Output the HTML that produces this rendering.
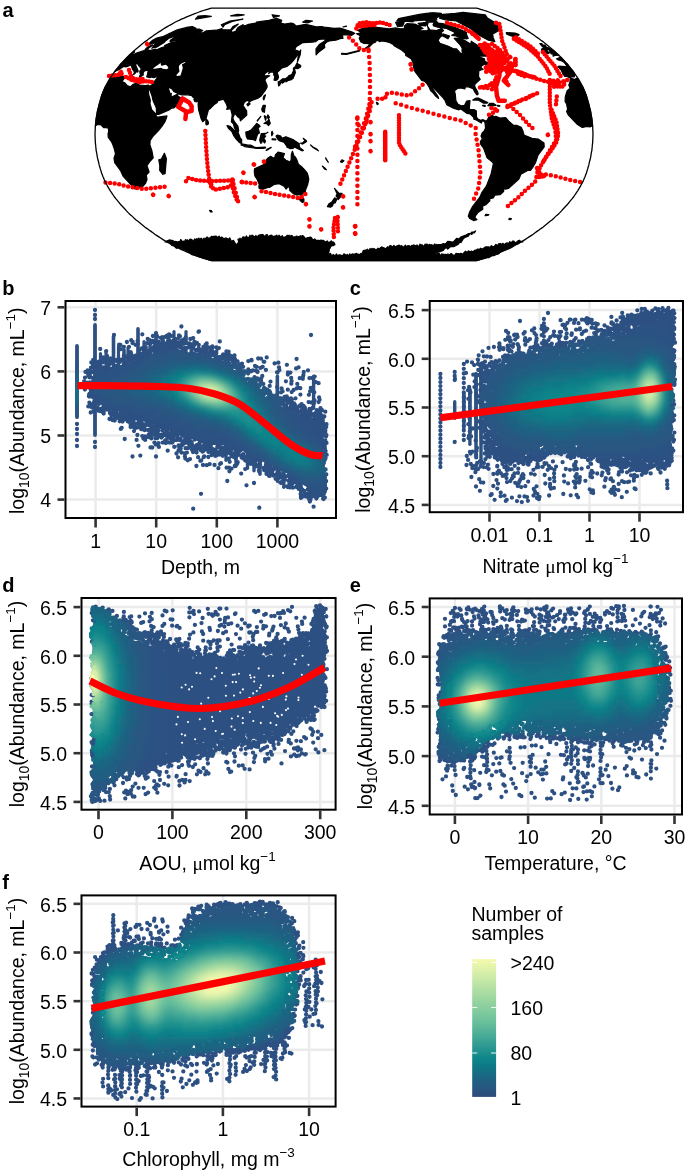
<!DOCTYPE html><html><head><meta charset="utf-8"><style>html,body{margin:0;padding:0;background:#fff;}svg{display:block;will-change:transform}</style></head><body><svg width="685" height="1176" viewBox="0 0 685 1176" font-family="Liberation Sans, sans-serif"><rect width="685" height="1176" fill="#fff"/><text x="2.5" y="17" font-size="20" font-weight="bold">a</text><text x="2.3" y="295.3" font-size="20" font-weight="bold">b</text><text x="349.7" y="295.3" font-size="20" font-weight="bold">c</text><text x="2.3" y="592" font-size="20" font-weight="bold">d</text><text x="349.7" y="592.3" font-size="20" font-weight="bold">e</text><text x="2.3" y="888.5" font-size="20" font-weight="bold">f</text><g id="map"><path d="M115.0,76.8 124.7,76.3 125.2,77.1 122.0,81.5 124.8,82.9 127.1,85.5 130.4,86.9 133.2,84.3 137.0,83.0 139.5,85.1 145.5,85.5 148.5,85.1 148.8,85.4 148.1,87.6 148.8,95.2 150.3,99.9 150.0,103.9 151.8,110.0 156.2,114.5 156.1,116.4 157.6,117.2 167.0,115.9 166.4,118.1 164.8,121.9 161.7,126.6 157.8,131.3 153.2,136.0 150.1,140.7 149.9,145.0 151.9,150.8 153.2,157.9 149.6,161.8 147.0,165.7 149.1,172.0 146.3,175.0 147.0,179.5 145.3,183.7 141.8,187.5 137.4,188.0 135.2,188.9 132.9,188.1 130.8,184.5 123.0,176.1 120.4,170.3 114.7,162.6 114.0,158.2 115.5,153.8 114.1,148.2 112.5,143.8 111.6,141.9 108.3,137.5 108.0,133.8 108.7,131.3 108.4,128.1 105.0,127.5 103.6,127.7 100.3,124.4 97.2,124.7 95.4,125.6 96.3,118.0 97.6,110.3 101.9,94.9 105.1,87.3 110.3,78.0ZM574.7,79.3 577.7,78.0 582.9,87.3 586.1,94.9 590.4,110.3 591.9,119.5 592.6,125.6 589.9,126.9 587.1,126.3 582.3,127.5 577.5,124.5 568.2,114.8 566.6,111.4 567.6,109.3 566.6,103.9 565.1,101.5 565.3,96.8 567.2,90.7 570.1,88.2 568.8,85.1 570.0,81.8 570.2,78.3ZM166.4,158.7 165.1,173.6 162.8,174.3 159.7,170.4 159.8,165.7 158.8,159.8 161.4,159.0 164.4,153.2ZM127.7,56.9 130.1,56.1 132.2,54.9 134.1,54.4 137.2,52.8 144.7,50.4 146.3,48.2 149.4,46.0 152.9,45.0 147.4,49.1 148.7,50.3 150.7,50.4 155.4,49.2 156.7,49.8 161.9,47.5 167.1,46.0 164.6,45.6 171.4,42.5 175.2,42.5 178.4,41.8 177.4,40.9 170.0,41.5 170.4,40.2 175.4,36.7 180.6,34.6 179.9,33.5 175.1,36.0 169.2,38.1 165.4,40.9 164.1,42.6 156.5,47.2 154.8,47.3 151.8,48.3 156.8,41.8 153.4,43.5 149.4,44.5 149.4,43.2 152.6,40.2 156.8,38.1 162.6,36.7 177.2,29.9 187.9,27.2 192.7,26.5 193.7,27.4 195.7,28.0 196.2,29.2 199.7,29.2 202.7,30.6 200.4,32.0 197.4,32.8 199.5,33.2 203.4,32.6 206.4,30.8 216.3,30.2 222.0,28.5 222.1,29.5 230.6,29.9 232.9,26.6 238.3,24.1 231.1,30.6 232.3,32.6 240.4,29.2 236.3,29.9 238.3,27.2 242.9,24.7 244.5,26.0 248.6,24.3 255.8,23.1 256.3,22.2 268.8,20.4 276.4,18.4 281.7,20.4 280.6,23.1 284.7,24.1 291.0,23.1 293.5,23.7 296.2,26.0 305.6,24.3 316.4,26.9 321.4,26.6 324.2,27.2 334.0,28.3 340.0,28.1 351.7,31.9 354.7,33.2 351.4,35.4 343.9,34.6 342.4,35.3 343.0,38.4 340.8,38.4 335.8,40.2 329.2,40.9 326.8,41.9 324.3,44.5 324.8,47.5 318.8,51.9 316.1,54.9 316.0,48.9 319.3,44.5 324.8,40.9 325.6,38.8 318.4,39.5 315.8,41.6 311.8,42.2 302.9,42.6 296.1,46.7 294.7,49.7 298.9,51.2 298.1,53.4 296.5,56.4 293.7,60.2 290.9,63.3 287.1,66.4 282.0,67.9 276.9,72.9 278.0,74.9 278.5,77.2 277.7,79.4 275.8,80.4 274.0,80.1 274.9,76.5 273.8,75.2 273.8,73.3 273.0,71.8 270.4,72.1 268.6,73.7 269.1,72.6 269.1,70.5 264.2,74.1 265.2,76.2 267.3,75.7 269.8,75.8 267.2,77.2 265.4,78.8 265.0,80.4 267.1,85.4 267.0,87.4 265.2,90.5 261.2,95.9 258.2,98.1 251.2,100.7 248.9,102.6 248.8,100.6 246.4,100.7 244.4,102.3 242.9,105.4 246.6,110.9 246.8,115.1 240.4,120.9 239.9,118.1 238.1,117.2 234.9,113.3 232.8,118.0 234.0,121.1 237.9,126.1 238.7,130.5 238.2,132.4 235.9,130.5 234.3,127.4 233.6,124.2 231.4,121.9 232.2,114.8 230.6,108.6 226.8,109.3 227.4,107.0 226.4,103.9 223.6,99.2 218.0,100.7 217.2,102.6 214.6,104.2 210.6,108.2 208.5,109.7 206.1,118.3 205.1,119.8 202.7,121.7 201.1,118.7 198.7,110.1 198.1,104.6 198.7,99.5 196.8,101.8 194.8,101.5 193.9,99.2 195.3,98.7 193.1,97.3 191.8,95.6 188.0,94.8 181.9,94.8 179.2,94.2 178.5,91.8 176.5,92.7 174.1,91.8 172.0,89.0 169.6,87.4 168.4,88.5 170.3,94.5 171.3,93.5 171.0,96.0 172.8,96.5 176.6,94.5 178.2,93.2 177.7,96.0 180.2,97.4 181.4,99.2 177.7,104.6 174.0,107.8 171.7,108.1 169.1,110.0 158.7,114.4 156.6,114.5 156.3,107.8 153.1,100.7 151.8,95.2 150.1,90.5 151.0,88.2 148.4,90.5 148.3,87.4 150.2,85.7 151.7,85.1 157.8,77.1 155.9,76.8 154.0,77.7 150.9,76.8 150.1,77.7 146.7,76.8 147.6,74.3 147.9,71.8 148.6,70.4 146.7,70.4 144.4,70.9 143.1,73.0 143.3,74.9 141.8,75.7 139.9,77.4 139.4,76.5 140.6,74.4 140.0,73.3 139.8,71.0 141.4,69.0 137.8,64.3 138.6,63.1 136.6,63.4 135.5,64.8 138.2,70.9 137.8,72.1 137.0,71.0 134.3,74.1 132.5,75.1 134.1,73.5 134.4,71.8 132.3,68.8 131.2,65.0 126.0,67.0 125.1,66.5 123.1,66.7 119.1,69.6 116.7,70.5 114.3,72.1 120.4,64.5ZM570.4,78.0 566.9,76.5 565.0,76.5 562.8,73.8 561.2,70.1 557.8,66.7 559.1,66.1 564.4,66.5 567.2,66.4 564.0,62.2 561.4,60.7 558.0,59.8 556.5,58.8 558.2,58.2 560.3,58.5 559.1,57.0 560.7,57.5 560.8,57.1 567.6,64.5 573.7,72.1 574.6,74.4 574.3,76.8 571.3,76.9ZM133.9,51.2 134.6,52.1 133.1,53.4 131.3,54.2 131.4,54.7 129.2,55.2ZM553.1,54.6 553.9,54.0 551.4,54.0 549.5,51.6 551.2,51.5 548.7,49.7 546.5,49.2 542.4,46.7 539.8,43.7 542.0,43.7 542.7,45.1 545.0,45.0 546.7,47.5 548.2,47.7 554.1,50.9 558.8,55.2 554.9,55.5 553.1,56.2ZM546.2,49.5 549.1,53.1 546.1,54.0 544.2,53.1 541.4,50.0 542.1,48.6 543.0,48.5ZM511.0,36.0 506.5,33.9 506.3,32.6 515.2,33.0 519.0,34.6 518.6,35.6 516.5,36.8ZM208.0,121.1 208.5,123.8 206.6,125.0 205.9,124.2 205.9,121.1 206.4,119.1ZM279.7,81.3 282.8,78.8 285.7,78.6 287.7,77.2 288.9,75.7 290.6,75.2 292.0,74.1 293.7,70.2 294.7,69.5 295.4,72.6 293.0,78.5 291.4,79.6 287.7,80.7 286.0,81.9 285.5,80.2ZM280.7,82.7 279.8,85.1 278.6,85.9 278.2,81.9 279.7,81.3ZM284.6,81.0 284.1,81.9 282.2,83.2 281.6,82.4 282.6,80.7ZM293.5,67.9 295.2,66.8 296.9,63.3 300.7,65.6 300.5,67.1 297.7,68.7 294.0,68.2 293.4,69.5ZM297.2,62.5 298.7,53.4 300.7,50.0 300.2,54.9ZM263.9,99.9 263.1,98.4 264.0,96.0 265.5,94.8ZM250.2,103.9 247.9,105.9 246.9,104.3 248.9,102.9ZM265.4,105.4 264.7,109.3 264.5,112.3 262.6,111.7 261.7,109.3 263.1,105.4ZM270.3,123.4 268.5,125.6 266.7,123.6 264.0,123.4 267.9,120.8 268.9,119.1ZM269.4,117.2 268.3,118.7 267.4,117.2 267.8,114.8ZM265.9,116.4 266.2,118.4 265.5,120.3 264.3,115.9ZM257.4,121.1 257.2,120.6 260.8,116.4 258.6,119.5ZM259.1,125.0 260.1,126.6 258.1,127.8 259.5,132.8 257.5,134.4 255.4,140.7 253.5,139.6 247.5,138.9 246.2,136.0 245.8,132.1 248.6,131.3 251.4,129.7 256.8,123.4ZM230.0,126.3 236.1,132.1 238.6,133.6 240.0,137.5 241.7,139.9 241.6,143.6 239.0,142.2 236.2,139.1 233.9,136.0 231.7,131.3 228.2,128.1 227.0,125.6ZM241.8,143.8 248.0,145.2 251.0,145.2 253.5,146.5 253.7,148.0 244.7,146.6 242.6,145.4 240.9,145.0ZM256.5,147.6 265.4,147.2 265.7,147.9 262.7,148.3 256.5,148.5 254.7,148.2 254.7,147.2ZM271.2,147.4 267.3,150.1 266.2,150.5 267.5,149.0ZM267.9,132.2 263.2,135.3 265.7,136.0 263.8,138.3 265.5,141.1 264.7,143.0 263.2,141.4 261.9,139.1 261.7,143.0 260.5,143.2 259.7,139.9 261.3,133.5 263.1,133.6 266.6,133.0ZM273.0,133.6 271.8,135.7 271.5,132.8 272.1,131.3ZM276.0,139.1 275.6,139.9 272.1,139.7 272.1,138.8ZM277.6,135.0 280.7,136.0 281.8,138.3 285.9,136.7 293.6,139.9 299.3,143.8 299.2,146.1 299.9,147.7 303.4,150.4 302.0,150.8 294.4,146.9 293.0,148.5 290.3,148.7 286.8,146.9 286.8,146.1 283.9,142.2 279.1,140.7 277.7,139.1 277.4,138.0 276.2,136.7 276.2,135.7ZM305.6,142.2 302.6,144.1 300.4,143.0 302.6,142.9 304.6,141.0ZM306.4,140.7 306.6,141.6 303.9,139.4 303.2,138.3ZM313.0,146.9 317.1,149.3 318.5,150.8 313.4,147.7 310.6,145.0ZM294.1,156.3 295.4,157.1 296.7,159.5 298.4,164.2 302.2,167.3 304.4,169.6 307.0,172.8 307.9,175.1 308.8,179.2 307.7,184.5 305.5,190.0 305.2,193.1 302.8,193.6 301.0,195.6 299.0,194.4 297.2,195.1 293.6,193.9 289.6,190.2 289.9,189.2 288.6,186.1 286.1,189.1 284.0,186.1 279.3,183.7 274.1,184.5 269.4,187.5 267.8,187.5 263.1,189.2 259.2,188.3 258.8,186.9 259.3,184.4 257.3,179.8 254.9,175.9 254.3,172.0 254.5,168.9 264.4,164.2 266.1,160.2 268.0,157.9 270.7,156.3 273.1,157.9 274.8,157.6 275.4,154.8 278.0,152.1 284.5,153.5 283.0,157.6 285.9,160.2 290.3,162.0 291.2,159.5 291.3,154.8 292.4,151.2ZM303.8,198.6 303.9,201.7 302.5,202.6 300.4,200.9 299.2,198.3ZM334.5,188.3 338.8,193.1 342.1,193.3 341.3,196.2 338.1,199.5 337.6,197.8 336.1,195.9 337.2,193.9ZM336.8,199.0 335.3,202.9 333.4,203.2 332.4,206.1 330.5,207.2 327.4,206.6 328.8,204.0 332.1,201.7 334.7,197.8ZM361.1,32.8 361.9,32.0 360.5,31.9 357.4,30.2 360.6,29.2 363.8,27.2 366.8,26.2 389.1,28.9 395.7,27.9 400.1,28.8 407.0,28.5 411.7,29.9 417.4,30.8 427.4,30.6 428.5,29.2 427.4,26.0 429.9,29.9 436.5,30.6 441.5,28.5 443.6,30.6 441.2,32.6 441.7,36.0 440.0,37.4 438.1,40.2 439.8,43.4 447.8,46.0 452.9,48.5 456.6,48.9 460.0,52.7 463.3,54.2 462.0,51.2 462.2,48.2 459.9,44.5 454.2,38.4 457.7,38.1 461.0,38.8 465.5,40.9 468.9,43.1 471.3,43.4 471.2,41.2 482.0,48.2 486.1,49.7 490.3,52.7 490.0,54.3 486.7,56.1 480.1,56.1 478.6,58.7 481.0,57.6 484.4,58.7 484.8,61.0 486.9,62.5 490.3,61.0 491.2,63.6 488.8,64.7 486.9,66.4 485.5,64.8 485.2,63.7 481.2,66.2 481.2,67.9 483.0,69.3 480.8,69.9 478.8,71.0 478.5,76.6 480.2,79.3 474.8,84.3 474.8,86.8 477.3,91.3 478.2,94.0 477.0,94.9 474.8,92.1 473.1,88.8 468.0,86.8 465.3,86.8 464.9,89.0 461.0,88.0 457.4,88.5 454.5,90.9 455.3,94.5 455.9,100.7 458.0,104.3 461.2,105.9 464.5,105.4 466.7,101.0 470.0,100.7 469.2,109.7 473.9,109.5 476.4,110.9 476.5,117.2 477.6,118.7 480.4,120.3 483.1,119.7 485.4,120.8 485.0,122.8 484.2,121.4 482.5,120.5 481.3,123.1 476.3,120.0 473.9,119.1 473.6,117.2 470.3,114.0 466.8,113.3 460.9,109.0 458.2,109.8 453.4,108.1 446.7,104.6 445.2,100.7 443.4,98.1 433.2,87.4 430.2,85.1 437.9,96.3 438.6,98.5 435.6,96.0 433.1,92.9 430.8,90.9 429.3,87.4 426.8,83.5 424.5,81.2 421.7,80.4 414.7,71.2 413.6,67.1 412.9,62.2 411.1,58.8 405.8,55.6 405.5,53.4 401.6,50.0 394.5,46.0 392.8,44.2 388.9,42.3 386.5,41.6 381.9,40.9 379.4,41.6 376.9,39.9 375.4,42.3 373.0,43.1 368.6,47.5 363.1,49.2 365.3,48.2 368.4,46.0 369.7,43.7 364.1,43.5 360.6,41.6 359.1,38.1 360.5,36.7 359.3,35.3 356.5,33.8ZM442.6,23.7 449.1,25.3 454.6,27.2 466.6,32.4 466.3,33.9 468.2,38.4 466.9,38.8 462.0,38.1 456.0,36.0 451.7,35.3 454.8,33.9 454.0,31.9 446.5,28.5 437.8,27.2 433.7,26.0 433.0,24.7 433.8,23.4 438.2,23.1ZM404.3,27.2 404.5,26.0 406.9,23.7 414.8,24.1 419.1,26.0 423.0,28.5 418.8,29.9 405.8,29.2ZM395.6,22.3 399.5,22.4 404.2,22.6 402.6,26.1 397.4,26.3ZM425.2,19.2 420.9,16.9 420.1,14.8 430.0,13.0 438.9,13.4 438.5,15.8 436.4,18.1 435.7,20.4ZM426.2,21.8 425.9,19.8 433.2,19.8 437.8,22.2ZM413.1,21.8 407.3,21.5 401.8,20.4 407.2,19.2 413.3,21.0ZM418.3,16.9 417.6,14.8 422.4,15.3 426.6,18.1ZM425.1,24.7 423.5,22.6 428.2,22.6 427.3,25.3ZM420.1,25.3 418.1,23.4 422.3,22.8 425.4,26.0ZM442.7,36.0 442.8,33.9 449.6,36.0 448.0,38.8ZM488.4,40.2 474.6,32.6 471.7,29.2 456.3,21.0 445.4,19.8 439.5,18.1 441.1,15.8 443.0,14.4 455.4,13.4 463.2,12.4 485.3,14.8 487.4,18.1 493.2,21.5 497.1,25.3 500.6,27.9 499.7,29.9 494.2,33.2 492.7,33.8 493.1,37.4 494.8,41.6ZM493.2,117.2 495.9,116.4 499.8,118.0 505.7,117.6 508.7,121.1 513.1,125.0 516.6,125.3 521.3,127.4 523.0,131.3 523.8,134.4 524.5,135.2 532.0,138.3 538.2,139.1 544.0,143.0 544.2,146.9 538.2,154.8 535.5,162.6 532.8,167.3 530.4,170.4 527.7,170.4 520.9,174.3 518.9,179.0 508.6,188.4 505.5,189.1 503.0,188.4 503.7,190.0 503.6,191.6 500.0,194.7 494.9,195.1 493.4,197.8 489.8,198.6 489.8,200.9 485.8,204.8 482.6,206.3 482.8,209.3 477.9,212.4 475.5,215.8 474.9,217.6 477.0,219.6 473.6,220.6 469.7,218.4 468.3,216.1 469.5,212.4 472.7,206.3 479.7,197.4 482.0,192.3 486.4,186.1 491.1,174.0 492.9,166.0 493.4,163.4 492.1,161.8 487.1,157.9 483.7,148.5 480.5,143.8 480.4,141.4 482.4,138.9 481.0,136.0 482.3,132.8 483.9,131.6 485.6,128.1 485.0,122.7 487.5,119.5 488.7,117.2 492.7,115.0ZM478.4,98.1 485.0,101.2 487.8,102.6 486.7,103.2 483.3,103.1 478.0,99.9 472.8,100.1 475.8,98.2ZM493.5,103.4 496.1,105.3 492.5,105.9 487.9,105.7 489.7,103.4ZM485.2,105.4 485.1,106.4 483.0,105.9 482.5,105.4ZM499.8,105.6 499.7,106.2 497.7,106.2 497.6,105.4ZM496.4,57.2 499.3,60.2 499.5,61.4 495.2,60.1 491.2,60.1 490.8,55.6 491.7,54.0ZM198.3,16.0 205.0,15.7 211.4,16.3 195.5,19.2ZM221.3,24.7 229.9,21.0 242.9,19.2 232.2,21.5 224.6,24.7 223.0,27.2ZM272.1,14.8 275.8,15.3 279.5,15.8 273.5,17.5ZM305.5,20.4 309.0,20.7 312.6,21.0 308.1,22.8 302.7,22.2ZM346.0,26.0 346.4,26.3 343.0,26.9 344.5,26.6ZM398.6,18.6 419.5,14.4 426.6,13.4 433.9,12.9 441.4,13.4 442.1,14.8 436.4,18.1 436.8,19.8 426.1,20.0 407.3,21.5 401.7,21.5 396.7,21.0ZM211.3,210.7 212.2,211.8 210.5,211.9 209.6,210.4ZM325.0,168.1 326.4,169.8 324.4,168.9 322.3,166.0ZM325.6,157.9 328.3,162.3 326.2,159.5ZM343.9,160.9 342.1,162.4 340.3,161.8 341.9,159.9ZM488.9,214.5 487.8,215.5 485.1,215.7 485.7,214.4ZM377.7,103.1 378.3,103.9 377.2,104.6 376.4,102.4ZM359.8,51.0 346.4,54.4 341.6,54.2 341.6,53.4 346.4,53.7 359.7,50.4ZM237.4,14.4 244.2,14.8 237.9,16.0 230.6,15.8ZM511.4,218.7 510.7,219.7 508.8,219.3 509.3,218.4ZM175.0,241.3 177.9,242.0 178.8,241.5 179.8,241.9 180.7,239.5 182.7,241.9 183.6,241.1 184.6,241.7 185.5,239.6 186.4,240.5 187.3,239.8 188.2,240.5 189.1,240.5 190.0,239.0 191.9,239.6 192.8,241.1 193.7,240.7 194.6,239.0 195.4,240.6 196.3,238.7 197.2,239.9 198.0,238.5 198.9,238.1 199.8,240.2 200.7,238.4 201.6,238.3 202.4,240.2 203.2,239.7 204.0,238.0 204.8,239.5 205.6,238.2 206.3,238.4 207.1,236.9 207.9,238.7 208.7,237.8 209.5,238.3 210.3,237.9 211.4,236.4 212.5,236.7 215.8,236.1 218.0,237.6 219.1,236.1 220.2,238.0 221.3,237.2 222.5,237.3 223.7,238.8 226.1,237.9 228.5,239.3 229.7,237.8 231.5,241.5 233.4,240.3 235.3,243.5 237.1,245.0 237.9,242.8 238.7,244.8 239.6,243.7 239.0,243.0 238.0,239.1 238.6,239.0 239.2,240.5 239.9,238.1 240.5,239.1 241.1,239.1 241.8,238.7 242.7,237.0 243.6,236.9 245.4,237.8 246.3,235.9 247.2,237.4 249.1,237.4 250.0,235.2 251.0,237.4 251.9,235.1 254.9,237.0 255.9,235.5 256.9,236.9 258.9,235.2 261.9,234.5 263.0,234.7 265.1,237.0 266.1,234.8 267.2,234.5 268.2,237.0 269.3,235.9 271.4,235.1 273.6,236.8 274.6,236.0 275.7,235.9 276.8,235.1 277.9,237.4 279.0,235.2 281.1,237.4 282.2,235.7 283.2,237.2 284.2,237.6 285.1,236.7 286.1,237.1 287.1,235.2 288.1,236.0 289.1,235.2 290.1,236.9 291.1,235.4 292.1,235.7 293.2,237.2 294.3,236.9 295.3,237.3 296.4,236.0 298.5,236.8 300.6,235.8 301.7,236.2 302.7,235.6 303.8,236.4 305.0,238.3 306.1,238.4 307.2,237.8 310.4,237.1 311.5,237.8 312.6,239.4 313.7,239.9 314.7,238.8 315.8,240.1 318.9,240.4 320.0,240.8 321.0,240.0 322.1,241.1 323.1,240.2 325.1,241.8 326.2,241.8 327.2,240.9 328.2,242.8 329.2,242.1 330.2,242.1 331.2,240.8 332.2,242.4 333.2,241.8 334.5,243.2 334.9,244.9 333.9,245.0 333.0,245.9 332.2,245.2 330.4,247.2 329.9,248.5 329.5,248.2 329.0,251.8 327.8,254.7 328.7,253.8 329.6,254.0 330.5,253.3 331.4,255.3 332.3,255.6 333.1,254.5 334.0,255.1 335.6,255.3 336.5,253.9 337.3,255.5 338.2,255.0 339.0,255.3 339.8,254.7 341.5,255.6 342.3,255.3 343.2,255.5 344.0,253.7 346.5,255.4 347.3,254.3 348.2,255.5 349.0,255.4 349.8,253.9 350.6,255.0 352.3,253.9 354.0,254.4 356.6,253.3 357.4,254.3 358.3,254.0 359.2,254.5 360.0,254.3 360.9,253.3 362.0,254.1 363.2,250.6 365.4,250.0 366.3,250.2 367.3,249.2 368.2,250.9 370.1,248.5 371.1,249.9 372.0,248.3 373.0,249.3 374.0,248.6 376.0,249.9 377.0,249.4 378.0,248.2 379.0,249.0 381.9,246.8 382.9,247.9 383.9,247.7 384.9,248.6 385.9,248.5 387.9,246.6 388.9,247.9 389.9,245.5 390.9,245.6 391.9,246.7 392.8,246.8 393.8,245.4 395.8,247.2 396.8,245.8 397.8,245.8 398.8,245.2 399.8,245.3 400.8,247.0 401.7,245.5 402.6,247.0 403.6,246.9 405.4,245.2 406.4,247.1 407.3,245.9 409.1,245.5 410.1,247.3 411.1,245.9 412.0,245.3 413.0,245.7 414.0,244.8 415.0,246.0 417.0,245.0 418.0,246.2 419.0,246.3 420.0,244.1 421.0,245.4 422.0,244.6 423.0,246.3 424.0,245.8 425.0,244.4 427.0,244.0 428.1,246.1 429.1,244.3 430.1,245.0 431.0,244.7 433.8,245.5 434.7,243.9 435.7,245.6 436.6,244.4 437.5,245.0 438.5,244.5 440.7,244.7 443.4,243.5 444.8,244.1 446.2,243.2 447.7,241.3 450.7,241.5 452.2,242.2 453.7,241.6 456.6,238.3 458.9,239.0 461.2,236.7 465.2,235.4 468.6,233.5 470.3,233.9 471.7,232.2 473.0,232.0 474.3,232.9 475.6,230.9 473.5,232.3 471.8,234.5 470.0,233.4 468.3,236.3 465.0,237.4 463.5,238.4 460.9,242.6 459.7,241.9 458.6,244.0 456.1,245.5 453.7,246.6 450.7,246.6 447.7,249.1 446.2,247.6 444.8,248.5 443.3,250.4 441.3,251.3 439.4,252.0 437.5,251.4 435.7,254.1 436.9,255.0 438.1,252.8 438.7,255.0 439.3,253.5 440.5,255.6 441.2,255.1 441.9,253.7 442.5,254.2 443.2,255.9 443.9,254.0 444.5,255.3 445.9,254.3 446.5,255.6 447.2,254.2 448.3,254.2 449.4,254.8 450.4,253.8 451.5,253.7 452.6,254.9 454.8,255.4 456.0,253.3 457.1,253.9 458.2,253.5 459.6,253.9 461.0,253.4 462.5,254.2 465.5,251.2 467.0,252.5 468.5,250.8 470.0,251.7 471.5,251.0 473.0,251.7 474.5,250.4 476.0,250.2 477.6,249.0 479.1,249.4 480.7,248.2 482.2,249.2 485.4,246.9 488.5,246.9 489.9,247.5 491.4,245.7 492.9,246.7 494.4,246.2 495.9,244.4 497.4,245.5 498.9,243.7 500.3,243.5 501.6,244.5 503.0,243.3 504.3,244.8 505.7,243.5 507.0,242.8 508.4,243.8 509.8,241.6 511.2,243.2 512.5,241.2 513.9,241.2 515.3,243.1 518.1,240.7 519.5,240.2 520.9,242.2 521.9,241.4 522.9,241.8 520.7,241.3 518.4,243.8 513.9,245.3 509.0,248.7 506.4,249.2 503.9,250.4 501.3,250.9 498.7,253.9 496.3,254.4 493.8,255.7 491.4,255.7 488.9,257.7 486.5,257.7 476.5,260.7 211.5,260.7 194.2,255.1 191.7,254.6 186.7,250.8 184.1,249.5 181.6,248.8 179.0,247.2 176.4,248.3 174.1,245.9 171.9,245.4 169.6,242.2 165.1,241.9 167.1,240.7 168.1,240.8 169.1,239.9 173.0,240.6 174.0,241.9Z" fill="#000" stroke="#000" stroke-width="1.2" stroke-linejoin="round"/><path d="M153.0,69.1 161.2,67.8 162.6,68.8 166.3,69.3 168.4,68.2 167.9,66.7 166.0,64.7 161.9,65.8 161.3,65.7 160.6,63.7 160.9,62.8 154.2,67.5ZM185.6,62.0 184.5,61.9 180.8,64.0 179.4,65.3 178.8,67.2 179.5,71.4 176.2,75.3 177.3,75.9 180.5,75.6 182.8,67.9 181.9,64.5 184.2,63.3Z" fill="#fff"/><g fill="none" stroke="#ff0000" stroke-width="4.5" stroke-linecap="round" stroke-linejoin="round"><path d="M109.0,76.0 117.0,75.0 124.0,73.5" stroke-dasharray="0 3.2"/><path d="M126.0,77.0 132.0,80.0 140.0,82.0 147.0,81.0 152.0,82.0" stroke-dasharray="0 3.0"/><path d="M130.0,78.0 137.0,79.5 144.0,79.0" stroke-dasharray="0 3.2"/><path d="M129.0,70.0 131.0,76.0 134.0,79.0" stroke-dasharray="0 3.0"/><path d="M120.0,73.0 121.0,72.0" stroke-dasharray="none"/><path d="M147.0,44.0 147.5,44.5" stroke-dasharray="none"/><path d="M182.5,98.5 189.1,102.5 191.6,106.2 191.6,110.9 186.9,112.0 178.1,106.9 180.3,103.2 182.5,98.5" stroke-dasharray="none"/><path d="M186.2,112.0 185.4,118.9" stroke-dasharray="none"/><path d="M205.3,131.0 206.0,145.0 207.0,160.0 208.0,170.0 209.5,181.0 211.8,189.0" stroke-dasharray="0 4.0"/><path d="M105.5,182.6 116.0,183.5 125.4,185.9 134.7,187.7 144.0,189.0 151.0,188.2 165.0,186.6" stroke-dasharray="0 4.6"/><path d="M153.0,194.7 153.2,194.9" stroke-dasharray="none"/><path d="M168.6,196.0 168.8,196.2" stroke-dasharray="none"/><path d="M186.0,181.2 188.4,178.0 197.8,180.3 209.5,181.2 232.8,180.3" stroke-dasharray="0 4.0"/><path d="M232.8,180.3 233.0,190.0 237.5,201.8" stroke-dasharray="0 4.0"/><path d="M209.5,181.0 214.0,190.0 230.5,186.6 232.8,180.0" stroke-dasharray="0 4.0"/><path d="M243.3,172.6 243.5,172.8" stroke-dasharray="none"/><path d="M242.0,182.0 242.2,182.2" stroke-dasharray="none"/><path d="M253.8,164.4 254.0,164.6" stroke-dasharray="none"/><path d="M263.9,161.6 264.0,161.8" stroke-dasharray="none"/><path d="M241.7,181.9 255.7,183.5" stroke-dasharray="0 4.5"/><path d="M261.5,191.2 276.7,194.3 290.7,196.6 300.0,198.3 305.9,193.6" stroke-dasharray="0 4.6"/><path d="M305.9,204.0 306.0,204.2" stroke-dasharray="none"/><path d="M254.5,197.0 254.7,197.2" stroke-dasharray="none"/><path d="M232.3,179.6 238.2,201.8" stroke-dasharray="0 4.5"/><path d="M371.6,102.2 368.3,115.3 362.8,130.7 356.3,146.0 350.8,159.1 345.3,172.3 338.8,187.6" stroke-dasharray="0 4.6"/><path d="M369.5,104.0 366.0,118.0 360.5,133.0 354.5,148.0" stroke-dasharray="0 5.0"/><path d="M335.0,218.0 333.5,228.0 334.0,240.0" stroke-dasharray="0 3.2"/><path d="M337.5,221.0 338.0,233.0" stroke-dasharray="0 3.4"/><path d="M357.4,117.5 357.4,205.5" stroke-dasharray="0 6.2"/><path d="M355.2,226.0 355.3,226.2" stroke-dasharray="none"/><path d="M355.2,233.6 355.3,233.8" stroke-dasharray="none"/><path d="M370.5,122.0 370.6,122.2" stroke-dasharray="none"/><path d="M370.5,134.0 370.6,134.2" stroke-dasharray="none"/><path d="M370.5,141.0 370.6,141.2" stroke-dasharray="none"/><path d="M370.5,151.0 370.6,151.2" stroke-dasharray="none"/><path d="M385.2,131.7 385.2,160.2" stroke-dasharray="none"/><path d="M399.0,115.3 399.0,143.8 405.5,153.6" stroke-dasharray="0 2.5"/><path d="M395.7,103.3 411.0,107.7 435.1,114.2 461.4,120.8 476.7,128.5" stroke-dasharray="0 5.6"/><path d="M475.6,134.0 478.5,149.9 479.5,161.2 480.4,172.6 478.5,187.8 473.8,199.2" stroke-dasharray="0 5.5"/><path d="M343.1,196.3 343.2,196.5" stroke-dasharray="none"/><path d="M343.0,207.3 343.1,207.5" stroke-dasharray="none"/><path d="M337.7,217.1 337.8,217.3" stroke-dasharray="none"/><path d="M309.4,219.3 309.5,219.5" stroke-dasharray="none"/><path d="M309.4,226.3 309.5,226.5" stroke-dasharray="none"/><path d="M321.1,229.3 321.2,229.5" stroke-dasharray="none"/><path d="M355.0,226.3 355.1,226.5" stroke-dasharray="none"/><path d="M355.0,233.3 355.1,233.5" stroke-dasharray="none"/><path d="M368.6,51.0 369.6,63.0 370.0,80.0 370.0,93.0 369.6,102.0 370.0,110.0 367.4,117.0 365.9,123.6 363.7,128.0" stroke-dasharray="0 6.0"/><path d="M357.2,118.5 357.3,118.7" stroke-dasharray="none"/><path d="M358.6,125.0 358.7,125.2" stroke-dasharray="none"/><path d="M349.1,37.5 354.2,41.9 360.0,49.2 366.6,50.7 371.8,47.7" stroke-dasharray="0 5.0"/><path d="M356.3,28.4 358.4,23.3 366.6,22.3 372.0,23.5 380.9,22.3 391.0,25.3" stroke-dasharray="0 3.4"/><path d="M360.0,26.5 368.0,25.5 376.0,25.0" stroke-dasharray="0 3.6"/><path d="M377.6,98.8 384.9,98.8 386.4,94.5" stroke-dasharray="0 4.5"/><path d="M387.0,93.8 392.1,92.8 398.2,93.8 409.5,95.8 414.6,91.7 419.7,87.7 422.8,84.6" stroke-dasharray="0 5.0"/><path d="M410.5,64.2 410.6,64.4" stroke-dasharray="none"/><path d="M411.5,69.3 411.6,69.5" stroke-dasharray="none"/><path d="M447.0,22.8 463.4,27.5 470.4,32.2 478.5,38.0" stroke-dasharray="0 4.0"/><path d="M471.8,32.6 478.8,38.8" stroke-dasharray="none"/><path d="M496.0,22.8 499.6,24.0 502.0,40.4 507.7,56.7" stroke-dasharray="0 3.5"/><path d="M513.8,38.8 527.8,47.5 538.0,56.7 546.3,67.2 549.8,74.2" stroke-dasharray="0 3.0"/><path d="M516.0,37.5 530.0,46.0 540.0,55.5" stroke-dasharray="0 3.4"/><path d="M542.8,52.0 554.5,66.0 561.5,77.7" stroke-dasharray="0 3.0"/><path d="M510.0,69.6 521.8,73.0 533.4,77.7 545.0,81.2 556.8,83.6 567.3,80.0" stroke-dasharray="0 4.0"/><path d="M549.8,80.0 549.8,103.4 552.0,119.8 555.6,130.0" stroke-dasharray="0 3.2"/><path d="M551.6,110.0 556.4,121.4 558.3,134.7 556.4,142.3 551.6,149.9 545.9,157.4 541.2,165.0 537.4,172.6" stroke-dasharray="0 3.4"/><path d="M555.0,124.0 556.0,140.0 549.0,152.0 543.0,162.0" stroke-dasharray="0 4.0"/><path d="M537.4,172.6 535.5,181.2 530.7,185.9 525.0,190.7 519.3,196.4 512.7,202.0 506.0,207.7" stroke-dasharray="0 4.6"/><path d="M537.0,168.0 540.0,174.0 544.0,176.0 538.0,177.0" stroke-dasharray="none"/><path d="M556.8,96.4 555.6,108.0" stroke-dasharray="0 4.0"/><path d="M499.5,75.4 496.0,86.8 496.9,95.5 498.6,100.8 504.8,100.8" stroke-dasharray="none"/><path d="M511.8,70.0 503.9,80.6 508.3,85.0" stroke-dasharray="none"/><path d="M515.3,71.0 521.4,72.8 529.3,76.3 534.5,77.1" stroke-dasharray="none"/><path d="M480.0,87.5 488.0,88.0" stroke-dasharray="0 3.8"/><path d="M491.6,83.3 491.8,83.5" stroke-dasharray="none"/><path d="M507.4,106.9 520.5,100.8" stroke-dasharray="0 3.6"/><path d="M525.8,99.0 535.0,93.8" stroke-dasharray="0 3.6"/><path d="M510.0,57.0 510.2,57.2" stroke-dasharray="none"/><path d="M515.3,59.6 515.3,64.9" stroke-dasharray="none"/><path d="M496.3,77.3 493.6,84.3 491.9,89.5" stroke-dasharray="0 3.2"/><path d="M505.0,79.0 507.7,84.3" stroke-dasharray="0 3.2"/><path d="M518.2,73.8 527.0,77.3" stroke-dasharray="0 3.4"/><path d="M515.5,58.9 515.5,65.0" stroke-dasharray="0 3.0"/><path d="M486.0,47.0 494.0,57.0 502.0,66.0 508.0,72.0" stroke-dasharray="0 3.4"/><path d="M480.0,45.0 488.0,55.0 490.0,64.0 486.0,72.0" stroke-dasharray="0 3.4"/><path d="M492.0,44.0 500.0,50.0 506.0,58.0" stroke-dasharray="0 3.4"/><path d="M482.0,87.0 491.4,84.7" stroke-dasharray="0 4.0"/><path d="M507.7,105.8 524.0,98.8 540.4,91.8" stroke-dasharray="0 4.0"/><path d="M510.0,106.0 520.0,115.0 528.0,124.0 534.5,130.0" stroke-dasharray="0 4.5"/><path d="M491.4,108.0 498.4,110.4" stroke-dasharray="0 4.0"/><path d="M489.0,114.7 498.5,110.0" stroke-dasharray="0 4.5"/><path d="M545.9,174.5 557.3,176.4 566.8,179.3 583.0,182.5" stroke-dasharray="0 5.0"/><path d="M547.8,134.7 547.9,134.9" stroke-dasharray="none"/></g><path d="M494.5 52.8h0M497.0 59.9h0M488.4 45.2h0M497.9 64.5h0M484.7 50.4h0M500.2 63.0h0M489.2 48.1h0M492.2 56.3h0M493.3 53.5h0M501.0 69.6h0M500.2 59.1h0M497.8 55.1h0M494.0 51.4h0M492.8 52.8h0M487.6 53.3h0M494.2 62.4h0M501.3 64.4h0M484.7 43.4h0M482.4 47.1h0M494.3 58.2h0M496.1 57.6h0M499.4 57.7h0M495.2 60.5h0M501.7 60.1h0M498.1 59.8h0M483.9 47.5h0M494.7 57.5h0M484.9 52.1h0M487.2 48.4h0M485.0 45.5h0M507.3 70.3h0M494.6 57.1h0M492.0 60.4h0M488.4 49.4h0M482.6 45.0h0M483.6 50.0h0M506.3 69.0h0M505.7 68.7h0M490.6 49.2h0M498.3 56.3h0M489.5 55.4h0M498.5 58.5h0M492.9 51.4h0M494.1 59.6h0M502.6 67.6h0M483.1 46.3h0M486.4 44.8h0M491.7 49.8h0M490.7 53.2h0M490.1 64.7h0M509.3 63.7h0M509.2 66.3h0M510.4 68.1h0M492.6 53.4h0M497.6 66.3h0M505.9 58.3h0M501.8 63.1h0M490.2 68.7h0M500.2 71.7h0M504.2 60.2h0M511.2 67.2h0M498.9 51.5h0M507.6 59.6h0M498.0 65.2h0M509.9 68.4h0M499.9 72.4h0M500.1 66.1h0M501.3 54.8h0M506.8 60.9h0M501.1 54.8h0M503.7 62.6h0M501.3 70.3h0M507.1 72.1h0M493.0 61.6h0M490.1 70.4h0M492.1 64.7h0M493.7 70.4h0M490.8 50.4h0M498.0 53.0h0M493.7 55.4h0M490.0 65.3h0M502.9 57.8h0M510.6 63.3h0M485.8 67.8h0M490.9 51.1h0M504.9 58.6h0M500.6 66.9h0M487.1 66.9h0M499.2 70.3h0M495.2 65.9h0M499.4 71.4h0M493.8 61.0h0M493.1 69.1h0M499.9 67.9h0M508.0 66.3h0M497.7 51.6h0M503.1 69.2h0M503.0 60.2h0M495.9 72.7h0M501.2 54.8h0M502.1 59.1h0M492.7 73.3h0M490.2 71.2h0M499.8 65.9h0M489.0 67.9h0M498.2 65.7h0M498.3 68.0h0M503.0 57.5h0M504.1 68.6h0M498.0 64.2h0M502.8 61.4h0M506.8 67.4h0M501.5 62.8h0M489.2 65.5h0M504.5 62.9h0M511.3 63.9h0M512.0 66.8h0M499.3 60.6h0M499.5 68.4h0M495.4 68.5h0M504.5 57.6h0M498.4 71.2h0M494.1 66.8h0M492.2 69.1h0M560.1 86.5h0M552.0 83.3h0M557.8 86.5h0M557.8 80.3h0M554.1 86.7h0M564.2 84.6h0M564.0 82.3h0M558.2 82.3h0M553.4 80.7h0M562.4 86.5h0M554.8 83.0h0M554.3 85.7h0M558.4 84.3h0M557.1 85.7h0M555.0 82.0h0" stroke="#ff0000" stroke-width="4.5" stroke-linecap="round" fill="none"/><path d="M476.5,8.1 L478.5,8.7 L480.5,9.3 L482.5,9.9 L484.5,10.5 L486.5,11.1 L488.9,12.0 L491.4,13.0 L493.8,13.9 L496.3,14.8 L498.7,15.8 L501.3,16.9 L503.9,18.1 L506.5,19.2 L509.0,20.4 L511.6,21.5 L513.9,22.8 L516.1,24.1 L518.4,25.3 L520.7,26.6 L522.9,27.9 L525.0,29.2 L527.0,30.6 L529.1,31.9 L531.1,33.2 L533.2,34.6 L535.1,36.0 L537.0,37.4 L539.0,38.8 L540.9,40.2 L542.9,41.6 L544.7,43.1 L546.5,44.5 L548.3,46.0 L550.1,47.5 L551.9,48.9 L553.6,50.4 L555.2,51.9 L556.8,53.4 L558.5,54.9 L560.1,56.4 L561.5,57.9 L562.9,59.5 L564.3,61.0 L565.7,62.5 L567.2,64.0 L568.4,65.6 L569.7,67.1 L570.9,68.7 L572.2,70.2 L573.5,71.8 L574.5,73.3 L575.6,74.9 L576.6,76.5 L577.7,78.0 L578.7,79.6 L579.6,81.2 L580.5,82.7 L581.3,84.3 L582.2,85.9 L583.0,87.4 L583.7,89.0 L584.3,90.5 L585.0,92.1 L585.6,93.7 L586.3,95.2 L586.7,96.8 L587.2,98.4 L587.7,99.9 L588.1,101.5 L588.6,103.1 L589.0,104.6 L589.3,106.2 L589.7,107.8 L590.1,109.3 L590.5,110.9 L590.8,112.5 L591.0,114.0 L591.3,115.6 L591.6,117.2 L591.9,118.7 L592.0,120.3 L592.2,121.9 L592.3,123.4 L592.5,125.0 L592.7,126.6 L592.7,128.1 L592.8,129.7 L592.9,131.3 L592.9,132.8 L593.0,134.4 L592.9,136.0 L592.9,137.5 L592.8,139.1 L592.7,140.7 L592.7,142.2 L592.5,143.8 L592.3,145.4 L592.2,146.9 L592.0,148.5 L591.9,150.1 L591.6,151.6 L591.3,153.2 L591.0,154.8 L590.8,156.3 L590.5,157.9 L590.1,159.5 L589.7,161.0 L589.3,162.6 L589.0,164.2 L588.6,165.7 L588.1,167.3 L587.7,168.9 L587.2,170.4 L586.7,172.0 L586.3,173.6 L585.6,175.1 L585.0,176.7 L584.3,178.3 L583.7,179.8 L583.0,181.4 L582.2,182.9 L581.3,184.5 L580.5,186.1 L579.6,187.6 L578.7,189.2 L577.7,190.8 L576.6,192.3 L575.6,193.9 L574.5,195.5 L573.5,197.0 L572.2,198.6 L570.9,200.1 L569.7,201.7 L568.4,203.2 L567.2,204.8 L565.7,206.3 L564.3,207.8 L562.9,209.3 L561.5,210.9 L560.1,212.4 L558.5,213.9 L556.8,215.4 L555.2,216.9 L553.6,218.4 L551.9,219.9 L550.1,221.3 L548.3,222.8 L546.5,224.3 L544.7,225.7 L542.9,227.2 L540.9,228.6 L539.0,230.0 L537.0,231.4 L535.1,232.8 L533.2,234.2 L531.1,235.6 L529.1,236.9 L527.0,238.2 L525.0,239.6 L522.9,240.9 L520.7,242.2 L518.4,243.5 L516.1,244.7 L513.9,246.0 L511.6,247.3 L509.0,248.4 L506.5,249.6 L503.9,250.7 L501.3,251.9 L498.7,253.0 L496.3,254.0 L493.8,254.9 L491.4,255.8 L488.9,256.8 L486.5,257.7 L484.5,258.3 L482.5,258.9 L480.5,259.5 L478.5,260.1 L476.5,260.7 L211.5,260.7 L209.5,260.1 L207.5,259.5 L205.5,258.9 L203.5,258.3 L201.5,257.7 L199.1,256.8 L196.6,255.8 L194.2,254.9 L191.7,254.0 L189.3,253.0 L186.7,251.9 L184.1,250.7 L181.5,249.6 L179.0,248.4 L176.4,247.3 L174.1,246.0 L171.9,244.7 L169.6,243.5 L167.3,242.2 L165.1,240.9 L163.0,239.6 L161.0,238.2 L158.9,236.9 L156.9,235.6 L154.8,234.2 L152.9,232.8 L151.0,231.4 L149.0,230.0 L147.1,228.6 L145.1,227.2 L143.3,225.7 L141.5,224.3 L139.7,222.8 L137.9,221.3 L136.1,219.9 L134.4,218.4 L132.8,216.9 L131.2,215.4 L129.5,213.9 L127.9,212.4 L126.5,210.9 L125.1,209.3 L123.7,207.8 L122.3,206.3 L120.8,204.8 L119.6,203.2 L118.3,201.7 L117.1,200.1 L115.8,198.6 L114.5,197.0 L113.5,195.5 L112.4,193.9 L111.4,192.3 L110.3,190.8 L109.3,189.2 L108.4,187.6 L107.5,186.1 L106.7,184.5 L105.8,182.9 L105.0,181.4 L104.3,179.8 L103.7,178.3 L103.0,176.7 L102.4,175.1 L101.7,173.6 L101.3,172.0 L100.8,170.4 L100.3,168.9 L99.9,167.3 L99.4,165.7 L99.0,164.2 L98.7,162.6 L98.3,161.0 L97.9,159.5 L97.5,157.9 L97.2,156.3 L97.0,154.8 L96.7,153.2 L96.4,151.6 L96.1,150.1 L96.0,148.5 L95.8,146.9 L95.7,145.4 L95.5,143.8 L95.3,142.2 L95.3,140.7 L95.2,139.1 L95.1,137.5 L95.1,136.0 L95.0,134.4 L95.1,132.8 L95.1,131.3 L95.2,129.7 L95.3,128.1 L95.3,126.6 L95.5,125.0 L95.7,123.4 L95.8,121.9 L96.0,120.3 L96.1,118.7 L96.4,117.2 L96.7,115.6 L97.0,114.0 L97.2,112.5 L97.5,110.9 L97.9,109.3 L98.3,107.8 L98.7,106.2 L99.0,104.6 L99.4,103.1 L99.9,101.5 L100.3,99.9 L100.8,98.4 L101.3,96.8 L101.7,95.2 L102.4,93.7 L103.0,92.1 L103.7,90.5 L104.3,89.0 L105.0,87.4 L105.8,85.9 L106.7,84.3 L107.5,82.7 L108.4,81.2 L109.3,79.6 L110.3,78.0 L111.4,76.5 L112.4,74.9 L113.5,73.3 L114.5,71.8 L115.8,70.2 L117.1,68.7 L118.3,67.1 L119.6,65.6 L120.8,64.0 L122.3,62.5 L123.7,61.0 L125.1,59.5 L126.5,57.9 L127.9,56.4 L129.5,54.9 L131.2,53.4 L132.8,51.9 L134.4,50.4 L136.1,48.9 L137.9,47.5 L139.7,46.0 L141.5,44.5 L143.3,43.1 L145.1,41.6 L147.1,40.2 L149.0,38.8 L151.0,37.4 L152.9,36.0 L154.8,34.6 L156.9,33.2 L158.9,31.9 L161.0,30.6 L163.0,29.2 L165.1,27.9 L167.3,26.6 L169.6,25.3 L171.9,24.1 L174.1,22.8 L176.4,21.5 L179.0,20.4 L181.5,19.2 L184.1,18.1 L186.7,16.9 L189.3,15.8 L191.7,14.8 L194.2,13.9 L196.6,13.0 L199.1,12.0 L201.5,11.1 L203.5,10.5 L205.5,9.9 L207.5,9.3 L209.5,8.7 L211.5,8.1Z" fill="none" stroke="#000" stroke-width="1.3"/></g><g><line x1="95.6" y1="301" x2="95.6" y2="518" stroke="#ebebeb" stroke-width="2.5"/><line x1="156.2" y1="301" x2="156.2" y2="518" stroke="#ebebeb" stroke-width="2.5"/><line x1="216.8" y1="301" x2="216.8" y2="518" stroke="#ebebeb" stroke-width="2.5"/><line x1="277.4" y1="301" x2="277.4" y2="518" stroke="#ebebeb" stroke-width="2.5"/><line x1="65.5" y1="499.59999999999997" x2="336" y2="499.59999999999997" stroke="#ebebeb" stroke-width="2.5"/><line x1="65.5" y1="435.5" x2="336" y2="435.5" stroke="#ebebeb" stroke-width="2.5"/><line x1="65.5" y1="371.4" x2="336" y2="371.4" stroke="#ebebeb" stroke-width="2.5"/><line x1="65.5" y1="307.29999999999995" x2="336" y2="307.29999999999995" stroke="#ebebeb" stroke-width="2.5"/><clipPath id="clb"><path d="M97.0,371.0 96.8,371.6 96.6,372.3 95.1,376.2 95.1,378.0 95.9,381.4 96.1,382.1 96.1,382.8 96.1,383.5 96.0,384.2 95.9,384.9 95.6,385.6 95.3,386.2 95.1,386.7 95.1,386.8 95.5,387.4 95.9,388.0 96.1,388.6 96.3,389.3 96.5,390.0 96.5,390.7 96.5,391.4 96.4,392.1 96.3,392.8 96.1,393.5 95.0,396.3 95.0,396.7 96.6,398.4 97.1,398.9 97.5,399.5 97.8,400.1 98.1,400.7 98.3,401.4 98.5,402.1 98.5,402.4 98.8,402.5 99.3,402.9 99.9,403.3 100.3,403.7 100.8,404.2 102.2,406.1 104.2,406.8 108.4,407.0 109.1,407.1 109.8,407.2 110.4,407.4 111.1,407.7 111.7,408.0 112.3,408.4 115.2,410.7 116.6,411.3 119.3,411.0 120.0,411.0 120.7,411.0 121.4,411.2 122.1,411.3 122.8,411.6 123.4,411.9 124.1,412.3 124.6,412.7 125.1,413.1 126.3,412.8 127.0,412.7 127.8,412.6 128.5,412.6 129.2,412.7 129.9,412.8 130.5,413.1 131.2,413.3 131.8,413.7 132.4,414.1 132.9,414.6 133.4,415.1 134.8,416.8 136.5,417.2 137.2,417.4 137.9,417.6 138.6,418.0 139.2,418.4 139.8,418.9 142.2,421.1 145.2,421.9 145.2,422.0 149.9,423.3 150.2,423.3 154.5,424.7 155.1,425.0 155.7,425.3 156.3,425.6 156.9,426.1 157.4,426.5 157.8,427.1 159.2,428.8 160.9,429.1 166.1,429.6 166.8,429.7 167.5,429.9 168.2,430.2 173.1,432.3 173.2,432.4 178.0,434.7 178.9,435.2 182.6,437.6 185.7,439.2 188.2,439.8 191.2,439.3 191.9,439.2 192.7,439.2 193.4,439.2 194.1,439.4 194.8,439.6 195.5,439.9 196.1,440.2 199.3,442.2 202.5,443.5 206.3,444.9 210.0,445.1 214.9,445.0 215.5,445.0 216.1,445.1 216.8,445.2 217.4,445.4 218.0,445.7 218.5,446.0 219.1,446.3 219.5,446.6 220.9,445.9 221.6,445.7 222.2,445.4 222.9,445.3 223.6,445.2 224.3,445.2 225.0,445.2 225.7,445.4 226.3,445.6 227.0,445.8 227.6,446.1 228.2,446.5 231.4,448.8 233.3,449.5 236.7,449.0 237.4,448.9 238.1,448.9 238.8,449.0 239.5,449.1 240.2,449.3 240.8,449.6 241.4,449.9 242.0,450.3 246.2,453.4 246.2,453.4 250.2,456.4 250.7,456.8 252.8,458.7 255.8,459.0 256.6,459.2 257.4,459.4 262.1,461.2 262.7,461.4 263.4,461.8 263.9,462.2 267.4,464.8 270.2,466.3 274.9,467.0 275.6,467.2 276.3,467.4 276.9,467.7 277.5,468.0 278.1,468.4 278.6,468.9 281.4,471.6 285.5,472.5 286.1,472.7 286.7,472.9 287.3,473.2 287.9,473.5 288.4,473.9 288.9,474.3 289.3,474.8 292.8,478.9 296.3,481.5 300.9,483.6 301.3,483.8 304.9,485.7 305.5,486.1 306.0,486.4 306.5,486.9 309.0,489.3 311.2,490.7 314.2,491.9 316.0,491.9 316.0,497.0 322.7,497.0 325.0,496.0 326.8,491.7 327.1,487.4 326.7,483.0 324.0,478.6 325.0,474.3 326.0,470.0 324.6,466.0 325.8,462.0 327.7,458.0 324.2,454.0 326.8,450.0 326.5,446.0 326.8,442.0 323.6,438.0 324.7,434.0 325.0,430.0 325.4,424.9 324.5,420.0 324.0,415.0 321.0,412.0 316.0,412.0 316.0,418.0 314.5,417.9 313.8,417.9 313.2,417.8 312.6,417.6 311.9,417.4 311.3,417.2 310.8,416.8 307.1,414.5 303.8,413.5 299.2,413.2 298.6,413.1 298.0,413.0 297.4,412.8 296.8,412.6 292.0,410.3 291.3,409.9 290.6,409.4 288.8,408.0 286.6,407.7 286.1,407.6 282.1,406.7 281.5,406.5 280.9,406.3 280.4,406.1 276.8,404.2 276.3,404.0 275.9,403.7 272.2,401.0 271.7,400.6 271.1,400.0 269.3,398.0 266.7,397.3 266.0,397.0 265.4,396.7 264.8,396.3 261.0,393.8 260.5,393.4 260.0,392.9 259.5,392.4 259.1,391.8 258.8,391.3 257.2,388.2 254.9,386.3 251.6,384.2 247.5,382.3 246.9,382.0 246.4,381.7 245.8,381.3 245.3,380.8 244.9,380.3 244.5,379.7 242.0,375.8 240.0,373.0 237.9,371.5 234.2,369.9 233.6,369.6 233.1,369.3 232.6,368.9 232.1,368.5 231.7,368.0 231.3,367.5 230.9,366.9 230.6,366.3 229.3,363.4 227.3,361.9 223.2,360.8 222.6,360.6 222.0,360.3 221.4,360.0 219.2,358.7 216.5,358.9 215.9,358.9 215.2,358.8 214.6,358.7 213.9,358.5 213.3,358.3 209.3,356.5 205.6,355.1 205.2,354.9 203.7,354.2 201.9,354.7 201.1,354.9 200.4,355.0 194.8,355.3 194.1,355.3 193.5,355.2 192.8,355.1 192.1,354.9 191.5,354.6 190.9,354.3 190.3,353.9 187.5,351.9 184.2,351.7 183.6,351.6 182.9,351.5 182.3,351.3 181.7,351.0 181.2,350.7 177.5,348.6 173.6,347.9 173.6,347.9 171.6,347.5 169.5,348.9 169.0,349.2 168.4,349.5 167.8,349.8 167.2,350.0 166.6,350.1 165.9,350.2 165.3,350.2 160.8,350.0 157.4,350.9 153.4,353.1 152.8,353.4 152.2,353.7 151.5,353.8 147.3,354.7 143.6,357.0 143.2,357.2 142.7,357.4 137.8,359.5 137.5,359.6 133.3,361.2 129.6,363.9 129.0,364.3 128.4,364.5 127.8,364.8 127.2,365.0 126.6,365.1 125.9,365.2 125.3,365.2 121.0,365.0 117.3,366.2 116.5,366.4 115.7,366.6 110.6,367.0 109.6,367.0 106.2,366.8 103.1,368.3 102.1,368.7 97.2,370.2 97.1,370.3Z"/><rect x="75.1" y="344.0" width="3.8" height="75.0" rx="1.9"/><rect x="93.1" y="323.0" width="3.8" height="114.0" rx="1.9"/><rect x="111.7" y="335.0" width="3.6" height="77.0" rx="1.8"/><rect x="122.2" y="348.0" width="3.6" height="72.0" rx="1.8"/><rect x="129.8" y="352.0" width="3.4" height="68.0" rx="1.7"/><rect x="136.2" y="327.0" width="3.6" height="93.0" rx="1.8"/><rect x="154.2" y="331.0" width="3.6" height="99.0" rx="1.8"/><rect x="166.0" y="339.0" width="3.4" height="101.0" rx="1.7"/><rect x="245.8" y="440.0" width="3.4" height="30.0" rx="1.7"/><rect x="252.3" y="440.0" width="3.4" height="32.5" rx="1.7"/><rect x="258.3" y="440.0" width="3.4" height="36.0" rx="1.7"/><rect x="275.7" y="440.0" width="3.4" height="43.0" rx="1.7"/><rect x="282.1" y="450.0" width="3.4" height="39.0" rx="1.7"/><rect x="288.3" y="450.0" width="3.4" height="39.6" rx="1.7"/><rect x="299.1" y="460.0" width="3.4" height="40.0" rx="1.7"/><rect x="307.7" y="460.0" width="3.4" height="40.0" rx="1.7"/><rect x="316.2" y="460.0" width="3.4" height="38.0" rx="1.7"/><rect x="275.7" y="374.5" width="3.4" height="25.5" rx="1.7"/><rect x="311.9" y="374.5" width="3.4" height="35.5" rx="1.7"/><rect x="234.3" y="440.0" width="3.4" height="28.0" rx="1.7"/><rect x="224.3" y="440.0" width="3.4" height="22.0" rx="1.7"/><rect x="268.3" y="440.0" width="3.4" height="38.0" rx="1.7"/><rect x="98.9" y="352.0" width="3.2" height="18.0" rx="1.6"/><rect x="104.4" y="350.0" width="3.2" height="20.0" rx="1.6"/><rect x="116.9" y="345.0" width="3.2" height="25.0" rx="1.6"/><rect x="142.4" y="340.0" width="3.2" height="30.0" rx="1.6"/><rect x="148.4" y="338.0" width="3.2" height="32.0" rx="1.6"/><rect x="160.4" y="335.0" width="3.2" height="25.0" rx="1.6"/><rect x="172.4" y="330.0" width="3.2" height="20.0" rx="1.6"/><rect x="184.4" y="330.0" width="3.2" height="15.0" rx="1.6"/><rect x="126.4" y="346.0" width="3.2" height="24.0" rx="1.6"/></clipPath><filter id="blb" x="-10%" y="-10%" width="120%" height="120%"><feGaussianBlur stdDeviation="2.5"/></filter><g fill="#2d5083"><path d="M97.0,371.0 96.8,371.6 96.6,372.3 95.1,376.2 95.1,378.0 95.9,381.4 96.1,382.1 96.1,382.8 96.1,383.5 96.0,384.2 95.9,384.9 95.6,385.6 95.3,386.2 95.1,386.7 95.1,386.8 95.5,387.4 95.9,388.0 96.1,388.6 96.3,389.3 96.5,390.0 96.5,390.7 96.5,391.4 96.4,392.1 96.3,392.8 96.1,393.5 95.0,396.3 95.0,396.7 96.6,398.4 97.1,398.9 97.5,399.5 97.8,400.1 98.1,400.7 98.3,401.4 98.5,402.1 98.5,402.4 98.8,402.5 99.3,402.9 99.9,403.3 100.3,403.7 100.8,404.2 102.2,406.1 104.2,406.8 108.4,407.0 109.1,407.1 109.8,407.2 110.4,407.4 111.1,407.7 111.7,408.0 112.3,408.4 115.2,410.7 116.6,411.3 119.3,411.0 120.0,411.0 120.7,411.0 121.4,411.2 122.1,411.3 122.8,411.6 123.4,411.9 124.1,412.3 124.6,412.7 125.1,413.1 126.3,412.8 127.0,412.7 127.8,412.6 128.5,412.6 129.2,412.7 129.9,412.8 130.5,413.1 131.2,413.3 131.8,413.7 132.4,414.1 132.9,414.6 133.4,415.1 134.8,416.8 136.5,417.2 137.2,417.4 137.9,417.6 138.6,418.0 139.2,418.4 139.8,418.9 142.2,421.1 145.2,421.9 145.2,422.0 149.9,423.3 150.2,423.3 154.5,424.7 155.1,425.0 155.7,425.3 156.3,425.6 156.9,426.1 157.4,426.5 157.8,427.1 159.2,428.8 160.9,429.1 166.1,429.6 166.8,429.7 167.5,429.9 168.2,430.2 173.1,432.3 173.2,432.4 178.0,434.7 178.9,435.2 182.6,437.6 185.7,439.2 188.2,439.8 191.2,439.3 191.9,439.2 192.7,439.2 193.4,439.2 194.1,439.4 194.8,439.6 195.5,439.9 196.1,440.2 199.3,442.2 202.5,443.5 206.3,444.9 210.0,445.1 214.9,445.0 215.5,445.0 216.1,445.1 216.8,445.2 217.4,445.4 218.0,445.7 218.5,446.0 219.1,446.3 219.5,446.6 220.9,445.9 221.6,445.7 222.2,445.4 222.9,445.3 223.6,445.2 224.3,445.2 225.0,445.2 225.7,445.4 226.3,445.6 227.0,445.8 227.6,446.1 228.2,446.5 231.4,448.8 233.3,449.5 236.7,449.0 237.4,448.9 238.1,448.9 238.8,449.0 239.5,449.1 240.2,449.3 240.8,449.6 241.4,449.9 242.0,450.3 246.2,453.4 246.2,453.4 250.2,456.4 250.7,456.8 252.8,458.7 255.8,459.0 256.6,459.2 257.4,459.4 262.1,461.2 262.7,461.4 263.4,461.8 263.9,462.2 267.4,464.8 270.2,466.3 274.9,467.0 275.6,467.2 276.3,467.4 276.9,467.7 277.5,468.0 278.1,468.4 278.6,468.9 281.4,471.6 285.5,472.5 286.1,472.7 286.7,472.9 287.3,473.2 287.9,473.5 288.4,473.9 288.9,474.3 289.3,474.8 292.8,478.9 296.3,481.5 300.9,483.6 301.3,483.8 304.9,485.7 305.5,486.1 306.0,486.4 306.5,486.9 309.0,489.3 311.2,490.7 314.2,491.9 316.0,491.9 316.0,497.0 322.7,497.0 325.0,496.0 326.8,491.7 327.1,487.4 326.7,483.0 324.0,478.6 325.0,474.3 326.0,470.0 324.6,466.0 325.8,462.0 327.7,458.0 324.2,454.0 326.8,450.0 326.5,446.0 326.8,442.0 323.6,438.0 324.7,434.0 325.0,430.0 325.4,424.9 324.5,420.0 324.0,415.0 321.0,412.0 316.0,412.0 316.0,418.0 314.5,417.9 313.8,417.9 313.2,417.8 312.6,417.6 311.9,417.4 311.3,417.2 310.8,416.8 307.1,414.5 303.8,413.5 299.2,413.2 298.6,413.1 298.0,413.0 297.4,412.8 296.8,412.6 292.0,410.3 291.3,409.9 290.6,409.4 288.8,408.0 286.6,407.7 286.1,407.6 282.1,406.7 281.5,406.5 280.9,406.3 280.4,406.1 276.8,404.2 276.3,404.0 275.9,403.7 272.2,401.0 271.7,400.6 271.1,400.0 269.3,398.0 266.7,397.3 266.0,397.0 265.4,396.7 264.8,396.3 261.0,393.8 260.5,393.4 260.0,392.9 259.5,392.4 259.1,391.8 258.8,391.3 257.2,388.2 254.9,386.3 251.6,384.2 247.5,382.3 246.9,382.0 246.4,381.7 245.8,381.3 245.3,380.8 244.9,380.3 244.5,379.7 242.0,375.8 240.0,373.0 237.9,371.5 234.2,369.9 233.6,369.6 233.1,369.3 232.6,368.9 232.1,368.5 231.7,368.0 231.3,367.5 230.9,366.9 230.6,366.3 229.3,363.4 227.3,361.9 223.2,360.8 222.6,360.6 222.0,360.3 221.4,360.0 219.2,358.7 216.5,358.9 215.9,358.9 215.2,358.8 214.6,358.7 213.9,358.5 213.3,358.3 209.3,356.5 205.6,355.1 205.2,354.9 203.7,354.2 201.9,354.7 201.1,354.9 200.4,355.0 194.8,355.3 194.1,355.3 193.5,355.2 192.8,355.1 192.1,354.9 191.5,354.6 190.9,354.3 190.3,353.9 187.5,351.9 184.2,351.7 183.6,351.6 182.9,351.5 182.3,351.3 181.7,351.0 181.2,350.7 177.5,348.6 173.6,347.9 173.6,347.9 171.6,347.5 169.5,348.9 169.0,349.2 168.4,349.5 167.8,349.8 167.2,350.0 166.6,350.1 165.9,350.2 165.3,350.2 160.8,350.0 157.4,350.9 153.4,353.1 152.8,353.4 152.2,353.7 151.5,353.8 147.3,354.7 143.6,357.0 143.2,357.2 142.7,357.4 137.8,359.5 137.5,359.6 133.3,361.2 129.6,363.9 129.0,364.3 128.4,364.5 127.8,364.8 127.2,365.0 126.6,365.1 125.9,365.2 125.3,365.2 121.0,365.0 117.3,366.2 116.5,366.4 115.7,366.6 110.6,367.0 109.6,367.0 106.2,366.8 103.1,368.3 102.1,368.7 97.2,370.2 97.1,370.3Z"/><rect x="75.1" y="344.0" width="3.8" height="75.0" rx="1.9"/><rect x="93.1" y="323.0" width="3.8" height="114.0" rx="1.9"/><rect x="111.7" y="335.0" width="3.6" height="77.0" rx="1.8"/><rect x="122.2" y="348.0" width="3.6" height="72.0" rx="1.8"/><rect x="129.8" y="352.0" width="3.4" height="68.0" rx="1.7"/><rect x="136.2" y="327.0" width="3.6" height="93.0" rx="1.8"/><rect x="154.2" y="331.0" width="3.6" height="99.0" rx="1.8"/><rect x="166.0" y="339.0" width="3.4" height="101.0" rx="1.7"/><rect x="245.8" y="440.0" width="3.4" height="30.0" rx="1.7"/><rect x="252.3" y="440.0" width="3.4" height="32.5" rx="1.7"/><rect x="258.3" y="440.0" width="3.4" height="36.0" rx="1.7"/><rect x="275.7" y="440.0" width="3.4" height="43.0" rx="1.7"/><rect x="282.1" y="450.0" width="3.4" height="39.0" rx="1.7"/><rect x="288.3" y="450.0" width="3.4" height="39.6" rx="1.7"/><rect x="299.1" y="460.0" width="3.4" height="40.0" rx="1.7"/><rect x="307.7" y="460.0" width="3.4" height="40.0" rx="1.7"/><rect x="316.2" y="460.0" width="3.4" height="38.0" rx="1.7"/><rect x="275.7" y="374.5" width="3.4" height="25.5" rx="1.7"/><rect x="311.9" y="374.5" width="3.4" height="35.5" rx="1.7"/><rect x="234.3" y="440.0" width="3.4" height="28.0" rx="1.7"/><rect x="224.3" y="440.0" width="3.4" height="22.0" rx="1.7"/><rect x="268.3" y="440.0" width="3.4" height="38.0" rx="1.7"/><rect x="98.9" y="352.0" width="3.2" height="18.0" rx="1.6"/><rect x="104.4" y="350.0" width="3.2" height="20.0" rx="1.6"/><rect x="116.9" y="345.0" width="3.2" height="25.0" rx="1.6"/><rect x="142.4" y="340.0" width="3.2" height="30.0" rx="1.6"/><rect x="148.4" y="338.0" width="3.2" height="32.0" rx="1.6"/><rect x="160.4" y="335.0" width="3.2" height="25.0" rx="1.6"/><rect x="172.4" y="330.0" width="3.2" height="20.0" rx="1.6"/><rect x="184.4" y="330.0" width="3.2" height="15.0" rx="1.6"/><rect x="126.4" y="346.0" width="3.2" height="24.0" rx="1.6"/></g><g clip-path="url(#clb)"><g filter="url(#blb)"><path fill="#2b5383" d="M146 347h66v6h-66zM131 352h36v6h-36zM196 352h36v6h-36zM126 357h21v6h-21zM221 357h21v6h-21zM71 362h11v6h-11zM116 362h26v6h-26zM236 362h21v6h-21zM71 367h6v6h-6zM111 367h21v6h-21zM246 367h21v6h-21zM81 372h6v6h-6zM96 372h26v6h-26zM256 372h16v6h-16zM81 377h31v6h-31zM261 377h16v6h-16zM86 382h16v6h-16zM271 382h16v6h-16zM86 387h11v6h-11zM276 387h11v6h-11zM86 392h16v6h-16zM276 392h16v6h-16zM81 397h31v6h-31zM281 397h16v6h-16zM81 402h6v6h-6zM96 402h41v6h-41zM281 402h16v6h-16zM71 407h6v6h-6zM121 407h36v6h-36zM281 407h16v6h-16zM71 412h11v6h-11zM146 412h26v6h-26zM286 412h11v6h-11zM161 417h21v6h-21zM286 417h11v6h-11zM171 422h26v6h-26zM291 422h11v6h-11zM186 427h31v6h-31zM291 427h11v6h-11zM206 432h26v6h-26zM301 432h11v6h-11zM226 437h11v6h-11zM306 437h11v6h-11zM236 442h11v6h-11zM316 442h11v6h-11zM246 447h6v6h-6zM321 447h11v6h-11zM251 452h11v6h-11zM326 452h11v6h-11zM256 457h11v6h-11zM331 457h11v6h-11zM266 462h6v6h-6zM336 462h6v6h-6zM271 467h11v6h-11zM336 467h6v6h-6zM281 472h11v6h-11zM336 472h6v6h-6zM286 477h16v6h-16zM336 477h6v6h-6zM301 482h41v6h-41zM316 487h21v6h-21z"/><path fill="#295682" d="M166 352h31v6h-31zM146 357h21v6h-21zM201 357h21v6h-21zM141 362h11v6h-11zM221 362h16v6h-16zM76 367h6v6h-6zM131 367h11v6h-11zM236 367h11v6h-11zM71 372h6v6h-6zM121 372h16v6h-16zM246 372h11v6h-11zM111 377h16v6h-16zM256 377h6v6h-6zM81 382h6v6h-6zM101 382h16v6h-16zM261 382h11v6h-11zM81 387h6v6h-6zM96 387h16v6h-16zM266 387h11v6h-11zM81 392h6v6h-6zM101 392h16v6h-16zM271 392h6v6h-6zM111 397h21v6h-21zM271 397h11v6h-11zM136 402h21v6h-21zM276 402h6v6h-6zM76 407h6v6h-6zM156 407h11v6h-11zM276 407h6v6h-6zM171 412h11v6h-11zM276 412h11v6h-11zM181 417h11v6h-11zM281 417h6v6h-6zM196 422h16v6h-16zM286 422h6v6h-6zM216 427h11v6h-11zM286 427h6v6h-6zM231 432h6v6h-6zM296 432h6v6h-6zM236 437h6v6h-6zM301 437h6v6h-6zM246 442h6v6h-6zM311 442h6v6h-6zM251 447h6v6h-6zM316 447h6v6h-6zM261 452h6v6h-6zM321 452h6v6h-6zM266 457h6v6h-6zM326 457h6v6h-6zM271 462h6v6h-6zM331 462h6v6h-6zM281 467h6v6h-6zM331 467h6v6h-6zM291 472h6v6h-6zM331 472h6v6h-6zM301 477h11v6h-11zM321 477h16v6h-16z"/><path fill="#265982" d="M166 357h36v6h-36zM151 362h16v6h-16zM211 362h11v6h-11zM141 367h11v6h-11zM231 367h6v6h-6zM136 372h11v6h-11zM241 372h6v6h-6zM126 377h11v6h-11zM246 377h11v6h-11zM116 382h11v6h-11zM256 382h6v6h-6zM111 387h16v6h-16zM261 387h6v6h-6zM116 392h16v6h-16zM266 392h6v6h-6zM131 397h16v6h-16zM266 397h6v6h-6zM71 402h6v6h-6zM156 402h11v6h-11zM271 402h6v6h-6zM166 407h11v6h-11zM271 407h6v6h-6zM181 412h6v6h-6zM271 412h6v6h-6zM191 417h16v6h-16zM276 417h6v6h-6zM211 422h11v6h-11zM281 422h6v6h-6zM226 427h6v6h-6zM236 432h6v6h-6zM291 432h6v6h-6zM241 437h6v6h-6zM296 437h6v6h-6zM251 442h6v6h-6zM306 442h6v6h-6zM256 447h6v6h-6zM311 447h6v6h-6zM271 457h6v6h-6zM321 457h6v6h-6zM276 462h6v6h-6zM326 462h6v6h-6zM286 467h6v6h-6zM326 467h6v6h-6zM296 472h6v6h-6zM326 472h6v6h-6zM311 477h11v6h-11z"/><path fill="#225d82" d="M166 362h16v6h-16zM201 362h11v6h-11zM151 367h11v6h-11zM221 367h11v6h-11zM76 372h6v6h-6zM146 372h6v6h-6zM236 372h6v6h-6zM71 377h6v6h-6zM136 377h11v6h-11zM241 377h6v6h-6zM126 382h11v6h-11zM251 382h6v6h-6zM126 387h11v6h-11zM256 387h6v6h-6zM131 392h16v6h-16zM261 392h6v6h-6zM71 397h6v6h-6zM146 397h11v6h-11zM261 397h6v6h-6zM76 402h6v6h-6zM166 402h6v6h-6zM266 402h6v6h-6zM176 407h6v6h-6zM266 407h6v6h-6zM186 412h11v6h-11zM206 417h6v6h-6zM271 417h6v6h-6zM221 422h6v6h-6zM276 422h6v6h-6zM231 427h6v6h-6zM281 427h6v6h-6zM286 432h6v6h-6zM246 437h6v6h-6zM301 442h6v6h-6zM261 447h6v6h-6zM266 452h6v6h-6zM316 452h6v6h-6zM281 462h6v6h-6zM321 462h6v6h-6zM291 467h6v6h-6zM321 467h6v6h-6zM301 472h26v6h-26z"/><path fill="#1e6182" d="M181 362h21v6h-21zM161 367h11v6h-11zM216 367h6v6h-6zM151 372h11v6h-11zM231 372h6v6h-6zM146 377h6v6h-6zM71 382h6v6h-6zM136 382h11v6h-11zM246 382h6v6h-6zM71 387h6v6h-6zM136 387h11v6h-11zM251 387h6v6h-6zM71 392h6v6h-6zM146 392h11v6h-11zM256 392h6v6h-6zM156 397h11v6h-11zM171 402h6v6h-6zM261 402h6v6h-6zM181 407h6v6h-6zM196 412h6v6h-6zM266 412h6v6h-6zM211 417h11v6h-11zM226 422h6v6h-6zM236 427h6v6h-6zM241 432h6v6h-6zM291 437h6v6h-6zM256 442h6v6h-6zM306 447h6v6h-6zM311 452h6v6h-6zM276 457h6v6h-6zM316 457h6v6h-6zM286 462h6v6h-6zM296 467h6v6h-6zM316 467h6v6h-6z"/><path fill="#1a6682" d="M171 367h6v6h-6zM211 367h6v6h-6zM161 372h6v6h-6zM226 372h6v6h-6zM76 377h6v6h-6zM151 377h6v6h-6zM236 377h6v6h-6zM146 382h11v6h-11zM241 382h6v6h-6zM146 387h11v6h-11zM156 392h6v6h-6zM251 392h6v6h-6zM166 397h6v6h-6zM256 397h6v6h-6zM176 402h6v6h-6zM256 402h6v6h-6zM186 407h6v6h-6zM261 407h6v6h-6zM201 412h6v6h-6zM221 417h6v6h-6zM266 417h6v6h-6zM231 422h6v6h-6zM271 422h6v6h-6zM276 427h6v6h-6zM281 432h6v6h-6zM251 437h6v6h-6zM296 442h6v6h-6zM266 447h6v6h-6zM271 452h6v6h-6zM316 462h6v6h-6zM301 467h16v6h-16z"/><path fill="#166d84" d="M176 367h16v6h-16zM201 367h11v6h-11zM166 372h6v6h-6zM221 372h6v6h-6zM156 377h6v6h-6zM231 377h6v6h-6zM156 382h6v6h-6zM156 387h6v6h-6zM246 387h6v6h-6zM161 392h6v6h-6zM76 397h6v6h-6zM171 397h6v6h-6zM251 397h6v6h-6zM181 402h6v6h-6zM191 407h6v6h-6zM206 412h11v6h-11zM261 412h6v6h-6zM226 417h6v6h-6zM241 427h6v6h-6zM246 432h6v6h-6zM286 437h6v6h-6zM261 442h6v6h-6zM291 442h6v6h-6zM301 447h6v6h-6zM276 452h6v6h-6zM306 452h6v6h-6zM281 457h6v6h-6zM311 457h6v6h-6zM291 462h6v6h-6zM311 462h6v6h-6z"/><path fill="#127385" d="M191 367h11v6h-11zM171 372h6v6h-6zM161 377h6v6h-6zM76 382h6v6h-6zM161 382h6v6h-6zM236 382h6v6h-6zM161 387h6v6h-6zM166 392h6v6h-6zM246 392h6v6h-6zM251 402h6v6h-6zM196 407h6v6h-6zM256 407h6v6h-6zM216 412h6v6h-6zM236 422h6v6h-6zM266 422h6v6h-6zM271 427h6v6h-6zM276 432h6v6h-6zM256 437h6v6h-6zM281 437h6v6h-6zM271 447h6v6h-6zM296 447h6v6h-6zM286 457h6v6h-6zM306 457h6v6h-6zM296 462h16v6h-16z"/><path fill="#0e7986" d="M176 372h6v6h-6zM216 372h6v6h-6zM166 377h6v6h-6zM166 382h6v6h-6zM76 387h6v6h-6zM166 387h6v6h-6zM241 387h6v6h-6zM76 392h6v6h-6zM171 392h6v6h-6zM176 397h6v6h-6zM246 397h6v6h-6zM186 402h6v6h-6zM201 407h6v6h-6zM221 412h6v6h-6zM256 412h6v6h-6zM231 417h6v6h-6zM261 417h6v6h-6zM246 427h6v6h-6zM251 432h6v6h-6zM266 442h6v6h-6zM286 442h6v6h-6zM276 447h6v6h-6zM281 452h6v6h-6zM301 452h6v6h-6zM291 457h6v6h-6z"/><path fill="#0e8088" d="M181 372h6v6h-6zM211 372h6v6h-6zM171 377h6v6h-6zM226 377h6v6h-6zM241 392h6v6h-6zM181 397h6v6h-6zM251 407h6v6h-6zM241 422h6v6h-6zM261 422h6v6h-6zM266 427h6v6h-6zM256 432h6v6h-6zM271 432h6v6h-6zM261 437h11v6h-11zM276 437h6v6h-6zM271 442h16v6h-16zM281 447h16v6h-16zM286 452h16v6h-16zM296 457h11v6h-11z"/><path fill="#0d868a" d="M186 372h6v6h-6zM176 377h6v6h-6zM171 382h6v6h-6zM231 382h6v6h-6zM171 387h6v6h-6zM236 387h6v6h-6zM176 392h6v6h-6zM191 402h6v6h-6zM246 402h6v6h-6zM206 407h6v6h-6zM226 412h6v6h-6zM251 412h6v6h-6zM236 417h6v6h-6zM256 417h6v6h-6zM251 427h6v6h-6zM261 427h6v6h-6zM261 432h11v6h-11zM271 437h6v6h-6z"/><path fill="#148b8c" d="M191 372h6v6h-6zM201 372h11v6h-11zM221 377h6v6h-6zM241 397h6v6h-6zM211 407h6v6h-6zM246 407h6v6h-6zM231 412h6v6h-6zM246 412h6v6h-6zM241 417h6v6h-6zM251 417h6v6h-6zM246 422h16v6h-16zM256 427h6v6h-6z"/><path fill="#1e908e" d="M196 372h6v6h-6zM181 377h6v6h-6zM176 382h6v6h-6zM176 387h6v6h-6zM186 397h6v6h-6zM196 402h6v6h-6zM241 402h6v6h-6zM216 407h6v6h-6zM241 407h6v6h-6zM236 412h11v6h-11zM246 417h6v6h-6z"/><path fill="#279590" d="M181 392h6v6h-6zM236 392h6v6h-6zM221 407h21v6h-21z"/><path fill="#309b92" d="M216 377h6v6h-6zM226 382h6v6h-6zM231 387h6v6h-6zM236 397h6v6h-6zM201 402h6v6h-6zM236 402h6v6h-6z"/><path fill="#39a094" d="M186 377h6v6h-6zM181 382h6v6h-6zM181 387h6v6h-6zM191 397h6v6h-6z"/><path fill="#41a695" d="M186 392h6v6h-6zM206 402h6v6h-6zM231 402h6v6h-6z"/><path fill="#4aac97" d="M191 377h6v6h-6zM211 377h6v6h-6zM231 392h6v6h-6zM231 397h6v6h-6zM226 402h6v6h-6z"/><path fill="#52b198" d="M186 382h6v6h-6zM221 382h6v6h-6zM211 402h6v6h-6zM221 402h6v6h-6z"/><path fill="#5bb69a" d="M196 377h6v6h-6zM206 377h6v6h-6zM186 387h6v6h-6zM226 387h6v6h-6zM196 397h6v6h-6zM216 402h6v6h-6z"/><path fill="#64bc9b" d="M201 377h6v6h-6z"/><path fill="#6cc19c" d="M191 392h6v6h-6zM226 397h6v6h-6z"/><path fill="#73c49c" d="M191 382h6v6h-6zM226 392h6v6h-6z"/><path fill="#7bc89d" d="M216 382h6v6h-6zM201 397h6v6h-6z"/><path fill="#82cb9e" d="M191 387h6v6h-6zM221 397h6v6h-6z"/><path fill="#89ce9e" d="M221 387h6v6h-6z"/><path fill="#91d29e" d="M196 382h6v6h-6zM196 392h6v6h-6zM206 397h6v6h-6z"/><path fill="#98d59f" d="M211 382h6v6h-6zM211 397h11v6h-11z"/><path fill="#a0d8a0" d="M221 392h6v6h-6z"/><path fill="#a7dba1" d="M201 382h11v6h-11z"/><path fill="#afdea2" d="M196 387h6v6h-6z"/><path fill="#b7e2a4" d="M216 387h6v6h-6zM201 392h6v6h-6z"/><path fill="#bee5a5" d="M216 392h6v6h-6z"/><path fill="#ceeba8" d="M201 387h6v6h-6zM206 392h6v6h-6z"/><path fill="#d6eea9" d="M211 387h6v6h-6zM211 392h6v6h-6z"/><path fill="#def1aa" d="M206 387h6v6h-6z"/></g></g><path d="M133.9 425.5h0M135.5 428.0h0M116.2 414.7h0M145.8 347.2h0M268.7 469.9h0M291.3 486.1h0M170.0 442.7h0M221.3 357.2h0M153.7 434.4h0M171.7 439.8h0M250.5 463.8h0M325.6 451.1h0M93.5 404.0h0M245.2 469.1h0M124.8 361.8h0M119.9 361.9h0M85.3 388.3h0M308.2 497.6h0M323.1 491.1h0M296.2 486.9h0M126.3 356.9h0M103.1 357.5h0M218.4 452.4h0M269.7 385.9h0M284.5 397.0h0M112.7 420.2h0M323.0 426.6h0M228.1 458.6h0M325.5 453.4h0M142.1 348.3h0M85.5 371.9h0M118.1 417.1h0M94.1 406.3h0M286.7 396.5h0M235.7 458.4h0M292.9 487.7h0M148.4 430.3h0M211.2 451.2h0M273.2 475.5h0M326.5 424.2h0M267.3 469.5h0M141.4 427.0h0M152.4 430.1h0M265.5 469.6h0M259.2 467.7h0M92.9 365.6h0M151.7 435.6h0M165.2 440.4h0M289.4 400.3h0M88.9 396.3h0M84.9 389.5h0M204.7 346.9h0M123.8 355.7h0M212.3 347.7h0M261.0 380.8h0M322.6 420.0h0M234.5 358.5h0M325.4 430.6h0M264.1 470.0h0M279.2 477.8h0M145.3 349.0h0M228.6 351.6h0M143.2 425.3h0M90.7 412.5h0M291.8 399.8h0M316.7 495.8h0M318.0 495.8h0M323.6 499.0h0M324.7 442.3h0M241.5 455.6h0M231.1 356.7h0M241.6 457.5h0M313.6 506.7h0M102.4 411.8h0M158.4 341.6h0M226.4 351.5h0M93.1 404.0h0M303.5 405.9h0M316.7 497.8h0M301.6 404.1h0M309.6 409.9h0M295.5 398.3h0M253.6 464.5h0M121.5 360.6h0M172.5 342.0h0M189.2 343.4h0M255.8 466.4h0M269.0 475.8h0M207.8 347.1h0M143.4 429.4h0M88.3 406.4h0M107.9 358.7h0M324.4 430.8h0M175.4 340.5h0M270.3 467.4h0M257.9 465.3h0M204.6 444.9h0M163.5 343.6h0M141.4 428.5h0M282.4 481.7h0M287.0 486.3h0M93.6 411.6h0M183.4 339.6h0M280.2 482.3h0M266.5 473.9h0M321.0 433.8h0M93.9 363.1h0M220.5 450.9h0M231.6 456.1h0M290.0 402.6h0M325.3 411.7h0M325.3 440.3h0M310.7 410.3h0M236.2 455.7h0M157.2 438.2h0M100.0 411.0h0M150.4 433.2h0M263.3 384.0h0M196.6 452.5h0M195.9 343.5h0M191.6 349.9h0M233.3 454.2h0M326.3 474.4h0M112.3 360.2h0M300.6 494.1h0M324.9 497.6h0M93.9 371.6h0M144.7 430.2h0M211.6 455.1h0M138.9 350.5h0M183.5 443.8h0M87.6 372.2h0M91.3 362.5h0M217.1 455.0h0M210.2 349.3h0M130.8 425.2h0M204.7 349.2h0M306.1 494.2h0M265.6 468.9h0M90.8 406.7h0M132.5 423.9h0M199.3 448.5h0M107.4 361.9h0M219.9 454.5h0M305.5 496.4h0M242.0 457.4h0M197.5 446.1h0M326.4 435.1h0M160.7 349.9h0M102.8 412.3h0M233.7 456.9h0M321.2 409.8h0M109.9 413.1h0M228.9 458.7h0M93.6 407.2h0M97.2 365.4h0M115.4 418.3h0M301.6 497.4h0M157.6 345.0h0M266.9 471.9h0M229.0 357.9h0M217.5 348.7h0M226.7 355.8h0M103.2 411.8h0M94.9 363.1h0M325.8 425.7h0M128.8 354.2h0M235.1 359.5h0M94.8 408.7h0M300.1 405.3h0M323.1 498.7h0M210.3 347.6h0M281.0 483.1h0M229.8 453.2h0M150.3 343.5h0M218.9 348.1h0M110.4 358.3h0M91.5 386.4h0M94.2 368.6h0M90.0 382.4h0M88.5 386.3h0M224.3 452.8h0M87.1 382.7h0M129.3 354.5h0M155.5 433.6h0M304.8 407.4h0M286.6 400.5h0M291.1 401.9h0M89.3 377.3h0M208.5 452.1h0M147.0 343.2h0M126.9 419.4h0M94.4 365.3h0M326.0 436.4h0M216.4 347.5h0M194.4 345.1h0M320.9 493.4h0M159.0 344.1h0M201.3 450.6h0M207.5 449.8h0M310.0 494.0h0M176.2 440.2h0M103.6 411.7h0M95.2 362.3h0M250.7 461.0h0M91.0 405.6h0M191.3 344.4h0M101.3 359.6h0M305.4 495.3h0M205.6 351.3h0M93.8 366.7h0M271.9 472.9h0M116.2 412.0h0M218.1 454.0h0M229.3 355.0h0M132.8 424.2h0M121.6 419.5h0M124.7 416.2h0M184.9 453.3h0M304.9 494.6h0M237.6 361.4h0M311.4 402.5h0M308.8 495.8h0M93.2 360.0h0M188.2 448.0h0M163.2 346.3h0M92.1 407.6h0M202.6 451.7h0M326.2 427.0h0M326.1 481.2h0M304.7 494.1h0M142.9 349.3h0M232.3 359.7h0M291.0 398.5h0M192.0 449.8h0M294.6 404.5h0M239.8 364.7h0M130.2 420.2h0M175.0 340.6h0M98.1 364.8h0M309.4 409.1h0M156.0 433.3h0M223.2 354.6h0M236.5 455.8h0M173.2 342.3h0M130.7 352.2h0M127.8 421.4h0M326.5 442.9h0M325.0 426.2h0M86.6 384.1h0M227.2 451.8h0M324.3 416.5h0M319.7 411.5h0M288.8 399.0h0M129.9 355.7h0M309.3 499.7h0M169.7 436.8h0M155.7 346.9h0M131.3 355.6h0M242.0 363.6h0M87.7 370.3h0M101.2 358.6h0M142.3 426.5h0M149.5 434.7h0M325.2 432.5h0M122.5 421.6h0M174.8 339.0h0M155.3 345.3h0M225.1 452.7h0M157.5 437.2h0M281.8 475.5h0M178.7 345.8h0M126.3 356.7h0M222.8 455.8h0M171.3 335.9h0M326.7 454.9h0M305.9 496.2h0M92.1 396.6h0M326.2 488.6h0M197.7 448.4h0M157.4 431.8h0M177.3 439.7h0M272.1 471.5h0M139.1 353.0h0M291.2 402.2h0M285.1 399.1h0M208.1 450.5h0M310.5 499.6h0M249.5 462.9h0M94.4 360.7h0M179.3 447.4h0M134.0 425.6h0M193.0 447.2h0M324.9 477.5h0M229.8 359.0h0M122.8 359.6h0M179.0 346.1h0M292.2 482.4h0M132.8 356.1h0M154.5 431.1h0M321.5 410.6h0M259.6 379.4h0M113.8 419.0h0M258.9 470.6h0M143.8 349.2h0M322.1 435.4h0M225.8 453.9h0M121.5 420.5h0M214.0 353.7h0M137.0 356.3h0M131.1 355.5h0M160.9 337.8h0M248.3 369.5h0M230.9 452.7h0M289.5 483.5h0M214.6 454.1h0M211.6 448.5h0M173.1 441.0h0M109.0 364.9h0M102.4 411.6h0M146.6 352.7h0M322.0 428.1h0M241.1 364.6h0M183.3 343.8h0M89.2 373.5h0M101.0 359.9h0M212.4 346.4h0M299.0 406.4h0M266.8 470.9h0M198.8 345.0h0M205.1 448.9h0M236.8 452.6h0M112.0 362.0h0M317.9 413.6h0M227.1 354.1h0M128.2 356.3h0M208.3 457.0h0M203.4 346.9h0M156.6 436.7h0M109.5 419.0h0M216.0 452.7h0M316.8 410.1h0M260.7 381.9h0M187.1 343.1h0M309.9 501.6h0M166.3 435.5h0M185.6 448.2h0M205.4 448.8h0M116.7 359.8h0M156.8 344.7h0M289.0 402.0h0M96.6 362.8h0M224.9 453.4h0M137.7 427.4h0M143.7 347.7h0M316.4 412.0h0M276.2 474.5h0M118.5 418.1h0M317.2 495.3h0M243.7 458.8h0M156.4 347.8h0M324.1 446.2h0M142.7 355.0h0M323.8 492.1h0M144.6 428.2h0M119.2 418.8h0M162.2 436.4h0M230.6 356.0h0M312.8 407.6h0M130.3 420.3h0M251.0 371.4h0M191.5 350.3h0M259.2 471.5h0M141.8 348.5h0M321.9 494.8h0M84.1 381.3h0M110.9 418.8h0M192.7 448.8h0M166.9 335.7h0M221.8 453.5h0M300.9 497.2h0M89.8 375.2h0M162.7 442.6h0M145.0 436.5h0M135.8 424.0h0M302.4 496.2h0M233.0 356.4h0M225.7 453.5h0M287.9 402.9h0M131.7 421.2h0M193.2 347.9h0M90.6 389.3h0M178.4 338.1h0M185.0 442.8h0M300.6 406.2h0M88.7 373.5h0M223.2 354.5h0M136.3 355.3h0M259.2 465.5h0M205.4 345.0h0M167.9 442.2h0M231.6 454.3h0M172.5 442.2h0M222.1 450.0h0M224.5 356.5h0M287.9 487.2h0M145.6 348.8h0M229.7 461.8h0M152.4 340.8h0M234.5 355.4h0M323.6 424.1h0M155.5 438.2h0M291.6 401.7h0M85.0 377.6h0M275.6 478.8h0M93.9 362.3h0M266.0 467.4h0M323.0 433.0h0M168.1 338.0h0M215.3 455.9h0M126.7 357.4h0M289.2 401.5h0M94.5 404.7h0M89.4 402.6h0M317.1 412.4h0M161.7 436.6h0M130.4 360.0h0M252.9 370.3h0M161.2 345.3h0M261.2 378.5h0M318.8 433.1h0M280.7 398.3h0M98.8 361.7h0M181.9 445.4h0M325.5 480.3h0M154.0 346.8h0M206.7 343.5h0M163.9 337.4h0M91.8 372.1h0M321.0 410.6h0M141.3 429.2h0M181.8 345.1h0M77.0 424.0h0M77.0 429.0h0M77.0 434.0h0M77.0 440.0h0M77.0 446.0h0M95.0 310.0h0M95.0 315.0h0M95.0 319.0h0M95.0 442.0h0M95.0 447.0h0M100.2 349.0h0M107.0 355.8h0M114.0 335.0h0M105.0 357.8h0M132.5 343.0h0M142.3 334.3h0M156.0 333.3h0M167.7 342.0h0M181.4 326.5h0M193.0 338.2h0M199.0 331.3h0M124.7 439.0h0M130.6 427.0h0M138.4 445.8h0M132.5 456.5h0M140.3 455.6h0M148.2 437.0h0M156.0 456.5h0M167.7 450.7h0M174.6 446.8h0M179.5 440.0h0M181.4 452.6h0M185.3 458.5h0M198.5 331.8h0M193.2 338.2h0M219.8 341.4h0M311.0 335.0h0M296.6 359.0h0M278.4 362.7h0M266.7 357.4h0M258.2 358.5h0M288.0 372.3h0M303.0 376.6h0M314.7 376.6h0M196.4 466.0h0M214.5 465.0h0M227.3 481.0h0M201.0 493.8h0M193.2 508.7h0M259.3 507.7h0M246.5 485.3h0M254.0 483.0h0M241.2 473.6h0M234.8 466.0h0M271.0 472.5h0M277.1 387.1h0M315.8 382.2h0M281.6 388.5h0M320.5 408.2h0M293.6 390.0h0M255.6 370.6h0M282.6 391.3h0M281.0 392.4h0M277.5 372.5h0M321.8 409.8h0M308.9 394.8h0M265.9 369.9h0M263.7 361.7h0M302.8 378.8h0M309.4 378.1h0M318.6 402.1h0M314.6 382.4h0M303.8 372.0h0M319.1 397.4h0M249.7 370.8h0M248.3 361.1h0M285.9 381.3h0M257.5 372.0h0M319.6 399.8h0M257.3 378.5h0M310.1 391.4h0M257.5 371.4h0M303.4 375.1h0M264.3 361.8h0M270.5 381.6h0M318.6 383.2h0M255.0 366.0h0M314.5 400.5h0M260.5 367.9h0M312.3 389.4h0M274.6 363.4h0M288.9 373.3h0M290.4 372.6h0M254.5 377.2h0M286.9 364.8h0M296.7 388.4h0M251.5 359.8h0M300.4 394.6h0M313.9 403.3h0M310.8 387.8h0M291.2 377.9h0M287.8 389.7h0M299.7 378.2h0M300.3 388.2h0M279.4 370.0h0M297.3 383.9h0M261.0 358.6h0M256.6 366.8h0M314.3 392.3h0M312.2 378.0h0M287.8 374.5h0M308.6 402.1h0M262.7 366.8h0M277.0 372.3h0M257.6 379.5h0M291.3 383.7h0M298.1 387.7h0M308.0 370.3h0M251.6 360.4h0M291.6 381.2h0M291.7 392.1h0M296.1 368.4h0M279.0 367.3h0M298.6 367.3h0M262.3 376.0h0M169.7 342.9h0M137.7 343.8h0M194.4 341.8h0M165.1 336.9h0M185.6 339.6h0M180.0 336.3h0M194.6 342.4h0M129.0 346.8h0M184.4 343.6h0M131.2 340.2h0M120.8 349.2h0M196.8 343.0h0M157.3 336.8h0M153.6 342.6h0M196.9 342.8h0M156.3 342.3h0M169.1 334.3h0M153.9 340.9h0M126.9 342.0h0M147.7 339.0h0M119.1 344.7h0M168.7 339.1h0M135.5 344.8h0M153.0 341.3h0M137.6 340.9h0M152.9 336.0h0M120.4 345.0h0M185.7 337.4h0M190.3 339.0h0M123.9 346.8h0M183.2 341.0h0M179.0 335.4h0M155.2 342.8h0M156.9 335.8h0M106.2 351.1h0M132.7 341.9h0M151.5 341.2h0M173.9 340.7h0M162.9 340.7h0M181.5 340.7h0M226.6 467.7h0M200.3 460.8h0M154.4 442.6h0M193.0 452.1h0M201.2 460.5h0M190.0 459.1h0M143.4 438.5h0M181.5 445.0h0M187.7 460.3h0M178.5 450.5h0M165.8 443.1h0M237.2 463.8h0M186.9 452.6h0M229.0 467.6h0M115.1 417.7h0M145.2 439.9h0M181.6 452.5h0M158.5 443.2h0M137.4 435.0h0M206.8 465.2h0M119.7 421.3h0M152.3 447.5h0M120.2 419.1h0M204.2 456.3h0M229.4 471.3h0M151.3 438.4h0M231.5 468.6h0M142.3 436.1h0M157.5 436.2h0M161.4 437.6h0M180.7 448.6h0M120.9 419.0h0M174.2 446.8h0M203.7 457.2h0M221.0 463.2h0M218.4 468.2h0M178.1 457.3h0M136.6 439.9h0M114.7 420.6h0M134.0 427.3h0M134.0 431.1h0M150.5 447.4h0M178.6 445.5h0M130.4 423.6h0M220.0 464.1h0M172.4 442.6h0M180.6 446.1h0M150.5 433.0h0M158.9 446.9h0M148.8 434.6h0M198.1 457.2h0M121.7 427.8h0M176.5 453.5h0M209.7 464.1h0M237.7 462.2h0M195.8 451.1h0M155.8 444.5h0M203.0 465.0h0M120.8 428.9h0M184.9 456.5h0M143.9 426.5h0M110.0 361.6h0M171.1 433.0h0M94.1 371.4h0M199.0 448.0h0M175.5 434.7h0M299.9 411.7h0M151.3 423.8h0M117.1 359.8h0M176.5 436.1h0M145.6 425.2h0M103.8 407.6h0M298.7 488.9h0M253.1 460.2h0M172.5 432.3h0M301.5 490.9h0M231.6 455.6h0M188.3 443.2h0M121.1 413.1h0M127.1 418.0h0M98.8 404.1h0M139.3 355.0h0M307.8 489.5h0M296.9 411.5h0M223.7 357.5h0M170.0 435.9h0M203.4 351.4h0M304.3 491.0h0M151.1 426.8h0M121.5 360.2h0M315.8 417.1h0M162.1 343.4h0M103.2 407.7h0M234.8 362.2h0M93.3 395.9h0M101.0 408.8h0M227.2 357.1h0M250.2 456.9h0M225.5 357.0h0M256.2 459.3h0M180.1 347.4h0M176.4 346.9h0M125.4 361.7h0M193.9 446.1h0M246.3 456.9h0M167.8 349.3h0M305.1 409.2h0M212.0 451.1h0M197.0 445.0h0M170.3 341.1h0M172.2 437.7h0M191.6 442.2h0M103.2 367.4h0M93.1 384.7h0M297.2 410.4h0M291.9 403.6h0M209.7 447.5h0M112.7 361.8h0M105.4 360.1h0M171.0 343.9h0M138.8 420.2h0M220.5 447.5h0M215.6 450.6h0M297.6 408.2h0M177.3 435.8h0M190.0 345.3h0M292.7 409.5h0M217.8 357.2h0M175.4 347.5h0M111.3 412.2h0M108.0 408.3h0M89.2 396.6h0M98.5 368.5h0M308.6 415.0h0M126.9 414.9h0M178.6 342.5h0M229.7 453.2h0M290.5 478.0h0M95.4 382.9h0M122.2 413.1h0M223.4 450.1h0M168.4 349.2h0M147.2 423.9h0M173.6 341.2h0M234.3 454.5h0M153.5 350.1h0M237.5 449.7h0M292.8 407.6h0M295.0 405.2h0M96.3 370.7h0M216.0 352.1h0M97.8 402.0h0M144.0 350.4h0M214.2 355.5h0M238.3 450.5h0M310.4 494.2h0M179.5 342.4h0M162.7 429.8h0M223.4 358.6h0M315.7 497.0h0M167.3 437.1h0M108.8 407.3h0M113.6 410.8h0M151.5 424.8h0M188.4 443.4h0M139.3 423.7h0M255.3 466.0h0M92.8 371.9h0M271.7 469.5h0M112.5 412.8h0M315.2 496.5h0M243.5 454.1h0M227.2 359.3h0M201.3 449.6h0M310.8 490.8h0M98.5 410.7h0M281.1 477.6h0M101.0 410.7h0M158.1 349.9h0M213.0 354.1h0M227.6 449.3h0M148.4 430.0h0M165.2 347.2h0M209.2 451.5h0M142.7 353.4h0M312.7 492.2h0M168.6 349.0h0M93.3 407.1h0M136.9 357.2h0M116.2 415.0h0M237.8 452.1h0M126.5 363.0h0M121.1 417.5h0M282.3 477.2h0M174.4 346.8h0M224.2 356.3h0M121.6 412.0h0M152.9 431.3h0M91.7 392.5h0M96.0 371.4h0M213.4 449.4h0M259.7 460.6h0M133.4 416.2h0M297.7 485.6h0M208.5 352.7h0M310.3 491.4h0M275.7 468.2h0M179.3 439.1h0M297.4 411.5h0M96.5 407.8h0M90.6 392.7h0M174.5 347.8h0M214.9 352.6h0M238.8 449.9h0M182.7 350.1h0M181.8 343.1h0M143.0 426.9h0M299.2 486.4h0M141.4 421.6h0M312.0 494.1h0M235.4 449.7h0M305.2 410.6h0M220.2 356.8h0M245.9 460.7h0M205.7 447.4h0M136.7 358.5h0M301.5 488.9h0M171.7 435.9h0M207.1 445.3h0M153.4 428.6h0M194.8 439.6h0M198.6 348.3h0M309.9 412.0h0M229.8 453.0h0M165.4 346.4h0M206.2 347.7h0M238.7 452.6h0M147.8 424.8h0M92.5 377.9h0M98.0 368.7h0M206.1 350.3h0M207.0 449.5h0M208.6 352.8h0M204.3 348.7h0M160.9 347.6h0M177.2 345.8h0M311.4 497.0h0M96.5 402.9h0M307.7 493.9h0M186.7 441.4h0M139.2 419.9h0M111.9 412.3h0M116.9 365.8h0M180.5 342.3h0M249.6 456.3h0M268.2 465.4h0M313.6 493.5h0M164.6 433.4h0M303.8 409.6h0M292.5 483.5h0M140.9 424.8h0M161.5 435.8h0M293.4 479.8h0M315.0 494.1h0M286.6 407.6h0M222.9 447.9h0M199.8 442.7h0M192.3 445.3h0M136.0 359.7h0M185.7 350.9h0M184.7 349.6h0M319.1 411.9h0M290.1 402.4h0M205.6 448.6h0M289.9 478.7h0M202.9 352.1h0M106.6 407.8h0M142.9 353.5h0M139.0 358.2h0M170.8 345.6h0M130.1 419.0h0M217.4 446.6h0M185.4 347.8h0M118.8 362.5h0M183.9 443.6h0M89.2 387.0h0M236.1 455.9h0M255.4 463.1h0M231.3 449.4h0M141.7 356.9h0M313.1 414.1h0M182.4 442.0h0M196.5 350.2h0M164.0 435.1h0M94.3 368.3h0M123.4 412.5h0M252.0 463.6h0M132.6 419.9h0M275.9 474.7h0M88.2 374.8h0M147.2 354.2h0M309.9 414.8h0M105.4 408.6h0M252.6 460.4h0M196.0 350.2h0M205.5 352.2h0M96.0 370.7h0M306.5 495.4h0M284.8 479.6h0M172.4 437.4h0M242.9 454.4h0M139.8 358.1h0M212.4 451.5h0M234.9 454.1h0M265.9 470.4h0M236.0 451.9h0M280.1 475.6h0M161.2 347.4h0M91.1 390.5h0M171.6 434.1h0M204.2 350.3h0M253.4 463.8h0M260.6 461.1h0M90.0 386.6h0M89.0 395.5h0M292.6 481.2h0M204.0 352.7h0M227.1 446.5h0M162.4 430.6h0M249.1 462.2h0M226.1 359.2h0M265.9 466.3h0M100.2 409.3h0M166.6 343.9h0M193.2 347.4h0M290.4 477.4h0M303.8 412.4h0M145.3 353.7h0M265.5 470.7h0M91.1 386.3h0M278.9 471.9h0M206.2 354.4h0M132.5 359.3h0M209.2 451.5h0M219.2 446.6h0M240.8 450.3h0M152.4 425.9h0M102.9 362.4h0M252.0 460.2h0M199.5 445.0h0M198.7 349.1h0M203.1 446.8h0M309.0 411.5h0M162.8 429.3h0M248.7 461.2h0M292.2 408.1h0M159.6 434.6h0M184.9 440.0h0M204.2 351.5h0M229.9 449.3h0M133.2 418.9h0M151.5 348.5h0M168.3 435.6h0M238.4 454.9h0M191.7 443.3h0M105.2 361.8h0M298.2 483.4h0M94.6 372.7h0M101.0 367.9h0M171.6 341.9h0M286.2 406.0h0M165.9 346.5h0M239.7 450.7h0M100.1 410.0h0M301.7 410.8h0M171.0 437.8h0M97.7 407.8h0M138.6 419.5h0M203.8 348.3h0M94.8 368.8h0M150.6 349.8h0M140.4 356.8h0M293.7 480.5h0M132.1 358.4h0M133.2 418.8h0M286.1 405.4h0M122.5 414.3h0M96.7 398.9h0M109.4 409.7h0M212.3 351.2h0M90.4 370.9h0M269.1 468.7h0M141.5 426.5h0M250.8 462.3h0M152.3 350.5h0M132.9 358.2h0M194.8 447.3h0M174.0 344.6h0M95.2 401.3h0M200.4 349.7h0M123.7 364.8h0M109.1 360.3h0M260.0 462.8h0M138.7 357.5h0M133.8 422.8h0M199.6 448.8h0M240.1 450.3h0M107.1 362.1h0M106.8 409.6h0M309.5 409.0h0M190.0 347.1h0M297.2 486.1h0M246.5 456.8h0M170.1 341.3h0M216.3 352.0h0M168.7 347.2h0M170.4 438.2h0M288.4 480.8h0M216.3 353.3h0M121.2 414.6h0M203.4 446.0h0M134.2 356.5h0M174.4 434.1h0M121.1 416.1h0M162.7 349.3h0M280.1 473.7h0M320.3 411.6h0M133.5 419.6h0M90.0 394.8h0M115.9 413.3h0M220.2 447.6h0M181.0 344.9h0M171.7 433.9h0M254.9 464.2h0M254.8 460.2h0M168.2 433.3h0M146.9 350.8h0M206.5 352.8h0M219.5 446.8h0M199.0 444.6h0M212.7 351.9h0M306.3 494.7h0M149.7 429.8h0M118.9 359.7h0M303.3 410.8h0M206.2 449.3h0M117.1 361.3h0M232.7 361.8h0M290.7 406.7h0M111.4 415.3h0M215.5 449.6h0M109.7 360.2h0M101.5 409.1h0M307.5 414.5h0M269.8 468.5h0M180.7 438.4h0M121.1 359.6h0M211.1 354.6h0M138.0 423.2h0M273.4 469.5h0M166.1 349.3h0M105.6 408.6h0M94.0 402.4h0M316.4 498.5h0M95.7 363.5h0M148.4 425.0h0M136.0 418.4h0M295.7 482.3h0M267.9 471.0h0M161.3 434.8h0M93.6 394.6h0M301.4 412.1h0M189.7 445.3h0M224.3 448.7h0M190.5 441.2h0M139.9 421.7h0M155.8 434.0h0M139.4 355.5h0M297.4 487.1h0M171.0 435.2h0M166.7 430.5h0M153.6 428.1h0M222.8 355.2h0M124.7 419.3h0M253.1 461.1h0M95.7 368.0h0M145.3 424.3h0M139.4 358.0h0M157.7 348.4h0M110.3 408.1h0M139.0 357.7h0M300.4 486.2h0M154.1 351.0h0M200.2 351.8h0M112.5 414.8h0M292.2 480.8h0M149.2 430.3h0M302.2 489.6h0M146.6 350.7h0M255.7 460.4h0M185.7 440.8h0M89.6 393.7h0M154.8 426.8h0M91.5 396.6h0M168.8 437.3h0M274.5 468.4h0M207.8 352.5h0M94.2 395.8h0M269.2 467.4h0M234.2 453.2h0M182.1 348.2h0M89.2 374.6h0M314.8 417.6h0M154.5 428.7h0M210.7 354.9h0M148.9 350.7h0M245.3 460.5h0M271.3 470.5h0M92.2 389.5h0M103.7 413.5h0M92.9 381.9h0M315.5 413.2h0M311.6 415.6h0M305.2 411.5h0M165.6 343.6h0M314.1 493.4h0M290.9 402.7h0M220.4 453.8h0M127.9 360.9h0M246.4 457.6h0M93.1 364.6h0M108.4 365.4h0M290.6 408.1h0M225.9 452.9h0M97.2 402.3h0M112.5 363.2h0M309.3 496.1h0M92.7 385.3h0M294.1 408.8h0M89.1 394.6h0M116.1 413.7h0M143.4 424.4h0M198.7 444.1h0M310.7 413.8h0M266.0 464.5h0M189.3 446.6h0M176.7 343.7h0M187.7 442.6h0M172.6 435.0h0M153.4 430.9h0M228.8 449.2h0M173.7 346.0h0M114.3 366.2h0M99.8 366.8h0M190.0 442.3h0M291.9 405.3h0M152.0 430.3h0M128.1 412.8h0M207.2 354.7h0M187.8 440.3h0M258.8 460.0h0M234.5 455.7h0M201.3 353.1h0M296.1 410.0h0M174.9 342.0h0M134.9 357.0h0M263.6 467.9h0M225.7 445.5h0M172.4 434.4h0M91.0 367.6h0M217.4 447.4h0M279.7 474.1h0M128.6 360.6h0M242.8 455.3h0M137.6 356.2h0M302.3 408.5h0M137.2 357.0h0M113.5 411.7h0M157.5 427.5h0M203.6 450.8h0M310.4 495.9h0M93.1 384.0h0M129.9 415.7h0M270.3 468.9h0M175.8 344.6h0M248.4 457.1h0M200.6 449.9h0M173.2 436.7h0M239.8 450.2h0M203.3 348.7h0M115.1 415.5h0M283.5 477.2h0M149.6 353.3h0M260.2 465.1h0M94.3 401.3h0M118.4 415.6h0M137.7 356.9h0M211.8 354.8h0M173.4 439.5h0M120.3 413.0h0M298.4 485.9h0M156.3 434.1h0M291.1 402.6h0M187.5 347.7h0M97.2 399.9h0M133.6 416.8h0M251.7 458.0h0M107.9 366.4h0M107.9 407.2h0M229.5 451.2h0M158.3 430.4h0M172.1 347.6h0M210.8 445.4h0M172.2 437.9h0M242.9 456.3h0M225.1 354.6h0M295.2 407.6h0M94.4 398.6h0M279.0 477.4h0M294.2 408.6h0M169.6 435.1h0M174.4 347.2h0M284.3 476.2h0M97.6 400.7h0M294.7 409.4h0M123.1 412.6h0M97.8 402.9h0M220.8 449.1h0M222.9 449.4h0M120.4 412.3h0M286.4 476.3h0M294.0 403.5h0M309.3 413.2h0M146.4 350.6h0M227.2 447.6h0" stroke="#2d5083" stroke-width="4.3" stroke-linecap="round" fill="none"/><path d="M241.2 365.6h0M322.6 449.9h0M243.1 366.8h0M322.4 485.1h0M235.0 364.3h0M215.8 358.0h0M190.4 353.4h0M93.5 388.6h0M221.1 358.5h0M288.9 474.4h0M228.1 360.4h0M278.2 469.1h0M216.8 358.4h0M282.9 400.2h0M96.0 391.2h0M195.2 354.1h0M96.2 388.9h0M218.7 358.7h0M209.1 355.6h0M280.1 398.5h0M199.0 354.1h0M284.1 405.2h0M210.0 356.0h0M281.9 402.5h0M217.3 357.4h0M234.1 362.5h0M193.8 353.5h0M93.8 389.6h0M95.0 385.8h0M284.8 407.1h0M219.3 358.0h0M217.7 357.9h0M225.4 359.8h0M208.2 356.0h0M197.7 354.5h0M283.9 401.8h0M93.8 393.1h0M193.2 354.2h0M94.9 390.0h0M277.1 468.1h0" stroke="#2b5383" stroke-width="4.3" stroke-linecap="round" fill="none"/><path d="M323.6 463.3h0M321.3 459.4h0M325.6 469.5h0M259.8 392.6h0M263.1 394.2h0M258.0 387.4h0M245.3 380.6h0M259.7 390.7h0M255.4 386.2h0M253.1 383.1h0M259.1 391.0h0M257.8 389.2h0M260.9 390.8h0M246.7 379.5h0M249.4 382.8h0M250.0 382.8h0M261.4 392.2h0M250.0 382.5h0M243.5 378.1h0M250.9 381.3h0" stroke="#225d82" stroke-width="4.3" stroke-linecap="round" fill="none"/><path d="M275.3 396.2h0M277.0 398.0h0M277.1 399.7h0M324.0 455.1h0M260.6 382.1h0M321.1 480.7h0M237.2 365.5h0M269.5 391.2h0M242.3 372.0h0M248.1 373.6h0M256.1 380.2h0M322.5 480.3h0M247.4 371.8h0M256.0 379.5h0M270.2 392.6h0M276.5 396.6h0M267.3 390.9h0M279.6 405.3h0M233.7 364.8h0M275.2 395.9h0M272.0 396.3h0M229.3 363.3h0M275.9 402.1h0M261.5 383.3h0M273.2 396.6h0M278.3 398.6h0M276.0 395.4h0M230.3 365.4h0M278.9 402.3h0M278.8 399.8h0M244.5 371.2h0M240.1 366.7h0M279.1 402.2h0M273.1 400.1h0M237.6 368.9h0M240.7 368.7h0M279.9 404.2h0M277.3 401.1h0M231.1 366.8h0M242.8 371.7h0M276.1 402.1h0M277.4 400.5h0M281.2 403.9h0M265.8 389.1h0M276.9 404.1h0M267.4 389.6h0M239.8 370.0h0M272.1 395.4h0M278.3 404.2h0M256.3 379.5h0M240.1 370.1h0M275.0 396.6h0M273.3 399.0h0M271.2 395.9h0M232.4 367.1h0M275.6 402.3h0M268.9 393.2h0M235.1 367.2h0" stroke="#295682" stroke-width="4.3" stroke-linecap="round" fill="none"/><path d="M321.9 470.8h0" stroke="#1e6182" stroke-width="4.3" stroke-linecap="round" fill="none"/><path d="M263.0 391.0h0M264.2 387.8h0M254.9 381.5h0M259.4 386.0h0M324.2 475.4h0M266.1 392.9h0M254.8 381.1h0M255.9 385.1h0M263.8 389.3h0M263.3 393.1h0M241.0 373.6h0M243.9 373.9h0M262.9 391.7h0M268.8 396.6h0M243.7 374.5h0M269.4 395.6h0M255.3 384.6h0M251.6 379.5h0M254.8 382.9h0M240.9 373.9h0M268.0 397.6h0M264.2 394.0h0M264.6 389.9h0M253.4 379.8h0M254.7 382.4h0M255.6 381.9h0M258.0 385.7h0M239.1 371.9h0M270.9 399.4h0M248.2 378.8h0M255.6 382.2h0M258.6 385.2h0M259.7 385.4h0M241.9 373.7h0M237.6 370.2h0M241.5 372.1h0M263.8 388.3h0M252.8 381.9h0M256.0 384.2h0M270.0 397.4h0" stroke="#265982" stroke-width="4.3" stroke-linecap="round" fill="none"/><path d="M77.5,385.6 C84.6,385.6 106.2,385.7 120.0,385.8 C133.8,385.9 148.3,386.1 160.0,386.5 C171.7,386.9 180.8,387.2 190.0,388.5 C199.2,389.8 206.7,391.4 215.0,394.0 C223.3,396.6 231.7,399.4 240.0,404.3 C248.3,409.2 256.7,416.9 265.0,423.5 C273.3,430.1 282.5,438.6 290.0,443.7 C297.5,448.8 304.6,452.4 310.0,454.4 C315.4,456.4 320.4,455.3 322.5,455.5" fill="none" stroke="#ff0000" stroke-width="7.2" stroke-linecap="butt"/><rect x="65.5" y="301" width="270.5" height="217" fill="none" stroke="#000" stroke-width="2"/><line x1="95.6" y1="519" x2="95.6" y2="527.5" stroke="#333333" stroke-width="2.6"/><text x="95.6" y="547.5" font-size="19.5" text-anchor="middle">1</text><line x1="156.2" y1="519" x2="156.2" y2="527.5" stroke="#333333" stroke-width="2.6"/><text x="156.2" y="547.5" font-size="19.5" text-anchor="middle">10</text><line x1="216.8" y1="519" x2="216.8" y2="527.5" stroke="#333333" stroke-width="2.6"/><text x="216.8" y="547.5" font-size="19.5" text-anchor="middle">100</text><line x1="277.4" y1="519" x2="277.4" y2="527.5" stroke="#333333" stroke-width="2.6"/><text x="277.4" y="547.5" font-size="19.5" text-anchor="middle">1000</text><line x1="57.5" y1="499.59999999999997" x2="64.5" y2="499.59999999999997" stroke="#333333" stroke-width="2.6"/><text x="51.0" y="507.4" font-size="19.5" text-anchor="end">4</text><line x1="57.5" y1="435.5" x2="64.5" y2="435.5" stroke="#333333" stroke-width="2.6"/><text x="51.0" y="443.3" font-size="19.5" text-anchor="end">5</text><line x1="57.5" y1="371.4" x2="64.5" y2="371.4" stroke="#333333" stroke-width="2.6"/><text x="51.0" y="379.2" font-size="19.5" text-anchor="end">6</text><line x1="57.5" y1="307.29999999999995" x2="64.5" y2="307.29999999999995" stroke="#333333" stroke-width="2.6"/><text x="51.0" y="315.09999999999997" font-size="19.5" text-anchor="end">7</text><text x="200.5" y="573.8" font-size="19.5" text-anchor="middle">Depth, m</text><text transform="translate(24,410.7) rotate(-90)" font-size="19.5" text-anchor="middle">log<tspan font-size="14" dy="4.5">10</tspan><tspan dy="-4.5">(Abundance, mL</tspan><tspan font-size="13.5" dy="-9.4">−1</tspan><tspan dy="8">)</tspan></text></g><g><line x1="489.5" y1="301" x2="489.5" y2="512.2" stroke="#ebebeb" stroke-width="2.5"/><line x1="539.5" y1="301" x2="539.5" y2="512.2" stroke="#ebebeb" stroke-width="2.5"/><line x1="589.5" y1="301" x2="589.5" y2="512.2" stroke="#ebebeb" stroke-width="2.5"/><line x1="639.5" y1="301" x2="639.5" y2="512.2" stroke="#ebebeb" stroke-width="2.5"/><line x1="429.7" y1="504.90000000000003" x2="683" y2="504.90000000000003" stroke="#ebebeb" stroke-width="2.5"/><line x1="429.7" y1="456.20000000000005" x2="683" y2="456.20000000000005" stroke="#ebebeb" stroke-width="2.5"/><line x1="429.7" y1="407.5" x2="683" y2="407.5" stroke="#ebebeb" stroke-width="2.5"/><line x1="429.7" y1="358.8" x2="683" y2="358.8" stroke="#ebebeb" stroke-width="2.5"/><line x1="429.7" y1="310.1" x2="683" y2="310.1" stroke="#ebebeb" stroke-width="2.5"/><clipPath id="clc"><path d="M493.0,396.8 493.6,397.6 494.1,398.4 494.6,399.3 494.9,400.2 495.2,401.2 495.3,402.2 495.4,403.1 495.3,404.1 495.2,405.1 495.0,406.0 494.1,409.0 494.1,411.4 494.3,415.2 494.3,416.6 494.0,420.8 493.8,421.8 493.6,422.8 493.6,422.9 493.7,423.1 494.1,423.8 494.5,424.6 494.7,425.4 496.0,429.5 496.0,429.6 497.2,433.7 497.4,434.7 497.6,435.6 497.6,436.6 497.5,437.5 497.4,438.5 497.1,439.4 496.8,440.3 496.4,441.2 496.1,441.8 496.9,442.8 499.9,446.7 500.4,447.4 500.9,448.2 501.1,448.8 501.9,449.2 502.7,449.7 503.4,450.3 504.1,451.0 504.5,451.5 506.4,450.7 507.4,450.4 508.4,450.2 509.5,450.1 510.5,450.1 511.6,450.2 512.6,450.4 513.6,450.7 517.8,452.4 520.3,452.9 522.2,452.5 525.9,450.9 526.9,450.5 527.9,450.2 528.9,450.1 530.0,450.0 533.0,450.0 535.6,448.7 536.9,448.1 541.1,446.8 545.1,444.7 546.1,444.2 547.2,443.9 552.1,442.6 553.1,442.4 554.0,442.3 555.0,442.3 556.0,442.4 560.1,442.9 564.2,442.5 565.2,442.4 566.2,442.5 567.2,442.6 572.2,443.6 573.3,443.8 574.2,444.2 575.2,444.7 576.9,445.6 579.0,445.3 579.9,445.3 580.9,445.3 581.9,445.4 586.9,446.1 587.9,446.3 588.9,446.7 589.9,447.1 590.8,447.6 593.7,449.5 596.8,450.0 597.7,450.2 598.6,450.5 599.5,450.9 602.9,452.5 606.6,453.1 607.5,453.3 608.4,453.6 609.2,453.9 612.2,455.3 615.4,455.5 615.9,455.5 621.0,456.0 621.9,456.2 622.9,456.4 623.7,456.7 624.6,457.1 624.7,457.2 625.5,456.7 626.4,456.3 627.3,456.0 628.2,455.7 629.2,455.6 630.2,455.5 631.2,455.5 632.1,455.7 633.1,455.9 634.0,456.2 634.9,456.6 639.3,459.0 640.9,459.6 642.8,459.2 643.1,459.2 647.4,458.3 651.5,456.9 652.4,456.6 653.4,456.4 654.3,456.3 658.0,456.1 658.0,458.0 673.0,458.0 672.6,453.9 671.9,449.7 671.7,445.6 670.9,441.4 674.6,437.3 671.7,433.1 673.4,429.0 672.4,424.8 670.8,420.7 672.4,416.6 671.3,412.4 673.1,408.3 671.4,404.1 673.5,400.0 675.1,395.9 673.4,391.8 671.1,387.6 671.2,383.5 674.3,379.4 675.7,375.3 675.9,371.2 674.0,367.1 675.0,362.9 671.8,358.8 675.6,354.7 672.1,350.6 672.8,346.5 675.9,342.4 674.0,338.2 675.5,334.1 673.5,330.0 673.2,326.0 673.5,322.0 675.6,317.9 671.6,314.0 673.0,310.0 668.0,310.0 664.2,312.7 660.0,310.5 658.0,311.1 658.0,321.5 657.8,321.5 656.9,321.7 656.0,321.9 655.1,321.9 654.2,321.9 653.3,321.7 650.9,321.3 648.6,322.2 647.7,322.5 646.8,322.7 643.4,323.3 640.0,325.2 639.5,325.4 634.4,328.0 633.6,328.3 632.8,328.6 631.8,328.9 631.1,329.7 630.5,330.4 629.9,331.0 629.3,331.5 626.0,334.0 625.3,334.5 624.5,334.9 623.6,335.3 622.8,335.6 621.9,335.8 621.4,335.9 621.4,336.0 620.8,336.8 620.2,337.5 619.5,338.2 618.7,338.8 617.9,339.3 617.1,339.8 616.2,340.2 615.2,340.4 614.3,340.6 613.3,340.7 612.4,340.7 612.0,341.1 611.3,341.8 610.5,342.4 609.6,342.9 608.7,343.3 607.8,343.6 606.8,343.8 606.7,343.9 606.2,344.5 605.6,345.2 605.0,345.9 604.2,346.5 603.5,347.1 602.6,347.5 601.8,347.9 600.9,348.2 599.9,348.5 599.0,348.6 598.0,348.6 597.1,348.6 596.2,348.4 595.6,348.3 594.7,348.8 593.6,349.3 588.7,351.2 587.9,351.5 582.9,352.9 581.6,353.2 576.4,353.9 575.3,354.0 574.3,354.0 573.2,353.8 573.0,353.8 572.4,354.4 571.7,355.1 570.9,355.7 570.1,356.2 569.2,356.6 568.3,356.9 567.4,357.2 566.5,357.3 565.5,357.4 564.5,357.4 559.4,357.0 557.4,356.9 555.3,357.6 554.3,357.9 553.3,358.1 552.2,358.2 548.2,358.3 547.1,358.2 546.0,358.1 545.0,357.8 544.9,357.7 544.1,358.1 543.2,358.5 542.4,358.7 541.5,358.9 537.5,359.5 536.2,359.6 534.7,359.6 533.4,360.5 532.5,361.0 531.6,361.3 527.7,362.8 526.9,363.1 526.0,363.3 525.1,363.4 524.2,363.4 523.3,363.4 519.9,363.0 519.0,363.1 517.4,364.7 516.7,365.3 515.9,365.9 515.0,366.4 514.1,366.8 513.2,367.1 512.2,367.4 511.3,367.5 508.3,367.8 505.7,369.3 504.8,369.9 503.8,370.3 502.8,370.6 497.8,371.8 496.9,372.0 496.0,372.1 496.0,372.1 495.8,372.4 494.8,373.7 494.8,374.6 494.6,376.0 494.1,378.7 494.2,381.7 494.2,382.6 494.2,383.6 494.0,384.5 493.7,385.5 493.4,386.4 491.8,389.9 491.8,390.0 492.2,391.1 492.5,392.0 492.8,393.0 492.9,393.9 493.0,394.9 493.0,395.9 492.9,396.6Z"/><rect x="474.3" y="372.0" width="3.4" height="86.0" rx="1.7"/><rect x="479.3" y="362.0" width="3.4" height="104.0" rx="1.7"/><rect x="468.2" y="388.0" width="3.4" height="58.0" rx="1.7"/><rect x="462.1" y="392.0" width="3.4" height="38.0" rx="1.7"/><rect x="453.0" y="400.0" width="3.4" height="20.0" rx="1.7"/></clipPath><filter id="blc" x="-10%" y="-10%" width="120%" height="120%"><feGaussianBlur stdDeviation="2.5"/></filter><g fill="#2d5083"><path d="M493.0,396.8 493.6,397.6 494.1,398.4 494.6,399.3 494.9,400.2 495.2,401.2 495.3,402.2 495.4,403.1 495.3,404.1 495.2,405.1 495.0,406.0 494.1,409.0 494.1,411.4 494.3,415.2 494.3,416.6 494.0,420.8 493.8,421.8 493.6,422.8 493.6,422.9 493.7,423.1 494.1,423.8 494.5,424.6 494.7,425.4 496.0,429.5 496.0,429.6 497.2,433.7 497.4,434.7 497.6,435.6 497.6,436.6 497.5,437.5 497.4,438.5 497.1,439.4 496.8,440.3 496.4,441.2 496.1,441.8 496.9,442.8 499.9,446.7 500.4,447.4 500.9,448.2 501.1,448.8 501.9,449.2 502.7,449.7 503.4,450.3 504.1,451.0 504.5,451.5 506.4,450.7 507.4,450.4 508.4,450.2 509.5,450.1 510.5,450.1 511.6,450.2 512.6,450.4 513.6,450.7 517.8,452.4 520.3,452.9 522.2,452.5 525.9,450.9 526.9,450.5 527.9,450.2 528.9,450.1 530.0,450.0 533.0,450.0 535.6,448.7 536.9,448.1 541.1,446.8 545.1,444.7 546.1,444.2 547.2,443.9 552.1,442.6 553.1,442.4 554.0,442.3 555.0,442.3 556.0,442.4 560.1,442.9 564.2,442.5 565.2,442.4 566.2,442.5 567.2,442.6 572.2,443.6 573.3,443.8 574.2,444.2 575.2,444.7 576.9,445.6 579.0,445.3 579.9,445.3 580.9,445.3 581.9,445.4 586.9,446.1 587.9,446.3 588.9,446.7 589.9,447.1 590.8,447.6 593.7,449.5 596.8,450.0 597.7,450.2 598.6,450.5 599.5,450.9 602.9,452.5 606.6,453.1 607.5,453.3 608.4,453.6 609.2,453.9 612.2,455.3 615.4,455.5 615.9,455.5 621.0,456.0 621.9,456.2 622.9,456.4 623.7,456.7 624.6,457.1 624.7,457.2 625.5,456.7 626.4,456.3 627.3,456.0 628.2,455.7 629.2,455.6 630.2,455.5 631.2,455.5 632.1,455.7 633.1,455.9 634.0,456.2 634.9,456.6 639.3,459.0 640.9,459.6 642.8,459.2 643.1,459.2 647.4,458.3 651.5,456.9 652.4,456.6 653.4,456.4 654.3,456.3 658.0,456.1 658.0,458.0 673.0,458.0 672.6,453.9 671.9,449.7 671.7,445.6 670.9,441.4 674.6,437.3 671.7,433.1 673.4,429.0 672.4,424.8 670.8,420.7 672.4,416.6 671.3,412.4 673.1,408.3 671.4,404.1 673.5,400.0 675.1,395.9 673.4,391.8 671.1,387.6 671.2,383.5 674.3,379.4 675.7,375.3 675.9,371.2 674.0,367.1 675.0,362.9 671.8,358.8 675.6,354.7 672.1,350.6 672.8,346.5 675.9,342.4 674.0,338.2 675.5,334.1 673.5,330.0 673.2,326.0 673.5,322.0 675.6,317.9 671.6,314.0 673.0,310.0 668.0,310.0 664.2,312.7 660.0,310.5 658.0,311.1 658.0,321.5 657.8,321.5 656.9,321.7 656.0,321.9 655.1,321.9 654.2,321.9 653.3,321.7 650.9,321.3 648.6,322.2 647.7,322.5 646.8,322.7 643.4,323.3 640.0,325.2 639.5,325.4 634.4,328.0 633.6,328.3 632.8,328.6 631.8,328.9 631.1,329.7 630.5,330.4 629.9,331.0 629.3,331.5 626.0,334.0 625.3,334.5 624.5,334.9 623.6,335.3 622.8,335.6 621.9,335.8 621.4,335.9 621.4,336.0 620.8,336.8 620.2,337.5 619.5,338.2 618.7,338.8 617.9,339.3 617.1,339.8 616.2,340.2 615.2,340.4 614.3,340.6 613.3,340.7 612.4,340.7 612.0,341.1 611.3,341.8 610.5,342.4 609.6,342.9 608.7,343.3 607.8,343.6 606.8,343.8 606.7,343.9 606.2,344.5 605.6,345.2 605.0,345.9 604.2,346.5 603.5,347.1 602.6,347.5 601.8,347.9 600.9,348.2 599.9,348.5 599.0,348.6 598.0,348.6 597.1,348.6 596.2,348.4 595.6,348.3 594.7,348.8 593.6,349.3 588.7,351.2 587.9,351.5 582.9,352.9 581.6,353.2 576.4,353.9 575.3,354.0 574.3,354.0 573.2,353.8 573.0,353.8 572.4,354.4 571.7,355.1 570.9,355.7 570.1,356.2 569.2,356.6 568.3,356.9 567.4,357.2 566.5,357.3 565.5,357.4 564.5,357.4 559.4,357.0 557.4,356.9 555.3,357.6 554.3,357.9 553.3,358.1 552.2,358.2 548.2,358.3 547.1,358.2 546.0,358.1 545.0,357.8 544.9,357.7 544.1,358.1 543.2,358.5 542.4,358.7 541.5,358.9 537.5,359.5 536.2,359.6 534.7,359.6 533.4,360.5 532.5,361.0 531.6,361.3 527.7,362.8 526.9,363.1 526.0,363.3 525.1,363.4 524.2,363.4 523.3,363.4 519.9,363.0 519.0,363.1 517.4,364.7 516.7,365.3 515.9,365.9 515.0,366.4 514.1,366.8 513.2,367.1 512.2,367.4 511.3,367.5 508.3,367.8 505.7,369.3 504.8,369.9 503.8,370.3 502.8,370.6 497.8,371.8 496.9,372.0 496.0,372.1 496.0,372.1 495.8,372.4 494.8,373.7 494.8,374.6 494.6,376.0 494.1,378.7 494.2,381.7 494.2,382.6 494.2,383.6 494.0,384.5 493.7,385.5 493.4,386.4 491.8,389.9 491.8,390.0 492.2,391.1 492.5,392.0 492.8,393.0 492.9,393.9 493.0,394.9 493.0,395.9 492.9,396.6Z"/><rect x="474.3" y="372.0" width="3.4" height="86.0" rx="1.7"/><rect x="479.3" y="362.0" width="3.4" height="104.0" rx="1.7"/><rect x="468.2" y="388.0" width="3.4" height="58.0" rx="1.7"/><rect x="462.1" y="392.0" width="3.4" height="38.0" rx="1.7"/><rect x="453.0" y="400.0" width="3.4" height="20.0" rx="1.7"/></g><g clip-path="url(#clc)"><g filter="url(#blc)"><path fill="#2b5383" d="M550 322h101v6h-101zM530 327h141v6h-141zM515 332h171v6h-171zM500 337h66v6h-66zM650 337h36v6h-36zM495 342h46v6h-46zM660 342h26v6h-26zM485 347h41v6h-41zM670 347h16v6h-16zM480 352h31v6h-31zM680 352h6v6h-6zM475 357h31v6h-31zM470 362h26v6h-26zM465 367h26v6h-26zM465 372h26v6h-26zM460 377h26v6h-26zM460 382h26v6h-26zM460 387h21v6h-21zM460 392h21v6h-21zM460 397h21v6h-21zM460 402h21v6h-21zM460 407h21v6h-21zM460 412h26v6h-26zM465 417h21v6h-21zM470 422h21v6h-21zM470 427h21v6h-21zM475 432h21v6h-21zM680 432h6v6h-6zM480 437h21v6h-21zM670 437h16v6h-16zM485 442h26v6h-26zM660 442h26v6h-26zM490 447h36v6h-36zM640 447h46v6h-46zM500 452h186v6h-186zM510 457h166v6h-166zM530 462h126v6h-126zM575 467h46v6h-46z"/><path fill="#295682" d="M565 337h86v6h-86zM540 342h121v6h-121zM525 347h36v6h-36zM660 347h11v6h-11zM510 352h31v6h-31zM665 352h16v6h-16zM505 357h21v6h-21zM670 357h16v6h-16zM495 362h21v6h-21zM675 362h11v6h-11zM490 367h16v6h-16zM680 367h6v6h-6zM490 372h11v6h-11zM485 377h11v6h-11zM485 382h11v6h-11zM480 387h11v6h-11zM480 392h11v6h-11zM480 397h11v6h-11zM480 402h11v6h-11zM480 407h11v6h-11zM485 412h6v6h-6zM485 417h11v6h-11zM680 417h6v6h-6zM490 422h11v6h-11zM675 422h11v6h-11zM490 427h11v6h-11zM670 427h16v6h-16zM495 432h11v6h-11zM660 432h21v6h-21zM500 437h16v6h-16zM650 437h21v6h-21zM510 442h36v6h-36zM595 442h66v6h-66zM525 447h116v6h-116z"/><path fill="#265982" d="M560 347h86v6h-86zM650 347h11v6h-11zM540 352h41v6h-41zM620 352h16v6h-16zM660 352h6v6h-6zM525 357h26v6h-26zM665 357h6v6h-6zM515 362h16v6h-16zM665 362h11v6h-11zM505 367h11v6h-11zM670 367h11v6h-11zM500 372h11v6h-11zM675 372h11v6h-11zM495 377h11v6h-11zM680 377h6v6h-6zM495 382h6v6h-6zM490 387h11v6h-11zM490 392h6v6h-6zM490 397h6v6h-6zM490 402h6v6h-6zM490 407h6v6h-6zM680 407h6v6h-6zM490 412h11v6h-11zM675 412h11v6h-11zM495 417h6v6h-6zM670 417h11v6h-11zM500 422h6v6h-6zM665 422h11v6h-11zM500 427h11v6h-11zM660 427h11v6h-11zM505 432h16v6h-16zM625 432h21v6h-21zM650 432h11v6h-11zM515 437h36v6h-36zM570 437h81v6h-81zM545 442h51v6h-51z"/><path fill="#225d82" d="M645 347h6v6h-6zM580 352h41v6h-41zM635 352h11v6h-11zM655 352h6v6h-6zM550 357h46v6h-46zM610 357h26v6h-26zM660 357h6v6h-6zM530 362h26v6h-26zM515 367h21v6h-21zM665 367h6v6h-6zM510 372h11v6h-11zM670 372h6v6h-6zM505 377h6v6h-6zM675 377h6v6h-6zM500 382h6v6h-6zM675 382h11v6h-11zM500 387h6v6h-6zM680 387h6v6h-6zM495 392h11v6h-11zM680 392h6v6h-6zM495 397h6v6h-6zM680 397h6v6h-6zM495 402h6v6h-6zM675 402h11v6h-11zM495 407h6v6h-6zM675 407h6v6h-6zM500 412h6v6h-6zM670 412h6v6h-6zM500 417h6v6h-6zM665 417h6v6h-6zM505 422h6v6h-6zM660 422h6v6h-6zM510 427h11v6h-11zM625 427h16v6h-16zM655 427h6v6h-6zM520 432h26v6h-26zM575 432h51v6h-51zM645 432h6v6h-6zM550 437h21v6h-21z"/><path fill="#1e6182" d="M645 352h11v6h-11zM595 357h16v6h-16zM635 357h6v6h-6zM555 362h41v6h-41zM625 362h11v6h-11zM660 362h6v6h-6zM535 367h21v6h-21zM520 372h16v6h-16zM665 372h6v6h-6zM510 377h11v6h-11zM670 377h6v6h-6zM505 382h11v6h-11zM670 382h6v6h-6zM505 387h6v6h-6zM675 387h6v6h-6zM505 392h6v6h-6zM675 392h6v6h-6zM500 397h6v6h-6zM675 397h6v6h-6zM500 402h6v6h-6zM670 402h6v6h-6zM500 407h6v6h-6zM670 407h6v6h-6zM505 412h6v6h-6zM665 412h6v6h-6zM505 417h11v6h-11zM660 417h6v6h-6zM510 422h11v6h-11zM655 422h6v6h-6zM520 427h21v6h-21zM575 427h51v6h-51zM640 427h16v6h-16zM545 432h31v6h-31z"/><path fill="#1a6682" d="M640 357h6v6h-6zM655 357h6v6h-6zM595 362h31v6h-31zM635 362h6v6h-6zM555 367h31v6h-31zM660 367h6v6h-6zM535 372h16v6h-16zM520 377h11v6h-11zM665 377h6v6h-6zM515 382h6v6h-6zM510 387h6v6h-6zM670 387h6v6h-6zM510 392h6v6h-6zM670 392h6v6h-6zM505 397h6v6h-6zM670 397h6v6h-6zM505 402h6v6h-6zM505 407h6v6h-6zM665 407h6v6h-6zM510 412h6v6h-6zM515 417h6v6h-6zM520 422h16v6h-16zM580 422h61v6h-61zM540 427h36v6h-36z"/><path fill="#166d84" d="M585 367h51v6h-51zM550 372h31v6h-31zM530 377h16v6h-16zM520 382h11v6h-11zM665 382h6v6h-6zM515 387h11v6h-11zM515 392h6v6h-6zM510 397h6v6h-6zM510 402h6v6h-6zM665 402h6v6h-6zM510 407h11v6h-11zM515 412h6v6h-6zM660 412h6v6h-6zM520 417h11v6h-11zM585 417h16v6h-16zM625 417h11v6h-11zM535 422h46v6h-46zM640 422h16v6h-16z"/><path fill="#127385" d="M645 357h11v6h-11zM655 362h6v6h-6zM580 372h16v6h-16zM660 372h6v6h-6zM545 377h26v6h-26zM530 382h16v6h-16zM525 387h6v6h-6zM665 387h6v6h-6zM520 392h6v6h-6zM665 392h6v6h-6zM515 397h6v6h-6zM665 397h6v6h-6zM515 402h6v6h-6zM520 407h6v6h-6zM520 412h11v6h-11zM530 417h16v6h-16zM565 417h21v6h-21zM600 417h26v6h-26zM635 417h6v6h-6zM655 417h6v6h-6z"/><path fill="#0e7986" d="M640 362h6v6h-6zM635 367h6v6h-6zM595 372h21v6h-21zM625 372h6v6h-6zM570 377h21v6h-21zM545 382h21v6h-21zM530 387h16v6h-16zM525 392h11v6h-11zM520 397h11v6h-11zM520 402h11v6h-11zM525 407h11v6h-11zM660 407h6v6h-6zM530 412h16v6h-16zM570 412h36v6h-36zM545 417h21v6h-21zM640 417h6v6h-6z"/><path fill="#0e8088" d="M615 372h11v6h-11zM630 372h6v6h-6zM590 377h6v6h-6zM660 377h6v6h-6zM565 382h21v6h-21zM545 387h21v6h-21zM535 392h11v6h-11zM530 397h11v6h-11zM530 402h11v6h-11zM535 407h11v6h-11zM570 407h21v6h-21zM545 412h26v6h-26zM605 412h31v6h-31zM650 417h6v6h-6z"/><path fill="#0d868a" d="M650 362h6v6h-6zM655 367h6v6h-6zM595 377h11v6h-11zM585 382h6v6h-6zM565 387h16v6h-16zM545 392h31v6h-31zM540 397h21v6h-21zM540 402h46v6h-46zM660 402h6v6h-6zM545 407h26v6h-26zM590 407h11v6h-11zM635 412h6v6h-6zM655 412h6v6h-6zM645 417h6v6h-6z"/><path fill="#148b8c" d="M645 362h6v6h-6zM635 372h6v6h-6zM605 377h16v6h-16zM625 377h6v6h-6zM590 382h6v6h-6zM660 382h6v6h-6zM580 387h11v6h-11zM575 392h11v6h-11zM560 397h26v6h-26zM585 402h11v6h-11zM600 407h11v6h-11z"/><path fill="#1e908e" d="M640 367h6v6h-6zM620 377h6v6h-6zM630 377h6v6h-6zM595 382h6v6h-6zM590 387h6v6h-6zM660 387h6v6h-6zM585 392h6v6h-6zM660 392h6v6h-6zM585 397h6v6h-6zM660 397h6v6h-6zM595 402h6v6h-6zM610 407h26v6h-26zM640 412h6v6h-6z"/><path fill="#279590" d="M600 382h11v6h-11zM595 387h6v6h-6zM590 392h6v6h-6zM590 397h6v6h-6zM600 402h6v6h-6zM635 407h6v6h-6z"/><path fill="#309b92" d="M655 372h6v6h-6zM635 377h6v6h-6zM610 382h6v6h-6zM600 387h6v6h-6zM595 392h6v6h-6zM595 397h6v6h-6zM605 402h6v6h-6zM655 407h6v6h-6zM650 412h6v6h-6z"/><path fill="#39a094" d="M650 367h6v6h-6zM615 382h21v6h-21zM600 392h6v6h-6zM600 397h6v6h-6zM610 402h26v6h-26zM645 412h6v6h-6z"/><path fill="#41a695" d="M645 367h6v6h-6zM640 372h6v6h-6zM605 387h11v6h-11zM605 392h6v6h-6zM605 397h6v6h-6z"/><path fill="#4aac97" d="M615 387h21v6h-21zM610 392h6v6h-6zM610 397h11v6h-11zM635 402h6v6h-6zM655 402h6v6h-6zM640 407h6v6h-6z"/><path fill="#52b198" d="M655 377h6v6h-6zM635 382h6v6h-6zM615 392h21v6h-21zM620 397h16v6h-16z"/><path fill="#5bb69a" d="M650 407h6v6h-6z"/><path fill="#64bc9b" d="M635 387h6v6h-6zM635 397h6v6h-6z"/><path fill="#6cc19c" d="M645 372h11v6h-11zM640 377h6v6h-6zM655 382h6v6h-6zM635 392h6v6h-6zM655 397h6v6h-6zM645 407h6v6h-6z"/><path fill="#73c49c" d="M640 402h6v6h-6z"/><path fill="#7bc89d" d="M655 387h6v6h-6zM655 392h6v6h-6z"/><path fill="#89ce9e" d="M640 382h6v6h-6zM650 402h6v6h-6z"/><path fill="#91d29e" d="M650 377h6v6h-6zM640 397h6v6h-6z"/><path fill="#98d59f" d="M645 377h6v6h-6zM645 402h6v6h-6z"/><path fill="#a0d8a0" d="M640 387h6v6h-6zM640 392h6v6h-6z"/><path fill="#afdea2" d="M650 397h6v6h-6z"/><path fill="#b7e2a4" d="M650 382h6v6h-6z"/><path fill="#bee5a5" d="M645 382h6v6h-6zM645 397h6v6h-6z"/><path fill="#c6e8a6" d="M650 392h6v6h-6z"/><path fill="#ceeba8" d="M650 387h6v6h-6z"/><path fill="#d6eea9" d="M645 387h6v6h-6zM645 392h6v6h-6z"/></g></g><path d="M674.0 357.5h0M561.4 453.8h0M563.5 346.7h0M488.9 440.3h0M486.0 447.0h0M673.1 349.8h0M493.4 453.6h0M511.5 351.4h0M628.9 321.9h0M514.7 465.8h0M608.5 332.0h0M626.5 319.2h0M535.5 345.4h0M537.5 464.1h0M485.2 428.5h0M671.6 460.6h0M636.5 318.0h0M675.0 342.3h0M658.0 468.3h0M569.4 453.8h0M674.0 351.7h0M628.4 462.4h0M651.2 467.3h0M481.6 370.3h0M673.5 310.7h0M588.0 460.0h0M535.2 457.6h0M674.4 384.9h0M530.4 347.7h0M672.0 419.6h0M612.1 329.0h0M536.2 457.9h0M634.0 459.4h0M593.1 337.3h0M488.5 440.1h0M669.5 325.6h0M507.0 356.3h0M673.3 441.6h0M635.6 468.4h0M533.4 347.2h0M674.3 367.4h0M558.8 453.0h0M635.1 467.2h0M581.8 456.9h0M669.5 463.5h0M673.9 322.2h0M617.4 327.9h0M659.1 464.7h0M595.9 335.1h0M482.8 405.6h0M601.4 463.5h0M486.7 430.3h0M575.7 338.2h0M487.4 433.3h0M675.0 342.7h0M630.0 470.5h0M495.9 457.9h0M621.3 322.7h0M616.7 328.0h0M641.4 312.9h0M637.4 469.8h0M589.6 338.0h0M539.4 460.0h0M671.8 460.8h0M499.4 360.4h0M535.5 455.1h0M493.6 453.4h0M559.5 341.8h0M544.3 457.5h0M610.9 463.8h0M544.7 456.7h0M647.7 469.0h0M625.1 319.8h0M487.2 454.0h0M673.3 326.2h0M663.1 310.5h0M669.7 454.4h0M674.0 440.0h0M523.3 463.8h0M574.2 340.1h0M623.1 323.7h0M672.1 384.5h0M570.2 454.8h0M495.5 455.2h0M579.0 341.5h0M623.8 461.7h0M487.7 438.1h0M628.1 317.1h0M542.3 456.0h0M484.0 424.1h0M672.7 420.5h0M483.5 442.4h0M604.4 465.2h0M572.3 342.6h0M568.3 455.4h0M495.7 361.1h0M673.4 317.3h0M480.4 390.1h0M571.3 454.6h0M615.3 463.0h0M670.7 339.9h0M489.8 456.8h0M560.3 346.5h0M615.9 462.9h0M527.8 460.5h0M503.0 357.0h0M614.4 464.0h0M673.8 313.1h0M624.3 465.3h0M672.7 418.2h0M604.3 332.9h0M601.7 334.2h0M515.4 460.2h0M605.1 464.7h0M505.3 357.4h0M670.0 458.3h0M657.8 313.4h0M619.1 472.1h0M518.7 349.5h0M626.2 461.2h0M591.1 463.9h0M646.0 312.4h0M674.4 350.6h0M564.4 345.9h0M485.0 429.1h0M483.3 376.8h0M646.6 471.9h0M489.5 442.5h0M674.0 334.7h0M566.5 342.8h0M631.2 468.9h0M489.7 440.3h0M483.3 404.7h0M672.7 319.5h0M674.3 415.4h0M652.4 310.6h0M661.0 312.8h0M636.5 470.3h0M485.4 446.6h0M671.5 460.0h0M641.3 468.8h0M483.3 424.7h0M590.5 463.3h0M623.1 326.4h0M506.0 460.8h0M485.5 448.6h0M671.9 420.9h0M602.1 464.6h0M508.2 355.5h0M662.0 465.9h0M483.3 423.9h0M647.0 311.7h0M481.0 422.0h0M528.7 462.8h0M498.7 361.1h0M658.6 309.2h0M490.2 451.8h0M603.7 466.7h0M643.0 472.1h0M673.9 420.1h0M601.9 462.0h0M622.1 471.6h0M483.2 373.2h0M639.6 467.3h0M645.1 312.5h0M632.7 315.5h0M551.3 346.6h0M504.0 461.8h0M641.9 313.6h0M669.1 465.3h0M668.9 312.7h0M668.3 465.1h0M509.1 351.0h0M674.1 404.5h0M668.0 460.1h0M484.2 416.9h0M622.1 465.4h0M621.9 324.0h0M509.4 461.9h0M496.4 361.6h0M662.6 308.2h0M486.6 367.1h0M674.3 313.3h0M549.6 345.6h0M667.0 314.4h0M658.5 469.0h0M661.1 317.7h0M652.5 466.6h0M489.4 452.6h0M672.7 313.8h0M529.7 459.9h0M610.0 330.8h0M672.1 448.4h0M511.8 461.1h0M536.7 456.2h0M569.1 454.7h0M518.9 347.2h0M645.6 468.9h0M541.0 459.5h0M527.1 461.8h0M668.4 307.8h0M667.3 309.6h0M621.7 323.1h0M542.6 466.9h0M632.0 463.3h0M666.8 459.4h0M560.0 343.3h0M483.6 375.7h0M618.4 329.0h0M563.0 342.9h0M564.2 344.5h0M636.5 466.1h0M661.8 467.5h0M510.4 461.1h0M673.4 400.4h0M649.5 462.0h0M641.7 309.0h0M674.8 366.8h0M486.4 368.3h0M674.4 382.1h0M537.5 345.5h0M659.6 467.2h0M673.3 450.7h0M529.3 350.6h0M595.9 336.9h0M485.3 435.6h0M632.4 466.9h0M641.6 314.6h0M570.4 341.8h0M562.8 345.6h0M616.4 328.2h0M478.3 421.3h0M494.0 454.0h0M609.2 464.3h0M633.6 316.6h0M587.1 340.9h0M631.4 314.7h0M481.8 381.7h0M620.2 462.2h0M650.2 467.5h0M485.9 368.4h0M512.4 461.7h0M506.5 357.1h0M597.2 331.5h0M674.2 329.3h0M562.9 347.2h0M632.8 316.9h0M534.5 349.6h0M487.1 441.3h0M481.1 423.6h0M492.2 450.9h0M536.4 347.5h0M502.2 461.2h0M607.0 467.9h0M502.5 464.1h0M528.6 462.2h0M491.4 362.2h0M609.4 332.6h0M570.7 458.0h0M655.4 308.5h0M540.8 348.3h0M519.4 458.6h0M604.9 330.8h0M664.0 465.3h0M664.7 464.0h0M604.6 332.1h0M518.5 463.0h0M668.3 310.6h0M633.4 317.6h0M530.5 461.1h0M585.0 457.2h0M509.0 459.3h0M619.1 465.7h0M565.1 343.3h0M634.2 462.1h0M574.1 457.1h0M546.0 345.7h0M617.1 464.3h0M620.7 467.8h0M510.0 356.3h0M542.2 458.1h0M604.3 331.9h0M668.4 312.9h0M673.9 403.8h0M529.1 461.5h0M547.9 346.0h0M671.9 413.6h0M670.1 332.6h0M481.8 426.4h0M581.6 342.7h0M671.8 412.4h0M607.6 327.3h0M668.1 311.1h0M481.9 401.9h0M603.6 334.0h0M478.5 375.1h0M672.1 418.9h0M605.9 464.2h0M480.7 383.8h0M626.7 466.0h0M490.3 453.6h0M672.0 421.5h0M483.1 431.6h0M533.9 458.9h0M621.6 469.5h0M673.9 338.9h0M609.6 331.2h0M618.0 326.9h0M672.1 404.9h0M604.3 465.4h0M527.5 464.1h0M519.1 352.5h0M665.7 310.7h0M660.4 312.6h0M587.1 339.2h0M669.6 452.0h0M513.7 458.5h0M511.8 462.1h0M607.8 331.0h0M482.7 424.2h0M653.8 314.3h0M537.2 460.5h0M671.4 420.4h0M641.2 470.3h0M674.5 384.1h0M555.1 453.1h0M670.6 456.7h0M637.9 319.2h0M486.9 435.1h0M484.3 437.5h0M673.1 359.4h0M608.1 463.0h0M484.2 367.1h0M488.1 438.3h0M504.3 462.2h0M485.3 437.3h0M488.4 434.6h0M487.1 453.0h0M674.5 318.1h0M485.8 366.2h0M644.8 308.8h0M505.1 355.4h0M664.8 468.8h0M557.0 344.4h0M671.4 455.4h0M493.1 450.3h0M672.5 310.9h0M648.1 313.8h0M584.7 456.0h0M588.6 338.0h0M598.5 461.2h0M620.4 467.7h0M674.3 327.9h0M518.8 462.6h0M582.4 341.0h0M551.8 343.7h0M606.9 467.1h0M483.3 415.0h0M570.8 458.3h0M670.0 446.7h0M539.3 348.0h0M486.0 435.3h0M529.0 462.6h0M603.2 331.3h0M622.8 320.9h0M544.9 345.6h0M537.0 456.0h0M618.8 463.7h0M674.4 432.6h0M632.5 319.8h0M479.5 402.5h0M618.9 463.3h0M510.3 463.9h0M549.5 345.8h0M549.3 346.0h0M497.7 459.8h0M608.7 461.4h0M483.5 376.0h0M615.1 326.9h0M675.0 379.6h0M486.0 449.1h0M482.3 377.1h0M567.6 456.6h0M618.8 462.2h0M523.3 464.1h0M671.7 453.3h0M561.2 454.3h0M494.8 457.4h0M531.9 454.9h0M661.8 464.4h0M574.0 465.7h0M574.2 469.5h0M608.1 462.0h0M608.6 469.5h0M608.5 473.2h0M549.0 466.2h0M549.7 478.9h0M660.0 462.0h0M660.4 467.2h0M660.5 472.5h0M497.3 465.9h0M497.3 473.8h0M493.4 474.0h0M493.3 486.0h0M554.4 469.7h0M554.1 473.5h0M554.1 477.4h0M554.3 481.2h0M506.8 462.0h0M506.5 466.0h0M506.8 470.0h0M506.6 474.1h0M506.5 478.1h0M507.0 482.1h0M575.9 462.0h0M575.3 465.6h0M575.4 476.5h0M575.3 483.8h0M575.2 487.4h0M666.9 465.7h0M667.1 480.7h0M667.2 484.5h0M667.4 488.2h0M508.2 333.0h0M508.0 337.2h0M507.7 345.7h0M508.0 350.0h0M566.1 329.2h0M566.7 333.4h0M566.5 337.5h0M535.8 342.8h0M536.1 346.4h0M548.5 340.1h0M548.7 345.1h0M565.8 338.3h0M565.6 346.1h0M565.2 325.3h0M565.0 345.9h0M509.5 337.4h0M510.1 341.6h0M509.6 345.8h0M509.5 350.0h0M440.4 374.0h0M440.4 378.0h0M440.4 382.1h0M440.4 386.1h0M440.4 390.2h0M440.4 394.2h0M440.4 398.3h0M440.4 402.3h0M440.4 406.3h0M440.4 410.4h0M440.4 414.4h0M440.4 418.5h0M440.4 422.5h0M440.4 426.6h0M440.4 430.6h0M440.4 434.7h0M440.4 438.7h0M440.4 442.7h0M440.4 446.8h0M440.4 450.8h0M440.4 454.9h0M440.4 458.9h0M440.4 463.0h0M440.4 467.0h0M463.8 364.0h0M463.8 368.8h0M463.8 373.5h0M463.8 378.2h0M463.8 383.0h0M463.8 387.8h0M463.8 392.5h0M463.8 397.2h0M463.8 402.0h0M463.8 406.8h0M463.8 411.5h0M463.8 416.2h0M463.8 421.0h0M463.8 425.8h0M463.8 430.5h0M463.8 435.2h0M463.8 440.0h0M454.7 372.0h0M454.7 376.0h0M454.7 380.0h0M454.7 442.0h0M469.9 452.0h0M455.0 379.0h0M548.0 313.0h0M520.0 321.0h0M506.0 331.0h0M543.9 319.0h0M543.9 323.3h0M543.9 327.7h0M543.9 332.0h0M543.9 336.3h0M543.9 340.7h0M543.9 345.0h0M588.7 319.2h0M613.3 324.7h0M611.4 323.3h0M524.8 340.5h0M562.5 324.9h0M477.8 359.6h0M571.8 333.5h0M514.7 334.6h0M534.5 333.2h0M594.9 328.2h0M611.6 322.3h0M591.7 327.7h0M546.2 342.2h0M536.0 335.1h0M542.0 343.2h0M508.9 339.4h0M598.7 330.4h0M503.1 348.3h0M561.1 331.8h0M596.6 324.9h0M499.4 343.5h0M534.3 328.5h0M526.2 340.7h0M524.8 332.1h0M581.8 334.0h0M482.5 351.3h0M584.5 319.8h0M544.5 326.8h0M613.0 323.7h0M503.4 349.2h0M536.6 338.3h0M597.8 324.1h0M474.2 365.1h0M541.5 328.8h0M514.1 335.1h0M628.6 318.2h0M559.8 332.1h0M604.5 325.4h0M488.5 347.9h0M554.0 331.6h0M493.9 347.0h0M560.6 320.2h0M518.0 344.9h0M553.3 335.1h0M525.3 344.7h0M590.1 321.9h0M570.4 319.6h0M550.2 337.2h0M576.1 329.7h0M557.8 336.3h0M569.8 319.7h0M563.3 324.6h0M616.1 325.4h0M611.4 316.9h0M616.6 320.5h0M633.2 318.5h0M581.9 319.7h0M639.8 315.7h0M620.5 325.2h0M610.5 328.7h0M478.0 364.0h0M523.6 333.7h0M542.0 325.8h0M595.5 323.3h0M483.8 356.3h0M529.9 339.1h0M554.5 335.9h0M478.7 355.3h0M631.7 319.4h0M541.7 335.1h0M482.3 363.2h0M480.2 365.3h0M601.4 329.8h0M592.4 323.7h0M575.4 319.7h0M571.5 334.9h0M586.0 330.7h0M637.3 310.3h0M627.7 315.5h0M565.7 337.5h0M622.2 312.9h0M623.1 316.8h0M631.2 315.6h0M517.6 344.1h0M586.6 322.1h0M505.3 339.8h0M515.2 339.5h0M510.8 340.6h0M580.0 328.3h0M486.9 356.5h0M499.8 346.2h0M574.5 320.2h0M636.2 315.6h0M547.3 328.8h0M637.7 317.9h0M587.5 323.4h0M579.8 329.4h0M591.7 319.9h0M617.2 325.2h0M503.6 348.2h0M595.6 328.2h0M525.2 338.1h0M558.9 338.3h0M499.6 349.8h0M545.8 330.7h0M567.5 322.8h0M517.0 334.6h0M517.6 337.0h0M574.0 322.9h0M543.1 343.1h0M620.5 317.4h0M554.3 335.7h0M578.5 323.2h0M564.9 327.9h0M490.6 357.0h0M622.3 322.0h0M527.6 341.0h0M594.2 333.1h0M531.9 330.3h0M508.0 347.3h0M512.8 346.8h0M536.3 340.4h0M560.4 336.1h0M583.7 331.6h0M485.0 361.7h0M513.3 344.1h0M622.5 316.9h0M499.0 347.2h0M478.1 360.1h0M586.8 318.2h0M506.8 499.8h0M511.7 469.2h0M479.9 490.8h0M564.2 481.6h0M518.0 472.9h0M563.3 494.0h0M518.3 468.7h0M531.0 473.7h0M470.8 464.0h0M585.4 480.8h0M633.9 478.5h0M521.6 476.1h0M496.5 480.1h0M601.5 466.5h0M602.4 472.6h0M490.7 495.2h0M604.4 486.7h0M576.7 474.1h0M629.1 481.7h0M626.8 491.8h0M533.5 495.5h0M536.5 486.3h0M588.1 467.2h0M500.6 496.2h0M528.5 464.7h0M579.9 477.2h0M502.7 475.9h0M544.8 464.0h0M497.4 472.4h0M574.3 464.3h0M590.6 475.2h0M527.1 497.1h0M611.0 478.5h0M519.4 481.4h0M593.2 493.0h0M573.8 481.6h0M491.7 494.2h0M627.0 472.3h0M528.2 481.6h0M488.6 468.8h0M633.8 480.7h0M538.9 499.2h0M613.6 487.7h0M570.0 469.8h0M513.0 475.7h0M614.9 494.8h0M479.2 479.2h0M556.1 466.6h0M605.4 466.5h0M483.3 482.6h0M537.3 493.8h0M547.7 469.8h0M615.2 489.3h0M512.0 478.4h0M613.6 487.8h0M522.8 474.1h0M592.9 490.5h0M568.1 483.4h0M645.6 472.9h0M612.9 491.3h0M601.7 475.3h0M494.6 499.8h0M520.4 479.4h0M525.3 486.2h0M591.4 492.4h0M498.9 470.6h0M627.8 482.1h0M610.4 479.2h0M605.9 467.9h0M589.7 489.3h0M523.5 475.3h0M639.0 470.1h0M527.9 500.8h0M579.8 480.3h0M498.0 483.6h0M533.4 469.8h0M618.7 483.9h0M591.7 470.8h0M544.5 463.2h0M597.2 473.5h0M624.2 482.2h0M618.4 490.2h0M476.0 486.5h0M471.4 477.0h0M537.0 498.0h0M536.7 467.4h0M504.4 467.2h0M605.8 478.2h0M603.9 467.6h0M578.1 497.3h0M524.5 496.4h0M497.3 488.6h0M477.9 469.2h0M483.7 467.1h0M570.7 495.3h0M517.0 501.1h0M550.9 488.7h0M607.2 470.5h0M523.4 478.1h0M534.9 491.5h0M634.6 488.4h0M505.8 500.9h0M545.3 483.5h0M508.5 469.6h0M550.1 483.9h0M518.6 483.5h0M551.0 468.1h0M592.9 472.7h0M476.9 469.1h0M550.0 486.4h0M475.4 472.2h0M533.8 489.0h0M487.0 467.5h0M534.7 474.6h0M590.6 473.3h0M634.4 475.0h0M511.9 497.7h0M513.8 476.6h0M537.2 467.2h0M631.0 475.3h0M610.4 491.6h0M641.8 474.8h0M611.4 492.8h0M504.3 475.1h0M576.6 495.0h0M515.2 482.8h0M611.6 489.7h0M538.4 466.9h0M576.6 482.2h0M521.8 502.1h0M476.0 465.4h0M539.5 496.8h0M480.9 482.3h0M613.9 486.8h0M553.9 487.9h0M605.2 480.3h0M521.2 487.1h0M592.1 477.3h0M500.8 473.1h0M576.3 478.0h0M581.6 468.7h0M621.8 497.2h0M504.5 495.7h0M487.9 464.6h0M577.0 469.0h0M544.7 475.0h0M614.5 493.7h0M519.4 496.3h0M546.4 463.3h0M565.8 469.0h0M590.4 476.6h0M500.7 492.6h0M510.4 481.0h0M552.9 461.4h0M508.0 468.0h0M517.7 486.0h0M637.1 476.2h0M563.9 475.5h0M635.6 489.2h0M549.1 495.5h0M514.5 473.3h0M632.6 469.7h0M483.9 463.0h0M622.0 481.1h0M650.7 473.4h0M497.2 466.4h0M612.9 481.2h0M562.6 462.2h0M579.2 482.5h0M618.6 474.5h0M466.5 465.0h0M476.3 394.0h0M485.4 459.2h0M475.7 440.4h0M477.2 463.0h0M468.9 435.8h0M470.5 392.3h0M483.2 363.8h0M486.2 437.6h0M486.4 452.3h0M479.1 401.2h0M468.1 459.9h0M472.4 466.0h0M473.3 374.7h0M471.1 436.4h0M480.9 423.9h0M480.7 373.7h0M483.2 366.9h0M468.3 424.2h0M485.9 434.3h0M484.8 453.4h0M480.7 461.2h0M487.4 451.3h0M469.2 388.1h0M475.9 417.8h0M476.2 457.4h0M480.1 461.1h0M472.3 468.1h0M468.3 398.8h0M469.8 431.5h0M476.1 454.8h0M487.3 456.7h0M472.8 428.5h0M475.6 468.9h0M478.3 370.0h0M466.8 456.0h0M482.6 401.3h0M467.1 361.6h0M476.7 384.6h0M480.6 466.5h0M476.5 450.9h0M468.5 438.1h0M470.6 453.5h0M478.0 396.4h0M474.6 381.4h0M481.9 410.9h0M469.1 387.0h0M474.4 387.1h0M469.5 418.3h0M481.1 377.8h0M477.0 448.0h0M472.5 451.7h0M468.0 390.2h0M466.0 372.9h0M481.3 461.4h0M483.0 380.1h0M479.3 427.8h0M472.0 362.4h0M660.9 463.1h0M626.5 458.5h0M642.3 323.6h0M494.2 451.1h0M515.7 454.4h0M629.2 465.1h0M660.6 460.0h0M484.7 427.4h0M537.1 456.4h0M667.4 462.3h0M619.1 461.2h0M623.6 460.3h0M670.1 458.7h0M619.0 456.6h0M656.9 457.2h0M626.1 466.7h0M620.7 458.6h0M648.2 316.4h0M638.2 322.3h0M650.3 464.2h0M655.4 313.8h0M656.1 314.9h0M613.0 460.8h0M613.6 463.1h0M609.1 458.1h0M646.9 459.6h0M632.9 322.1h0M506.3 453.8h0M494.2 437.5h0M639.2 467.9h0M489.8 439.8h0M491.2 434.3h0M653.3 319.8h0M503.4 450.5h0M626.6 464.3h0M606.3 458.7h0M642.1 319.6h0M496.9 455.6h0M524.6 457.7h0M502.5 453.2h0M625.4 459.4h0M653.7 320.3h0M532.4 453.6h0M644.4 320.7h0M602.8 459.0h0M654.3 321.9h0M652.5 315.6h0M639.6 460.3h0M650.0 460.9h0M629.8 321.3h0M624.3 329.9h0M509.8 452.9h0M508.7 450.8h0M519.5 458.5h0M503.9 459.6h0M655.3 314.7h0M642.7 318.2h0M487.4 440.1h0M655.6 314.7h0M530.2 454.0h0M494.7 439.0h0M645.1 461.3h0M640.7 322.1h0M654.5 315.6h0M618.5 459.1h0M501.6 459.7h0M511.7 450.5h0M492.0 445.0h0M658.0 311.4h0M538.1 454.3h0M511.9 458.8h0M506.0 452.1h0M628.8 321.5h0M618.5 332.0h0M500.3 450.6h0M634.5 318.3h0M530.0 459.4h0M543.2 456.1h0M501.1 456.9h0M645.1 464.7h0M507.7 460.6h0M484.6 425.5h0M533.5 457.5h0M640.6 461.2h0M654.0 460.8h0M660.3 463.5h0M532.2 454.0h0M635.7 460.5h0M514.1 454.9h0M658.0 456.9h0M654.5 316.4h0M501.6 459.6h0M638.2 315.2h0M513.8 451.1h0M536.4 455.6h0M490.7 442.4h0M509.8 457.4h0M620.5 461.8h0M516.7 460.0h0M493.8 447.5h0M502.8 449.9h0M516.9 453.6h0M625.9 322.0h0M493.5 448.6h0M623.9 332.4h0M630.3 330.3h0M652.3 465.2h0M610.1 332.7h0M641.7 321.1h0M512.2 460.8h0M513.6 453.1h0M487.0 444.2h0M490.5 435.0h0M639.2 462.4h0M644.0 318.8h0M641.6 317.2h0M645.1 322.7h0M521.0 461.7h0M529.6 457.8h0M641.6 463.9h0M644.7 317.0h0M518.4 455.0h0M539.0 457.7h0M497.5 452.0h0M614.9 330.1h0M645.3 460.7h0M662.9 463.3h0M653.2 458.1h0M650.7 459.8h0M538.5 454.9h0M617.8 459.1h0M614.7 457.7h0M506.1 456.6h0M645.0 316.2h0M619.4 333.4h0M631.1 455.6h0M630.9 323.2h0M627.5 330.5h0M499.5 447.6h0M503.9 462.0h0M649.9 321.4h0M625.9 324.1h0M626.6 457.2h0M635.8 323.7h0M518.6 458.7h0M655.3 316.7h0M655.3 456.8h0M634.7 319.9h0M617.0 329.5h0M627.2 331.3h0M536.7 454.8h0M509.2 459.9h0M545.3 455.5h0M616.5 329.9h0M636.5 457.6h0M517.8 452.5h0M652.9 458.1h0M508.3 456.8h0M653.5 458.8h0M488.1 433.6h0M649.0 461.8h0M536.0 459.2h0M627.3 456.8h0M521.3 462.2h0M491.4 446.5h0M535.8 459.6h0M627.0 324.7h0M607.7 460.6h0M597.8 459.1h0M612.5 461.8h0M652.3 315.1h0M607.1 458.3h0M508.7 457.2h0M652.7 457.8h0M613.5 457.0h0M636.0 458.9h0M656.1 460.8h0M642.1 463.0h0M611.1 464.8h0M492.8 442.6h0M498.5 449.2h0M663.8 458.4h0M644.9 466.4h0M602.4 459.7h0M628.5 462.9h0M628.0 465.6h0M635.8 459.8h0M647.1 459.3h0M526.1 460.0h0M642.7 315.1h0M639.8 316.1h0M501.4 453.9h0M643.1 320.2h0M652.1 466.2h0M637.5 463.3h0M651.0 316.7h0M632.7 323.4h0M626.4 458.3h0M635.8 466.6h0M619.1 329.9h0M612.8 464.6h0M649.3 468.1h0M654.8 314.9h0M503.1 459.6h0M641.0 320.2h0M516.2 452.6h0M501.8 456.3h0M506.5 451.2h0M657.9 316.0h0M493.7 441.7h0M484.5 426.0h0M656.6 462.7h0M504.9 457.3h0M637.8 322.9h0M637.6 323.9h0M653.6 317.8h0M627.9 458.5h0M534.0 457.8h0M623.4 332.5h0M500.7 449.9h0M538.5 456.4h0M660.2 463.7h0M644.9 459.5h0M653.9 321.8h0M523.4 453.8h0M654.8 456.8h0M651.5 314.4h0M542.0 456.3h0M643.0 468.2h0M632.8 459.6h0M647.5 318.1h0M619.5 459.1h0M646.9 319.3h0M616.5 332.9h0M621.1 463.5h0M494.2 443.3h0M631.5 459.3h0M502.5 451.1h0M498.8 455.8h0M616.9 463.4h0M492.0 447.6h0M654.8 317.1h0M497.1 444.3h0M605.4 460.4h0M519.4 460.0h0M641.7 322.9h0M503.3 456.0h0M493.0 442.9h0M600.8 458.3h0M500.3 450.2h0M623.5 467.2h0M506.3 459.4h0M620.8 328.8h0M502.6 459.9h0M657.0 456.9h0M496.1 440.2h0M639.2 322.3h0M644.5 460.0h0M628.2 455.9h0M509.1 452.6h0M617.5 465.3h0M658.4 464.0h0M654.8 465.7h0M508.2 451.3h0M614.6 330.3h0M617.3 459.1h0M655.2 458.3h0M661.8 463.4h0M488.9 365.6h0M650.6 461.3h0M487.5 433.4h0M614.6 457.8h0M532.7 458.6h0M623.0 327.5h0M516.0 457.3h0M532.2 455.3h0M671.7 458.1h0M616.0 328.8h0M607.5 463.6h0M608.8 458.5h0M489.6 364.0h0M501.4 449.4h0M620.4 329.6h0M628.3 321.2h0M612.0 457.2h0M517.8 460.8h0M650.5 319.8h0M502.6 450.2h0M635.0 326.7h0M631.8 456.5h0M657.8 461.0h0M591.3 459.1h0M651.2 463.6h0M523.5 460.6h0M663.0 458.7h0M624.5 328.4h0M623.7 459.9h0M636.7 461.4h0M658.3 458.5h0M642.6 463.3h0M625.1 462.1h0M628.1 332.4h0M625.7 467.0h0M666.4 463.3h0M536.8 454.2h0M622.4 460.0h0M645.0 322.8h0M634.0 457.0h0M634.7 466.8h0M623.7 330.5h0M648.1 459.1h0M658.4 463.0h0M508.9 460.4h0M519.4 456.9h0M658.2 464.5h0M649.8 319.9h0M644.6 468.2h0M630.8 456.0h0M628.5 327.9h0M644.4 319.9h0M492.6 453.1h0M636.4 463.9h0M653.4 458.2h0M536.0 454.8h0M513.8 452.6h0M528.9 458.4h0M634.9 459.9h0M622.0 327.2h0M634.4 321.7h0M646.8 322.2h0M646.7 458.5h0M645.5 315.0h0M639.5 464.0h0M525.7 452.7h0M492.8 437.6h0M618.9 465.1h0M495.2 453.6h0M638.1 458.8h0M522.4 460.5h0M646.8 313.4h0M504.4 453.0h0M518.8 456.4h0M638.8 464.1h0M627.2 459.8h0M613.7 457.2h0M608.0 458.1h0M506.7 459.9h0M531.5 458.1h0M642.8 465.3h0M507.2 451.8h0M666.6 462.7h0M530.2 454.1h0M632.9 463.8h0M635.9 460.0h0M500.9 458.5h0M634.4 323.2h0M646.6 320.3h0M510.9 451.9h0M521.3 462.0h0M643.1 321.0h0M497.8 452.6h0M621.2 328.2h0M529.4 458.8h0M511.6 454.6h0M632.2 456.7h0M486.7 443.4h0M613.0 461.4h0M638.5 322.8h0M636.7 463.4h0M625.2 463.2h0M495.3 438.9h0M652.8 456.7h0M513.6 460.7h0M489.1 432.5h0M661.0 460.0h0M621.2 459.4h0M613.9 459.8h0M502.8 456.6h0M637.5 466.2h0M643.2 463.7h0M624.6 322.5h0M621.1 328.9h0M660.0 459.9h0M667.7 462.0h0M490.6 447.9h0M632.2 459.3h0M490.9 443.7h0M489.2 448.5h0M640.4 462.7h0M526.5 458.0h0M663.0 465.4h0M639.5 323.5h0M528.5 455.5h0M649.0 458.8h0M511.1 452.1h0M623.8 329.6h0M647.1 314.7h0M520.0 454.6h0M509.3 455.5h0M638.9 462.8h0M544.4 456.1h0M634.7 326.3h0M493.4 441.7h0M631.9 459.6h0M644.3 320.4h0M657.3 315.3h0M653.6 318.4h0M512.2 455.3h0M641.3 322.0h0M496.3 453.9h0M650.3 320.9h0M636.4 460.4h0M655.5 461.8h0M657.3 315.3h0M512.8 454.1h0M510.5 450.5h0M487.5 443.0h0M634.7 327.3h0M498.9 454.3h0M635.1 320.3h0M633.4 324.5h0M510.3 452.1h0M642.6 320.8h0M495.3 448.6h0M628.9 323.2h0M662.9 463.9h0M528.9 456.0h0M623.0 333.3h0M644.2 466.2h0M493.1 445.8h0M504.6 457.9h0M661.6 461.0h0M644.7 460.5h0M656.8 458.0h0M493.4 446.5h0M644.7 321.9h0M653.2 316.5h0M645.9 465.5h0M633.2 457.2h0M499.1 449.3h0M495.7 443.8h0M515.1 454.2h0M611.2 464.0h0M523.2 456.2h0M597.3 460.1h0M614.3 462.6h0M504.9 457.2h0M641.7 322.1h0M657.5 317.1h0M653.9 320.1h0M644.6 460.9h0M505.7 456.0h0M630.5 456.8h0M498.5 448.4h0M620.6 457.5h0M494.6 448.5h0M648.4 465.8h0M531.0 456.0h0M500.0 453.8h0M535.2 459.4h0M650.8 460.2h0M536.6 458.4h0M645.1 316.7h0M515.8 452.1h0M651.7 458.7h0M635.0 325.8h0M649.7 316.9h0M646.3 316.9h0M636.8 458.3h0M500.3 454.7h0M614.7 328.0h0M628.7 326.0h0M514.7 452.5h0M647.5 318.8h0M639.7 322.6h0M518.1 454.1h0M627.4 332.1h0M641.1 461.2h0M504.8 453.5h0M641.1 323.0h0M627.7 456.8h0M657.9 313.8h0M499.8 449.7h0M537.5 454.4h0M656.8 318.0h0M615.9 327.9h0M487.9 446.8h0M605.6 462.9h0M649.2 313.5h0M622.1 460.5h0M515.7 459.0h0M520.1 461.9h0M523.6 457.4h0M625.0 460.6h0M656.2 321.6h0M500.0 455.7h0M633.1 466.6h0M509.8 452.2h0M518.6 458.3h0M524.1 457.3h0M652.4 459.0h0M629.8 456.0h0M648.7 466.8h0M639.6 469.0h0M512.6 452.1h0M651.3 312.4h0M506.7 453.3h0M499.3 455.8h0M625.4 328.6h0M637.4 321.7h0M615.9 464.6h0" stroke="#2d5083" stroke-width="4.3" stroke-linecap="round" fill="none"/><path d="M575.4 344.9h0M673.9 356.0h0M555.2 347.4h0M541.0 349.7h0M486.0 388.5h0M570.2 343.2h0M583.1 342.8h0M486.9 407.1h0M560.1 452.5h0M549.3 450.8h0M482.0 398.7h0M530.9 352.9h0M483.6 388.6h0M672.6 435.8h0M573.6 346.2h0M567.4 448.7h0M602.5 336.8h0M513.1 355.2h0M562.2 348.9h0M604.3 338.9h0M545.2 350.0h0M571.6 344.0h0M553.6 348.1h0M520.9 353.2h0M534.0 351.7h0M515.3 356.0h0M559.4 452.1h0M557.1 348.0h0M491.7 370.8h0M487.6 387.2h0M559.8 349.8h0M512.7 358.4h0M539.9 350.9h0M518.5 354.7h0M569.1 450.4h0M511.3 356.8h0M578.2 344.6h0M589.8 341.3h0M508.8 359.3h0M564.6 452.4h0M523.5 353.6h0M569.6 346.0h0M602.4 337.1h0M670.7 437.2h0M527.8 355.4h0M543.1 347.2h0M573.1 344.6h0M538.6 349.3h0M487.0 397.9h0M583.5 346.6h0M484.3 416.3h0M518.0 353.6h0M563.5 348.9h0M570.0 345.7h0M596.9 339.2h0M483.0 394.3h0M535.4 350.3h0M503.5 360.4h0M570.5 344.1h0M540.0 349.8h0M557.1 349.1h0M486.5 404.4h0M482.8 396.5h0M674.3 364.2h0M558.8 348.1h0M573.5 344.4h0M540.2 350.8h0M557.4 448.1h0M569.5 450.7h0M671.2 435.9h0M547.9 451.1h0M674.1 356.0h0M509.8 358.2h0M671.8 358.1h0M573.6 344.3h0M520.2 353.1h0M583.9 453.6h0M592.9 340.6h0M535.6 350.0h0M483.1 391.8h0M483.8 385.8h0M494.1 374.3h0M518.8 359.6h0M488.3 377.4h0M588.4 450.7h0M597.8 453.6h0M488.4 411.2h0M503.3 364.5h0M589.9 453.2h0M516.8 355.7h0M492.3 386.1h0M589.4 345.7h0M493.5 380.6h0M497.8 370.0h0M516.0 361.2h0M539.8 353.5h0M491.2 426.9h0M493.4 417.5h0M488.7 419.5h0M494.8 428.4h0M494.2 376.5h0M536.8 448.3h0M537.0 448.9h0M519.1 360.6h0M587.5 343.5h0M528.7 352.8h0M521.8 357.8h0M500.5 369.1h0M581.7 451.0h0M528.4 354.0h0M488.6 390.8h0M516.1 359.4h0M491.0 372.8h0M585.3 446.5h0M590.3 452.2h0M492.4 425.8h0M517.7 361.7h0M598.8 344.0h0M604.1 344.0h0M549.2 445.9h0M511.8 363.4h0M494.4 426.1h0M493.7 373.7h0M495.6 429.3h0M595.8 449.9h0M535.7 450.1h0M490.0 387.4h0M529.3 354.8h0M504.5 360.0h0M492.0 370.3h0M491.5 415.0h0M486.8 389.3h0M601.8 452.8h0M572.6 451.1h0M589.7 450.2h0M487.7 412.9h0M571.6 446.4h0M540.2 354.5h0M487.4 419.3h0M547.4 448.4h0M495.5 429.5h0M531.8 353.5h0M543.6 449.2h0M550.6 447.3h0M491.6 377.0h0M489.9 387.1h0M601.8 452.5h0M491.5 413.3h0M485.3 413.6h0M489.6 386.2h0M547.6 448.6h0M551.4 450.2h0M490.6 387.9h0M490.4 416.8h0M578.7 447.4h0M485.7 390.1h0M548.1 446.8h0M571.0 451.2h0M490.2 419.9h0M522.5 357.0h0M587.6 447.1h0M567.5 446.9h0M486.7 395.6h0M487.7 406.0h0M493.5 372.3h0M582.5 452.6h0M492.6 373.9h0M491.3 420.2h0M490.1 415.9h0M490.3 425.9h0M594.4 449.8h0M495.4 366.1h0M588.5 345.7h0M598.5 338.2h0M528.5 356.0h0M486.3 392.8h0M558.2 452.3h0M509.1 365.6h0M618.0 338.4h0M596.2 452.4h0M585.8 342.5h0M581.2 448.3h0M491.5 411.6h0M487.5 414.9h0M583.9 345.7h0M601.1 339.1h0M521.1 354.9h0M488.4 421.8h0M538.9 451.2h0M494.6 373.8h0M541.2 451.2h0M553.4 445.3h0M486.0 381.7h0M515.1 360.6h0M574.3 345.1h0M512.2 364.6h0M521.8 359.2h0M565.2 447.2h0M489.6 402.9h0M514.5 360.2h0M594.6 342.5h0M595.6 343.1h0M509.7 361.0h0M489.7 391.1h0M587.2 453.6h0M578.9 447.1h0M563.7 449.0h0M508.0 365.2h0M493.4 378.7h0M499.9 370.0h0M593.2 449.4h0M617.0 337.5h0M581.7 448.9h0M545.9 447.7h0M597.7 338.9h0M544.9 350.5h0M485.4 410.9h0M488.3 403.8h0M592.8 340.1h0M512.3 356.5h0M576.5 451.6h0M578.9 345.1h0M486.1 389.0h0M546.8 451.9h0M487.9 406.3h0M608.6 341.8h0M598.3 451.6h0M492.0 386.4h0M487.0 393.2h0M586.9 453.0h0M496.5 371.9h0M597.7 345.4h0M494.3 430.8h0M490.2 389.9h0M549.3 351.4h0M550.3 449.0h0M539.6 451.3h0M509.3 361.5h0M596.0 345.7h0M603.1 345.4h0M497.1 371.4h0M601.1 337.1h0M547.1 447.0h0M600.0 341.9h0M603.8 344.9h0M606.6 339.5h0M573.1 346.7h0M589.4 451.1h0M507.5 365.8h0M491.1 412.3h0M605.2 340.0h0M553.7 452.2h0M582.1 450.5h0M509.1 362.7h0M507.1 360.2h0M556.6 347.2h0M516.1 357.6h0M550.7 446.6h0M534.8 354.7h0M579.1 447.7h0M505.4 367.2h0M560.8 349.7h0M571.9 446.6h0M551.7 350.9h0M574.9 345.2h0M490.3 379.1h0M490.2 419.7h0M489.7 380.5h0M548.4 348.4h0M519.2 356.4h0M574.0 450.4h0M581.6 446.7h0M513.2 360.0h0M494.1 374.1h0M521.5 356.1h0M608.0 343.5h0M491.2 372.5h0M490.8 381.9h0M594.5 344.1h0M514.5 356.9h0M495.2 433.8h0M522.8 356.4h0M484.6 406.3h0M518.4 361.3h0M552.3 349.5h0M495.3 429.1h0M493.5 421.3h0M601.9 340.8h0M484.6 409.1h0M577.0 449.2h0M584.0 448.0h0M491.6 424.1h0M558.7 445.5h0M524.6 355.3h0M490.2 395.3h0M485.3 394.8h0M583.7 445.9h0M497.7 370.5h0M489.0 383.3h0M594.7 450.2h0M487.0 390.2h0M553.4 449.1h0M494.1 431.5h0M580.4 450.0h0M540.9 350.0h0M578.8 449.6h0M612.8 337.9h0M601.0 343.3h0M488.6 388.4h0M489.1 386.4h0M492.2 381.8h0M509.8 358.0h0M500.6 365.0h0M609.0 343.1h0M490.5 380.5h0M488.4 400.5h0M490.0 376.4h0M590.5 341.0h0M560.9 449.0h0M586.8 447.7h0M594.6 452.4h0M511.7 364.2h0M590.7 451.2h0M585.3 449.1h0M509.3 360.7h0M492.6 378.8h0M499.0 367.3h0M488.2 401.4h0M492.3 379.1h0M580.2 453.8h0M589.1 344.0h0M487.1 389.1h0M603.5 338.2h0M556.8 449.2h0M486.4 396.1h0M582.2 451.7h0M587.6 449.1h0M502.6 366.5h0M543.9 352.7h0M520.5 353.5h0M596.2 453.6h0M485.7 412.4h0M617.8 337.5h0M493.5 384.4h0M496.4 365.2h0M599.6 337.3h0M526.5 357.3h0M551.0 445.3h0M491.1 387.6h0M616.3 339.0h0M542.4 449.6h0M568.4 348.4h0M487.8 388.9h0M550.5 451.6h0M502.3 369.8h0M568.4 447.9h0M516.5 353.5h0M600.4 340.3h0M598.2 450.8h0M531.4 355.6h0M600.8 344.6h0M547.6 351.4h0M489.1 406.3h0M523.9 356.7h0M582.4 447.9h0M493.3 426.0h0M545.1 447.0h0M578.0 452.6h0M555.0 349.0h0M602.8 453.6h0M491.2 371.3h0M490.5 406.3h0M502.4 368.6h0M499.5 367.6h0M598.5 451.7h0M531.8 355.3h0M585.1 447.5h0M583.0 448.3h0M514.9 363.1h0M485.6 398.9h0M534.0 449.5h0M589.9 344.9h0M506.7 361.2h0M560.4 450.6h0M483.7 386.1h0M603.8 341.5h0M596.9 452.7h0M488.3 385.8h0M558.8 450.3h0M486.2 393.9h0M518.8 354.8h0M580.4 446.8h0M495.3 430.5h0M564.5 446.6h0M487.7 396.2h0M493.2 417.0h0M586.2 449.0h0M560.0 447.0h0M584.3 449.7h0M592.6 449.2h0M484.0 393.5h0M572.9 452.0h0M557.6 448.9h0M496.7 365.6h0M529.8 354.1h0M488.8 407.2h0M488.9 375.2h0M557.6 451.1h0M498.9 370.6h0M486.7 418.5h0M595.6 452.8h0M605.9 339.3h0M608.5 342.9h0M489.2 379.6h0M486.2 387.7h0M490.2 411.9h0M492.1 418.4h0M579.7 448.7h0M583.3 449.3h0M503.6 362.3h0M561.6 450.5h0M564.6 447.1h0M589.7 450.5h0M593.4 452.3h0M561.1 447.5h0M593.0 452.3h0M502.0 366.5h0M486.1 395.4h0M602.2 340.4h0M558.1 448.6h0M489.7 381.4h0M597.7 342.6h0M507.0 367.3h0M598.1 341.2h0M590.0 448.6h0M517.1 360.0h0M578.3 448.7h0M485.5 386.6h0M571.1 448.6h0M523.3 356.0h0M539.1 349.5h0M608.7 339.0h0M577.1 451.8h0M499.9 369.7h0M557.4 451.9h0M487.0 377.1h0M594.2 338.8h0M522.4 359.6h0M590.5 341.5h0M511.5 364.1h0M487.0 392.7h0M606.6 339.3h0M584.8 449.5h0M497.5 369.4h0M492.4 375.9h0M595.0 342.1h0M488.7 408.0h0M607.0 343.0h0M608.2 342.7h0M493.0 369.5h0M575.5 345.5h0M596.5 453.4h0M489.2 384.0h0M528.1 355.0h0M489.5 416.6h0M490.6 421.5h0M488.4 407.8h0M537.8 449.4h0M597.8 344.1h0M508.9 359.8h0M486.2 413.5h0M595.9 340.3h0M548.3 348.8h0M595.5 341.5h0M606.6 343.3h0M584.1 446.0h0M537.2 450.3h0M600.6 345.3h0M548.7 446.4h0M532.1 354.7h0M601.3 341.3h0M600.6 345.3h0M492.0 420.1h0M568.5 451.3h0M484.9 410.4h0M492.9 374.3h0M558.1 446.8h0M493.6 418.2h0M584.3 446.0h0M561.1 450.4h0M529.8 351.3h0M578.5 453.4h0M592.2 342.6h0M505.7 368.5h0M579.6 344.4h0M492.6 422.4h0M591.5 343.6h0M489.7 399.6h0M604.1 343.3h0M565.3 348.4h0M598.5 344.1h0M488.4 418.2h0M520.0 354.4h0M523.1 358.6h0M610.1 340.9h0M560.7 448.2h0M498.3 370.0h0M587.5 451.9h0M498.4 368.2h0M486.9 378.9h0M489.0 406.9h0M606.9 339.2h0M592.1 453.7h0M489.5 386.7h0M489.9 375.7h0M486.8 390.8h0M489.3 425.9h0M606.5 342.9h0M497.0 368.6h0M548.2 351.5h0M564.5 449.3h0M520.2 357.3h0M558.9 451.2h0M619.1 337.9h0M499.1 370.7h0M531.0 352.8h0M490.1 402.7h0M490.7 374.9h0M548.0 448.6h0M498.8 366.3h0M553.8 448.7h0M591.6 343.8h0M563.8 448.8h0M524.8 356.3h0M589.7 345.2h0M505.9 366.3h0M548.5 348.9h0M555.0 449.1h0M498.3 370.5h0M549.0 350.5h0M567.7 451.5h0M538.0 448.2h0M495.3 427.3h0M490.6 425.6h0M591.0 343.0h0M550.4 349.1h0M539.3 350.8h0M487.1 400.2h0M507.3 367.4h0M546.2 349.6h0M489.4 382.3h0M491.2 427.9h0M492.2 387.2h0M598.2 451.2h0M543.1 349.4h0M516.3 358.4h0M490.1 383.2h0M598.3 344.8h0M483.6 395.8h0M500.6 366.3h0M502.9 363.0h0M606.3 340.8h0M489.9 400.2h0M533.1 355.3h0M490.1 426.6h0M502.3 368.4h0M571.7 451.1h0M553.6 348.5h0M582.2 446.0h0M495.6 429.5h0M494.6 432.1h0M555.6 349.9h0M483.6 386.6h0M493.1 383.5h0M493.5 378.8h0M549.6 450.0h0M487.1 394.4h0M490.6 386.1h0M575.9 344.5h0M501.8 368.9h0M602.0 344.7h0M490.1 382.1h0M592.7 451.7h0M592.9 449.5h0M550.6 448.9h0M494.9 366.6h0M487.9 419.1h0M569.6 447.4h0M587.4 449.3h0M573.8 447.4h0" stroke="#295682" stroke-width="4.3" stroke-linecap="round" fill="none"/><path d="M669.9 426.3h0M560.6 352.8h0M669.6 424.0h0M670.8 419.3h0M673.4 371.4h0M672.8 368.3h0M562.5 349.6h0M492.1 407.5h0M669.3 421.5h0M561.4 349.7h0M540.5 355.2h0M674.3 369.1h0M669.7 364.0h0M565.7 350.0h0M565.3 350.0h0M551.8 356.5h0M514.3 365.3h0M585.6 349.6h0M542.7 358.1h0M508.6 367.6h0M591.3 349.5h0M492.8 407.8h0M512.7 365.5h0M495.0 402.2h0M532.5 357.8h0M491.7 403.2h0M494.0 384.2h0M490.6 402.6h0M574.4 352.4h0M531.7 360.6h0M554.5 443.3h0M542.9 355.9h0M552.8 356.0h0M547.0 356.3h0M492.5 401.3h0M595.7 347.8h0M493.5 401.8h0M491.2 398.5h0M584.8 350.7h0M572.8 445.5h0M493.5 385.7h0M493.7 408.2h0M571.2 351.3h0M569.9 353.2h0M586.1 352.0h0M492.6 396.7h0M570.8 353.0h0M518.6 361.8h0M595.6 348.2h0M579.9 350.9h0M556.7 356.5h0M524.1 361.9h0M537.1 355.7h0M545.2 355.3h0M549.1 352.3h0M567.1 444.4h0M565.4 353.0h0M592.0 346.6h0M536.4 357.9h0M559.7 350.0h0M568.5 354.7h0M569.8 352.1h0M544.3 357.8h0M589.0 350.5h0M542.6 357.5h0M589.6 350.6h0M586.0 349.6h0M577.0 350.8h0M571.3 354.4h0M493.7 398.1h0M570.7 445.0h0M573.3 444.5h0M491.7 403.3h0M494.7 401.8h0M568.6 352.9h0M562.5 354.0h0M574.0 351.1h0M507.1 368.1h0M536.1 358.4h0M548.6 357.5h0M573.3 444.5h0M565.3 355.8h0M495.3 402.6h0M563.6 444.8h0M537.1 356.1h0M494.0 400.8h0M549.8 444.6h0M557.4 355.3h0M554.3 353.7h0M546.9 358.1h0M557.1 353.9h0M545.8 357.7h0M555.5 443.5h0M570.7 354.3h0M529.4 359.0h0M554.3 443.2h0M493.9 405.5h0M561.5 356.7h0M529.1 360.1h0M491.4 407.9h0M525.5 362.7h0M600.0 346.9h0M597.1 347.1h0M590.7 348.6h0M601.6 347.4h0M515.1 364.3h0M494.3 407.1h0M529.9 361.4h0M565.9 355.5h0M493.3 416.1h0M579.8 351.6h0M547.4 357.2h0M575.5 353.9h0M545.7 354.0h0M567.3 351.6h0M516.1 363.8h0M555.1 353.1h0M534.2 359.2h0M491.2 408.5h0M533.2 359.2h0M520.9 362.6h0M597.4 346.6h0M572.9 349.5h0M574.1 348.6h0M525.6 362.6h0M572.5 350.7h0M571.9 351.7h0M580.4 352.6h0M569.7 354.7h0M555.6 442.7h0M491.4 398.7h0M562.7 443.1h0M535.6 359.5h0M571.3 353.1h0M591.5 350.1h0M491.1 404.9h0M493.2 411.6h0M544.0 354.0h0M552.9 352.6h0M585.1 347.5h0M493.3 407.1h0M536.2 359.1h0M567.0 352.5h0M585.9 349.8h0M532.2 359.7h0M494.0 417.7h0M558.3 443.6h0M563.7 443.7h0M566.8 349.7h0M590.6 350.2h0M543.3 355.5h0M581.5 350.1h0M578.6 350.8h0M563.6 351.2h0M563.5 444.1h0M590.8 347.9h0M547.0 444.1h0M591.4 350.0h0M539.6 357.3h0M516.5 362.6h0M566.3 355.6h0M493.6 410.4h0M491.5 395.6h0M602.8 347.1h0M581.3 352.4h0M547.3 356.8h0M586.3 350.0h0M561.5 443.1h0M545.1 355.4h0M585.4 346.9h0M561.8 443.6h0M581.4 347.8h0M492.4 411.8h0M534.9 357.5h0M540.2 356.7h0M528.0 362.1h0M557.7 351.5h0M537.1 357.7h0M566.1 443.4h0M490.7 398.0h0M581.2 350.2h0M490.8 401.6h0M567.3 353.1h0M559.0 444.1h0M495.2 402.1h0M592.3 348.6h0M562.0 350.6h0M548.0 353.4h0M560.0 351.0h0M585.6 349.6h0M564.9 355.2h0M566.7 353.5h0M492.3 395.7h0M521.0 362.7h0M491.1 393.2h0M574.6 349.9h0M510.7 367.4h0M558.5 444.4h0M537.1 356.2h0M555.8 442.9h0M557.4 443.3h0M565.1 354.1h0M564.3 353.6h0M554.5 351.8h0M581.8 347.8h0M547.6 353.6h0M557.2 444.0h0M530.5 360.0h0M525.3 363.2h0M492.9 411.5h0M554.4 356.6h0M556.3 444.8h0M593.7 349.1h0M513.6 366.8h0M583.6 349.2h0M525.6 362.6h0M492.8 406.3h0M565.0 444.9h0M551.3 443.3h0M561.8 352.4h0M565.7 351.2h0M561.2 356.7h0M511.7 365.1h0M550.8 352.8h0M493.3 405.1h0M550.5 354.9h0M561.9 356.7h0M493.0 413.3h0M571.9 351.0h0M567.8 443.9h0M491.3 395.3h0M494.5 406.7h0M528.1 360.3h0M584.8 347.8h0M566.1 443.3h0M494.2 400.1h0M554.2 353.3h0M530.0 359.6h0M573.1 351.1h0M492.3 388.5h0M583.8 347.7h0M515.4 364.4h0M589.7 350.1h0M563.1 352.4h0M509.7 366.8h0M574.1 351.4h0M577.3 351.9h0M512.6 365.3h0M573.8 445.0h0M513.4 365.8h0M554.0 443.3h0M565.2 443.9h0M493.1 401.6h0M557.6 353.1h0M530.4 357.9h0M559.5 444.4h0M535.6 356.4h0M543.6 357.6h0M571.0 445.4h0M574.5 351.1h0M600.8 346.6h0M525.7 359.4h0M506.6 368.6h0M493.3 407.8h0M590.2 347.1h0M579.1 350.3h0" stroke="#265982" stroke-width="4.3" stroke-linecap="round" fill="none"/><path d="M578.4 455.5h0M608.4 334.6h0M486.7 423.0h0M585.9 455.9h0M604.2 335.4h0M485.0 420.6h0M593.6 455.5h0M482.9 385.6h0M605.2 335.6h0M583.4 454.2h0M669.9 444.5h0M547.8 452.3h0M486.5 371.1h0M485.5 419.3h0M591.0 455.2h0M484.2 377.8h0M484.1 421.7h0M602.4 336.1h0M551.0 453.0h0M487.6 370.9h0M482.3 387.7h0M589.9 454.8h0M613.0 334.0h0M602.5 335.0h0M537.4 452.5h0M601.8 456.0h0M607.1 453.6h0M609.8 455.2h0M590.8 456.9h0M603.6 454.3h0M493.6 434.7h0M491.8 431.3h0M485.9 371.6h0M610.1 455.2h0M591.3 456.8h0M485.3 373.8h0M598.7 456.2h0M542.4 454.0h0M604.3 453.8h0M492.5 432.3h0M609.8 334.7h0M493.4 362.6h0M612.2 456.9h0M593.1 455.9h0M496.0 438.7h0M582.0 454.3h0M595.7 455.6h0M527.1 451.7h0M535.9 451.5h0M601.6 454.2h0M602.2 455.1h0M544.9 454.2h0M491.1 370.9h0M550.2 453.2h0M535.5 453.7h0M487.0 423.4h0M600.6 455.2h0M491.8 366.8h0M599.0 456.9h0M599.5 456.6h0M603.9 455.5h0M496.6 364.0h0M492.7 432.6h0M484.0 421.3h0M492.1 367.1h0M607.7 334.8h0M493.2 435.8h0M600.8 455.0h0M582.1 454.7h0M493.4 365.2h0M497.1 436.9h0M574.6 454.6h0M495.6 437.6h0M608.3 334.3h0M623.6 334.9h0M492.8 433.7h0M488.8 372.2h0M611.6 335.8h0M597.3 456.1h0M602.4 335.0h0M620.2 334.2h0M542.4 454.3h0M608.2 457.0h0M592.4 454.4h0M598.2 453.9h0M487.3 376.4h0M540.0 453.3h0M611.4 336.2h0M579.3 454.0h0M608.3 455.4h0M612.3 456.6h0M527.4 451.3h0M535.3 451.7h0M619.7 336.8h0M493.9 366.8h0M614.7 335.5h0M612.0 334.4h0M613.8 334.8h0M589.8 456.5h0M619.9 456.0h0M487.8 370.6h0M497.0 435.8h0M603.6 455.4h0M528.3 450.9h0M608.9 456.6h0M602.4 336.2h0M608.2 455.3h0M485.3 377.5h0M594.2 455.1h0M592.0 456.8h0M486.7 424.1h0M530.1 450.3h0M493.9 432.6h0M547.2 454.5h0M605.7 455.4h0M615.1 336.1h0M619.8 456.4h0M532.3 453.4h0M597.0 454.7h0M490.6 431.6h0M489.3 372.2h0M607.1 456.6h0M604.8 455.9h0M485.8 425.2h0M535.4 453.0h0M608.4 457.2h0M484.6 376.1h0M597.2 456.1h0M543.4 452.8h0M592.7 456.5h0M484.4 381.3h0M608.7 456.4h0M619.2 334.7h0M532.3 451.5h0M541.6 452.4h0M615.3 455.8h0M617.2 336.9h0M612.6 456.6h0M605.9 334.0h0M604.2 334.9h0M593.2 457.4h0M486.5 423.1h0M494.7 434.1h0" stroke="#2b5383" stroke-width="4.3" stroke-linecap="round" fill="none"/><path d="M674.0 379.3h0M670.7 414.8h0M668.9 419.1h0M668.4 417.7h0M671.1 413.4h0M566.7 357.0h0M567.1 356.1h0M563.5 356.7h0M564.5 356.6h0M564.7 356.7h0M568.5 356.0h0M566.7 356.5h0" stroke="#225d82" stroke-width="4.3" stroke-linecap="round" fill="none"/><path d="M671.9 380.3h0M671.5 383.0h0M673.0 408.2h0M671.7 409.7h0" stroke="#1e6182" stroke-width="4.3" stroke-linecap="round" fill="none"/><path d="M672.6 400.1h0M669.0 380.2h0M671.5 389.7h0M673.1 395.0h0M670.3 400.1h0M672.1 395.3h0" stroke="#1a6682" stroke-width="4.3" stroke-linecap="round" fill="none"/><path d="M440.4,417.8 L672.3,386.5" stroke="#ff0000" stroke-width="7.2" fill="none"/><rect x="429.7" y="301" width="253.3" height="211.20000000000005" fill="none" stroke="#000" stroke-width="2"/><line x1="489.5" y1="513.2" x2="489.5" y2="521.7" stroke="#333333" stroke-width="2.6"/><text x="489.5" y="541.7" font-size="19.5" text-anchor="middle">0.01</text><line x1="539.5" y1="513.2" x2="539.5" y2="521.7" stroke="#333333" stroke-width="2.6"/><text x="539.5" y="541.7" font-size="19.5" text-anchor="middle">0.1</text><line x1="589.5" y1="513.2" x2="589.5" y2="521.7" stroke="#333333" stroke-width="2.6"/><text x="589.5" y="541.7" font-size="19.5" text-anchor="middle">1</text><line x1="639.5" y1="513.2" x2="639.5" y2="521.7" stroke="#333333" stroke-width="2.6"/><text x="639.5" y="541.7" font-size="19.5" text-anchor="middle">10</text><line x1="421.7" y1="504.90000000000003" x2="428.7" y2="504.90000000000003" stroke="#333333" stroke-width="2.6"/><text x="415.2" y="512.7" font-size="19.5" text-anchor="end">4.5</text><line x1="421.7" y1="456.20000000000005" x2="428.7" y2="456.20000000000005" stroke="#333333" stroke-width="2.6"/><text x="415.2" y="464.00000000000006" font-size="19.5" text-anchor="end">5.0</text><line x1="421.7" y1="407.5" x2="428.7" y2="407.5" stroke="#333333" stroke-width="2.6"/><text x="415.2" y="415.3" font-size="19.5" text-anchor="end">5.5</text><line x1="421.7" y1="358.8" x2="428.7" y2="358.8" stroke="#333333" stroke-width="2.6"/><text x="415.2" y="366.6" font-size="19.5" text-anchor="end">6.0</text><line x1="421.7" y1="310.1" x2="428.7" y2="310.1" stroke="#333333" stroke-width="2.6"/><text x="415.2" y="317.90000000000003" font-size="19.5" text-anchor="end">6.5</text><text x="555.5" y="572.8" font-size="19.5" text-anchor="middle">Nitrate <tspan font-family="Liberation Serif">μ</tspan>mol kg<tspan font-size="13.5" dy="-9.4">−1</tspan></text><text transform="translate(369.5,409.5) rotate(-90)" font-size="19.5" text-anchor="middle">log<tspan font-size="14" dy="4.5">10</tspan><tspan dy="-4.5">(Abundance, mL</tspan><tspan font-size="13.5" dy="-9.4">−1</tspan><tspan dy="8">)</tspan></text></g><g><line x1="98.5" y1="598" x2="98.5" y2="809.7" stroke="#ebebeb" stroke-width="2.5"/><line x1="172.4" y1="598" x2="172.4" y2="809.7" stroke="#ebebeb" stroke-width="2.5"/><line x1="246.3" y1="598" x2="246.3" y2="809.7" stroke="#ebebeb" stroke-width="2.5"/><line x1="320.2" y1="598" x2="320.2" y2="809.7" stroke="#ebebeb" stroke-width="2.5"/><line x1="81.5" y1="801.9" x2="335.6" y2="801.9" stroke="#ebebeb" stroke-width="2.5"/><line x1="81.5" y1="753.1999999999999" x2="335.6" y2="753.1999999999999" stroke="#ebebeb" stroke-width="2.5"/><line x1="81.5" y1="704.5" x2="335.6" y2="704.5" stroke="#ebebeb" stroke-width="2.5"/><line x1="81.5" y1="655.8" x2="335.6" y2="655.8" stroke="#ebebeb" stroke-width="2.5"/><line x1="81.5" y1="607.0999999999999" x2="335.6" y2="607.0999999999999" stroke="#ebebeb" stroke-width="2.5"/><clipPath id="cld"><path d="M103.9,622.2 103.8,623.0 103.6,623.9 102.5,628.0 102.1,629.0 102.0,629.3 102.0,615.0 93.0,615.0 93.6,617.2 94.0,621.2 92.8,625.3 91.2,629.4 89.0,633.4 89.3,637.5 92.5,641.6 92.6,645.6 92.6,649.7 92.0,653.8 89.0,657.8 93.0,661.9 90.4,665.9 92.7,670.0 92.0,674.1 89.1,678.1 91.0,682.2 89.3,686.2 91.9,690.3 93.0,694.4 93.3,698.4 92.7,702.5 91.1,706.6 93.0,710.6 91.7,714.7 92.3,718.8 91.6,722.8 91.3,726.9 92.0,730.9 89.3,735.0 93.7,739.1 93.4,743.1 90.8,747.2 93.3,751.2 93.5,755.3 92.8,759.4 93.0,763.4 93.8,767.5 89.6,771.6 90.0,775.6 93.2,779.7 90.5,783.8 91.3,787.8 91.5,790.0 102.0,790.0 102.0,775.0 102.1,775.1 102.5,775.9 104.7,774.5 105.7,774.0 106.7,773.6 107.4,773.3 107.4,773.3 108.0,772.4 108.6,771.6 109.3,770.8 110.0,770.1 110.9,769.5 111.8,769.0 115.4,767.1 116.0,766.8 120.8,764.7 121.7,764.4 122.6,764.1 123.5,764.0 124.4,763.9 125.4,763.9 126.3,764.0 127.2,764.2 128.1,764.5 130.1,765.1 131.6,764.6 132.7,764.3 133.9,764.1 137.2,763.7 140.4,762.1 141.4,761.7 142.4,761.4 143.4,761.2 144.4,761.2 145.4,761.2 146.1,761.2 146.8,760.6 147.6,760.0 151.2,757.8 152.0,757.3 152.9,756.9 153.9,756.6 154.8,756.4 155.8,756.3 159.4,756.1 161.8,755.5 164.9,754.1 166.1,753.7 168.7,752.9 170.7,751.6 173.8,749.1 174.6,748.6 175.4,748.1 176.2,747.7 177.1,747.4 178.0,747.2 178.9,747.1 179.9,747.0 182.8,747.0 185.7,745.6 186.6,745.3 187.5,745.0 188.5,744.8 189.4,744.7 190.4,744.7 193.4,744.9 196.4,743.8 197.4,743.5 198.4,743.3 199.4,743.2 200.5,743.2 201.5,743.3 202.6,743.5 205.5,744.4 205.8,744.3 208.4,742.3 209.2,741.8 210.0,741.3 210.9,740.9 211.8,740.6 212.7,740.4 217.8,739.5 218.8,739.4 219.7,739.4 220.7,739.5 225.2,740.0 228.9,739.7 231.8,739.1 235.2,737.2 235.6,737.0 240.4,734.7 241.3,734.3 242.3,734.0 243.3,733.8 244.4,733.7 245.4,733.7 246.4,733.8 247.4,734.0 248.4,734.3 249.3,734.8 250.2,735.2 250.4,735.1 251.3,734.7 252.1,734.4 253.0,734.2 253.9,734.1 254.9,734.0 255.8,734.0 257.5,734.2 259.4,732.9 260.3,732.4 261.2,732.0 262.2,731.7 263.2,731.4 264.2,731.3 265.2,731.3 266.3,731.4 267.3,731.6 269.3,732.1 269.4,732.1 272.0,730.4 273.2,729.7 276.8,728.0 280.3,726.2 280.4,726.1 282.7,724.9 284.3,723.1 284.9,722.5 285.7,721.8 286.4,721.3 288.9,719.8 289.6,718.9 290.8,716.1 291.2,715.2 291.7,714.4 292.3,713.6 293.0,712.9 293.7,712.2 298.1,708.6 299.0,708.0 300.0,707.4 301.0,707.0 302.0,706.7 306.8,705.5 310.2,704.0 313.3,701.5 314.9,700.0 326.1,700.0 325.9,696.7 325.8,692.6 324.6,688.3 324.1,684.1 325.0,680.0 326.8,676.0 324.2,672.0 325.1,668.0 325.5,664.0 323.9,660.0 325.0,656.0 326.4,652.0 326.1,648.0 325.5,644.0 325.0,640.0 327.2,635.7 325.0,631.5 322.8,627.3 326.5,622.9 325.1,618.7 324.0,614.5 322.8,610.3 324.0,606.0 320.0,607.0 316.1,610.1 316.0,615.0 313.0,618.8 314.8,624.1 312.0,628.0 310.0,630.3 310.0,645.7 309.8,645.8 309.0,646.2 308.1,646.5 307.2,646.7 306.3,646.9 303.3,647.3 300.9,649.1 300.1,649.6 299.2,650.1 298.3,650.4 297.3,650.7 293.7,651.6 290.1,653.6 289.2,654.0 288.2,654.4 287.2,654.6 286.2,654.7 285.2,654.8 284.2,654.7 283.1,654.5 282.2,654.3 281.3,654.0 280.6,654.4 279.7,654.9 278.7,655.3 277.7,655.6 276.7,655.8 275.7,655.8 274.7,655.8 273.6,655.7 272.6,655.5 270.2,654.8 269.2,655.1 265.3,657.3 264.4,657.8 263.5,658.2 262.5,658.4 261.5,658.6 260.6,658.7 259.6,658.6 258.6,658.5 257.6,658.3 256.7,658.0 255.4,657.5 254.8,657.8 253.9,658.2 252.9,658.6 251.9,658.8 250.9,659.0 249.9,659.0 248.9,658.9 247.0,658.7 245.4,659.7 244.7,660.2 243.9,660.6 243.0,660.9 238.1,662.5 237.2,662.8 236.3,662.9 235.3,663.0 234.4,663.0 233.5,662.9 233.1,663.4 232.4,664.1 231.7,664.8 230.9,665.4 230.0,665.9 229.1,666.3 228.2,666.7 227.2,666.9 226.2,667.0 225.3,667.1 219.9,667.0 219.0,666.9 218.1,666.8 217.2,666.6 216.3,666.3 215.5,665.9 214.7,665.5 213.3,664.6 212.0,664.9 211.0,665.0 210.0,665.0 204.9,665.0 204.1,665.0 203.2,664.8 198.0,663.9 192.8,663.0 191.7,662.7 190.7,662.4 189.7,661.9 188.8,661.3 186.8,660.0 185.6,660.0 184.6,659.9 183.6,659.8 182.6,659.5 181.6,659.2 177.9,657.5 177.1,657.1 176.3,656.6 175.5,656.0 174.8,655.4 174.2,654.6 173.6,653.9 172.9,653.8 168.8,652.9 167.9,652.7 167.1,652.4 166.3,652.0 162.6,650.2 161.8,649.7 160.9,649.1 160.2,648.4 159.5,647.7 158.9,646.9 158.7,646.9 157.7,646.7 156.8,646.5 155.9,646.1 155.0,645.7 154.2,645.2 153.8,644.8 153.0,645.1 152.0,645.4 151.0,645.7 150.0,645.8 149.0,645.8 148.0,645.7 147.1,645.6 146.1,645.3 145.2,644.9 144.3,644.5 143.4,643.9 142.6,643.3 139.9,640.8 139.8,640.8 137.3,640.9 136.3,640.9 135.4,640.9 134.5,640.7 133.5,640.4 132.7,640.1 131.8,639.7 131.0,639.2 130.3,638.6 129.6,637.9 128.9,637.2 127.8,635.8 126.7,635.4 125.8,635.1 124.9,634.6 124.1,634.1 123.3,633.4 122.6,632.8 122.2,632.3 121.5,632.3 120.6,632.1 119.7,631.9 118.8,631.6 117.9,631.3 117.1,630.8 116.4,630.3 115.6,629.7 115.0,629.1 114.0,628.0 112.8,627.8 111.8,627.5 110.9,627.1 110.0,626.7 109.2,626.2 108.5,625.6 107.7,624.9 105.1,622.1 103.9,621.2 104.0,621.3Z"/></clipPath><filter id="bld" x="-10%" y="-10%" width="120%" height="120%"><feGaussianBlur stdDeviation="2.5"/></filter><g fill="#2d5083"><path d="M103.9,622.2 103.8,623.0 103.6,623.9 102.5,628.0 102.1,629.0 102.0,629.3 102.0,615.0 93.0,615.0 93.6,617.2 94.0,621.2 92.8,625.3 91.2,629.4 89.0,633.4 89.3,637.5 92.5,641.6 92.6,645.6 92.6,649.7 92.0,653.8 89.0,657.8 93.0,661.9 90.4,665.9 92.7,670.0 92.0,674.1 89.1,678.1 91.0,682.2 89.3,686.2 91.9,690.3 93.0,694.4 93.3,698.4 92.7,702.5 91.1,706.6 93.0,710.6 91.7,714.7 92.3,718.8 91.6,722.8 91.3,726.9 92.0,730.9 89.3,735.0 93.7,739.1 93.4,743.1 90.8,747.2 93.3,751.2 93.5,755.3 92.8,759.4 93.0,763.4 93.8,767.5 89.6,771.6 90.0,775.6 93.2,779.7 90.5,783.8 91.3,787.8 91.5,790.0 102.0,790.0 102.0,775.0 102.1,775.1 102.5,775.9 104.7,774.5 105.7,774.0 106.7,773.6 107.4,773.3 107.4,773.3 108.0,772.4 108.6,771.6 109.3,770.8 110.0,770.1 110.9,769.5 111.8,769.0 115.4,767.1 116.0,766.8 120.8,764.7 121.7,764.4 122.6,764.1 123.5,764.0 124.4,763.9 125.4,763.9 126.3,764.0 127.2,764.2 128.1,764.5 130.1,765.1 131.6,764.6 132.7,764.3 133.9,764.1 137.2,763.7 140.4,762.1 141.4,761.7 142.4,761.4 143.4,761.2 144.4,761.2 145.4,761.2 146.1,761.2 146.8,760.6 147.6,760.0 151.2,757.8 152.0,757.3 152.9,756.9 153.9,756.6 154.8,756.4 155.8,756.3 159.4,756.1 161.8,755.5 164.9,754.1 166.1,753.7 168.7,752.9 170.7,751.6 173.8,749.1 174.6,748.6 175.4,748.1 176.2,747.7 177.1,747.4 178.0,747.2 178.9,747.1 179.9,747.0 182.8,747.0 185.7,745.6 186.6,745.3 187.5,745.0 188.5,744.8 189.4,744.7 190.4,744.7 193.4,744.9 196.4,743.8 197.4,743.5 198.4,743.3 199.4,743.2 200.5,743.2 201.5,743.3 202.6,743.5 205.5,744.4 205.8,744.3 208.4,742.3 209.2,741.8 210.0,741.3 210.9,740.9 211.8,740.6 212.7,740.4 217.8,739.5 218.8,739.4 219.7,739.4 220.7,739.5 225.2,740.0 228.9,739.7 231.8,739.1 235.2,737.2 235.6,737.0 240.4,734.7 241.3,734.3 242.3,734.0 243.3,733.8 244.4,733.7 245.4,733.7 246.4,733.8 247.4,734.0 248.4,734.3 249.3,734.8 250.2,735.2 250.4,735.1 251.3,734.7 252.1,734.4 253.0,734.2 253.9,734.1 254.9,734.0 255.8,734.0 257.5,734.2 259.4,732.9 260.3,732.4 261.2,732.0 262.2,731.7 263.2,731.4 264.2,731.3 265.2,731.3 266.3,731.4 267.3,731.6 269.3,732.1 269.4,732.1 272.0,730.4 273.2,729.7 276.8,728.0 280.3,726.2 280.4,726.1 282.7,724.9 284.3,723.1 284.9,722.5 285.7,721.8 286.4,721.3 288.9,719.8 289.6,718.9 290.8,716.1 291.2,715.2 291.7,714.4 292.3,713.6 293.0,712.9 293.7,712.2 298.1,708.6 299.0,708.0 300.0,707.4 301.0,707.0 302.0,706.7 306.8,705.5 310.2,704.0 313.3,701.5 314.9,700.0 326.1,700.0 325.9,696.7 325.8,692.6 324.6,688.3 324.1,684.1 325.0,680.0 326.8,676.0 324.2,672.0 325.1,668.0 325.5,664.0 323.9,660.0 325.0,656.0 326.4,652.0 326.1,648.0 325.5,644.0 325.0,640.0 327.2,635.7 325.0,631.5 322.8,627.3 326.5,622.9 325.1,618.7 324.0,614.5 322.8,610.3 324.0,606.0 320.0,607.0 316.1,610.1 316.0,615.0 313.0,618.8 314.8,624.1 312.0,628.0 310.0,630.3 310.0,645.7 309.8,645.8 309.0,646.2 308.1,646.5 307.2,646.7 306.3,646.9 303.3,647.3 300.9,649.1 300.1,649.6 299.2,650.1 298.3,650.4 297.3,650.7 293.7,651.6 290.1,653.6 289.2,654.0 288.2,654.4 287.2,654.6 286.2,654.7 285.2,654.8 284.2,654.7 283.1,654.5 282.2,654.3 281.3,654.0 280.6,654.4 279.7,654.9 278.7,655.3 277.7,655.6 276.7,655.8 275.7,655.8 274.7,655.8 273.6,655.7 272.6,655.5 270.2,654.8 269.2,655.1 265.3,657.3 264.4,657.8 263.5,658.2 262.5,658.4 261.5,658.6 260.6,658.7 259.6,658.6 258.6,658.5 257.6,658.3 256.7,658.0 255.4,657.5 254.8,657.8 253.9,658.2 252.9,658.6 251.9,658.8 250.9,659.0 249.9,659.0 248.9,658.9 247.0,658.7 245.4,659.7 244.7,660.2 243.9,660.6 243.0,660.9 238.1,662.5 237.2,662.8 236.3,662.9 235.3,663.0 234.4,663.0 233.5,662.9 233.1,663.4 232.4,664.1 231.7,664.8 230.9,665.4 230.0,665.9 229.1,666.3 228.2,666.7 227.2,666.9 226.2,667.0 225.3,667.1 219.9,667.0 219.0,666.9 218.1,666.8 217.2,666.6 216.3,666.3 215.5,665.9 214.7,665.5 213.3,664.6 212.0,664.9 211.0,665.0 210.0,665.0 204.9,665.0 204.1,665.0 203.2,664.8 198.0,663.9 192.8,663.0 191.7,662.7 190.7,662.4 189.7,661.9 188.8,661.3 186.8,660.0 185.6,660.0 184.6,659.9 183.6,659.8 182.6,659.5 181.6,659.2 177.9,657.5 177.1,657.1 176.3,656.6 175.5,656.0 174.8,655.4 174.2,654.6 173.6,653.9 172.9,653.8 168.8,652.9 167.9,652.7 167.1,652.4 166.3,652.0 162.6,650.2 161.8,649.7 160.9,649.1 160.2,648.4 159.5,647.7 158.9,646.9 158.7,646.9 157.7,646.7 156.8,646.5 155.9,646.1 155.0,645.7 154.2,645.2 153.8,644.8 153.0,645.1 152.0,645.4 151.0,645.7 150.0,645.8 149.0,645.8 148.0,645.7 147.1,645.6 146.1,645.3 145.2,644.9 144.3,644.5 143.4,643.9 142.6,643.3 139.9,640.8 139.8,640.8 137.3,640.9 136.3,640.9 135.4,640.9 134.5,640.7 133.5,640.4 132.7,640.1 131.8,639.7 131.0,639.2 130.3,638.6 129.6,637.9 128.9,637.2 127.8,635.8 126.7,635.4 125.8,635.1 124.9,634.6 124.1,634.1 123.3,633.4 122.6,632.8 122.2,632.3 121.5,632.3 120.6,632.1 119.7,631.9 118.8,631.6 117.9,631.3 117.1,630.8 116.4,630.3 115.6,629.7 115.0,629.1 114.0,628.0 112.8,627.8 111.8,627.5 110.9,627.1 110.0,626.7 109.2,626.2 108.5,625.6 107.7,624.9 105.1,622.1 103.9,621.2 104.0,621.3Z"/></g><g clip-path="url(#cld)"><g filter="url(#bld)"><path fill="#2b5383" d="M132 599h16v6h-16zM132 604h16v6h-16zM137 609h16v6h-16zM137 614h16v6h-16zM137 619h16v6h-16zM142 624h11v6h-11zM142 629h16v6h-16zM142 634h16v6h-16zM147 639h11v6h-11zM147 644h11v6h-11zM147 649h11v6h-11zM147 654h11v6h-11zM147 659h11v6h-11zM147 664h16v6h-16zM147 669h16v6h-16zM147 674h16v6h-16zM147 679h16v6h-16zM147 684h16v6h-16zM147 689h16v6h-16zM147 694h16v6h-16zM147 699h16v6h-16zM147 704h16v6h-16zM147 709h16v6h-16zM147 714h16v6h-16zM147 719h11v6h-11zM147 724h11v6h-11zM147 729h11v6h-11zM147 734h11v6h-11zM142 739h16v6h-16zM142 744h16v6h-16zM142 749h16v6h-16zM142 754h11v6h-11zM137 759h16v6h-16zM137 764h16v6h-16zM132 769h16v6h-16zM132 774h16v6h-16zM127 779h21v6h-21zM122 784h21v6h-21zM82 789h6v6h-6zM122 789h21v6h-21zM82 794h6v6h-6zM112 794h26v6h-26zM82 799h16v6h-16zM102 799h36v6h-36zM82 804h51v6h-51zM82 809h46v6h-46z"/><path fill="#295682" d="M117 599h16v6h-16zM122 604h11v6h-11zM127 609h11v6h-11zM127 614h11v6h-11zM132 619h6v6h-6zM132 624h11v6h-11zM132 629h11v6h-11zM137 634h6v6h-6zM137 639h11v6h-11zM137 644h11v6h-11zM137 649h11v6h-11zM142 654h6v6h-6zM142 659h6v6h-6zM142 664h6v6h-6zM142 669h6v6h-6zM142 674h6v6h-6zM142 679h6v6h-6zM142 684h6v6h-6zM142 689h6v6h-6zM142 694h6v6h-6zM142 699h6v6h-6zM142 704h6v6h-6zM142 709h6v6h-6zM142 714h6v6h-6zM142 719h6v6h-6zM142 724h6v6h-6zM137 729h11v6h-11zM137 734h11v6h-11zM137 739h6v6h-6zM137 744h6v6h-6zM132 749h11v6h-11zM132 754h11v6h-11zM127 759h11v6h-11zM127 764h11v6h-11zM122 769h11v6h-11zM117 774h16v6h-16zM82 779h6v6h-6zM112 779h16v6h-16zM82 784h11v6h-11zM107 784h16v6h-16zM87 789h36v6h-36zM87 794h26v6h-26zM97 799h6v6h-6z"/><path fill="#265982" d="M82 599h6v6h-6zM112 599h6v6h-6zM112 604h11v6h-11zM117 609h11v6h-11zM122 614h6v6h-6zM122 619h11v6h-11zM127 624h6v6h-6zM127 629h6v6h-6zM132 634h6v6h-6zM132 639h6v6h-6zM132 644h6v6h-6zM132 649h6v6h-6zM137 654h6v6h-6zM137 659h6v6h-6zM137 664h6v6h-6zM137 669h6v6h-6zM137 674h6v6h-6zM137 679h6v6h-6zM137 684h6v6h-6zM137 689h6v6h-6zM137 694h6v6h-6zM137 699h6v6h-6zM137 704h6v6h-6zM137 709h6v6h-6zM137 714h6v6h-6zM137 719h6v6h-6zM132 724h11v6h-11zM132 729h6v6h-6zM132 734h6v6h-6zM132 739h6v6h-6zM127 744h11v6h-11zM127 749h6v6h-6zM122 754h11v6h-11zM122 759h6v6h-6zM117 764h11v6h-11zM82 769h6v6h-6zM112 769h11v6h-11zM82 774h11v6h-11zM107 774h11v6h-11zM87 779h26v6h-26zM92 784h16v6h-16z"/><path fill="#225d82" d="M87 599h11v6h-11zM102 599h11v6h-11zM82 604h6v6h-6zM107 604h6v6h-6zM82 609h6v6h-6zM112 609h6v6h-6zM117 614h6v6h-6zM117 619h6v6h-6zM122 624h6v6h-6zM122 629h6v6h-6zM127 634h6v6h-6zM127 639h6v6h-6zM127 644h6v6h-6zM127 649h6v6h-6zM132 654h6v6h-6zM132 659h6v6h-6zM132 664h6v6h-6zM132 669h6v6h-6zM132 674h6v6h-6zM132 679h6v6h-6zM132 684h6v6h-6zM132 689h6v6h-6zM132 694h6v6h-6zM132 699h6v6h-6zM132 704h6v6h-6zM132 709h6v6h-6zM132 714h6v6h-6zM132 719h6v6h-6zM127 729h6v6h-6zM127 734h6v6h-6zM127 739h6v6h-6zM122 744h6v6h-6zM122 749h6v6h-6zM117 754h6v6h-6zM82 759h6v6h-6zM117 759h6v6h-6zM82 764h6v6h-6zM112 764h6v6h-6zM87 769h6v6h-6zM107 769h6v6h-6zM92 774h16v6h-16z"/><path fill="#1e6182" d="M97 599h6v6h-6zM87 604h21v6h-21zM107 609h6v6h-6zM82 614h6v6h-6zM112 614h6v6h-6zM112 619h6v6h-6zM117 624h6v6h-6zM117 629h6v6h-6zM122 634h6v6h-6zM122 639h6v6h-6zM122 644h6v6h-6zM127 654h6v6h-6zM127 659h6v6h-6zM127 664h6v6h-6zM127 669h6v6h-6zM127 704h6v6h-6zM127 709h6v6h-6zM127 714h6v6h-6zM127 719h6v6h-6zM127 724h6v6h-6zM122 729h6v6h-6zM122 734h6v6h-6zM122 739h6v6h-6zM117 744h6v6h-6zM117 749h6v6h-6zM82 754h6v6h-6zM112 754h6v6h-6zM107 759h11v6h-11zM87 764h11v6h-11zM102 764h11v6h-11zM92 769h16v6h-16z"/><path fill="#1a6682" d="M87 609h21v6h-21zM87 614h6v6h-6zM107 614h6v6h-6zM82 619h6v6h-6zM112 624h6v6h-6zM117 634h6v6h-6zM117 639h6v6h-6zM122 649h6v6h-6zM122 654h6v6h-6zM122 659h6v6h-6zM127 674h6v6h-6zM127 679h6v6h-6zM127 684h6v6h-6zM127 689h6v6h-6zM127 694h6v6h-6zM127 699h6v6h-6zM122 714h6v6h-6zM122 719h6v6h-6zM122 724h6v6h-6zM117 734h6v6h-6zM117 739h6v6h-6zM112 744h6v6h-6zM82 749h6v6h-6zM112 749h6v6h-6zM107 754h6v6h-6zM87 759h11v6h-11zM102 759h6v6h-6zM97 764h6v6h-6z"/><path fill="#166d84" d="M92 614h16v6h-16zM107 619h6v6h-6zM82 624h6v6h-6zM107 624h6v6h-6zM112 629h6v6h-6zM112 634h6v6h-6zM117 644h6v6h-6zM117 649h6v6h-6zM122 664h6v6h-6zM122 669h6v6h-6zM122 674h6v6h-6zM122 679h6v6h-6zM122 684h6v6h-6zM122 689h6v6h-6zM122 694h6v6h-6zM122 699h6v6h-6zM122 704h6v6h-6zM122 709h6v6h-6zM117 724h6v6h-6zM117 729h6v6h-6zM112 739h6v6h-6zM82 744h6v6h-6zM107 749h6v6h-6zM87 754h11v6h-11zM102 754h6v6h-6zM97 759h6v6h-6z"/><path fill="#127385" d="M87 619h6v6h-6zM102 619h6v6h-6zM82 629h6v6h-6zM107 629h6v6h-6zM82 634h6v6h-6zM112 639h6v6h-6zM117 654h6v6h-6zM117 659h6v6h-6zM117 714h6v6h-6zM117 719h6v6h-6zM82 734h6v6h-6zM112 734h6v6h-6zM82 739h6v6h-6zM107 744h6v6h-6zM87 749h6v6h-6zM102 749h6v6h-6zM97 754h6v6h-6z"/><path fill="#0e7986" d="M92 619h11v6h-11zM87 624h6v6h-6zM102 624h6v6h-6zM107 634h6v6h-6zM82 639h6v6h-6zM112 644h6v6h-6zM112 649h6v6h-6zM117 664h6v6h-6zM117 669h6v6h-6zM117 674h6v6h-6zM117 679h6v6h-6zM117 684h6v6h-6zM117 689h6v6h-6zM117 694h6v6h-6zM117 699h6v6h-6zM117 704h6v6h-6zM117 709h6v6h-6zM112 724h6v6h-6zM82 729h6v6h-6zM112 729h6v6h-6zM107 739h6v6h-6zM87 744h6v6h-6zM102 744h6v6h-6zM92 749h11v6h-11z"/><path fill="#0e8088" d="M92 624h11v6h-11zM87 629h6v6h-6zM102 629h6v6h-6zM107 639h6v6h-6zM112 654h6v6h-6zM112 714h6v6h-6zM112 719h6v6h-6zM82 724h6v6h-6zM107 734h6v6h-6zM87 739h6v6h-6zM102 739h6v6h-6zM92 744h11v6h-11z"/><path fill="#0d868a" d="M92 629h11v6h-11zM87 634h6v6h-6zM102 634h6v6h-6zM82 644h6v6h-6zM107 644h6v6h-6zM112 659h6v6h-6zM112 664h6v6h-6zM112 704h6v6h-6zM112 709h6v6h-6zM82 719h6v6h-6zM107 724h6v6h-6zM107 729h6v6h-6zM87 734h6v6h-6zM102 734h6v6h-6zM92 739h11v6h-11z"/><path fill="#148b8c" d="M97 634h6v6h-6zM87 639h6v6h-6zM102 639h6v6h-6zM82 649h6v6h-6zM107 649h6v6h-6zM112 669h6v6h-6zM112 674h6v6h-6zM112 679h6v6h-6zM112 684h6v6h-6zM112 689h6v6h-6zM112 694h6v6h-6zM112 699h6v6h-6zM82 714h6v6h-6zM107 719h6v6h-6zM87 729h6v6h-6zM92 734h11v6h-11z"/><path fill="#1e908e" d="M92 634h6v6h-6zM82 654h6v6h-6zM107 654h6v6h-6zM82 709h6v6h-6zM107 714h6v6h-6zM87 724h6v6h-6zM102 729h6v6h-6z"/><path fill="#279590" d="M92 639h11v6h-11zM87 644h6v6h-6zM102 644h6v6h-6zM107 659h6v6h-6zM107 664h6v6h-6zM82 704h6v6h-6zM107 704h6v6h-6zM107 709h6v6h-6zM102 724h6v6h-6zM92 729h11v6h-11z"/><path fill="#309b92" d="M102 649h6v6h-6zM82 659h6v6h-6zM107 669h6v6h-6zM107 674h6v6h-6zM107 679h6v6h-6zM107 694h6v6h-6zM82 699h6v6h-6zM107 699h6v6h-6zM87 719h6v6h-6zM102 719h6v6h-6zM92 724h11v6h-11z"/><path fill="#39a094" d="M92 644h11v6h-11zM87 649h6v6h-6zM102 654h6v6h-6zM82 664h6v6h-6zM107 684h6v6h-6zM107 689h6v6h-6zM87 714h6v6h-6zM102 714h6v6h-6zM92 719h11v6h-11z"/><path fill="#41a695" d="M97 649h6v6h-6zM102 659h6v6h-6zM82 694h6v6h-6zM102 709h6v6h-6z"/><path fill="#4aac97" d="M102 664h6v6h-6zM82 669h6v6h-6zM82 689h6v6h-6zM102 704h6v6h-6zM87 709h6v6h-6zM92 714h11v6h-11z"/><path fill="#52b198" d="M92 649h6v6h-6zM87 654h6v6h-6zM102 669h6v6h-6zM82 674h6v6h-6zM82 679h6v6h-6zM82 684h6v6h-6zM102 694h6v6h-6zM102 699h6v6h-6zM97 709h6v6h-6z"/><path fill="#5bb69a" d="M97 654h6v6h-6zM102 674h6v6h-6zM102 679h6v6h-6zM102 684h6v6h-6zM102 689h6v6h-6zM87 704h6v6h-6zM92 709h6v6h-6z"/><path fill="#64bc9b" d="M97 704h6v6h-6z"/><path fill="#6cc19c" d="M92 654h6v6h-6zM97 659h6v6h-6z"/><path fill="#73c49c" d="M87 659h6v6h-6zM87 699h6v6h-6zM97 699h6v6h-6zM92 704h6v6h-6z"/><path fill="#82cb9e" d="M97 664h6v6h-6zM97 694h6v6h-6z"/><path fill="#89ce9e" d="M87 694h6v6h-6zM92 699h6v6h-6z"/><path fill="#91d29e" d="M92 659h6v6h-6zM87 664h6v6h-6zM97 669h6v6h-6zM97 689h6v6h-6z"/><path fill="#a0d8a0" d="M97 674h6v6h-6zM97 684h6v6h-6z"/><path fill="#a7dba1" d="M97 679h6v6h-6zM87 689h6v6h-6zM92 694h6v6h-6z"/><path fill="#afdea2" d="M87 669h6v6h-6z"/><path fill="#b7e2a4" d="M92 664h6v6h-6z"/><path fill="#bee5a5" d="M87 684h6v6h-6z"/><path fill="#c6e8a6" d="M87 674h6v6h-6zM87 679h6v6h-6z"/><path fill="#ceeba8" d="M92 689h6v6h-6z"/><path fill="#d6eea9" d="M92 669h6v6h-6z"/><path fill="#e6f4ac" d="M92 684h6v6h-6z"/><path fill="#edf6ac" d="M92 674h6v6h-6z"/><path fill="#f4f9ab" d="M92 679h6v6h-6z"/></g></g><path d="M232.7 682.1h0M182.1 742.8h0M250.2 698.0h0M286.0 710.1h0M288.0 708.6h0M194.8 745.7h0M201.2 703.6h0M240.3 692.6h0M185.1 735.4h0M249.8 712.1h0M192.0 686.8h0M275.1 713.2h0M225.8 685.7h0M298.4 700.0h0M199.8 719.3h0M260.8 722.9h0M208.3 697.8h0M238.0 716.2h0M212.9 721.1h0M286.3 724.7h0M254.2 681.5h0M284.4 655.6h0M188.0 722.0h0M259.9 687.8h0M258.7 668.4h0M216.4 668.0h0M301.8 674.7h0M294.5 664.1h0M231.5 726.6h0M232.8 674.8h0M256.8 691.0h0M181.8 734.2h0M200.2 673.3h0M254.4 677.3h0M242.8 718.1h0M185.6 684.8h0M278.2 716.8h0M308.5 664.7h0M211.5 679.2h0M240.6 735.9h0M283.1 673.0h0M181.7 687.5h0M225.2 707.7h0M249.5 697.8h0M203.5 743.0h0M176.5 724.4h0M253.3 721.0h0M212.1 717.1h0M234.9 674.5h0M231.8 718.5h0M268.8 699.0h0M268.8 675.7h0M222.1 734.0h0M286.4 696.4h0M242.9 689.4h0M276.3 725.0h0M262.9 706.9h0M208.2 707.5h0M233.0 702.8h0M307.8 707.2h0M285.8 699.6h0M230.9 739.1h0M204.7 728.9h0M272.9 675.9h0M195.1 739.2h0M298.5 697.5h0M196.6 672.9h0M250.1 675.2h0M177.9 716.9h0M296.0 659.5h0M302.6 655.7h0M236.1 682.1h0M238.9 673.8h0M242.8 723.1h0M222.0 673.0h0M270.6 722.9h0M220.1 711.2h0M253.2 693.4h0M234.0 695.6h0M225.9 695.8h0M281.8 714.9h0M214.6 676.4h0M189.1 689.4h0M215.7 731.0h0M261.0 685.3h0M223.0 733.7h0M277.2 715.9h0M293.5 684.2h0M250.9 677.8h0M234.7 729.8h0" stroke="#fff" stroke-width="2.1" stroke-linecap="round" fill="none"/><path d="M105.3 788.0h0M325.6 646.2h0M323.0 666.4h0M322.7 646.2h0M169.2 763.1h0M92.9 620.3h0M326.9 637.3h0M266.1 643.0h0M245.6 650.4h0M217.7 650.8h0M263.3 648.4h0M318.8 610.9h0M187.6 757.4h0M213.3 753.9h0M92.5 743.9h0M260.0 645.5h0M113.4 782.6h0M167.5 642.2h0M221.1 746.9h0M223.8 749.8h0M228.5 652.9h0M129.0 779.1h0M163.2 634.8h0M178.8 757.7h0M148.1 632.9h0M326.0 647.9h0M311.4 623.9h0M316.2 606.2h0M263.0 748.8h0M190.7 754.5h0M140.9 770.2h0M321.7 617.7h0M210.1 747.5h0M323.0 617.0h0M174.5 759.9h0M295.3 643.0h0M327.0 651.0h0M92.0 766.5h0M155.8 635.4h0M229.9 750.0h0M185.7 648.2h0M326.2 700.8h0M297.4 719.8h0M91.9 641.7h0M313.8 715.7h0M250.2 743.6h0M255.5 649.8h0M223.8 658.3h0M306.7 634.2h0M206.1 748.3h0M248.0 744.1h0M256.4 746.7h0M160.6 634.2h0M219.4 749.3h0M190.6 754.8h0M193.4 753.5h0M179.7 645.3h0M196.5 651.8h0M205.5 655.2h0M144.7 775.9h0M172.4 760.7h0M215.7 750.2h0M312.3 629.8h0M259.6 647.2h0M215.6 750.6h0M326.7 626.7h0M252.9 743.3h0M307.6 636.0h0M298.4 719.5h0M205.0 653.2h0M175.0 646.2h0M186.1 755.2h0M98.9 798.5h0M323.3 699.0h0M254.5 647.4h0M192.4 652.1h0M208.5 754.9h0M312.9 716.0h0M149.1 634.3h0M174.1 644.7h0M186.1 754.3h0M286.8 642.6h0M175.6 758.8h0M220.3 748.3h0M234.3 747.0h0M325.7 609.0h0M297.8 723.2h0M131.8 622.3h0M254.7 649.0h0M223.2 752.5h0M274.2 642.1h0M326.0 652.1h0M260.4 742.0h0M92.0 752.5h0M155.5 767.3h0M92.7 695.4h0M322.5 607.6h0M180.9 644.8h0M321.1 648.7h0M92.1 754.9h0M91.6 703.6h0M323.8 612.2h0M268.2 644.1h0M178.7 760.7h0M139.2 774.7h0M304.0 716.6h0M215.0 652.8h0M207.3 754.1h0M325.9 688.6h0M325.8 691.1h0M168.3 766.7h0M277.0 734.8h0M169.5 762.7h0M204.2 754.9h0M285.1 732.9h0M267.9 647.5h0M240.8 647.4h0M309.5 710.9h0M140.5 768.5h0M320.6 614.2h0M296.7 723.4h0M166.0 641.5h0M278.5 641.8h0M242.0 745.6h0M114.5 785.3h0M182.0 645.5h0M286.3 730.6h0M129.1 621.7h0M197.1 652.8h0M140.4 773.3h0M229.9 658.4h0M116.3 779.2h0M250.0 649.4h0M186.2 650.0h0M216.4 748.8h0M227.5 750.8h0M161.1 763.3h0M223.2 751.8h0M196.2 753.1h0M320.7 607.8h0M321.0 624.4h0M158.1 636.2h0M323.1 687.0h0M136.9 774.0h0M314.0 711.4h0M122.9 621.8h0M176.5 647.5h0M326.9 669.2h0M180.9 644.1h0M152.9 634.3h0M324.2 677.9h0M275.0 644.3h0M241.0 749.6h0M246.1 649.4h0M276.9 642.7h0M122.6 621.8h0M175.8 758.9h0M212.4 655.3h0M97.7 799.7h0M274.7 738.8h0M215.1 747.3h0M323.0 699.4h0M324.0 624.8h0M234.4 747.6h0M263.9 741.0h0M325.5 677.9h0M192.1 757.8h0M321.9 609.7h0M277.8 642.4h0M107.0 610.7h0M153.5 769.2h0M177.0 646.5h0M136.9 629.7h0M300.1 634.9h0M141.2 769.9h0M292.4 724.8h0M278.3 736.9h0M324.5 707.0h0M191.2 758.3h0M212.1 658.8h0M299.1 633.0h0M297.3 640.1h0M300.1 633.6h0M272.3 738.0h0M147.7 767.9h0M178.5 642.2h0M274.3 643.9h0M204.3 754.4h0M91.7 613.1h0M95.4 800.9h0M228.0 652.9h0M91.6 742.2h0M93.6 739.9h0M93.6 620.7h0M296.9 723.4h0M161.0 634.3h0M313.6 619.0h0M103.7 790.2h0M318.0 617.9h0M130.5 625.2h0M131.6 622.4h0M310.8 711.6h0M142.7 772.6h0M226.0 750.0h0M250.8 647.7h0M296.1 638.6h0M230.7 747.5h0M315.3 617.4h0M95.7 606.6h0M91.6 701.6h0M287.4 642.9h0M214.7 655.5h0M257.9 648.6h0M274.4 643.7h0M268.9 643.3h0M291.4 733.9h0M322.8 653.7h0M235.1 747.6h0M312.9 714.5h0M267.9 643.9h0M157.2 771.5h0M238.9 647.4h0M230.9 656.3h0M131.6 621.8h0M308.0 719.5h0M270.7 741.9h0M126.8 779.6h0M325.5 626.0h0M248.0 647.2h0M275.3 732.4h0M314.4 627.1h0M280.4 642.5h0M324.1 655.6h0M292.8 639.6h0M304.2 718.7h0M325.2 639.2h0M315.6 610.1h0M296.7 726.0h0M102.7 607.6h0M138.4 775.4h0M159.0 759.8h0M317.4 710.7h0M130.1 775.8h0M326.2 691.6h0M291.4 640.2h0M323.9 623.0h0M316.2 619.7h0M306.6 715.0h0M283.6 640.2h0M163.0 640.3h0M291.1 722.1h0M197.2 752.7h0M206.3 755.0h0M198.1 651.5h0M138.4 773.5h0M160.0 772.1h0M189.0 761.2h0M266.8 649.5h0M153.9 764.5h0M212.4 755.9h0M229.8 746.6h0M303.4 641.3h0M221.0 747.4h0M171.4 765.6h0M315.4 612.9h0M199.3 649.6h0M93.1 743.3h0M248.6 743.8h0M312.9 621.4h0M300.4 712.0h0M181.2 757.6h0M315.9 711.4h0M281.4 641.1h0M301.5 635.6h0M115.2 617.5h0M145.2 773.2h0M255.1 746.3h0M272.2 739.9h0M315.8 615.1h0M248.2 747.5h0M273.7 744.2h0M126.3 621.5h0M91.5 714.1h0M194.4 758.9h0M123.4 618.1h0M188.1 652.4h0M208.1 655.3h0M176.1 647.1h0M250.5 743.5h0M248.0 741.2h0M303.0 633.1h0M230.0 650.3h0M91.8 750.7h0M175.1 648.5h0M251.2 747.7h0M321.8 668.6h0M324.8 685.4h0M282.8 641.6h0M270.1 647.3h0M166.5 642.8h0M308.3 716.7h0M274.1 640.7h0M325.5 687.4h0M260.2 647.7h0M310.2 719.6h0M193.4 755.0h0M313.9 715.5h0M129.5 623.7h0M300.5 637.1h0M286.4 731.2h0M242.8 742.9h0M284.7 639.0h0M290.5 644.4h0M326.2 616.4h0M313.6 626.3h0M146.7 633.2h0M315.9 618.0h0M221.1 662.1h0M213.9 751.3h0M321.2 606.9h0M112.5 610.9h0M199.5 757.3h0M273.5 745.6h0M326.2 627.5h0M234.2 650.1h0M152.0 633.6h0M179.9 757.1h0M318.6 609.4h0M297.9 721.3h0M123.7 777.3h0M205.6 655.6h0M308.1 716.0h0M313.0 624.1h0M170.1 639.0h0M91.7 694.9h0M108.8 609.3h0M261.8 651.2h0M314.7 610.9h0M281.7 642.4h0M164.1 634.1h0M126.9 777.4h0M198.8 654.0h0M278.1 643.0h0M209.5 654.3h0M248.3 747.3h0M307.7 637.1h0M264.9 741.6h0M221.2 746.9h0M171.3 759.4h0M247.5 743.2h0M249.4 648.3h0M187.9 756.6h0M228.1 657.8h0M252.9 647.6h0M258.2 746.9h0M262.0 649.5h0M92.3 801.9h0M160.4 764.9h0M220.3 658.0h0M315.7 709.6h0M181.9 651.1h0M325.2 624.4h0M302.9 635.6h0M147.9 769.3h0M324.5 658.8h0M214.6 653.1h0M283.1 646.1h0M253.7 741.9h0M202.7 755.7h0M324.7 695.9h0M93.1 615.8h0M92.9 757.1h0M231.2 653.7h0M150.9 633.5h0M201.4 755.7h0M324.9 642.4h0M178.0 760.8h0M306.1 633.2h0M213.6 657.6h0M157.5 632.4h0M196.4 757.3h0M320.0 605.4h0M255.2 745.2h0M291.3 644.8h0M177.5 642.3h0M154.8 639.3h0M301.0 720.6h0M140.1 771.9h0M326.3 616.5h0M93.4 801.4h0M229.6 652.1h0M233.2 649.9h0M253.0 645.4h0M324.7 631.4h0M146.8 772.8h0M270.9 741.9h0M245.0 645.1h0M139.4 616.6h0M131.2 616.4h0M255.6 612.0h0M212.6 615.8h0M162.5 625.9h0M277.6 634.0h0M271.7 643.1h0M275.2 640.3h0M203.2 640.7h0M219.6 625.8h0M177.2 625.8h0M166.5 611.4h0M273.8 642.7h0M217.5 640.4h0M194.0 614.1h0M153.7 627.1h0M228.4 624.2h0M149.9 616.8h0M141.2 622.9h0M302.2 623.9h0M109.2 612.5h0M270.9 644.6h0M235.5 613.3h0M187.7 645.9h0M179.4 639.0h0M227.9 639.2h0M223.1 633.2h0M176.2 639.5h0M172.4 619.6h0M123.8 616.4h0M217.9 631.0h0M172.7 610.3h0M125.8 619.9h0M157.0 633.5h0M205.3 650.6h0M209.5 627.8h0M241.9 619.6h0M293.0 640.0h0M280.0 617.9h0M224.7 622.4h0M151.8 619.2h0M143.2 622.1h0M264.1 614.8h0M201.9 631.5h0M170.6 619.3h0M192.2 612.3h0M283.1 611.1h0M274.6 616.0h0M164.3 623.9h0M176.5 626.3h0M215.6 611.8h0M284.0 612.9h0M201.5 623.1h0M210.2 648.3h0M193.4 632.4h0M231.6 644.6h0M290.3 611.3h0M272.2 630.5h0M254.1 610.9h0M251.8 645.9h0M190.0 634.6h0M276.6 638.9h0M123.2 620.2h0M280.9 625.1h0M202.6 618.0h0M197.7 647.5h0M213.8 614.9h0M179.6 627.9h0M224.8 620.1h0M287.7 628.9h0M210.5 644.4h0M237.6 625.7h0M282.8 612.6h0M278.0 613.1h0M296.3 617.8h0M203.1 634.0h0M151.7 630.4h0M261.1 621.6h0M248.5 625.7h0M293.8 640.1h0M276.2 637.3h0M252.8 636.7h0M225.2 617.8h0M226.5 608.6h0M236.0 634.1h0M208.4 641.7h0M285.8 623.5h0M272.7 629.0h0M221.2 625.0h0M297.8 626.4h0M301.9 621.6h0M242.5 648.0h0M244.9 623.3h0M187.8 643.4h0M194.9 624.9h0M219.6 640.5h0M116.9 615.9h0M130.9 620.9h0M162.5 615.4h0M123.9 611.9h0M145.0 613.3h0M219.9 646.6h0M239.8 638.6h0M248.5 642.7h0M280.8 613.1h0M210.0 630.0h0M265.8 614.0h0M249.7 625.6h0M189.4 617.3h0M159.7 632.6h0M217.4 647.7h0M304.6 617.7h0M271.3 616.1h0M164.7 610.7h0M193.6 610.8h0M249.3 632.5h0M189.1 638.7h0M149.5 621.3h0M288.0 610.1h0M273.5 626.6h0M189.3 612.4h0M151.7 612.9h0M292.0 606.9h0M176.8 640.6h0M258.3 610.9h0M257.3 631.9h0M269.3 633.6h0M263.2 628.6h0M217.0 643.6h0M231.3 623.3h0M172.1 625.7h0M161.0 631.5h0M185.0 644.4h0M226.0 631.7h0M266.0 626.3h0M213.7 640.5h0M253.2 640.2h0M288.9 631.7h0M217.7 614.7h0M151.1 626.0h0M205.7 647.4h0M256.9 627.1h0M279.9 613.4h0M263.5 625.8h0M220.3 608.6h0M185.4 642.9h0M255.9 631.9h0M189.7 607.8h0M248.2 626.5h0M253.5 634.2h0M224.4 626.6h0M298.4 629.6h0M207.8 608.8h0M269.1 635.4h0M284.6 627.4h0M205.9 650.3h0M219.9 619.6h0M241.2 628.7h0M228.0 617.4h0M199.1 611.4h0M211.7 614.3h0M219.4 608.6h0M252.5 646.9h0M234.9 614.1h0M129.7 617.1h0M210.9 642.2h0M250.7 632.3h0M208.6 613.8h0M159.4 774.8h0M281.5 763.4h0M131.1 790.2h0M182.1 765.1h0M297.9 750.3h0M260.8 750.3h0M176.5 776.5h0M313.9 720.1h0M231.2 771.6h0M164.2 783.8h0M206.3 771.3h0M267.2 746.7h0M316.2 709.9h0M155.9 789.1h0M296.8 747.9h0M127.6 791.7h0M166.6 772.0h0M132.7 786.6h0M179.5 785.5h0M238.8 765.7h0M312.6 715.4h0M148.1 792.6h0M290.8 743.4h0M210.1 755.4h0M294.0 748.5h0M145.8 778.7h0M195.2 764.3h0M189.7 781.1h0M157.4 792.7h0M207.9 763.5h0M264.6 747.9h0M182.2 779.9h0M296.4 756.2h0M313.2 742.6h0M208.0 754.1h0M154.2 781.1h0M124.2 792.4h0M305.8 754.1h0M265.1 761.3h0M200.5 772.0h0M299.0 755.6h0M313.2 731.9h0M242.7 765.4h0M108.8 792.1h0M145.6 794.2h0M311.8 729.3h0M226.3 761.9h0M267.4 753.8h0M158.6 785.6h0M255.3 755.8h0M205.2 774.3h0M192.8 767.0h0M294.3 754.6h0M249.6 769.4h0M245.7 748.8h0M227.4 762.6h0M110.1 799.5h0M315.7 749.3h0M321.3 734.9h0M128.4 793.8h0M230.0 772.1h0M226.4 753.5h0M156.1 770.4h0M125.9 790.7h0M109.9 788.9h0M314.7 719.5h0M245.5 753.8h0M306.0 738.5h0M295.8 748.7h0M208.5 773.5h0M278.4 739.9h0M309.9 717.2h0M311.0 719.0h0M185.6 774.2h0M168.2 785.3h0M207.9 756.9h0M155.8 785.8h0M100.2 800.9h0M317.9 731.7h0M156.9 784.3h0M282.2 733.9h0M306.6 721.9h0M285.0 751.1h0M184.6 782.4h0M324.4 750.2h0M203.5 768.2h0M154.2 787.6h0M228.4 768.9h0M188.5 764.4h0M178.8 767.2h0M235.0 756.3h0M234.5 761.5h0M296.4 740.8h0M123.0 783.0h0M109.8 796.2h0M274.4 748.7h0M300.9 741.2h0M310.9 720.1h0M147.7 777.4h0M253.9 762.1h0M160.0 780.0h0M244.6 768.8h0M265.0 759.1h0M271.9 754.7h0M196.9 774.3h0M125.3 798.4h0M268.5 758.7h0M300.9 749.5h0M104.5 800.7h0M132.8 796.5h0M290.9 756.4h0M305.1 754.5h0M278.5 743.9h0M281.1 739.9h0M189.0 765.8h0M143.7 787.8h0M310.5 728.5h0M176.7 775.9h0M199.9 758.2h0M199.5 758.1h0M284.6 734.0h0M188.0 761.8h0M293.3 731.3h0M301.9 753.5h0M318.4 752.4h0M288.5 731.3h0M270.8 751.8h0M147.7 777.3h0M288.6 741.9h0M312.2 734.8h0M135.4 783.6h0M134.4 796.7h0M179.4 780.9h0M138.5 787.8h0M288.8 739.8h0M127.3 794.1h0M278.5 736.5h0M290.0 728.6h0M185.5 779.9h0M253.0 752.6h0M254.4 757.9h0M304.1 737.1h0M130.8 793.7h0M168.6 776.7h0M318.0 738.2h0M298.0 747.4h0M207.4 759.1h0M106.1 792.2h0M234.0 753.3h0M198.5 770.7h0M218.9 665.9h0M153.9 757.5h0M254.5 734.5h0M272.4 739.7h0M185.6 659.3h0M206.1 660.8h0M194.6 662.2h0M275.3 652.9h0M175.0 750.3h0M300.5 711.4h0M226.1 743.1h0M291.9 643.3h0M192.1 660.8h0M307.7 634.2h0M166.0 760.3h0M251.3 648.5h0M252.8 736.4h0M285.9 648.7h0M262.4 741.7h0M155.0 644.2h0M174.0 751.5h0M254.0 735.7h0M213.4 660.4h0M220.8 744.5h0M300.2 646.5h0M271.6 648.8h0M189.4 657.8h0M299.9 643.3h0M177.8 756.2h0M218.9 747.6h0M302.7 639.5h0M151.1 768.9h0M285.0 649.8h0M249.7 652.5h0M152.0 765.3h0M155.2 638.8h0M197.3 660.8h0M283.9 733.5h0M275.4 654.7h0M225.5 660.1h0M238.9 739.7h0M153.3 636.5h0M258.0 742.3h0M320.2 701.2h0M160.1 763.3h0M163.9 754.8h0M173.4 653.7h0M162.3 756.6h0M249.4 736.1h0M288.4 720.7h0M177.8 657.1h0M155.4 757.4h0M242.4 661.0h0M234.3 743.4h0M324.1 701.8h0M227.2 663.9h0M267.9 737.5h0M315.3 702.2h0M171.3 652.3h0M251.1 656.8h0M251.9 658.3h0M263.1 657.1h0M279.4 728.0h0M277.0 650.4h0M233.9 659.2h0M288.2 730.1h0M220.7 663.1h0M248.0 652.5h0M308.7 633.3h0M148.3 760.4h0M219.2 660.6h0M291.8 652.6h0M248.6 658.6h0M180.8 748.2h0M309.3 707.7h0M205.9 657.0h0M283.9 730.3h0M201.2 661.5h0M317.9 704.4h0M230.6 742.1h0M263.5 740.2h0M170.4 652.0h0M180.8 755.8h0M215.8 741.5h0M304.0 711.4h0M291.1 715.5h0M285.6 648.6h0M183.6 751.0h0M200.7 750.1h0M296.8 715.4h0M266.8 735.3h0M241.5 736.1h0M310.2 709.2h0M234.6 740.1h0M286.4 725.1h0M217.0 657.0h0M175.3 651.8h0M297.6 645.4h0M306.2 709.5h0M250.6 655.7h0M256.2 650.1h0M151.0 765.5h0M151.7 760.3h0M237.7 744.7h0M323.2 704.8h0M200.4 744.3h0M266.6 653.7h0M237.5 655.5h0M209.4 746.7h0M311.9 705.2h0M190.8 744.9h0M315.2 701.8h0M190.1 750.5h0M265.5 651.7h0M256.5 657.1h0M251.4 737.6h0M294.2 724.6h0M302.8 707.9h0M278.9 653.8h0M221.4 746.7h0M210.4 664.7h0M302.0 710.1h0M248.6 651.3h0M183.1 749.3h0M228.6 656.5h0M170.1 753.1h0M239.5 659.9h0M245.7 652.7h0M202.1 749.0h0M266.3 732.4h0M251.5 745.1h0M164.1 761.0h0M179.5 655.7h0M228.3 745.7h0M223.4 664.0h0M247.8 742.7h0M298.7 648.2h0M174.2 646.2h0M298.7 643.0h0M256.2 737.8h0M235.5 744.3h0M226.9 745.0h0M235.0 657.8h0M234.2 745.8h0M287.2 651.1h0M324.3 701.7h0M291.6 648.2h0M290.6 722.0h0M296.1 641.7h0M163.6 755.1h0M146.7 766.2h0M200.4 752.4h0M281.4 648.9h0M203.4 750.7h0M227.6 666.3h0M286.9 723.5h0M211.7 751.2h0M175.3 759.9h0M246.8 657.9h0M232.3 658.9h0M283.2 725.1h0M176.0 753.0h0M292.4 716.3h0M226.8 744.3h0M273.3 650.7h0M308.1 637.9h0M272.9 733.9h0M148.8 636.7h0M139.6 768.2h0M224.4 741.3h0M197.3 662.7h0M214.5 656.9h0M152.0 643.3h0M258.2 736.7h0M284.8 727.4h0M292.9 645.9h0M210.4 752.5h0M154.8 643.3h0M148.8 761.3h0M173.2 749.8h0M270.0 737.7h0M279.9 733.3h0M310.6 708.7h0M304.0 708.3h0M212.0 746.1h0M273.2 740.6h0M281.9 726.0h0M249.8 739.7h0M150.6 640.9h0M221.9 658.8h0M154.5 762.3h0M175.0 757.0h0M263.9 648.2h0M144.8 764.4h0M251.6 652.8h0M227.5 666.3h0M288.2 722.5h0M309.4 708.8h0M147.0 763.0h0M243.6 734.5h0M303.5 641.1h0M306.7 706.3h0M176.3 655.2h0M250.0 739.3h0M164.7 763.4h0M312.1 703.9h0M287.7 651.2h0M259.2 657.5h0M204.9 663.2h0M164.0 760.7h0M322.4 701.3h0M270.1 651.8h0M154.5 636.5h0M228.0 660.0h0M296.1 712.1h0M273.7 647.0h0M184.0 655.7h0M154.3 640.7h0M210.8 660.1h0M230.2 664.0h0M221.0 663.0h0M303.3 713.4h0M300.7 642.9h0M296.8 720.9h0M186.7 749.1h0M258.5 655.8h0M231.6 659.5h0M242.4 739.2h0M271.9 739.6h0M181.1 649.8h0M233.0 661.8h0M275.5 730.6h0M157.3 645.1h0M173.2 648.0h0M166.1 643.3h0M279.1 731.3h0M301.2 709.4h0M321.8 700.2h0M250.3 737.9h0M142.2 764.3h0M225.7 666.3h0M241.9 737.8h0M261.7 738.1h0M219.1 748.5h0M176.7 649.4h0M230.6 662.5h0M194.4 745.9h0M163.0 755.1h0M140.0 768.2h0M201.5 745.3h0M250.6 652.2h0M267.8 736.3h0M214.5 744.7h0M270.7 647.7h0M296.5 643.0h0M303.2 713.6h0M147.0 762.6h0M187.3 755.6h0M239.1 742.0h0M170.7 652.2h0M246.8 651.9h0M154.0 763.6h0M225.9 661.1h0M219.2 664.9h0M264.5 736.8h0M270.5 647.7h0M240.3 737.6h0M257.8 736.2h0M229.8 665.0h0M153.1 758.2h0M280.0 654.3h0M230.8 661.0h0M302.3 708.9h0M287.8 724.1h0M150.3 638.1h0M275.5 729.4h0M270.9 647.0h0M210.6 655.2h0M298.2 709.1h0M225.4 743.4h0M215.4 663.4h0M204.5 661.5h0M209.0 747.9h0M283.3 729.4h0M311.3 709.8h0M176.8 748.2h0M230.1 742.4h0M277.7 728.8h0M267.2 733.0h0M261.5 738.1h0M188.6 654.7h0M167.1 641.3h0M205.6 747.5h0M274.3 648.2h0M223.0 661.6h0M160.9 647.2h0M281.8 731.0h0M196.4 749.1h0M176.5 749.3h0M182.5 657.1h0M159.9 643.7h0M233.7 738.7h0M296.9 722.2h0M194.9 663.2h0M156.2 756.3h0M255.8 652.7h0M302.1 711.7h0M151.6 760.4h0M297.1 712.1h0M209.0 746.3h0M260.0 653.6h0M189.0 658.3h0M192.4 754.0h0M268.3 646.7h0M150.2 767.8h0M275.8 652.4h0M225.2 745.2h0M249.4 737.9h0M162.0 756.8h0M273.8 730.3h0M179.8 749.5h0M316.6 704.0h0M208.5 743.8h0M223.1 664.0h0M246.8 649.4h0M307.5 709.9h0M179.4 646.3h0M194.6 751.3h0M296.3 723.4h0M291.7 716.6h0M172.6 750.2h0M155.4 758.4h0M144.5 765.0h0M291.5 648.8h0M260.6 732.5h0M154.7 762.9h0M209.8 664.7h0M239.5 659.4h0M299.4 637.9h0M244.0 740.4h0M313.3 713.5h0M227.8 662.4h0M278.9 730.6h0M305.5 706.0h0M142.2 762.0h0M192.6 750.1h0M201.4 658.2h0M305.1 709.6h0M189.7 750.7h0M275.8 647.4h0M227.4 740.9h0M163.2 755.0h0M142.5 763.9h0M211.6 664.4h0M144.3 764.1h0M300.1 647.9h0M162.2 649.0h0M307.0 713.1h0M181.8 658.6h0M313.1 709.3h0M143.7 769.3h0M293.1 715.3h0M218.6 665.7h0M222.3 741.7h0M294.9 645.7h0M215.1 664.8h0M298.9 715.1h0M266.6 650.8h0M175.8 755.1h0M321.4 707.0h0M154.6 644.6h0M161.3 764.3h0M242.9 734.0h0M163.6 646.7h0M227.1 740.4h0M275.4 731.0h0M191.2 746.6h0M297.8 646.6h0M149.2 639.4h0M188.2 655.8h0M211.1 743.2h0M205.6 746.8h0M303.9 712.0h0M293.1 713.3h0M278.8 653.5h0M290.5 727.1h0M200.5 658.1h0M190.3 658.6h0M263.3 650.5h0M257.1 657.5h0M257.1 742.4h0M231.0 663.0h0M285.6 723.9h0M181.9 655.9h0M291.7 652.1h0M301.9 641.5h0M191.3 745.4h0M169.6 648.5h0M278.6 652.4h0M276.1 652.3h0M295.1 646.8h0M190.6 655.4h0M219.4 741.8h0M288.6 651.3h0M147.5 767.9h0M212.1 745.6h0M298.3 708.8h0M270.5 741.6h0M227.7 666.3h0M150.4 763.9h0M322.7 705.9h0M259.6 652.0h0M301.6 644.1h0M199.4 662.4h0M242.9 734.5h0M291.5 650.5h0M311.7 711.3h0M300.1 715.8h0M309.7 636.0h0M292.5 652.1h0M232.6 739.8h0M266.8 736.7h0M230.6 747.9h0M249.2 738.4h0M194.9 751.1h0M223.2 744.8h0M234.0 747.0h0M268.2 736.3h0M305.5 708.3h0M292.2 718.1h0M295.1 645.4h0M300.9 714.8h0M167.6 758.4h0M184.4 748.1h0M288.1 649.1h0M306.5 712.1h0M190.5 744.8h0M146.9 770.6h0M181.6 649.8h0M169.0 647.4h0M266.5 734.5h0M299.8 646.5h0M187.9 747.0h0M160.9 642.4h0M255.9 736.2h0M249.2 738.5h0M232.9 742.0h0M293.9 716.0h0M151.8 757.6h0M225.2 743.4h0M280.3 654.4h0M138.2 772.1h0M306.8 640.4h0M189.8 652.4h0M237.7 742.4h0M147.9 761.6h0M154.7 642.2h0M282.6 649.1h0M255.0 651.1h0M155.1 763.4h0M240.0 652.2h0M172.6 646.7h0M198.8 656.1h0M314.5 703.4h0M263.4 736.8h0M282.7 653.9h0M170.4 760.2h0M200.1 654.5h0M239.5 660.6h0M228.4 661.3h0M198.3 751.6h0M305.5 712.3h0M311.3 710.4h0M207.2 664.4h0M322.6 705.1h0M242.4 661.0h0M166.5 761.3h0M189.8 653.8h0M254.4 654.6h0M254.7 654.8h0M218.3 661.6h0M232.6 661.5h0M217.7 740.5h0M142.5 762.5h0M306.4 637.7h0M162.2 759.9h0M228.4 666.3h0M241.4 653.9h0M188.2 660.6h0M294.6 720.1h0M181.8 656.4h0M223.3 743.2h0M213.5 743.9h0M215.1 746.8h0M195.9 663.4h0M275.7 736.4h0M148.7 765.7h0M221.3 667.0h0M304.9 710.0h0M298.8 722.6h0M185.4 650.9h0M271.2 647.5h0M219.9 745.1h0M163.9 636.9h0M292.6 723.2h0M274.0 650.7h0M286.7 648.3h0M190.1 754.3h0M278.9 648.3h0M291.7 652.0h0M223.6 663.7h0M198.1 663.3h0M297.5 715.0h0M322.0 701.2h0M188.5 745.1h0M221.7 742.3h0M168.2 651.5h0M165.0 648.6h0M139.1 768.8h0M289.2 720.5h0M294.2 719.7h0M216.2 662.1h0M261.2 735.9h0M155.2 765.5h0M262.5 731.8h0M238.3 743.4h0M300.8 640.0h0M207.7 745.4h0M230.5 740.4h0M258.0 737.4h0M182.6 749.7h0M212.1 654.7h0M270.4 651.9h0M155.2 639.6h0M269.6 740.9h0M162.1 645.2h0M163.4 646.2h0M186.9 654.5h0M213.2 659.9h0M149.9 762.7h0M173.4 751.7h0M226.2 662.3h0M183.0 653.9h0M300.1 711.0h0M195.7 746.5h0M282.2 647.9h0M299.1 649.7h0M285.3 724.9h0M186.9 753.7h0M310.0 638.7h0M180.3 749.3h0M227.9 741.2h0M179.4 658.2h0M204.7 744.4h0M298.9 709.9h0M245.4 648.6h0M253.3 651.3h0M279.6 649.3h0M208.1 661.4h0M193.5 745.9h0M211.8 743.3h0M238.0 662.0h0M189.5 650.1h0M169.5 646.2h0M248.0 653.4h0M203.9 746.2h0M140.8 764.8h0M210.2 751.6h0M187.5 750.2h0M304.2 714.8h0M284.9 725.0h0M273.2 652.1h0M221.7 664.1h0M199.4 744.1h0M202.0 660.4h0M235.5 743.6h0M193.5 747.0h0M269.0 737.4h0M235.0 659.2h0M297.4 648.0h0M142.8 763.2h0M221.1 741.3h0M178.1 750.1h0M309.9 707.4h0M318.9 703.2h0M261.0 657.0h0M200.2 662.7h0M229.1 747.3h0M232.3 742.5h0M294.6 717.6h0M297.3 650.4h0M197.9 752.7h0M201.6 662.2h0M267.6 649.4h0M215.9 664.7h0M157.2 645.3h0M185.5 750.0h0M222.5 660.0h0M186.2 658.3h0M226.7 662.4h0M262.2 651.1h0M206.9 659.1h0M172.5 755.3h0M167.9 644.3h0M231.3 664.1h0M260.8 653.1h0M182.2 753.9h0M298.3 648.4h0M154.3 635.0h0M278.9 738.0h0M156.4 761.7h0M211.7 661.5h0M298.7 644.3h0M217.1 659.0h0M160.7 756.5h0M252.3 658.1h0M248.7 655.9h0M226.4 661.2h0M234.9 741.1h0M208.5 662.3h0M206.1 656.3h0M195.0 751.6h0M184.9 659.4h0M176.4 650.6h0M231.5 743.9h0M205.7 660.2h0M246.4 742.9h0M298.2 644.4h0M240.1 659.4h0M158.4 645.1h0M244.4 743.7h0M252.3 737.1h0M150.8 769.2h0M288.3 646.7h0M165.8 647.1h0M295.2 723.5h0M300.4 711.5h0M220.1 742.7h0M174.0 751.4h0M293.3 714.6h0M195.6 662.5h0M178.7 749.3h0M180.4 654.0h0M300.9 708.3h0M181.4 753.1h0M309.7 638.5h0M188.0 752.3h0M261.2 733.1h0M276.8 655.2h0M274.3 654.4h0M237.8 742.0h0M233.1 655.2h0M304.7 713.3h0M197.8 661.9h0M206.2 664.5h0M235.4 658.1h0M223.3 659.9h0M208.5 752.3h0M189.7 749.8h0M252.5 735.8h0M230.9 659.1h0M219.2 741.3h0M205.7 745.0h0M173.2 653.7h0M248.2 656.0h0M294.4 641.3h0M299.9 710.9h0M217.0 663.7h0M222.1 661.5h0M324.3 702.6h0M211.0 742.5h0M269.1 647.3h0M239.4 735.6h0M258.6 735.5h0M234.3 662.1h0M248.0 735.4h0M276.5 729.2h0M301.8 709.5h0M188.2 655.4h0M205.8 663.2h0M182.1 650.5h0M201.5 747.3h0M174.7 751.6h0M153.7 756.9h0M293.2 642.9h0M194.9 662.2h0M209.0 659.1h0M254.7 652.8h0M220.6 744.6h0M235.5 745.8h0M273.8 729.8h0M286.9 645.7h0M307.8 644.2h0M302.0 709.3h0M171.2 651.4h0M159.7 645.4h0M145.0 762.3h0M249.9 651.4h0M159.0 761.7h0M292.2 718.8h0M174.9 754.8h0M288.6 726.8h0M161.3 756.5h0M204.8 748.1h0M292.9 644.1h0M187.5 658.9h0M226.4 659.8h0M218.1 742.2h0M297.4 646.2h0M171.6 651.4h0M170.6 753.9h0M203.3 744.6h0M204.0 657.5h0M234.3 745.5h0M288.7 650.9h0M243.9 652.9h0M292.9 720.7h0M269.9 731.8h0M228.4 745.5h0M312.0 706.6h0M184.4 655.0h0M200.3 662.4h0M313.3 703.6h0M212.4 659.3h0M151.9 642.4h0M242.2 656.8h0M197.9 658.7h0M169.1 646.2h0M190.8 745.5h0M242.3 741.4h0M194.9 752.8h0M293.0 644.2h0M211.2 749.9h0M140.3 766.8h0M172.9 648.1h0M280.0 731.1h0M251.9 653.6h0M319.9 703.7h0M312.2 704.0h0M224.4 664.5h0M263.2 648.3h0M196.6 751.3h0M238.1 738.9h0M182.9 652.6h0M285.3 724.4h0M262.9 650.0h0M295.5 721.1h0M257.8 655.7h0M278.8 646.8h0M233.7 660.6h0M234.5 742.6h0M172.5 760.2h0M237.0 737.1h0M189.6 653.3h0M290.8 642.3h0M272.6 651.4h0M265.6 651.5h0M240.9 660.3h0M306.4 705.8h0M313.0 704.3h0M224.7 660.2h0M287.6 653.0h0M141.1 766.7h0M178.7 754.6h0M312.9 712.6h0M200.6 661.6h0M191.3 746.7h0M235.2 739.0h0M195.2 746.5h0M158.8 637.4h0M313.3 703.0h0M148.9 759.5h0M183.4 750.5h0M283.3 733.0h0M300.3 716.8h0M301.8 647.2h0M148.5 640.5h0M194.1 654.9h0M192.3 752.4h0M255.8 735.1h0M287.9 721.1h0M254.8 656.4h0M299.9 637.8h0M174.2 651.5h0M275.6 728.7h0M171.8 757.4h0M313.4 703.4h0M258.4 736.2h0M243.4 735.8h0M184.6 654.5h0M259.9 649.9h0M275.0 648.7h0M266.3 737.6h0M208.8 661.7h0M151.8 641.6h0M282.3 735.0h0M209.4 742.7h0M304.8 642.4h0M310.2 704.9h0M268.4 652.9h0M291.1 649.8h0M249.9 659.0h0M220.3 742.8h0M169.9 754.6h0M308.9 710.3h0M195.2 659.5h0M249.9 653.3h0M198.2 746.2h0M317.9 700.2h0M300.6 710.8h0M207.1 662.6h0M247.8 651.8h0M222.7 663.3h0M254.1 657.0h0M283.2 725.8h0M207.2 664.8h0M304.9 709.5h0M255.0 735.3h0M322.6 703.8h0M226.8 655.7h0M142.1 767.8h0M176.7 754.2h0M290.9 648.5h0M164.6 760.7h0M153.0 761.4h0M309.2 643.6h0M285.3 730.5h0M174.8 653.1h0M293.0 644.3h0M211.1 745.1h0M231.7 659.0h0M179.7 748.0h0M197.6 749.9h0M306.3 636.9h0M256.0 649.3h0M283.1 650.7h0M151.0 636.0h0M281.9 648.6h0M301.9 714.8h0M206.3 753.3h0M294.7 723.8h0M180.7 658.6h0M227.0 747.7h0M171.4 653.1h0M212.5 658.6h0M165.4 648.3h0M306.6 645.9h0M142.4 766.8h0M308.7 713.6h0M301.9 640.9h0M242.2 657.8h0M194.9 662.4h0M307.5 643.9h0M289.8 651.7h0M255.9 652.0h0M246.4 648.7h0M236.8 743.8h0M255.5 737.1h0M172.7 754.9h0M162.7 757.8h0M283.8 651.3h0M297.4 711.1h0M220.0 741.5h0M211.5 741.9h0M267.4 738.3h0M260.8 732.5h0M246.2 657.0h0M236.7 741.4h0M176.4 647.6h0M282.6 649.7h0M174.5 753.0h0M304.1 645.7h0M305.3 641.2h0M283.1 729.1h0M206.3 664.0h0M242.1 738.4h0M281.4 649.8h0M167.4 645.9h0M260.5 656.6h0M239.4 652.0h0M288.8 645.3h0M144.5 765.7h0M179.0 653.7h0M203.7 659.4h0M240.8 652.2h0M156.5 763.5h0M157.4 756.6h0M224.8 745.8h0M168.8 646.5h0M281.5 648.6h0M293.7 650.2h0M262.8 732.6h0M180.9 755.1h0M269.9 645.5h0M194.0 746.4h0M249.0 735.5h0M244.6 739.0h0M290.6 647.3h0M290.3 718.5h0M269.4 738.0h0M259.7 736.2h0M157.3 638.8h0M171.4 649.4h0M255.7 653.7h0M147.2 764.4h0M162.9 762.0h0M195.2 657.7h0M239.1 657.5h0M203.3 753.8h0M170.4 759.1h0M261.2 735.3h0M300.6 711.3h0M178.3 753.0h0M176.0 748.3h0M177.5 750.9h0M157.4 640.2h0M292.2 650.7h0M301.8 715.2h0M146.2 633.9h0M234.3 660.6h0M190.8 657.9h0M301.2 716.0h0M251.2 655.3h0M209.5 752.1h0M188.7 659.3h0M154.6 642.5h0M164.2 641.6h0M249.4 652.4h0M282.4 651.1h0M301.1 708.0h0M313.6 702.4h0M217.3 664.3h0M258.3 744.2h0M177.6 654.1h0M313.0 710.5h0M224.9 666.0h0M152.0 758.2h0M164.0 758.0h0M198.1 749.2h0M156.4 644.6h0M152.8 761.6h0M289.7 648.6h0M168.8 652.1h0M278.8 645.0h0M168.9 752.9h0M235.9 738.2h0M280.3 644.2h0M204.7 744.8h0M245.8 659.4h0M227.2 745.6h0M300.0 718.9h0M181.1 748.3h0M183.8 750.7h0M187.9 751.3h0M225.0 744.7h0M172.6 648.3h0M148.7 771.4h0M290.4 648.4h0M169.2 761.6h0M279.1 646.9h0M146.8 762.6h0M212.8 663.7h0M312.1 711.0h0M198.9 660.0h0M196.4 745.6h0M280.6 653.7h0M191.4 748.5h0M243.4 741.2h0M324.8 700.6h0M263.9 650.3h0M209.8 741.6h0M277.0 734.5h0M311.3 706.2h0M256.5 648.2h0M169.4 757.6h0M250.2 658.0h0M178.3 655.9h0M205.6 752.0h0M191.4 745.9h0M238.8 661.0h0M277.8 648.6h0M180.4 657.6h0M241.2 734.4h0M322.4 700.9h0M147.7 641.9h0M175.6 751.0h0M219.7 745.3h0M307.8 634.2h0M325.3 700.4h0M147.6 768.6h0M295.4 718.7h0M208.9 658.0h0M186.0 652.1h0M287.6 652.8h0M202.0 657.9h0M226.1 745.0h0M150.6 766.1h0M220.5 662.6h0M318.0 705.8h0M232.3 663.9h0M215.9 655.9h0M167.5 755.9h0M320.6 704.9h0M250.8 652.8h0M302.8 712.7h0M231.7 741.3h0M275.3 738.4h0M176.7 656.0h0M156.5 641.9h0M187.3 659.8h0M215.2 741.1h0M250.1 656.4h0M218.4 664.0h0M265.9 731.9h0M171.1 755.3h0M144.9 764.4h0M211.1 742.8h0M287.6 721.9h0M258.8 739.2h0M152.6 766.6h0M303.4 646.2h0M204.7 752.3h0M247.5 658.6h0M194.0 662.3h0M292.6 713.8h0M235.5 656.6h0M200.0 745.7h0M161.1 643.3h0M209.5 750.2h0M160.6 759.6h0M245.8 652.8h0M285.3 724.8h0M152.8 765.6h0M179.4 750.6h0M276.0 729.7h0M269.7 735.1h0M203.4 664.8h0M287.1 653.2h0M208.1 662.4h0M289.1 645.3h0M184.4 754.0h0M310.4 707.5h0M229.5 744.4h0M291.9 648.9h0M242.1 660.6h0M285.6 652.1h0M186.7 745.6h0M191.0 661.5h0M218.8 662.6h0M220.0 742.3h0M226.7 748.4h0M278.5 648.1h0M292.8 645.7h0M172.5 649.2h0M269.3 648.6h0M217.1 664.0h0M164.0 755.2h0M251.5 745.4h0M234.2 743.5h0M158.7 636.1h0M240.6 739.5h0M188.2 754.3h0M212.7 660.6h0M180.9 651.8h0M276.9 738.3h0M170.1 648.3h0M279.3 652.2h0M287.0 651.6h0M257.8 656.9h0M201.3 664.4h0M166.0 650.6h0M269.7 738.4h0M282.5 647.3h0M229.6 746.6h0M243.8 734.6h0" stroke="#2d5083" stroke-width="4.3" stroke-linecap="round" fill="none"/><path d="M93.8 699.3h0M92.2 663.6h0" stroke="#98d59f" stroke-width="4.3" stroke-linecap="round" fill="none"/><path d="M145.4 632.7h0M144.9 632.1h0M144.4 633.4h0M145.5 634.2h0M147.4 643.7h0M136.1 767.1h0M146.3 645.1h0M137.6 768.8h0M144.4 636.2h0M138.5 767.1h0M147.7 644.0h0M145.9 642.2h0M140.5 763.4h0M138.6 765.8h0M142.9 634.1h0M135.6 768.5h0M91.7 799.9h0M136.7 766.2h0M146.0 636.9h0M145.8 642.7h0M136.8 765.6h0M139.8 764.6h0M142.9 633.3h0M138.0 766.5h0M139.1 763.3h0M145.7 644.1h0M137.0 770.7h0" stroke="#2b5383" stroke-width="4.3" stroke-linecap="round" fill="none"/><path d="M100.7 786.6h0M104.3 784.7h0M132.2 628.9h0M132.1 630.0h0M99.5 788.2h0M129.7 627.6h0M110.7 781.6h0M105.1 785.9h0M103.5 786.6h0M104.9 784.7h0M127.5 626.2h0M130.8 626.6h0M118.0 775.0h0M114.0 780.9h0M131.6 629.9h0M116.2 775.5h0M107.3 779.7h0M106.0 780.3h0M123.1 767.2h0M126.3 623.1h0M130.7 632.1h0M115.5 777.6h0M135.0 637.5h0M120.1 767.5h0M123.7 765.4h0M132.5 638.0h0M131.0 628.7h0M122.2 770.2h0M115.5 770.0h0M105.9 782.8h0M134.9 637.7h0M112.5 774.5h0M127.7 627.8h0M125.4 766.9h0M132.7 637.8h0M116.7 768.5h0M121.9 765.0h0M132.4 634.2h0M122.9 770.3h0M121.1 767.4h0M113.8 773.4h0M118.2 774.6h0M105.9 783.1h0M129.4 630.9h0M108.3 783.3h0M117.4 769.3h0M104.3 779.4h0M133.9 631.9h0M133.3 635.2h0M130.4 635.8h0M120.9 766.5h0M123.4 769.5h0M119.4 772.9h0M104.3 782.5h0M106.4 780.5h0M102.4 786.4h0M119.3 773.6h0M120.2 769.5h0M131.7 632.9h0M130.4 627.4h0M104.8 784.2h0M129.3 627.0h0M118.3 776.0h0M111.0 780.0h0M112.9 777.6h0M113.1 772.9h0M128.6 633.2h0M114.8 776.4h0M121.4 768.4h0M105.0 781.8h0M120.5 769.7h0M102.5 785.2h0M119.4 765.7h0M130.0 636.9h0M102.7 786.4h0M120.2 767.5h0M105.3 778.9h0M117.4 770.6h0M120.1 770.3h0M129.2 628.7h0M129.4 632.6h0M126.2 765.6h0M130.7 636.0h0M104.6 783.4h0M124.7 766.6h0M132.3 628.4h0M102.6 784.8h0M103.9 786.9h0M130.9 637.4h0M127.0 624.0h0M117.2 768.5h0M104.9 785.8h0M132.5 636.3h0M102.5 780.9h0M104.6 783.4h0M119.6 771.4h0M114.8 777.1h0" stroke="#265982" stroke-width="4.3" stroke-linecap="round" fill="none"/><path d="M92.5 773.9h0M94.9 773.0h0M116.4 767.1h0M117.6 620.7h0M122.9 627.3h0M125.0 632.0h0M125.3 627.2h0M124.2 624.8h0M109.5 774.3h0M123.7 625.2h0M123.5 632.5h0M114.8 768.5h0M102.8 776.8h0M120.5 625.6h0M112.6 769.1h0M119.9 620.4h0M107.9 775.9h0M122.2 626.4h0M124.1 629.9h0M115.1 767.6h0M125.4 629.6h0M103.3 778.0h0M124.7 625.9h0M111.5 770.1h0M102.2 779.3h0M105.8 777.3h0M112.9 771.1h0M109.9 771.0h0M113.8 771.3h0M110.3 771.7h0M123.6 632.6h0M108.4 771.9h0M119.0 621.3h0M102.4 779.5h0M102.1 777.5h0M103.3 776.2h0M111.3 770.4h0M122.9 627.5h0M103.5 776.7h0M105.1 776.5h0M111.6 769.5h0M113.5 769.2h0M106.9 776.0h0M105.9 774.2h0M121.9 622.3h0" stroke="#225d82" stroke-width="4.3" stroke-linecap="round" fill="none"/><path d="M94.7 618.6h0M105.4 621.6h0M102.6 620.9h0M102.9 622.9h0M103.0 619.2h0M107.1 623.7h0M102.5 620.1h0M102.9 753.1h0M107.8 624.4h0" stroke="#127385" stroke-width="4.3" stroke-linecap="round" fill="none"/><path d="M95.6 679.7h0" stroke="#edf6ac" stroke-width="4.3" stroke-linecap="round" fill="none"/><path d="M97.1 714.7h0M95.3 714.1h0" stroke="#52b198" stroke-width="4.3" stroke-linecap="round" fill="none"/><path d="M95.5 615.8h0M95.6 612.3h0M94.7 760.9h0M93.8 759.4h0M93.1 759.8h0M94.8 758.5h0M94.8 613.1h0M93.5 616.0h0M96.6 614.6h0M104.0 614.7h0M106.2 618.6h0M104.6 619.9h0M103.7 615.3h0M97.0 613.1h0M108.5 620.2h0M103.5 616.1h0M96.2 613.5h0M100.1 613.1h0M105.0 617.6h0M107.2 618.7h0M94.0 613.5h0M93.5 614.9h0M102.5 760.5h0M109.3 624.7h0M105.9 621.1h0M111.0 624.3h0M106.3 621.5h0M99.4 614.1h0M101.9 613.1h0M99.2 613.9h0M103.9 618.9h0M96.0 614.6h0M102.7 758.3h0M110.2 624.1h0M102.5 618.0h0M104.7 618.2h0M98.2 614.3h0" stroke="#166d84" stroke-width="4.3" stroke-linecap="round" fill="none"/><path d="M94.2 667.5h0M93.6 694.1h0" stroke="#bee5a5" stroke-width="4.3" stroke-linecap="round" fill="none"/><path d="M97.7 794.0h0M130.8 773.7h0M97.4 795.7h0M95.4 793.3h0M129.9 770.4h0M135.0 629.1h0M129.8 770.2h0M93.8 794.3h0M97.4 793.9h0M123.1 772.2h0M92.7 796.5h0M135.0 629.1h0M132.8 627.5h0M92.4 798.4h0M98.0 794.5h0M125.9 766.8h0M129.4 764.9h0M134.5 765.5h0M130.5 765.3h0M140.0 638.6h0M141.4 635.9h0M139.3 634.5h0M124.1 770.8h0M142.6 637.3h0M133.9 630.1h0M94.9 791.5h0M97.9 794.3h0M129.4 771.1h0M136.0 764.2h0M136.7 638.0h0M126.9 765.2h0M130.9 766.1h0M140.6 638.2h0M129.5 773.0h0M139.7 635.8h0M133.2 769.6h0M91.8 794.7h0M91.4 796.2h0M135.0 764.6h0M138.3 633.1h0M144.1 643.5h0M124.9 770.3h0M132.1 773.0h0M134.5 629.0h0M133.3 768.7h0M139.5 637.5h0M139.4 633.1h0M132.0 769.7h0M135.7 766.8h0M97.6 794.3h0M96.9 791.3h0M135.8 634.9h0M142.9 640.9h0M92.6 792.8h0M129.6 765.3h0M134.2 764.5h0M92.5 798.6h0M126.7 765.7h0M94.5 791.0h0M127.0 769.0h0M137.4 633.9h0M128.7 769.2h0M123.0 771.4h0M131.4 769.2h0M142.2 634.0h0M137.1 638.4h0M139.3 639.0h0M98.4 791.1h0M139.7 635.9h0M91.0 796.2h0M142.2 637.4h0M134.9 633.2h0M124.6 770.0h0M99.2 791.5h0M132.6 770.4h0M126.6 767.2h0M130.3 765.3h0M135.6 635.9h0M121.9 774.9h0M90.9 796.3h0M143.2 640.5h0M133.9 768.0h0M124.6 769.7h0M135.7 633.5h0M97.6 792.1h0M95.8 791.8h0M94.2 798.6h0M132.8 769.4h0M103.2 789.4h0M93.0 793.8h0" stroke="#295682" stroke-width="4.3" stroke-linecap="round" fill="none"/><path d="M92.3 672.9h0M93.8 672.0h0" stroke="#def1aa" stroke-width="4.3" stroke-linecap="round" fill="none"/><path d="M95.7 673.6h0M93.0 671.4h0" stroke="#d6eea9" stroke-width="4.3" stroke-linecap="round" fill="none"/><path d="M93.3 642.5h0M91.9 726.2h0M92.5 727.4h0" stroke="#279590" stroke-width="4.3" stroke-linecap="round" fill="none"/><path d="M97.6 771.4h0M95.2 769.3h0M107.1 611.9h0M113.5 617.6h0M119.1 624.9h0M102.8 768.2h0M115.6 619.0h0M113.3 619.6h0M119.3 629.1h0M116.1 622.4h0M119.1 630.9h0M115.8 625.1h0M120.5 627.3h0M120.4 626.6h0M115.9 624.4h0M114.9 620.4h0M112.8 620.1h0M109.0 614.2h0M115.3 621.4h0M115.5 624.0h0M109.2 613.0h0M120.6 627.7h0M111.2 617.6h0M118.0 630.5h0M116.1 621.1h0M118.5 631.3h0M118.6 631.2h0M109.6 614.0h0M93.1 607.3h0M118.1 627.2h0M116.9 626.5h0" stroke="#1e6182" stroke-width="4.3" stroke-linecap="round" fill="none"/><path d="M91.7 656.1h0" stroke="#64bc9b" stroke-width="4.3" stroke-linecap="round" fill="none"/><path d="M106.7 614.0h0M106.4 613.5h0M94.0 611.6h0M104.8 612.4h0M101.6 611.5h0M92.4 608.9h0M109.1 615.5h0M100.2 609.0h0M106.2 616.2h0M97.3 611.4h0M114.5 623.5h0M113.2 623.8h0M97.3 609.0h0M116.3 627.4h0M106.2 616.0h0M114.5 624.3h0M94.5 609.3h0M114.4 628.1h0M93.9 609.0h0M103.6 611.8h0M99.0 611.9h0M107.6 615.6h0M102.2 761.4h0M113.3 627.4h0M116.3 627.3h0M92.3 610.2h0M112.5 621.1h0M102.0 609.8h0M93.1 608.1h0M111.9 624.4h0M109.1 617.0h0M107.9 613.3h0M107.5 613.7h0M97.8 608.8h0M110.5 618.8h0M99.0 611.1h0M115.5 629.1h0M104.9 613.8h0M93.2 609.0h0M113.6 626.9h0M103.5 610.9h0" stroke="#1a6682" stroke-width="4.3" stroke-linecap="round" fill="none"/><path d="M92.6 749.7h0M94.6 749.7h0M97.6 623.4h0M96.0 751.2h0M95.5 752.2h0M102.7 625.3h0" stroke="#0e7986" stroke-width="4.3" stroke-linecap="round" fill="none"/><path d="M93.7 703.7h0M92.0 659.3h0" stroke="#7bc89d" stroke-width="4.3" stroke-linecap="round" fill="none"/><path d="M94.5 644.9h0M92.0 725.3h0M93.6 644.6h0M96.1 729.3h0" stroke="#309b92" stroke-width="4.3" stroke-linecap="round" fill="none"/><path d="M92.7 676.7h0M93.5 685.0h0" stroke="#f4f9ab" stroke-width="4.3" stroke-linecap="round" fill="none"/><path d="M94.2 707.6h0M91.6 706.3h0" stroke="#6cc19c" stroke-width="4.3" stroke-linecap="round" fill="none"/><path d="M91.7 628.4h0M96.4 747.2h0M102.2 627.7h0" stroke="#0e8088" stroke-width="4.3" stroke-linecap="round" fill="none"/><path d="M94.3 705.4h0M93.8 657.4h0" stroke="#73c49c" stroke-width="4.3" stroke-linecap="round" fill="none"/><path d="M92.6 719.6h0M93.8 718.0h0" stroke="#41a695" stroke-width="4.3" stroke-linecap="round" fill="none"/><path d="M91.9 633.6h0M91.9 633.3h0" stroke="#0d868a" stroke-width="4.3" stroke-linecap="round" fill="none"/><path d="M92.5 720.7h0" stroke="#39a094" stroke-width="4.3" stroke-linecap="round" fill="none"/><path d="M102.4 702.6h0" stroke="#5bb69a" stroke-width="4.3" stroke-linecap="round" fill="none"/><path d="M102.4 735.6h0M102.8 735.1h0" stroke="#148b8c" stroke-width="4.3" stroke-linecap="round" fill="none"/><path d="M90.0,681.0 C94.8,683.2 108.0,690.6 119.0,694.4 C130.0,698.2 142.4,701.4 156.0,703.7 C169.6,706.1 185.2,708.8 200.7,708.5 C216.2,708.2 234.1,705.4 248.9,701.8 C263.7,698.2 277.0,692.7 289.6,687.0 C302.2,681.3 318.7,670.8 324.5,667.5" fill="none" stroke="#ff0000" stroke-width="7.2" stroke-linecap="butt"/><rect x="81.5" y="598" width="254.10000000000002" height="211.70000000000005" fill="none" stroke="#000" stroke-width="2"/><line x1="98.5" y1="810.7" x2="98.5" y2="819.2" stroke="#333333" stroke-width="2.6"/><text x="98.5" y="839.2" font-size="19.5" text-anchor="middle">0</text><line x1="172.4" y1="810.7" x2="172.4" y2="819.2" stroke="#333333" stroke-width="2.6"/><text x="172.4" y="839.2" font-size="19.5" text-anchor="middle">100</text><line x1="246.3" y1="810.7" x2="246.3" y2="819.2" stroke="#333333" stroke-width="2.6"/><text x="246.3" y="839.2" font-size="19.5" text-anchor="middle">200</text><line x1="320.2" y1="810.7" x2="320.2" y2="819.2" stroke="#333333" stroke-width="2.6"/><text x="320.2" y="839.2" font-size="19.5" text-anchor="middle">300</text><line x1="73.5" y1="801.9" x2="80.5" y2="801.9" stroke="#333333" stroke-width="2.6"/><text x="67.0" y="809.6999999999999" font-size="19.5" text-anchor="end">4.5</text><line x1="73.5" y1="753.1999999999999" x2="80.5" y2="753.1999999999999" stroke="#333333" stroke-width="2.6"/><text x="67.0" y="760.9999999999999" font-size="19.5" text-anchor="end">5.0</text><line x1="73.5" y1="704.5" x2="80.5" y2="704.5" stroke="#333333" stroke-width="2.6"/><text x="67.0" y="712.3" font-size="19.5" text-anchor="end">5.5</text><line x1="73.5" y1="655.8" x2="80.5" y2="655.8" stroke="#333333" stroke-width="2.6"/><text x="67.0" y="663.5999999999999" font-size="19.5" text-anchor="end">6.0</text><line x1="73.5" y1="607.0999999999999" x2="80.5" y2="607.0999999999999" stroke="#333333" stroke-width="2.6"/><text x="67.0" y="614.8999999999999" font-size="19.5" text-anchor="end">6.5</text><text x="207.5" y="870.4" font-size="19.5" text-anchor="middle">AOU, <tspan font-family="Liberation Serif">μ</tspan>mol kg<tspan font-size="13.5" dy="-9.4">−1</tspan></text><text transform="translate(24,704) rotate(-90)" font-size="19.5" text-anchor="middle">log<tspan font-size="14" dy="4.5">10</tspan><tspan dy="-4.5">(Abundance, mL</tspan><tspan font-size="13.5" dy="-9.4">−1</tspan><tspan dy="8">)</tspan></text></g><g><line x1="454.9" y1="598.4" x2="454.9" y2="814.5" stroke="#ebebeb" stroke-width="2.5"/><line x1="528.1" y1="598.4" x2="528.1" y2="814.5" stroke="#ebebeb" stroke-width="2.5"/><line x1="601.3" y1="598.4" x2="601.3" y2="814.5" stroke="#ebebeb" stroke-width="2.5"/><line x1="674.5" y1="598.4" x2="674.5" y2="814.5" stroke="#ebebeb" stroke-width="2.5"/><line x1="429.7" y1="805.8000000000001" x2="682" y2="805.8000000000001" stroke="#ebebeb" stroke-width="2.5"/><line x1="429.7" y1="756.1" x2="682" y2="756.1" stroke="#ebebeb" stroke-width="2.5"/><line x1="429.7" y1="706.4000000000001" x2="682" y2="706.4000000000001" stroke="#ebebeb" stroke-width="2.5"/><line x1="429.7" y1="656.7" x2="682" y2="656.7" stroke="#ebebeb" stroke-width="2.5"/><line x1="429.7" y1="607.0" x2="682" y2="607.0" stroke="#ebebeb" stroke-width="2.5"/><clipPath id="cle"><path d="M451.8,749.0 452.7,749.0 453.6,749.1 454.6,749.3 455.5,749.5 456.1,749.8 456.3,749.6 457.4,749.2 457.7,749.1 458.2,748.0 458.7,747.1 459.2,746.3 459.8,745.5 460.5,744.9 461.3,744.2 462.1,743.7 462.9,743.2 463.8,742.8 464.8,742.6 465.7,742.4 466.7,742.3 467.7,742.2 468.6,742.3 469.6,742.5 470.5,742.8 470.8,742.9 471.6,742.1 473.0,739.0 473.4,738.1 473.9,737.2 474.6,736.4 475.3,735.7 476.1,735.0 476.9,734.4 477.8,733.9 482.4,731.7 483.2,731.3 484.1,731.1 484.9,730.9 485.8,730.7 486.0,730.7 486.2,730.2 486.8,729.3 487.4,728.5 488.1,727.8 488.8,727.2 489.6,726.6 490.5,726.1 491.4,725.7 492.3,725.4 493.3,725.1 494.3,725.0 495.3,725.0 496.0,725.1 496.2,724.8 497.0,724.2 497.8,723.6 498.7,723.1 499.6,722.7 500.6,722.3 501.6,722.1 502.6,722.0 503.7,722.0 507.5,722.2 511.4,722.2 512.4,722.2 513.4,722.4 514.4,722.6 515.4,722.9 516.3,723.4 516.5,723.5 519.7,721.8 520.6,721.4 521.6,721.1 522.6,720.9 523.6,720.7 524.6,720.7 525.6,720.8 526.6,720.9 527.6,721.2 528.5,721.6 529.4,722.0 530.1,722.5 530.3,722.5 534.6,721.3 535.6,721.1 536.5,720.9 537.5,720.9 538.5,721.0 539.5,721.2 540.4,721.4 541.3,721.8 545.6,723.7 546.0,723.9 547.0,724.4 547.8,724.3 548.7,724.1 549.7,724.0 550.7,724.0 551.7,724.1 552.6,724.3 554.1,723.5 555.0,723.0 555.9,722.7 556.8,722.5 557.7,722.3 558.7,722.3 559.6,722.3 560.6,722.4 561.5,722.6 562.4,722.9 563.3,723.3 567.4,725.4 568.2,725.8 569.0,726.4 569.5,726.8 569.9,726.5 570.7,725.9 571.6,725.4 572.5,725.0 573.5,724.7 574.5,724.5 575.5,724.4 576.5,724.4 577.5,724.5 578.5,724.8 579.5,725.1 580.4,725.5 581.3,726.0 584.9,728.3 585.2,728.2 586.1,727.9 587.1,727.7 588.1,727.6 589.1,727.6 590.1,727.7 591.1,727.9 592.1,728.2 593.0,728.6 593.9,729.0 594.7,729.6 595.5,730.2 595.9,730.2 596.8,730.1 597.8,730.2 598.7,730.3 598.9,730.3 600.2,729.4 601.1,728.9 602.0,728.5 603.0,728.1 603.9,727.8 605.0,727.7 606.0,727.7 607.0,727.7 608.0,727.9 609.0,728.1 610.0,728.5 610.3,728.7 610.7,728.5 611.7,728.2 612.6,728.0 613.6,727.9 614.6,727.8 615.6,727.9 616.6,728.1 617.6,728.4 618.5,728.8 619.4,729.3 620.3,729.8 621.0,730.5 622.5,731.8 622.7,731.8 626.4,731.7 627.4,731.6 629.4,730.0 630.2,729.4 631.0,728.9 631.9,728.5 632.8,728.1 633.8,727.9 634.7,727.8 635.7,727.7 636.7,727.8 637.7,727.9 638.6,728.1 639.5,728.5 640.4,728.9 643.2,730.4 644.2,730.6 646.3,730.0 646.6,730.0 647.3,728.9 647.9,728.1 648.6,727.3 649.1,726.8 649.2,726.5 649.5,725.5 649.8,724.6 651.4,721.1 652.3,717.3 652.6,716.4 653.0,715.4 653.5,714.5 654.1,713.7 654.8,712.9 655.5,712.2 656.3,711.6 657.2,711.0 658.1,710.5 658.2,709.9 658.5,708.9 659.4,706.1 658.8,705.3 658.3,704.5 657.9,703.5 657.6,702.6 657.4,701.6 657.3,700.6 657.2,699.6 657.3,698.6 657.5,697.6 657.8,696.7 658.2,695.8 658.6,694.9 658.9,694.4 658.8,693.9 658.7,693.0 658.6,692.0 658.6,688.0 658.6,687.1 658.8,686.1 659.0,685.1 659.5,683.5 659.3,682.7 658.2,679.5 657.9,678.5 657.7,677.5 657.6,676.6 657.6,675.6 657.7,674.6 657.9,673.6 658.2,672.6 658.4,672.2 657.8,671.6 657.1,670.9 656.6,670.2 656.1,669.4 655.6,668.6 655.3,667.8 655.0,666.9 653.9,663.0 653.7,662.1 653.6,661.1 653.6,660.1 653.7,656.2 653.6,656.1 652.8,655.4 652.2,654.6 651.6,653.7 651.1,652.8 650.7,651.8 649.2,647.4 648.8,647.4 647.9,647.4 646.9,647.3 645.9,647.1 645.0,646.8 644.0,646.5 643.2,646.0 642.3,645.5 641.6,644.8 641.1,644.4 640.8,644.6 639.8,645.0 638.8,645.3 637.9,645.4 636.8,645.5 635.8,645.5 634.8,645.4 633.8,645.2 632.9,644.8 632.0,644.4 628.6,642.7 627.1,642.2 624.8,642.4 624.0,642.4 623.2,642.3 622.5,642.3 621.0,643.2 620.2,643.7 619.3,644.1 618.4,644.4 617.5,644.6 616.5,644.8 615.5,644.8 614.6,644.8 613.6,644.6 612.7,644.4 611.8,644.0 610.9,643.6 610.1,643.1 609.3,642.6 608.7,642.0 608.4,642.1 607.5,642.1 606.5,642.1 602.7,641.9 598.8,642.0 598.0,642.0 593.7,641.8 592.5,641.6 588.2,640.8 587.3,640.6 586.4,640.3 585.6,640.0 584.9,639.7 584.6,639.8 583.6,640.0 582.6,640.2 581.5,640.3 577.2,640.3 576.5,640.3 575.9,640.9 575.3,641.6 574.5,642.1 573.7,642.7 572.9,643.1 572.0,643.5 571.1,643.7 570.1,643.9 569.2,644.0 568.2,644.0 567.3,644.0 566.4,643.8 562.0,642.8 562.0,642.8 559.5,642.2 558.0,642.3 554.8,643.5 553.9,643.7 552.9,643.9 552.0,644.0 551.0,644.0 550.1,643.9 549.2,643.8 544.8,642.7 544.4,642.6 543.7,642.4 542.9,642.8 542.0,643.2 541.0,643.5 540.0,643.7 539.0,643.8 537.9,643.7 536.9,643.6 533.4,643.0 530.7,643.0 527.2,643.5 526.2,643.6 525.2,643.6 524.2,643.5 523.2,643.4 522.8,643.2 522.1,643.7 521.2,644.1 520.3,644.5 519.3,644.8 518.3,645.0 517.3,645.0 516.3,645.0 515.3,644.9 512.6,644.4 509.9,644.8 508.9,644.9 507.9,644.8 506.9,644.7 506.0,644.5 505.1,644.3 504.2,643.9 503.3,643.4 502.5,642.9 501.8,642.3 501.6,642.1 499.4,642.9 498.4,643.2 497.4,643.4 496.4,643.5 495.4,643.5 494.3,643.4 493.3,643.2 492.4,642.9 491.4,642.5 491.0,642.2 490.2,642.4 489.3,642.6 488.4,642.7 484.4,642.9 483.4,642.9 482.4,642.8 481.5,642.6 480.5,642.3 480.2,642.1 479.3,642.5 478.4,642.8 477.4,643.1 476.4,643.2 475.4,643.2 474.4,643.1 473.4,642.9 472.5,642.7 471.6,642.3 470.6,641.9 470.1,642.0 469.1,642.3 468.2,642.6 467.2,642.7 462.7,643.0 461.7,643.0 460.8,642.9 459.8,642.8 458.4,642.5 456.2,646.8 455.7,647.7 455.1,648.6 454.4,649.4 453.6,650.1 452.7,650.7 451.8,651.2 449.9,652.2 449.7,652.7 448.8,657.0 448.6,657.8 448.0,659.9 448.0,650.0 440.0,650.0 439.0,655.0 437.8,659.1 437.8,663.2 437.9,667.3 439.1,671.4 439.6,675.5 439.7,679.6 441.0,683.7 440.7,687.8 441.2,691.8 440.2,695.9 438.5,700.0 441.3,704.0 439.3,708.1 436.5,712.3 437.9,716.3 440.3,720.3 436.5,724.5 440.2,728.5 439.1,732.6 439.2,736.7 438.6,740.7 441.0,744.7 441.4,748.8 438.1,753.0 440.0,757.0 443.9,758.9 448.0,760.0 448.0,713.7 448.8,715.1 449.3,716.0 449.7,716.9 450.0,717.8 450.2,718.8 450.3,719.8 450.3,720.8 450.2,721.8 450.0,722.7 449.7,723.7 449.4,724.5 449.6,725.1 449.9,726.0 450.1,727.0 450.2,728.0 450.2,729.1 450.1,730.1 449.9,731.1 449.1,733.9 449.2,736.6 449.1,738.0 449.0,738.6 449.6,739.6 450.0,740.4 450.4,741.2 450.7,742.1 450.9,743.0 451.0,744.0 451.3,748.0 451.4,749.0 451.3,749.1Z"/></clipPath><filter id="ble" x="-10%" y="-10%" width="120%" height="120%"><feGaussianBlur stdDeviation="2.5"/></filter><g fill="#2d5083"><path d="M451.8,749.0 452.7,749.0 453.6,749.1 454.6,749.3 455.5,749.5 456.1,749.8 456.3,749.6 457.4,749.2 457.7,749.1 458.2,748.0 458.7,747.1 459.2,746.3 459.8,745.5 460.5,744.9 461.3,744.2 462.1,743.7 462.9,743.2 463.8,742.8 464.8,742.6 465.7,742.4 466.7,742.3 467.7,742.2 468.6,742.3 469.6,742.5 470.5,742.8 470.8,742.9 471.6,742.1 473.0,739.0 473.4,738.1 473.9,737.2 474.6,736.4 475.3,735.7 476.1,735.0 476.9,734.4 477.8,733.9 482.4,731.7 483.2,731.3 484.1,731.1 484.9,730.9 485.8,730.7 486.0,730.7 486.2,730.2 486.8,729.3 487.4,728.5 488.1,727.8 488.8,727.2 489.6,726.6 490.5,726.1 491.4,725.7 492.3,725.4 493.3,725.1 494.3,725.0 495.3,725.0 496.0,725.1 496.2,724.8 497.0,724.2 497.8,723.6 498.7,723.1 499.6,722.7 500.6,722.3 501.6,722.1 502.6,722.0 503.7,722.0 507.5,722.2 511.4,722.2 512.4,722.2 513.4,722.4 514.4,722.6 515.4,722.9 516.3,723.4 516.5,723.5 519.7,721.8 520.6,721.4 521.6,721.1 522.6,720.9 523.6,720.7 524.6,720.7 525.6,720.8 526.6,720.9 527.6,721.2 528.5,721.6 529.4,722.0 530.1,722.5 530.3,722.5 534.6,721.3 535.6,721.1 536.5,720.9 537.5,720.9 538.5,721.0 539.5,721.2 540.4,721.4 541.3,721.8 545.6,723.7 546.0,723.9 547.0,724.4 547.8,724.3 548.7,724.1 549.7,724.0 550.7,724.0 551.7,724.1 552.6,724.3 554.1,723.5 555.0,723.0 555.9,722.7 556.8,722.5 557.7,722.3 558.7,722.3 559.6,722.3 560.6,722.4 561.5,722.6 562.4,722.9 563.3,723.3 567.4,725.4 568.2,725.8 569.0,726.4 569.5,726.8 569.9,726.5 570.7,725.9 571.6,725.4 572.5,725.0 573.5,724.7 574.5,724.5 575.5,724.4 576.5,724.4 577.5,724.5 578.5,724.8 579.5,725.1 580.4,725.5 581.3,726.0 584.9,728.3 585.2,728.2 586.1,727.9 587.1,727.7 588.1,727.6 589.1,727.6 590.1,727.7 591.1,727.9 592.1,728.2 593.0,728.6 593.9,729.0 594.7,729.6 595.5,730.2 595.9,730.2 596.8,730.1 597.8,730.2 598.7,730.3 598.9,730.3 600.2,729.4 601.1,728.9 602.0,728.5 603.0,728.1 603.9,727.8 605.0,727.7 606.0,727.7 607.0,727.7 608.0,727.9 609.0,728.1 610.0,728.5 610.3,728.7 610.7,728.5 611.7,728.2 612.6,728.0 613.6,727.9 614.6,727.8 615.6,727.9 616.6,728.1 617.6,728.4 618.5,728.8 619.4,729.3 620.3,729.8 621.0,730.5 622.5,731.8 622.7,731.8 626.4,731.7 627.4,731.6 629.4,730.0 630.2,729.4 631.0,728.9 631.9,728.5 632.8,728.1 633.8,727.9 634.7,727.8 635.7,727.7 636.7,727.8 637.7,727.9 638.6,728.1 639.5,728.5 640.4,728.9 643.2,730.4 644.2,730.6 646.3,730.0 646.6,730.0 647.3,728.9 647.9,728.1 648.6,727.3 649.1,726.8 649.2,726.5 649.5,725.5 649.8,724.6 651.4,721.1 652.3,717.3 652.6,716.4 653.0,715.4 653.5,714.5 654.1,713.7 654.8,712.9 655.5,712.2 656.3,711.6 657.2,711.0 658.1,710.5 658.2,709.9 658.5,708.9 659.4,706.1 658.8,705.3 658.3,704.5 657.9,703.5 657.6,702.6 657.4,701.6 657.3,700.6 657.2,699.6 657.3,698.6 657.5,697.6 657.8,696.7 658.2,695.8 658.6,694.9 658.9,694.4 658.8,693.9 658.7,693.0 658.6,692.0 658.6,688.0 658.6,687.1 658.8,686.1 659.0,685.1 659.5,683.5 659.3,682.7 658.2,679.5 657.9,678.5 657.7,677.5 657.6,676.6 657.6,675.6 657.7,674.6 657.9,673.6 658.2,672.6 658.4,672.2 657.8,671.6 657.1,670.9 656.6,670.2 656.1,669.4 655.6,668.6 655.3,667.8 655.0,666.9 653.9,663.0 653.7,662.1 653.6,661.1 653.6,660.1 653.7,656.2 653.6,656.1 652.8,655.4 652.2,654.6 651.6,653.7 651.1,652.8 650.7,651.8 649.2,647.4 648.8,647.4 647.9,647.4 646.9,647.3 645.9,647.1 645.0,646.8 644.0,646.5 643.2,646.0 642.3,645.5 641.6,644.8 641.1,644.4 640.8,644.6 639.8,645.0 638.8,645.3 637.9,645.4 636.8,645.5 635.8,645.5 634.8,645.4 633.8,645.2 632.9,644.8 632.0,644.4 628.6,642.7 627.1,642.2 624.8,642.4 624.0,642.4 623.2,642.3 622.5,642.3 621.0,643.2 620.2,643.7 619.3,644.1 618.4,644.4 617.5,644.6 616.5,644.8 615.5,644.8 614.6,644.8 613.6,644.6 612.7,644.4 611.8,644.0 610.9,643.6 610.1,643.1 609.3,642.6 608.7,642.0 608.4,642.1 607.5,642.1 606.5,642.1 602.7,641.9 598.8,642.0 598.0,642.0 593.7,641.8 592.5,641.6 588.2,640.8 587.3,640.6 586.4,640.3 585.6,640.0 584.9,639.7 584.6,639.8 583.6,640.0 582.6,640.2 581.5,640.3 577.2,640.3 576.5,640.3 575.9,640.9 575.3,641.6 574.5,642.1 573.7,642.7 572.9,643.1 572.0,643.5 571.1,643.7 570.1,643.9 569.2,644.0 568.2,644.0 567.3,644.0 566.4,643.8 562.0,642.8 562.0,642.8 559.5,642.2 558.0,642.3 554.8,643.5 553.9,643.7 552.9,643.9 552.0,644.0 551.0,644.0 550.1,643.9 549.2,643.8 544.8,642.7 544.4,642.6 543.7,642.4 542.9,642.8 542.0,643.2 541.0,643.5 540.0,643.7 539.0,643.8 537.9,643.7 536.9,643.6 533.4,643.0 530.7,643.0 527.2,643.5 526.2,643.6 525.2,643.6 524.2,643.5 523.2,643.4 522.8,643.2 522.1,643.7 521.2,644.1 520.3,644.5 519.3,644.8 518.3,645.0 517.3,645.0 516.3,645.0 515.3,644.9 512.6,644.4 509.9,644.8 508.9,644.9 507.9,644.8 506.9,644.7 506.0,644.5 505.1,644.3 504.2,643.9 503.3,643.4 502.5,642.9 501.8,642.3 501.6,642.1 499.4,642.9 498.4,643.2 497.4,643.4 496.4,643.5 495.4,643.5 494.3,643.4 493.3,643.2 492.4,642.9 491.4,642.5 491.0,642.2 490.2,642.4 489.3,642.6 488.4,642.7 484.4,642.9 483.4,642.9 482.4,642.8 481.5,642.6 480.5,642.3 480.2,642.1 479.3,642.5 478.4,642.8 477.4,643.1 476.4,643.2 475.4,643.2 474.4,643.1 473.4,642.9 472.5,642.7 471.6,642.3 470.6,641.9 470.1,642.0 469.1,642.3 468.2,642.6 467.2,642.7 462.7,643.0 461.7,643.0 460.8,642.9 459.8,642.8 458.4,642.5 456.2,646.8 455.7,647.7 455.1,648.6 454.4,649.4 453.6,650.1 452.7,650.7 451.8,651.2 449.9,652.2 449.7,652.7 448.8,657.0 448.6,657.8 448.0,659.9 448.0,650.0 440.0,650.0 439.0,655.0 437.8,659.1 437.8,663.2 437.9,667.3 439.1,671.4 439.6,675.5 439.7,679.6 441.0,683.7 440.7,687.8 441.2,691.8 440.2,695.9 438.5,700.0 441.3,704.0 439.3,708.1 436.5,712.3 437.9,716.3 440.3,720.3 436.5,724.5 440.2,728.5 439.1,732.6 439.2,736.7 438.6,740.7 441.0,744.7 441.4,748.8 438.1,753.0 440.0,757.0 443.9,758.9 448.0,760.0 448.0,713.7 448.8,715.1 449.3,716.0 449.7,716.9 450.0,717.8 450.2,718.8 450.3,719.8 450.3,720.8 450.2,721.8 450.0,722.7 449.7,723.7 449.4,724.5 449.6,725.1 449.9,726.0 450.1,727.0 450.2,728.0 450.2,729.1 450.1,730.1 449.9,731.1 449.1,733.9 449.2,736.6 449.1,738.0 449.0,738.6 449.6,739.6 450.0,740.4 450.4,741.2 450.7,742.1 450.9,743.0 451.0,744.0 451.3,748.0 451.4,749.0 451.3,749.1Z"/></g><g clip-path="url(#cle)"><g filter="url(#ble)"><path fill="#2b5383" d="M565 599h121v6h-121zM530 604h156v6h-156zM490 609h196v6h-196zM460 614h121v6h-121zM660 614h26v6h-26zM450 619h106v6h-106zM435 624h86v6h-86zM430 629h36v6h-36zM430 634h21v6h-21zM430 639h16v6h-16zM430 644h6v6h-6zM680 724h6v6h-6zM670 729h16v6h-16zM660 734h26v6h-26zM645 739h41v6h-41zM620 744h66v6h-66zM600 749h76v6h-76zM570 754h86v6h-86zM530 759h111v6h-111zM430 764h16v6h-16zM510 764h106v6h-106zM430 769h36v6h-36zM485 769h106v6h-106zM430 774h131v6h-131zM430 779h91v6h-91zM455 784h36v6h-36z"/><path fill="#295682" d="M580 614h81v6h-81zM555 619h41v6h-41zM605 619h81v6h-81zM520 624h61v6h-61zM655 624h31v6h-31zM465 629h96v6h-96zM670 629h16v6h-16zM450 634h26v6h-26zM500 634h26v6h-26zM445 639h16v6h-16zM435 644h16v6h-16zM430 649h16v6h-16zM430 654h6v6h-6zM675 714h11v6h-11zM665 719h21v6h-21zM655 724h26v6h-26zM645 729h26v6h-26zM615 734h46v6h-46zM595 739h51v6h-51zM565 744h56v6h-56zM430 749h6v6h-6zM530 749h71v6h-71zM430 754h16v6h-16zM510 754h61v6h-61zM430 759h31v6h-31zM495 759h36v6h-36zM445 764h66v6h-66zM465 769h21v6h-21z"/><path fill="#265982" d="M595 619h11v6h-11zM580 624h16v6h-16zM605 624h51v6h-51zM560 629h26v6h-26zM615 629h11v6h-11zM650 629h21v6h-21zM475 634h26v6h-26zM525 634h51v6h-51zM660 634h26v6h-26zM460 639h21v6h-21zM485 639h66v6h-66zM670 639h16v6h-16zM450 644h11v6h-11zM680 644h6v6h-6zM445 649h6v6h-6zM435 654h11v6h-11zM430 659h11v6h-11zM430 664h6v6h-6zM675 699h11v6h-11zM670 704h16v6h-16zM665 709h21v6h-21zM660 714h16v6h-16zM650 719h16v6h-16zM640 724h16v6h-16zM610 729h36v6h-36zM575 734h41v6h-41zM430 739h6v6h-6zM540 739h56v6h-56zM430 744h11v6h-11zM520 744h46v6h-46zM435 749h16v6h-16zM505 749h26v6h-26zM445 754h21v6h-21zM490 754h21v6h-21zM460 759h36v6h-36z"/><path fill="#225d82" d="M595 624h11v6h-11zM585 629h6v6h-6zM605 629h11v6h-11zM625 629h26v6h-26zM575 634h11v6h-11zM615 634h11v6h-11zM650 634h11v6h-11zM480 639h6v6h-6zM550 639h26v6h-26zM655 639h16v6h-16zM460 644h16v6h-16zM490 644h76v6h-76zM660 644h21v6h-21zM450 649h11v6h-11zM515 649h16v6h-16zM665 649h21v6h-21zM445 654h11v6h-11zM670 654h16v6h-16zM440 659h6v6h-6zM675 659h11v6h-11zM435 664h6v6h-6zM680 664h6v6h-6zM430 669h11v6h-11zM680 669h6v6h-6zM430 674h6v6h-6zM680 674h6v6h-6zM680 679h6v6h-6zM675 684h11v6h-11zM670 689h16v6h-16zM670 694h16v6h-16zM665 699h11v6h-11zM660 704h11v6h-11zM655 709h11v6h-11zM650 714h11v6h-11zM620 719h11v6h-11zM640 719h11v6h-11zM605 724h36v6h-36zM430 729h6v6h-6zM560 729h51v6h-51zM430 734h11v6h-11zM530 734h46v6h-46zM435 739h11v6h-11zM515 739h26v6h-26zM440 744h11v6h-11zM505 744h16v6h-16zM450 749h11v6h-11zM495 749h11v6h-11zM465 754h26v6h-26z"/><path fill="#1e6182" d="M590 629h16v6h-16zM585 634h6v6h-6zM610 634h6v6h-6zM625 634h26v6h-26zM575 639h6v6h-6zM615 639h11v6h-11zM650 639h6v6h-6zM475 644h16v6h-16zM565 644h11v6h-11zM655 644h6v6h-6zM460 649h11v6h-11zM495 649h21v6h-21zM530 649h41v6h-41zM660 649h6v6h-6zM455 654h6v6h-6zM510 654h36v6h-36zM665 654h6v6h-6zM445 659h6v6h-6zM665 659h11v6h-11zM440 664h6v6h-6zM665 664h16v6h-16zM440 669h6v6h-6zM670 669h11v6h-11zM435 674h6v6h-6zM670 674h11v6h-11zM430 679h6v6h-6zM670 679h11v6h-11zM430 684h6v6h-6zM665 684h11v6h-11zM430 689h6v6h-6zM665 689h6v6h-6zM660 694h11v6h-11zM660 699h6v6h-6zM655 704h6v6h-6zM650 709h6v6h-6zM615 714h16v6h-16zM645 714h6v6h-6zM430 719h6v6h-6zM605 719h16v6h-16zM630 719h11v6h-11zM430 724h11v6h-11zM545 724h61v6h-61zM435 729h6v6h-6zM525 729h36v6h-36zM440 734h6v6h-6zM515 734h16v6h-16zM445 739h6v6h-6zM505 739h11v6h-11zM450 744h11v6h-11zM495 744h11v6h-11zM460 749h36v6h-36z"/><path fill="#1a6682" d="M590 634h6v6h-6zM600 634h11v6h-11zM580 639h6v6h-6zM610 639h6v6h-6zM625 639h11v6h-11zM645 639h6v6h-6zM575 644h6v6h-6zM615 644h11v6h-11zM650 644h6v6h-6zM470 649h26v6h-26zM570 649h6v6h-6zM655 649h6v6h-6zM460 654h6v6h-6zM500 654h11v6h-11zM545 654h26v6h-26zM660 654h6v6h-6zM450 659h6v6h-6zM510 659h46v6h-46zM660 659h6v6h-6zM445 664h6v6h-6zM660 664h6v6h-6zM445 669h6v6h-6zM665 669h6v6h-6zM440 674h6v6h-6zM665 674h6v6h-6zM435 679h6v6h-6zM665 679h6v6h-6zM435 684h6v6h-6zM660 684h6v6h-6zM660 689h6v6h-6zM430 694h6v6h-6zM430 699h6v6h-6zM655 699h6v6h-6zM430 704h6v6h-6zM650 704h6v6h-6zM430 709h6v6h-6zM615 709h11v6h-11zM645 709h6v6h-6zM430 714h11v6h-11zM570 714h6v6h-6zM610 714h6v6h-6zM630 714h16v6h-16zM435 719h6v6h-6zM535 719h71v6h-71zM440 724h6v6h-6zM520 724h26v6h-26zM440 729h6v6h-6zM515 729h11v6h-11zM445 734h6v6h-6zM505 734h11v6h-11zM450 739h11v6h-11zM500 739h6v6h-6zM460 744h11v6h-11zM485 744h11v6h-11z"/><path fill="#166d84" d="M595 634h6v6h-6zM585 639h6v6h-6zM605 639h6v6h-6zM635 639h11v6h-11zM580 644h6v6h-6zM610 644h6v6h-6zM625 644h6v6h-6zM645 644h6v6h-6zM575 649h6v6h-6zM620 649h6v6h-6zM650 649h6v6h-6zM465 654h11v6h-11zM485 654h16v6h-16zM570 654h6v6h-6zM655 654h6v6h-6zM455 659h6v6h-6zM500 659h11v6h-11zM555 659h21v6h-21zM655 659h6v6h-6zM450 664h6v6h-6zM510 664h56v6h-56zM525 669h16v6h-16zM660 669h6v6h-6zM445 674h6v6h-6zM660 674h6v6h-6zM440 679h6v6h-6zM660 679h6v6h-6zM440 684h6v6h-6zM435 689h6v6h-6zM435 694h6v6h-6zM655 694h6v6h-6zM435 699h6v6h-6zM435 704h6v6h-6zM615 704h11v6h-11zM435 709h6v6h-6zM550 709h31v6h-31zM610 709h6v6h-6zM625 709h21v6h-21zM530 714h41v6h-41zM575 714h21v6h-21zM600 714h11v6h-11zM440 719h6v6h-6zM520 719h16v6h-16zM515 724h6v6h-6zM445 729h6v6h-6zM505 729h11v6h-11zM450 734h6v6h-6zM500 734h6v6h-6zM460 739h6v6h-6zM490 739h11v6h-11zM470 744h16v6h-16z"/><path fill="#127385" d="M590 639h6v6h-6zM600 639h6v6h-6zM630 644h16v6h-16zM580 649h6v6h-6zM615 649h6v6h-6zM625 649h6v6h-6zM475 654h11v6h-11zM575 654h6v6h-6zM460 659h11v6h-11zM495 659h6v6h-6zM455 664h6v6h-6zM505 664h6v6h-6zM565 664h11v6h-11zM655 664h6v6h-6zM450 669h6v6h-6zM510 669h16v6h-16zM540 669h31v6h-31zM655 669h6v6h-6zM520 674h46v6h-46zM445 679h6v6h-6zM530 679h16v6h-16zM655 679h6v6h-6zM655 684h6v6h-6zM440 689h6v6h-6zM655 689h6v6h-6zM440 694h6v6h-6zM440 699h6v6h-6zM540 699h36v6h-36zM615 699h11v6h-11zM650 699h6v6h-6zM440 704h6v6h-6zM530 704h51v6h-51zM610 704h6v6h-6zM625 704h6v6h-6zM645 704h6v6h-6zM440 709h6v6h-6zM525 709h26v6h-26zM580 709h11v6h-11zM605 709h6v6h-6zM440 714h6v6h-6zM520 714h11v6h-11zM595 714h6v6h-6zM445 719h6v6h-6zM515 719h6v6h-6zM445 724h6v6h-6zM510 724h6v6h-6zM450 729h6v6h-6zM500 729h6v6h-6zM455 734h6v6h-6zM495 734h6v6h-6zM465 739h26v6h-26z"/><path fill="#0e7986" d="M595 639h6v6h-6zM585 644h6v6h-6zM605 644h6v6h-6zM610 649h6v6h-6zM630 649h6v6h-6zM645 649h6v6h-6zM615 654h16v6h-16zM650 654h6v6h-6zM470 659h26v6h-26zM575 659h6v6h-6zM460 664h6v6h-6zM495 664h11v6h-11zM455 669h6v6h-6zM505 669h6v6h-6zM570 669h6v6h-6zM450 674h6v6h-6zM510 674h11v6h-11zM565 674h11v6h-11zM655 674h6v6h-6zM515 679h16v6h-16zM545 679h31v6h-31zM445 684h6v6h-6zM520 684h56v6h-56zM520 689h56v6h-56zM520 694h56v6h-56zM615 694h11v6h-11zM650 694h6v6h-6zM520 699h21v6h-21zM575 699h6v6h-6zM610 699h6v6h-6zM625 699h6v6h-6zM645 699h6v6h-6zM520 704h11v6h-11zM580 704h6v6h-6zM605 704h6v6h-6zM630 704h16v6h-16zM515 709h11v6h-11zM590 709h16v6h-16zM445 714h6v6h-6zM510 714h11v6h-11zM510 719h6v6h-6zM450 724h6v6h-6zM505 724h6v6h-6zM455 729h6v6h-6zM460 734h6v6h-6zM490 734h6v6h-6z"/><path fill="#0e8088" d="M590 644h6v6h-6zM600 644h6v6h-6zM585 649h6v6h-6zM635 649h11v6h-11zM580 654h6v6h-6zM610 654h6v6h-6zM615 659h11v6h-11zM650 659h6v6h-6zM465 664h6v6h-6zM490 664h6v6h-6zM575 664h6v6h-6zM620 664h6v6h-6zM500 669h6v6h-6zM575 669h6v6h-6zM505 674h6v6h-6zM450 679h6v6h-6zM510 679h6v6h-6zM515 684h6v6h-6zM445 689h6v6h-6zM515 689h6v6h-6zM575 689h6v6h-6zM615 689h11v6h-11zM650 689h6v6h-6zM445 694h6v6h-6zM515 694h6v6h-6zM575 694h6v6h-6zM625 694h6v6h-6zM445 699h6v6h-6zM515 699h6v6h-6zM580 699h6v6h-6zM630 699h6v6h-6zM445 704h6v6h-6zM515 704h6v6h-6zM585 704h6v6h-6zM445 709h6v6h-6zM510 709h6v6h-6zM450 719h6v6h-6zM505 719h6v6h-6zM500 724h6v6h-6zM460 729h6v6h-6zM495 729h6v6h-6zM465 734h26v6h-26z"/><path fill="#0d868a" d="M595 644h6v6h-6zM605 649h6v6h-6zM630 654h6v6h-6zM645 654h6v6h-6zM580 659h6v6h-6zM625 659h6v6h-6zM470 664h6v6h-6zM485 664h6v6h-6zM615 664h6v6h-6zM650 664h6v6h-6zM460 669h6v6h-6zM495 669h6v6h-6zM615 669h11v6h-11zM650 669h6v6h-6zM455 674h6v6h-6zM500 674h6v6h-6zM575 674h6v6h-6zM615 674h11v6h-11zM650 674h6v6h-6zM505 679h6v6h-6zM575 679h6v6h-6zM615 679h11v6h-11zM650 679h6v6h-6zM450 684h6v6h-6zM510 684h6v6h-6zM575 684h6v6h-6zM615 684h11v6h-11zM650 684h6v6h-6zM510 689h6v6h-6zM625 689h6v6h-6zM510 694h6v6h-6zM580 694h6v6h-6zM610 694h6v6h-6zM645 694h6v6h-6zM510 699h6v6h-6zM585 699h6v6h-6zM605 699h6v6h-6zM635 699h11v6h-11zM510 704h6v6h-6zM590 704h16v6h-16zM450 714h6v6h-6zM505 714h6v6h-6zM500 719h6v6h-6zM455 724h6v6h-6zM495 724h6v6h-6zM490 729h6v6h-6z"/><path fill="#148b8c" d="M590 649h6v6h-6zM585 654h6v6h-6zM635 654h11v6h-11zM610 659h6v6h-6zM645 659h6v6h-6zM475 664h11v6h-11zM580 664h6v6h-6zM625 664h6v6h-6zM490 669h6v6h-6zM625 669h6v6h-6zM500 679h6v6h-6zM505 684h6v6h-6zM625 684h6v6h-6zM450 689h6v6h-6zM505 689h6v6h-6zM580 689h6v6h-6zM610 689h6v6h-6zM645 689h6v6h-6zM630 694h6v6h-6zM640 694h6v6h-6zM505 699h6v6h-6zM505 704h6v6h-6zM450 709h6v6h-6zM505 709h6v6h-6zM500 714h6v6h-6zM455 719h6v6h-6zM460 724h6v6h-6zM465 729h11v6h-11zM480 729h11v6h-11z"/><path fill="#1e908e" d="M595 649h11v6h-11zM605 654h6v6h-6zM630 659h6v6h-6zM610 664h6v6h-6zM645 664h6v6h-6zM465 669h6v6h-6zM485 669h6v6h-6zM580 669h6v6h-6zM610 669h6v6h-6zM460 674h6v6h-6zM495 674h6v6h-6zM580 674h6v6h-6zM625 674h6v6h-6zM455 679h6v6h-6zM580 679h6v6h-6zM610 679h6v6h-6zM625 679h6v6h-6zM500 684h6v6h-6zM580 684h6v6h-6zM610 684h6v6h-6zM645 684h6v6h-6zM630 689h6v6h-6zM450 694h6v6h-6zM505 694h6v6h-6zM585 694h6v6h-6zM605 694h6v6h-6zM635 694h6v6h-6zM450 699h6v6h-6zM590 699h16v6h-16zM450 704h6v6h-6zM500 709h6v6h-6zM495 719h6v6h-6zM490 724h6v6h-6zM475 729h6v6h-6z"/><path fill="#279590" d="M585 659h6v6h-6zM605 659h6v6h-6zM635 659h11v6h-11zM630 664h6v6h-6zM470 669h16v6h-16zM645 669h6v6h-6zM490 674h6v6h-6zM610 674h6v6h-6zM645 674h6v6h-6zM495 679h6v6h-6zM645 679h6v6h-6zM455 684h6v6h-6zM630 684h6v6h-6zM500 689h6v6h-6zM585 689h6v6h-6zM605 689h6v6h-6zM635 689h11v6h-11zM500 704h6v6h-6zM455 714h6v6h-6zM495 714h6v6h-6zM460 719h6v6h-6zM465 724h6v6h-6zM485 724h6v6h-6z"/><path fill="#309b92" d="M590 654h6v6h-6zM600 654h6v6h-6zM585 664h6v6h-6zM635 664h11v6h-11zM630 669h6v6h-6zM465 674h6v6h-6zM630 674h6v6h-6zM460 679h6v6h-6zM630 679h6v6h-6zM640 684h6v6h-6zM500 694h6v6h-6zM590 694h6v6h-6zM600 694h6v6h-6zM500 699h6v6h-6zM455 709h6v6h-6zM490 719h6v6h-6zM470 724h6v6h-6zM480 724h6v6h-6z"/><path fill="#39a094" d="M595 654h6v6h-6zM605 664h6v6h-6zM585 669h6v6h-6zM635 669h11v6h-11zM485 674h6v6h-6zM585 674h6v6h-6zM490 679h6v6h-6zM585 679h6v6h-6zM640 679h6v6h-6zM495 684h6v6h-6zM585 684h6v6h-6zM605 684h6v6h-6zM635 684h6v6h-6zM455 689h6v6h-6zM455 694h6v6h-6zM595 694h6v6h-6zM455 704h6v6h-6zM495 709h6v6h-6zM475 724h6v6h-6z"/><path fill="#41a695" d="M590 659h6v6h-6zM600 659h6v6h-6zM605 669h6v6h-6zM470 674h6v6h-6zM480 674h6v6h-6zM605 674h6v6h-6zM635 674h11v6h-11zM605 679h6v6h-6zM635 679h6v6h-6zM495 689h6v6h-6zM590 689h6v6h-6zM600 689h6v6h-6zM455 699h6v6h-6zM495 704h6v6h-6zM460 714h6v6h-6zM490 714h6v6h-6zM465 719h6v6h-6zM485 719h6v6h-6z"/><path fill="#4aac97" d="M595 659h6v6h-6zM590 664h6v6h-6zM475 674h6v6h-6zM460 684h6v6h-6zM590 684h6v6h-6zM600 684h6v6h-6zM595 689h6v6h-6zM495 694h6v6h-6zM495 699h6v6h-6z"/><path fill="#52b198" d="M600 664h6v6h-6zM590 669h6v6h-6zM465 679h6v6h-6zM485 679h6v6h-6zM590 679h6v6h-6zM600 679h6v6h-6zM490 684h6v6h-6zM595 684h6v6h-6zM460 709h6v6h-6zM490 709h6v6h-6zM470 719h16v6h-16z"/><path fill="#5bb69a" d="M595 664h6v6h-6zM600 669h6v6h-6zM590 674h6v6h-6zM600 674h6v6h-6zM460 689h6v6h-6zM465 714h6v6h-6zM485 714h6v6h-6z"/><path fill="#64bc9b" d="M595 669h6v6h-6zM595 674h6v6h-6zM470 679h6v6h-6zM480 679h6v6h-6zM595 679h6v6h-6zM490 689h6v6h-6zM460 704h6v6h-6zM490 704h6v6h-6z"/><path fill="#6cc19c" d="M475 679h6v6h-6zM460 694h6v6h-6zM490 694h6v6h-6z"/><path fill="#73c49c" d="M465 684h6v6h-6zM485 684h6v6h-6zM460 699h6v6h-6zM490 699h6v6h-6zM480 714h6v6h-6z"/><path fill="#7bc89d" d="M485 709h6v6h-6zM470 714h6v6h-6z"/><path fill="#82cb9e" d="M465 709h6v6h-6zM475 714h6v6h-6z"/><path fill="#91d29e" d="M470 684h6v6h-6zM480 684h6v6h-6zM465 689h6v6h-6zM485 689h6v6h-6z"/><path fill="#98d59f" d="M465 704h6v6h-6zM485 704h6v6h-6z"/><path fill="#a0d8a0" d="M475 684h6v6h-6zM485 694h6v6h-6zM470 709h6v6h-6zM480 709h6v6h-6z"/><path fill="#a7dba1" d="M465 694h6v6h-6zM485 699h6v6h-6z"/><path fill="#afdea2" d="M465 699h6v6h-6zM475 709h6v6h-6z"/><path fill="#b7e2a4" d="M480 689h6v6h-6z"/><path fill="#bee5a5" d="M470 689h6v6h-6z"/><path fill="#c6e8a6" d="M480 704h6v6h-6z"/><path fill="#ceeba8" d="M475 689h6v6h-6zM470 704h6v6h-6z"/><path fill="#def1aa" d="M470 694h6v6h-6zM480 694h6v6h-6zM480 699h6v6h-6z"/><path fill="#e6f4ac" d="M470 699h6v6h-6zM475 704h6v6h-6z"/><path fill="#f4f9ab" d="M475 694h6v6h-6zM475 699h6v6h-6z"/></g></g><path d="M594.6 744.4h0M543.5 735.8h0M662.7 648.2h0M439.4 684.6h0M554.0 735.4h0M438.5 751.9h0M576.2 737.2h0M664.4 722.9h0M484.6 630.0h0M440.7 646.2h0M670.4 674.7h0M443.3 637.1h0M641.8 631.7h0M670.5 699.0h0M538.8 734.6h0M439.2 727.4h0M496.8 736.5h0M468.5 755.6h0M660.7 725.5h0M466.1 631.0h0M608.2 629.3h0M524.6 630.7h0M498.0 738.5h0M493.3 629.1h0M439.5 761.0h0M556.9 738.3h0M554.1 629.2h0M600.2 627.0h0M511.1 629.5h0M670.8 690.8h0M520.3 736.9h0M538.5 632.3h0M661.6 722.5h0M665.4 653.2h0M543.7 734.5h0M437.8 662.3h0M553.3 738.7h0M558.5 732.9h0M514.5 737.1h0M444.4 760.1h0M509.3 736.4h0M644.0 742.2h0M465.8 630.6h0M466.3 757.2h0M439.9 757.4h0M467.9 754.1h0M483.2 743.8h0M469.5 631.2h0M669.9 699.4h0M561.4 630.6h0M645.5 627.8h0M550.1 740.6h0M531.1 737.0h0M438.5 697.6h0M545.3 628.7h0M669.7 692.9h0M600.7 743.0h0M439.0 719.3h0M612.7 743.3h0M501.5 628.4h0M461.1 760.0h0M485.8 630.0h0M575.5 624.0h0M651.3 744.7h0M593.0 630.0h0M560.1 739.5h0M465.5 756.2h0M663.3 647.4h0M607.3 739.0h0M575.2 627.9h0M561.6 738.9h0M572.6 740.4h0M635.3 739.6h0M439.3 652.0h0M565.5 627.7h0M665.8 659.9h0M576.9 736.3h0M470.1 755.7h0M512.1 633.1h0M588.9 623.2h0M624.8 741.9h0M650.1 746.2h0M449.6 760.9h0M438.6 652.3h0M439.6 745.5h0M658.5 734.2h0M596.7 630.7h0M539.0 631.5h0M537.5 735.2h0M636.0 634.3h0M525.9 630.4h0M669.4 689.3h0M438.7 695.5h0M495.7 632.4h0M667.3 665.7h0M438.5 654.6h0M483.9 745.9h0M536.0 629.8h0M538.7 732.0h0M439.7 704.0h0M516.9 736.3h0M466.8 754.4h0M456.2 629.6h0M448.7 636.5h0M621.6 743.9h0M532.7 733.3h0M536.7 731.3h0M662.1 730.4h0M438.2 729.2h0M591.6 741.9h0M498.0 632.4h0M669.1 672.5h0M663.8 656.5h0M448.1 636.2h0M440.6 692.3h0M521.1 631.1h0M660.1 737.7h0M481.7 747.1h0M540.4 737.5h0M494.5 743.4h0M443.8 636.2h0M477.7 750.2h0M487.8 741.1h0M577.3 735.7h0M570.2 627.9h0M466.3 631.7h0M615.1 739.8h0M444.2 637.8h0M664.5 653.7h0M668.9 691.4h0M498.6 630.7h0M440.0 743.9h0M472.4 631.3h0M598.7 626.8h0M561.8 632.1h0M529.3 629.1h0M568.8 632.4h0M438.7 746.9h0M606.4 738.8h0M669.3 661.4h0M563.2 737.8h0M522.1 734.5h0M440.1 748.3h0M470.4 756.6h0M526.7 632.8h0M487.6 746.3h0M581.1 741.4h0M437.8 684.4h0M658.2 636.5h0M539.6 631.7h0M594.7 629.4h0M562.4 629.4h0M656.2 632.2h0M580.3 738.0h0M666.5 718.6h0M625.8 626.1h0M497.7 627.8h0M591.1 630.1h0M438.1 653.8h0M498.8 630.3h0M507.0 632.4h0M460.9 760.4h0M520.4 734.8h0M522.9 737.4h0M492.8 744.9h0M447.5 761.4h0M634.8 744.6h0M438.4 680.2h0M670.1 667.8h0M635.0 632.3h0M533.0 732.7h0M537.6 734.8h0M549.9 735.6h0M578.1 740.0h0M473.4 630.6h0M670.4 705.8h0M522.8 734.1h0M538.9 633.5h0M671.0 700.8h0M518.1 736.5h0M630.6 632.6h0M437.6 732.6h0M586.3 742.7h0M455.3 627.7h0M546.6 738.0h0M573.4 628.0h0M507.5 732.3h0M488.8 629.2h0M532.9 626.2h0M554.7 735.0h0M490.1 744.6h0M453.2 627.4h0M494.2 630.8h0M439.2 644.2h0M559.7 737.1h0M500.9 626.7h0M605.1 739.1h0M624.0 631.5h0M617.0 629.7h0M505.0 732.3h0M443.1 644.2h0M488.2 744.2h0M649.5 635.7h0M621.1 745.3h0M637.0 633.1h0M495.4 630.0h0M588.1 629.5h0M635.6 631.9h0M517.2 737.9h0M486.2 741.8h0M665.3 724.8h0M550.0 736.3h0M666.5 656.2h0M622.7 745.7h0M642.9 745.2h0M570.6 738.8h0M499.4 630.7h0M483.9 749.7h0M506.3 735.1h0M562.6 631.9h0M455.2 628.4h0M467.5 630.0h0M503.4 737.5h0M437.9 670.2h0M665.7 646.6h0M457.1 760.7h0M629.3 631.1h0M466.0 631.2h0M568.7 631.4h0M511.3 732.8h0M514.6 736.0h0M531.1 734.3h0M511.6 630.4h0M605.4 632.0h0M468.3 754.6h0M607.0 626.1h0M656.8 636.6h0M550.3 742.2h0M615.9 633.1h0M437.6 678.0h0M613.7 741.3h0M623.7 742.1h0M452.1 761.3h0M549.3 737.2h0M476.5 751.6h0M459.5 631.5h0M650.1 636.5h0M578.9 629.1h0M544.2 735.2h0M462.6 627.3h0M524.7 737.3h0M504.1 737.4h0M553.6 628.1h0M602.6 743.7h0M562.5 735.3h0M536.6 736.1h0M647.7 740.9h0M561.0 736.9h0M550.3 736.4h0M440.2 745.2h0M609.6 740.7h0M528.4 632.0h0M636.4 635.1h0M569.1 630.7h0M439.1 684.1h0M660.0 643.4h0M620.8 630.9h0M637.4 741.4h0M667.1 657.3h0M476.2 632.2h0M495.0 630.5h0M664.8 647.6h0M669.0 687.3h0M466.7 755.6h0M669.3 699.2h0M547.8 630.6h0M503.8 738.5h0M660.6 733.3h0M603.2 742.6h0M481.1 629.4h0M511.4 633.7h0M613.9 738.6h0M469.5 756.8h0M440.2 760.0h0M636.7 741.5h0M636.9 743.6h0M593.3 625.9h0M545.9 630.6h0M493.4 629.9h0M464.1 760.6h0M464.2 767.9h0M474.5 754.6h0M474.2 758.5h0M474.2 770.2h0M584.3 742.7h0M584.2 750.3h0M584.3 758.0h0M446.1 768.9h0M446.0 776.4h0M600.6 742.4h0M600.8 746.1h0M600.5 749.8h0M600.3 753.5h0M601.1 757.2h0M600.5 760.9h0M600.5 768.3h0M600.4 772.0h0M600.5 775.7h0M600.5 783.1h0M577.7 738.6h0M578.0 742.3h0M578.0 749.5h0M577.6 753.2h0M577.9 760.5h0M578.0 764.1h0M578.0 771.4h0M577.6 775.0h0M577.4 778.6h0M577.8 782.3h0M472.2 756.9h0M472.2 760.5h0M589.3 743.2h0M589.5 747.3h0M590.0 751.4h0M589.8 759.6h0M564.1 739.0h0M563.9 755.2h0M509.7 735.0h0M509.5 739.3h0M509.6 747.9h0M510.0 752.2h0M509.7 756.5h0M587.6 739.3h0M531.0 735.0h0M530.4 739.0h0M531.0 758.8h0M531.0 762.7h0M530.6 766.7h0M571.3 742.2h0M571.8 745.8h0M571.5 749.4h0M571.3 753.0h0M571.3 756.6h0M571.8 760.2h0M571.2 763.8h0M571.2 771.0h0M588.0 750.5h0M588.2 758.2h0M588.3 762.1h0M588.1 766.0h0M587.8 773.7h0M470.6 753.9h0M470.4 757.6h0M470.1 761.4h0M470.7 765.2h0M470.3 769.0h0M470.4 772.7h0M470.2 776.5h0M566.3 743.2h0M567.0 747.3h0M566.4 751.4h0M567.0 759.5h0M566.6 763.6h0M575.7 739.1h0M575.8 747.4h0M575.6 755.7h0M487.2 742.7h0M487.1 754.3h0M486.9 758.2h0M487.2 762.0h0M486.8 765.9h0M486.8 769.8h0M454.4 762.3h0M454.5 766.2h0M454.7 770.1h0M650.9 742.3h0M651.4 749.5h0M651.4 760.4h0M651.2 764.1h0M650.9 767.7h0M650.8 771.3h0M650.9 778.6h0M487.0 747.0h0M486.4 751.0h0M486.9 759.1h0M626.0 747.8h0M626.5 752.1h0M512.8 611.5h0M512.4 615.2h0M512.3 619.0h0M512.3 630.2h0M512.8 634.0h0M541.5 615.8h0M541.4 619.5h0M541.6 626.7h0M607.7 629.7h0M549.1 616.5h0M549.4 620.9h0M549.2 625.2h0M653.2 615.3h0M652.8 619.0h0M484.3 606.6h0M483.8 610.5h0M484.3 618.3h0M483.6 622.2h0M483.7 630.1h0M518.9 626.0h0M519.1 630.0h0M539.5 614.7h0M539.3 618.6h0M539.6 622.4h0M657.0 621.6h0M617.5 613.0h0M617.6 617.2h0M617.3 621.4h0M651.2 615.6h0M650.9 630.3h0M650.9 634.0h0M611.0 629.3h0M472.0 621.5h0M472.1 625.7h0M576.2 630.2h0M584.9 611.3h0M585.2 618.9h0M585.4 622.7h0M584.7 626.4h0M506.8 610.1h0M506.8 614.1h0M506.8 626.0h0M506.8 630.0h0M445.0 618.8h0M445.0 626.4h0M482.1 608.8h0M482.0 612.4h0M481.8 619.6h0M481.9 626.8h0M481.5 630.4h0M534.1 622.2h0M534.0 626.1h0M534.0 630.1h0M547.7 617.2h0M547.4 621.4h0M547.7 625.6h0M453.5 612.7h0M454.2 616.9h0M454.0 621.2h0M476.6 610.1h0M493.1 622.1h0M544.9 609.9h0M466.5 613.7h0M609.2 612.9h0M552.1 617.6h0M474.5 618.6h0M618.9 620.8h0M510.4 614.1h0M487.5 619.5h0M571.0 608.3h0M449.8 624.8h0M448.8 634.0h0M594.6 621.9h0M655.7 613.5h0M462.4 620.2h0M473.1 630.1h0M455.0 608.0h0M452.3 621.0h0M452.7 610.9h0M548.9 614.9h0M478.5 615.5h0M461.9 626.6h0M635.5 619.4h0M618.8 606.4h0M540.7 609.4h0M482.4 626.9h0M536.9 608.4h0M479.2 611.1h0M618.8 608.2h0M660.3 625.6h0M570.4 613.9h0M475.1 608.6h0M642.5 613.5h0M490.4 612.0h0M491.7 612.2h0M457.8 630.0h0M654.7 615.4h0M553.8 616.8h0M450.8 613.1h0M617.6 610.5h0M458.0 614.2h0M559.9 612.9h0M516.9 615.0h0M545.8 616.9h0M584.7 613.3h0M613.0 608.8h0M469.5 609.6h0M446.8 635.2h0M451.1 622.0h0M543.8 620.9h0M564.9 614.7h0M572.7 612.7h0M558.8 619.1h0M622.6 617.7h0M546.6 606.3h0M611.4 608.0h0M639.9 623.6h0M572.2 619.2h0M568.1 609.4h0M480.0 624.2h0M589.8 606.6h0M592.8 616.8h0M485.7 618.4h0M560.1 611.1h0M596.6 616.0h0M551.4 610.4h0M499.9 608.2h0M600.1 622.0h0M565.4 618.9h0M589.9 613.9h0M474.0 616.4h0M513.4 607.5h0M576.4 613.4h0M650.6 613.9h0M596.5 618.9h0M644.2 611.8h0M632.9 609.9h0M531.7 609.3h0M522.1 619.6h0M480.4 621.7h0M512.0 610.1h0M464.0 622.1h0M658.9 613.1h0M461.3 615.5h0M563.9 621.9h0M493.5 623.8h0M473.4 609.5h0M611.2 623.1h0M594.7 613.7h0M486.0 613.4h0M504.8 619.5h0M557.1 615.2h0M623.2 614.6h0M570.7 609.6h0M504.8 611.2h0M496.4 621.0h0M484.1 621.8h0M665.1 623.5h0M649.5 625.2h0M467.9 631.0h0M623.4 618.0h0M464.1 631.1h0M510.8 617.8h0M523.7 620.9h0M548.0 612.5h0M544.6 607.8h0M517.3 621.3h0M660.4 622.1h0M524.9 620.6h0M601.2 619.8h0M502.3 608.4h0M641.3 616.4h0M564.5 618.4h0M488.2 622.6h0M482.2 612.7h0M649.7 617.2h0M468.3 607.5h0M595.3 616.5h0M621.9 621.0h0M465.6 623.3h0M453.4 612.9h0M472.6 612.1h0M650.5 606.6h0M553.1 608.6h0M447.3 637.5h0M616.2 606.2h0M455.4 614.3h0M623.9 606.0h0M512.9 608.4h0M472.5 630.7h0M451.1 621.5h0M662.6 618.4h0M624.2 617.0h0M563.3 620.5h0M655.9 614.7h0M600.2 618.0h0M650.8 606.6h0M587.9 609.2h0M512.2 610.8h0M514.7 610.8h0M607.0 611.1h0M546.4 607.9h0M533.1 614.8h0M565.3 615.0h0M493.3 618.0h0M457.6 616.6h0M544.2 607.7h0M528.1 611.0h0M464.9 626.4h0M492.2 615.2h0M587.5 609.8h0M660.9 609.8h0M632.8 625.3h0M568.5 612.1h0M526.1 612.5h0M449.4 629.9h0M466.8 609.0h0M467.6 621.1h0M478.9 617.6h0M547.1 615.6h0M521.0 621.6h0M605.0 612.9h0M482.3 621.7h0M510.5 614.0h0M624.4 610.0h0M590.8 621.0h0M459.4 608.6h0M462.0 619.0h0M469.7 630.5h0M621.7 613.9h0M575.5 614.4h0M527.0 612.4h0M518.2 611.1h0M592.5 621.8h0M482.9 614.7h0M466.7 626.6h0M451.2 630.8h0M500.2 611.5h0M547.0 613.5h0M657.5 606.8h0M460.6 609.9h0M656.7 618.7h0M555.2 621.3h0M584.1 613.1h0M546.8 621.6h0M509.6 619.9h0M531.5 612.4h0M579.2 608.3h0M499.9 606.5h0M625.2 620.6h0M612.8 614.4h0M586.0 615.3h0M525.8 609.4h0M502.3 618.2h0M534.8 616.5h0M605.0 614.6h0M458.9 627.7h0M485.2 615.5h0M464.7 786.7h0M480.1 750.2h0M520.6 747.4h0M455.8 795.0h0M532.6 754.9h0M479.3 784.3h0M447.1 770.7h0M538.2 772.3h0M519.4 794.9h0M452.2 785.5h0M548.5 754.2h0M504.7 785.7h0M590.1 791.1h0M646.2 774.5h0M493.3 764.1h0M556.4 744.0h0M602.3 754.2h0M475.1 757.0h0M578.6 782.0h0M522.7 762.8h0M447.8 768.4h0M582.4 773.1h0M582.6 773.0h0M552.3 791.2h0M477.0 750.9h0M642.0 759.6h0M524.6 747.1h0M569.8 783.3h0M451.3 765.5h0M491.9 775.3h0M593.1 765.5h0M550.8 798.4h0M591.6 746.1h0M614.9 767.6h0M639.3 748.6h0M547.1 798.6h0M618.0 790.2h0M590.3 743.5h0M605.7 769.7h0M490.2 788.4h0M657.0 754.1h0M541.4 769.6h0M542.9 773.8h0M467.9 789.3h0M529.8 761.8h0M482.4 751.7h0M572.3 795.1h0M479.4 785.0h0M634.9 773.0h0M584.0 786.5h0M541.5 747.2h0M535.7 767.7h0M493.8 752.7h0M534.8 797.7h0M629.5 757.6h0M531.5 793.0h0M592.1 792.2h0M463.6 769.0h0M489.3 784.4h0M447.5 765.9h0M599.0 779.3h0M570.1 800.0h0M480.2 772.8h0M482.1 756.7h0M583.8 775.4h0M535.8 745.4h0M546.4 773.4h0M585.8 777.4h0M502.2 774.8h0M590.1 757.8h0M629.4 749.1h0M664.5 740.7h0M531.8 745.6h0M602.5 775.1h0M602.6 783.2h0M501.5 797.0h0M561.6 794.2h0M578.3 798.9h0M560.9 754.8h0M496.3 758.1h0M645.8 748.1h0M502.4 774.3h0M546.2 766.8h0M506.0 791.6h0M583.2 786.9h0M475.2 798.1h0M626.7 766.1h0M656.3 768.6h0M513.2 783.6h0M474.5 782.0h0M480.4 795.6h0M583.5 792.1h0M571.0 753.5h0M612.4 788.7h0M504.0 775.6h0M587.0 791.3h0M442.5 779.3h0M501.6 757.4h0M607.3 765.3h0M542.9 779.6h0M514.1 768.1h0M470.2 757.1h0M574.2 768.0h0M511.3 779.1h0M631.0 758.6h0M530.7 774.1h0M484.1 765.2h0M499.3 763.4h0M565.2 764.4h0M506.9 751.3h0M488.6 770.2h0M466.8 753.4h0M634.3 750.5h0M633.0 773.4h0M510.6 762.8h0M471.8 787.1h0M500.4 770.9h0M626.9 775.4h0M526.2 781.1h0M633.1 770.5h0M540.9 774.3h0M473.3 786.9h0M572.9 749.4h0M474.9 788.3h0M650.6 763.8h0M554.2 793.3h0M486.2 772.1h0M564.8 792.6h0M662.0 747.8h0M602.3 745.5h0M543.7 769.6h0M522.1 773.2h0M509.3 758.9h0M471.2 784.5h0M455.6 775.0h0M572.6 788.3h0M619.3 787.4h0M563.3 777.5h0M624.8 768.7h0M594.4 786.4h0M503.4 784.4h0M477.5 798.1h0M613.7 746.8h0M470.7 778.3h0M515.8 788.0h0M591.8 796.3h0M638.5 777.4h0M500.5 757.8h0M467.2 777.0h0M529.5 756.8h0M562.8 779.4h0M545.2 761.5h0M636.5 776.9h0M611.0 783.0h0M452.8 790.9h0M496.2 771.7h0M586.7 799.6h0M608.4 776.1h0M484.4 757.1h0M576.4 777.2h0M527.2 776.3h0M587.3 783.4h0M571.2 751.0h0M568.5 757.1h0M475.2 787.8h0M521.4 796.2h0M584.9 759.2h0M576.4 788.4h0" stroke="#2d5083" stroke-width="4.3" stroke-linecap="round" fill="none"/><path d="M547.5 634.8h0M661.1 722.3h0M552.9 634.9h0M611.5 731.9h0M661.7 715.1h0M660.5 720.8h0M439.5 751.6h0M666.7 713.0h0M561.2 635.3h0M442.2 746.6h0M566.7 635.8h0M441.7 659.7h0M566.0 634.3h0M574.6 632.5h0M461.0 756.0h0M450.7 756.4h0M440.9 749.4h0M559.4 632.7h0M536.9 638.2h0M580.3 632.0h0M456.7 759.7h0M664.0 716.7h0M448.0 652.9h0M571.7 633.9h0M587.1 737.5h0M511.2 637.6h0M491.8 636.5h0M668.5 710.0h0M560.5 633.3h0M666.6 712.1h0M598.5 736.4h0M440.5 752.0h0M559.0 633.4h0M586.6 735.8h0M442.6 653.0h0M613.0 734.4h0M587.6 736.4h0M462.6 757.0h0M560.1 634.0h0M455.6 759.9h0M590.3 736.6h0M480.3 638.4h0M440.0 658.8h0M666.2 716.8h0M667.9 709.7h0M547.7 634.0h0M585.4 736.6h0M445.5 752.2h0M590.6 736.6h0M592.0 738.6h0M666.5 712.8h0M441.0 751.7h0M586.6 736.4h0M446.5 649.0h0M455.4 759.8h0M594.8 736.7h0M442.1 652.3h0M556.7 637.7h0M456.6 644.3h0M660.6 722.3h0M446.5 650.0h0M462.1 756.3h0M573.5 634.5h0M596.4 738.2h0M581.8 737.0h0M660.3 722.2h0M473.3 637.9h0M438.3 663.3h0M440.7 753.3h0M584.2 738.8h0M446.3 750.1h0M446.1 753.8h0M600.6 735.0h0M601.1 738.7h0M454.7 758.4h0M547.9 634.0h0M532.3 640.2h0M561.9 633.2h0M526.6 636.9h0M652.0 727.7h0M575.9 633.2h0M507.9 639.7h0M666.1 716.5h0M543.2 636.9h0M452.9 644.8h0M454.8 643.6h0M650.3 726.0h0M548.9 638.2h0M616.2 730.4h0M583.9 629.8h0M637.1 728.2h0M568.5 738.2h0M607.6 731.9h0M596.1 736.1h0M612.7 732.7h0M450.3 649.6h0M476.4 640.8h0M621.2 733.5h0M489.7 641.3h0M493.6 638.4h0M522.0 641.5h0M665.5 710.8h0M543.1 640.9h0M637.9 730.3h0M545.2 636.6h0M558.3 638.1h0M572.6 737.4h0M549.7 634.0h0M634.2 732.4h0M532.9 639.0h0M474.0 639.5h0M615.1 736.3h0M597.6 737.8h0M613.7 730.9h0M527.8 641.9h0M599.5 734.7h0M530.8 640.7h0M454.0 649.6h0M555.9 637.1h0M489.9 640.2h0M588.6 736.4h0M483.4 641.2h0M655.9 725.6h0M638.7 729.1h0M662.7 716.2h0M591.4 737.0h0M637.7 729.8h0M598.2 739.1h0M461.7 642.8h0M516.6 640.0h0M454.2 755.2h0M460.7 757.8h0M636.3 731.2h0M558.3 633.8h0M456.1 758.4h0M470.6 641.1h0M477.3 636.4h0M641.5 731.6h0M546.0 640.6h0M559.3 633.5h0M534.9 640.5h0M488.6 641.0h0M448.1 753.7h0M457.3 754.9h0M537.9 638.4h0M479.7 636.6h0M518.3 640.4h0M652.1 728.0h0M481.6 639.5h0M603.1 737.8h0M652.2 723.3h0M494.2 641.0h0M617.9 732.5h0M482.9 637.2h0M527.5 638.4h0M627.2 732.5h0M574.3 633.6h0M658.6 724.9h0M527.0 637.1h0M544.9 636.1h0M536.5 638.1h0M524.1 641.1h0M606.2 737.7h0M481.3 638.3h0M665.0 714.6h0M654.5 720.4h0M612.8 733.7h0M608.7 736.7h0M506.7 637.8h0M613.4 734.7h0M546.3 641.6h0M554.7 640.3h0M511.3 641.4h0M586.4 737.7h0M616.5 732.0h0M562.1 635.9h0M488.4 641.2h0M512.9 642.8h0M466.7 639.9h0M648.5 728.5h0M527.5 639.3h0M457.2 644.3h0M614.7 733.7h0M641.6 731.2h0M451.9 758.2h0M504.9 638.8h0M591.6 735.0h0M611.3 734.2h0M476.8 639.2h0M454.2 648.7h0M495.8 641.8h0M555.9 635.7h0M470.3 641.7h0M506.4 640.8h0M628.3 734.1h0M494.7 636.2h0M586.1 735.9h0M475.6 641.8h0M651.3 722.4h0M659.3 723.7h0M579.0 632.6h0M502.0 637.1h0M529.0 637.9h0M613.0 731.8h0M521.4 643.7h0M493.2 641.3h0M657.5 723.9h0M482.1 637.3h0M500.5 641.8h0M497.6 642.4h0M493.7 639.4h0M627.0 732.3h0M521.2 642.0h0M640.8 729.2h0M543.5 641.5h0M651.9 724.3h0M625.6 733.2h0M488.3 637.1h0M638.0 731.4h0M608.8 732.9h0M610.5 733.5h0M586.5 737.9h0M455.6 758.4h0M445.4 649.9h0M567.3 638.2h0M613.7 733.6h0M489.6 639.0h0M573.9 636.1h0M524.7 640.3h0M650.2 728.0h0M547.6 638.0h0M532.2 637.3h0M490.3 641.7h0M635.0 731.3h0M650.3 727.1h0M600.8 736.3h0M660.8 718.7h0M612.3 732.3h0M565.1 634.9h0M520.3 638.4h0M589.7 735.7h0M610.7 732.3h0M552.4 633.9h0M542.5 642.3h0M539.6 637.9h0M486.2 636.0h0M538.7 640.9h0M478.3 639.3h0M450.8 755.8h0M629.7 732.9h0M564.6 638.8h0M635.2 729.4h0M525.0 639.4h0M570.3 637.3h0M513.7 642.5h0M493.8 641.2h0M449.6 753.2h0M551.0 638.9h0M553.2 640.4h0M452.3 647.2h0M483.0 640.0h0M560.6 637.6h0M629.0 731.2h0M510.3 640.6h0M518.5 642.7h0M619.6 735.3h0M552.1 638.2h0M608.8 732.3h0M511.2 643.5h0M464.3 642.5h0M642.4 731.2h0M526.9 637.6h0M483.2 640.4h0M536.4 641.3h0M548.7 635.3h0M654.3 720.6h0M507.2 641.0h0M631.8 731.2h0M493.2 641.5h0M571.4 737.4h0M525.8 637.8h0M567.5 635.3h0M635.2 729.8h0M633.9 728.4h0M524.9 639.8h0M528.7 643.2h0M596.7 740.0h0M497.3 642.6h0M533.1 641.4h0M599.1 737.7h0M538.5 639.8h0M457.1 754.6h0M607.7 736.1h0M492.3 640.9h0M512.6 637.4h0M508.4 643.4h0M523.4 643.3h0M663.8 714.0h0M609.1 734.7h0M552.9 638.1h0M473.9 641.3h0M501.4 639.9h0M559.8 637.0h0M550.0 640.2h0M476.6 640.8h0M548.1 635.3h0M451.4 752.5h0M547.2 639.2h0M609.8 737.0h0M509.1 641.8h0M518.9 643.3h0M451.5 753.3h0M454.3 648.2h0M642.9 731.8h0M562.3 637.4h0M541.3 639.4h0M503.7 640.1h0M491.1 639.4h0M505.6 641.0h0M508.8 641.8h0M524.8 641.1h0M451.6 646.3h0M657.4 718.8h0M658.6 718.3h0M610.9 733.0h0M495.4 641.8h0M520.5 637.9h0M626.2 733.3h0M656.6 719.6h0M547.9 641.0h0M507.0 638.6h0M652.6 726.8h0M469.8 640.2h0M474.8 641.5h0M472.4 639.7h0M494.6 637.1h0M577.0 634.3h0M460.5 640.8h0M547.8 641.3h0M658.7 718.6h0M626.0 732.0h0M653.3 720.8h0M621.4 733.0h0M634.8 730.3h0M457.3 758.1h0M612.5 730.6h0M503.6 640.9h0M648.4 728.5h0M633.7 734.0h0M485.1 637.0h0M541.9 640.5h0M511.5 643.1h0M522.7 640.7h0M629.8 732.2h0M564.2 636.8h0M527.3 639.1h0M500.2 639.3h0M613.3 733.9h0M502.7 640.6h0M475.3 636.5h0M652.8 726.4h0M654.0 720.5h0M531.5 638.3h0M537.8 638.8h0M595.2 739.6h0M614.4 729.4h0M573.4 635.8h0M592.3 739.2h0M461.4 641.8h0M567.8 635.5h0M579.2 632.8h0M522.5 643.2h0M462.3 642.7h0M453.4 756.2h0M456.4 645.8h0M534.6 636.7h0M650.9 726.3h0M614.3 732.3h0M499.9 641.3h0M649.2 727.8h0M587.3 737.2h0M523.0 642.0h0M533.2 640.0h0M546.2 636.1h0M615.4 729.1h0M555.9 639.4h0M583.7 735.5h0M455.4 755.8h0M643.5 731.2h0M613.8 729.7h0M618.6 730.7h0M650.6 725.2h0M664.5 716.1h0M528.6 638.6h0M488.7 639.6h0M467.0 642.6h0M544.2 636.9h0M599.4 737.5h0M458.2 642.6h0M654.7 721.8h0M464.1 756.9h0M656.7 718.3h0M560.8 639.0h0M666.3 710.6h0M553.9 634.9h0M611.3 731.4h0M610.7 736.6h0M526.4 640.4h0M568.8 638.1h0M615.2 736.2h0M531.5 641.9h0M653.9 721.5h0M511.5 638.1h0M641.6 729.9h0M597.4 735.5h0M469.6 640.4h0M609.5 735.3h0M475.0 636.8h0M639.5 732.4h0M593.3 738.2h0M621.0 730.9h0M613.6 736.6h0M456.9 755.1h0M517.3 644.7h0M593.0 736.9h0M612.1 730.4h0M480.8 637.6h0M481.5 636.3h0" stroke="#265982" stroke-width="4.3" stroke-linecap="round" fill="none"/><path d="M449.4 759.3h0M482.7 632.5h0M537.6 633.9h0M656.7 732.1h0M449.7 638.3h0M485.4 633.5h0M501.4 631.5h0M531.9 633.5h0M521.9 631.7h0M645.6 739.7h0M629.0 741.2h0M656.8 732.5h0M639.0 738.7h0M623.8 739.1h0M538.1 634.3h0M504.5 634.4h0M620.8 735.9h0M649.9 733.5h0M638.1 737.4h0M636.4 737.9h0M441.6 757.5h0M455.7 636.4h0M630.6 737.3h0M486.2 635.6h0M619.2 740.7h0M511.4 634.7h0M444.3 644.4h0M656.5 730.6h0M519.2 633.9h0M532.5 634.3h0M527.5 635.3h0M506.1 632.8h0M500.5 633.5h0M648.3 735.4h0M619.8 738.7h0M482.2 635.4h0M471.5 636.0h0M610.3 738.8h0M638.9 737.4h0M448.5 646.0h0M438.7 754.1h0M631.0 740.1h0M512.4 636.7h0M486.1 633.8h0M650.9 737.1h0M521.6 634.9h0M649.3 735.7h0M655.8 730.2h0M526.1 634.2h0M503.6 631.6h0M527.7 633.9h0M479.5 632.7h0M459.4 633.1h0M492.6 632.5h0M529.4 636.0h0M453.9 636.9h0M491.1 633.4h0M442.4 646.8h0M456.6 635.8h0M453.0 639.7h0M644.5 736.6h0M522.7 634.5h0M446.2 757.6h0M650.8 735.0h0M626.2 739.3h0M484.3 634.0h0M518.5 634.0h0M539.2 634.0h0M481.6 634.0h0M534.2 634.0h0M622.3 737.1h0M619.7 736.0h0M454.1 638.6h0M448.6 647.2h0M476.4 633.5h0M462.3 635.4h0M448.8 758.5h0M449.4 644.5h0M641.1 738.2h0M442.7 648.4h0M461.0 636.5h0M463.6 636.8h0M452.5 637.2h0M459.6 640.4h0M479.3 634.0h0M490.7 635.3h0M655.3 727.3h0M481.0 632.9h0M461.4 634.2h0M636.3 736.2h0M646.0 733.3h0M504.4 631.5h0M643.7 735.6h0M443.0 645.2h0M448.9 640.3h0M652.3 728.7h0M455.4 637.7h0M532.3 635.1h0M458.7 634.5h0M640.0 733.8h0M457.5 635.5h0M630.6 734.9h0M529.8 634.8h0M523.5 633.6h0M642.4 735.0h0M454.2 636.0h0M617.7 736.8h0M469.2 633.7h0M653.6 730.7h0M628.5 736.2h0M451.5 645.1h0M652.2 732.8h0M453.4 637.8h0M441.4 647.9h0M457.9 637.2h0M485.2 635.2h0M446.4 648.4h0M476.4 635.1h0M508.0 637.2h0M628.1 735.1h0M444.7 647.7h0M624.0 735.3h0M646.5 734.9h0M458.4 637.2h0M451.3 638.1h0M640.9 738.4h0M503.2 635.2h0M631.1 735.7h0M655.8 727.1h0M452.6 637.2h0M629.0 739.0h0M632.8 737.9h0M656.0 732.7h0M535.0 634.3h0M640.4 735.0h0M631.8 739.5h0M460.7 637.2h0M648.3 730.6h0M636.5 735.0h0M476.2 635.3h0M483.2 632.9h0M448.1 758.1h0M462.9 637.8h0M454.8 636.4h0M454.9 640.7h0M640.9 735.9h0M628.4 736.2h0M440.6 649.9h0M645.7 732.4h0M617.3 738.5h0M498.8 636.2h0M644.3 737.8h0M442.5 645.2h0M480.8 634.5h0M468.2 632.7h0M622.0 738.1h0M631.5 740.7h0M651.8 731.6h0M476.6 635.4h0M517.1 635.6h0M512.8 634.9h0M451.9 644.8h0M629.1 738.5h0M649.6 738.0h0M622.5 740.8h0M471.1 633.8h0M500.5 632.0h0M499.9 636.3h0M522.5 636.0h0M652.6 729.7h0M631.0 735.3h0M454.3 639.7h0M479.7 634.4h0M448.1 644.7h0M461.8 636.6h0M444.7 649.9h0M638.6 736.6h0M470.3 632.1h0M537.2 634.5h0M488.1 635.0h0M527.4 635.8h0M448.3 759.5h0M618.2 736.4h0M632.3 738.2h0M455.7 639.6h0M524.0 633.3h0M442.8 649.9h0M623.7 739.7h0M520.0 635.1h0M450.4 643.8h0M652.3 729.4h0M441.2 648.9h0M446.9 645.9h0M618.9 740.8h0M518.4 636.4h0M461.7 639.6h0M529.0 635.0h0M625.1 735.4h0M648.1 739.2h0M444.3 650.0h0M477.5 635.9h0M657.5 729.8h0M630.0 735.2h0M450.0 759.0h0M650.9 735.0h0M485.1 632.9h0M655.7 727.9h0M525.1 636.3h0M453.6 635.7h0M466.1 638.2h0M513.1 636.5h0M520.0 634.6h0M466.9 636.0h0M524.6 633.0h0M491.4 632.4h0M452.3 643.8h0M644.3 739.4h0M658.1 728.0h0M637.8 734.5h0M654.3 729.5h0M452.4 639.5h0M636.4 734.3h0M648.5 731.3h0M632.3 734.9h0M527.8 635.5h0M485.1 635.5h0M481.8 634.8h0M650.6 737.7h0M637.0 736.7h0M464.0 638.8h0M495.5 635.9h0M625.2 738.2h0M456.3 636.3h0M494.4 634.7h0M626.1 741.4h0M647.8 733.8h0M444.8 646.5h0M648.2 735.4h0M641.0 735.5h0M646.0 731.7h0M504.0 632.6h0M650.0 734.0h0M623.7 735.4h0M485.8 632.8h0M658.9 731.3h0M464.6 635.6h0M621.0 739.0h0M629.0 739.7h0M532.6 634.5h0M449.6 646.2h0M645.0 738.4h0M482.1 632.3h0M481.9 635.3h0" stroke="#295682" stroke-width="4.3" stroke-linecap="round" fill="none"/><path d="M624.8 632.4h0M640.9 633.2h0M571.2 733.2h0M626.8 634.9h0M657.3 639.6h0M620.0 633.9h0M464.1 755.0h0M560.4 732.5h0M656.1 637.7h0M463.4 755.4h0M570.2 735.6h0M552.5 733.1h0M555.7 732.6h0M625.0 633.8h0M643.7 633.5h0M585.3 630.2h0M439.8 665.1h0M583.7 631.2h0M444.2 747.0h0M443.6 746.7h0M609.1 631.7h0M586.4 734.6h0M584.5 631.3h0M630.2 633.1h0M581.2 635.4h0M443.4 746.4h0M564.5 641.3h0M584.1 632.2h0M654.9 637.4h0M466.1 754.5h0M592.4 733.1h0M455.2 751.3h0M438.6 669.2h0M654.9 638.5h0M553.1 732.4h0M652.7 638.3h0M442.4 746.5h0M575.1 734.2h0M462.1 753.6h0M438.4 668.6h0M623.1 633.5h0M620.9 635.8h0M592.7 733.9h0M564.3 733.9h0M554.3 734.4h0M464.5 753.3h0M464.6 756.9h0M584.8 735.0h0M446.3 746.3h0M577.9 735.0h0M571.7 735.0h0M587.9 735.0h0M617.8 634.0h0M611.0 634.0h0M585.0 630.2h0M462.8 756.4h0M566.2 734.9h0M574.5 640.7h0M546.3 642.0h0M599.0 733.1h0M596.7 731.2h0M463.9 753.8h0M623.4 637.6h0M597.6 731.5h0M575.7 640.7h0M657.4 717.4h0M663.3 707.4h0M627.6 634.1h0M458.3 751.8h0M555.6 643.0h0M601.9 730.1h0M585.8 730.1h0M562.6 642.9h0M454.7 750.0h0M600.7 730.7h0M553.8 642.8h0M587.8 730.0h0M605.2 729.0h0M594.1 733.3h0M660.6 711.5h0M589.1 630.6h0M661.1 707.2h0M645.9 634.4h0M462.3 754.2h0M656.1 714.7h0M561.6 639.9h0M456.6 749.8h0M622.9 637.0h0M569.1 643.5h0M567.7 734.8h0M599.8 730.9h0M477.4 641.9h0M567.4 732.0h0M476.1 642.0h0M558.8 640.5h0M451.0 747.0h0M576.5 729.5h0M653.4 717.0h0M664.1 703.4h0M612.3 632.5h0M583.8 733.2h0M574.0 730.1h0M451.1 747.9h0M661.0 708.1h0M453.4 749.9h0M460.8 753.4h0M481.5 642.1h0M622.2 632.3h0M567.6 640.4h0M551.4 643.6h0M577.1 732.7h0M549.0 642.3h0M590.5 733.6h0M588.3 729.2h0M572.0 637.3h0M463.2 753.0h0M476.6 641.9h0M548.4 643.1h0M488.2 642.6h0M575.3 732.9h0M584.8 631.8h0M551.3 733.8h0M654.6 716.8h0M632.8 634.1h0M448.3 655.2h0M580.8 637.5h0M660.4 710.4h0M448.6 656.3h0M560.3 642.3h0M463.8 752.0h0M548.0 642.5h0M487.1 642.6h0M572.5 729.8h0M578.1 638.1h0M624.1 633.2h0M459.3 751.4h0M495.2 643.1h0M463.9 752.2h0M578.3 639.3h0M655.2 717.2h0M601.0 731.2h0M582.4 733.4h0M572.1 641.7h0M449.0 745.7h0M662.6 708.4h0M485.7 641.8h0M457.8 750.7h0M592.9 732.8h0M452.0 749.0h0M570.0 731.9h0M538.7 643.5h0M463.1 756.4h0M660.6 710.8h0M452.8 750.4h0M548.0 642.4h0M582.0 733.7h0M665.6 702.6h0M659.8 710.5h0M569.0 731.4h0M581.5 734.5h0M481.1 641.8h0M578.9 730.9h0M563.6 640.4h0M452.6 750.0h0M619.4 636.9h0M622.8 633.7h0M659.7 714.3h0M563.1 641.0h0M621.6 632.8h0M662.8 708.6h0M575.0 637.0h0M608.7 730.5h0M565.9 640.0h0M569.1 735.1h0M598.2 733.1h0M606.4 730.3h0M581.2 730.7h0M557.1 640.7h0M599.5 732.0h0M664.6 702.5h0M555.3 733.0h0M584.6 730.1h0M592.9 732.4h0M449.4 750.7h0M550.8 641.2h0M662.0 709.1h0M456.2 750.7h0M554.5 641.3h0M457.7 750.1h0M574.2 642.3h0M621.2 637.3h0M572.6 730.1h0M605.7 728.3h0M581.3 729.8h0M659.0 714.2h0M570.2 732.7h0M578.8 638.1h0M566.1 640.9h0M571.8 642.8h0M478.9 642.0h0M576.5 637.7h0M591.8 734.1h0M580.4 732.6h0M477.5 642.6h0M568.1 642.0h0M600.4 731.4h0M658.5 713.9h0M618.6 636.4h0M612.8 729.2h0M451.3 751.2h0M618.2 635.1h0M625.7 636.8h0M538.8 643.6h0M449.7 747.7h0M571.3 641.8h0M551.4 641.9h0M579.1 733.3h0M605.5 730.9h0M572.7 732.9h0M549.8 643.6h0M578.8 729.6h0M504.5 644.0h0M659.2 709.3h0M622.9 635.9h0M566.6 734.7h0M660.8 707.3h0M578.9 636.2h0M583.1 730.6h0M584.9 729.1h0M572.5 636.9h0M599.9 730.5h0M568.8 643.8h0M554.3 642.2h0M624.4 634.5h0M583.3 632.6h0M544.0 642.4h0M661.6 707.5h0M576.8 731.5h0M607.5 729.6h0M550.2 642.5h0M608.9 729.3h0M626.7 633.3h0M544.8 733.9h0M667.3 700.5h0M555.7 640.9h0M611.2 729.7h0M556.1 641.2h0M660.5 714.2h0M654.2 719.0h0M565.0 641.5h0M578.0 735.7h0M571.3 730.6h0M656.4 641.2h0M579.3 638.6h0M568.8 638.7h0M491.1 642.1h0M579.9 731.8h0M603.5 729.4h0M551.4 642.5h0M609.9 728.7h0M456.2 750.7h0M454.9 749.7h0M666.5 699.5h0M625.0 635.9h0M613.7 728.4h0M598.1 730.3h0M588.5 735.0h0M585.9 632.9h0M556.9 642.3h0M596.7 733.2h0M608.9 729.7h0M491.5 642.2h0M600.2 730.8h0M593.3 731.8h0M587.6 730.6h0M554.4 642.5h0M553.9 733.1h0M550.0 642.5h0M553.7 642.8h0M557.9 640.4h0M662.9 709.6h0M601.8 730.3h0M546.0 642.6h0M612.2 631.8h0" stroke="#225d82" stroke-width="4.3" stroke-linecap="round" fill="none"/><path d="M546.5 731.6h0M644.6 635.2h0M589.8 633.0h0M654.8 641.2h0M614.2 636.2h0M535.5 729.1h0M529.5 731.4h0M468.8 750.6h0M664.6 652.9h0M474.7 752.8h0M604.9 633.0h0M605.6 632.4h0M635.1 636.9h0M440.9 732.8h0M607.3 635.4h0M635.1 635.4h0M569.2 729.5h0M528.8 734.5h0M669.0 683.9h0M470.1 751.9h0M543.5 732.7h0M540.5 729.0h0M647.0 636.1h0M661.1 653.0h0M645.9 636.6h0M637.8 636.7h0M667.0 698.6h0M633.7 635.3h0M666.1 697.4h0M669.3 683.2h0M666.9 698.4h0M546.4 731.2h0M440.8 736.5h0M650.6 639.1h0M539.0 729.1h0M531.3 730.0h0M545.8 730.2h0M664.0 695.8h0M652.7 640.8h0M649.3 638.3h0M474.4 752.6h0M637.9 636.5h0M553.3 731.7h0M598.2 633.1h0M658.7 647.8h0M605.2 633.3h0M539.9 727.9h0M644.7 636.4h0M594.6 632.5h0M661.6 651.4h0M667.3 688.2h0M532.3 732.2h0M658.8 645.3h0M608.2 633.4h0M666.7 696.7h0M441.0 668.3h0M596.5 632.6h0M446.4 738.8h0M470.7 750.1h0M455.1 746.7h0M473.8 752.9h0M659.4 706.4h0M636.4 637.1h0M658.4 709.7h0M610.2 635.2h0M619.2 638.2h0M664.4 693.8h0M570.6 727.6h0M619.5 641.1h0M576.4 724.7h0M654.5 644.9h0M595.1 632.2h0M590.5 634.7h0M660.4 701.0h0M550.7 731.7h0M547.5 726.5h0M590.3 634.0h0M547.0 730.2h0M661.2 704.9h0M649.4 638.9h0M551.1 727.6h0M466.7 751.4h0M551.0 728.4h0M666.6 695.3h0M577.2 725.8h0M551.1 728.7h0M660.7 700.2h0M664.8 701.3h0M617.8 640.4h0M660.6 707.1h0M559.4 727.1h0M573.6 728.8h0M450.8 743.6h0M580.3 726.8h0M665.3 690.0h0M668.3 669.6h0M467.2 752.1h0M618.9 640.0h0M543.8 729.6h0M449.4 743.5h0M629.7 639.4h0M602.6 634.1h0M635.0 637.5h0M551.3 728.3h0M617.4 639.6h0M603.2 632.1h0M624.7 639.3h0M582.7 638.0h0M623.1 641.7h0M604.8 633.8h0M540.8 729.2h0M655.1 713.2h0M469.7 749.7h0M642.2 635.3h0M551.1 731.8h0M589.6 728.1h0M578.5 726.1h0M565.1 726.8h0M663.0 696.0h0M552.1 731.1h0M561.0 727.0h0M657.1 711.2h0M572.7 725.3h0M612.2 636.7h0M466.2 752.2h0M549.7 728.4h0M551.5 728.6h0M579.3 728.8h0M567.5 729.3h0M467.7 750.9h0M667.8 686.3h0M534.1 730.9h0M580.1 728.5h0M659.5 708.2h0M577.6 727.2h0M543.7 729.8h0M604.2 633.9h0M668.7 669.9h0M665.4 692.7h0M543.6 728.2h0M532.4 729.8h0M565.0 724.6h0M530.4 731.2h0M587.0 636.8h0M578.2 640.2h0M663.6 655.7h0M540.5 728.5h0M606.5 634.7h0M549.4 732.8h0M604.0 633.6h0M650.9 638.0h0M663.5 703.4h0M570.6 726.0h0M557.7 727.6h0M545.3 732.8h0M624.9 640.0h0M546.7 732.3h0M657.4 647.1h0M630.8 637.5h0M577.6 729.0h0M469.4 750.4h0M616.6 637.4h0M624.1 639.8h0M549.5 728.4h0M462.5 747.7h0M666.3 688.1h0M612.6 639.2h0M537.6 731.0h0M594.5 632.2h0M667.5 693.5h0M625.0 640.9h0M544.3 733.1h0M460.6 746.8h0M566.0 727.9h0M567.7 730.1h0M539.9 728.5h0M545.8 728.0h0M647.1 637.4h0M651.0 639.0h0M572.8 726.4h0M462.1 748.7h0M666.3 693.1h0M616.6 641.5h0M635.0 635.3h0M661.4 698.9h0M591.8 728.7h0M664.5 694.6h0M658.5 704.3h0M533.3 728.7h0M460.6 748.1h0M667.5 690.1h0M461.3 747.2h0M643.5 636.3h0M449.5 740.6h0M655.6 712.6h0M652.6 639.8h0M563.5 724.7h0M663.7 653.2h0M611.6 635.5h0M551.8 727.7h0M560.1 730.2h0M667.0 694.1h0M605.7 634.5h0M585.1 636.8h0M666.6 694.3h0M566.4 725.5h0M648.6 640.0h0M664.3 701.8h0M533.2 730.4h0M659.2 648.8h0M579.8 728.3h0M631.1 635.6h0M620.6 640.6h0M567.7 726.7h0M459.1 747.1h0M546.2 730.0h0M570.0 726.8h0M557.2 728.6h0M660.5 648.9h0M660.3 706.6h0M647.2 638.4h0M568.5 728.6h0M581.2 726.3h0M668.4 691.9h0M546.1 728.7h0M448.9 742.4h0M628.4 640.4h0M603.0 633.7h0M624.8 641.3h0M625.8 639.6h0M663.9 698.2h0M450.2 741.4h0M583.0 727.6h0M544.1 726.8h0M616.9 640.2h0M466.6 749.9h0M666.9 692.9h0M559.0 724.8h0M550.6 728.8h0M668.1 678.3h0M463.5 749.9h0M650.7 638.4h0M554.0 730.2h0M533.8 728.6h0M544.9 733.3h0M471.1 751.1h0" stroke="#1e6182" stroke-width="4.3" stroke-linecap="round" fill="none"/><path d="M665.3 668.9h0M445.3 730.3h0M592.4 636.1h0M664.1 669.0h0M634.6 639.0h0M663.0 663.7h0M513.8 732.5h0M474.3 749.7h0M439.8 726.9h0M443.8 731.4h0M476.4 749.7h0M632.8 642.0h0M667.7 680.3h0M598.7 635.0h0M517.8 733.4h0M667.3 671.9h0M600.9 636.4h0M526.9 728.9h0M598.4 633.9h0M552.6 725.3h0M665.2 678.9h0M666.4 670.8h0M535.4 728.1h0M667.3 679.2h0M663.5 664.2h0M528.0 727.8h0M665.2 680.5h0M439.3 727.3h0M473.0 748.6h0M667.9 678.8h0M441.9 731.9h0M630.7 639.6h0M472.1 748.0h0M653.6 646.4h0M446.4 735.0h0M471.8 749.6h0M454.5 742.8h0M535.5 727.2h0M617.7 643.6h0M614.3 643.9h0M630.5 640.4h0M552.6 724.6h0M460.8 746.0h0M665.3 683.9h0M636.7 638.9h0M665.5 677.0h0M614.9 644.7h0M596.4 635.9h0M663.3 668.0h0M476.8 748.0h0M619.7 643.9h0M666.5 666.2h0M663.9 676.6h0M545.3 724.3h0M614.0 641.3h0M661.7 665.0h0M586.0 640.1h0M645.5 640.4h0M660.8 656.8h0M615.7 642.6h0M588.7 637.4h0M610.2 640.5h0M536.9 727.7h0M660.6 699.5h0M589.4 636.9h0M646.5 641.3h0M660.4 696.0h0M612.8 640.7h0M587.6 639.6h0M659.3 657.8h0M661.6 659.8h0M634.5 639.4h0M660.9 658.3h0M630.1 642.5h0M663.3 682.1h0M664.6 675.7h0M662.5 666.8h0M663.9 670.3h0M595.7 636.0h0M541.8 722.3h0M615.6 644.7h0M533.3 723.8h0M468.7 746.2h0M557.6 722.9h0M628.7 640.5h0M665.4 686.7h0M642.9 638.0h0M641.0 639.5h0M611.3 640.6h0M588.8 638.8h0M529.0 723.7h0M661.8 688.9h0M637.3 638.8h0M527.9 723.5h0M663.4 667.7h0M534.4 727.2h0M663.1 671.9h0M526.6 725.1h0M665.8 684.8h0M549.5 725.1h0M603.4 634.5h0M661.8 693.3h0M556.2 722.7h0M534.0 727.9h0M462.8 746.3h0M656.7 653.0h0M518.5 731.6h0M536.2 724.7h0M559.6 724.2h0M593.1 635.2h0M658.1 702.4h0M539.0 721.7h0M518.3 733.3h0M663.9 679.5h0M558.3 723.4h0M536.6 724.7h0M657.8 701.1h0M664.7 686.0h0M470.4 748.9h0M613.3 642.7h0M530.4 726.9h0M539.1 722.5h0M660.0 697.5h0M628.5 641.9h0M613.2 642.0h0M544.0 725.3h0M448.7 735.5h0M536.4 721.4h0M460.2 745.8h0M459.9 745.8h0M555.7 724.3h0M530.8 726.1h0M643.9 640.7h0M664.0 680.3h0M519.5 729.0h0M664.0 679.4h0M664.3 680.7h0M540.5 725.0h0M524.0 727.7h0M597.5 634.6h0M547.4 725.7h0M648.6 642.2h0M515.4 732.1h0M666.3 672.2h0M464.7 745.4h0M562.3 724.1h0M517.1 733.4h0M662.8 658.6h0M554.8 725.2h0M629.7 640.8h0M666.4 671.6h0M639.4 638.7h0M666.9 677.6h0M464.2 747.2h0M554.2 724.6h0M648.3 640.6h0M546.2 725.2h0M538.0 723.4h0M639.3 639.4h0M608.7 637.4h0M448.2 737.0h0M662.9 688.4h0M657.4 651.4h0M636.6 641.1h0M640.3 638.6h0M662.4 662.8h0M539.7 721.6h0M634.8 639.6h0M591.7 635.0h0M533.5 728.3h0M535.6 723.8h0M547.5 725.9h0M606.0 637.1h0M527.6 729.5h0M637.3 637.6h0M535.4 723.4h0M634.3 641.3h0M522.7 731.5h0M552.5 725.2h0M663.8 674.2h0M524.8 726.9h0M656.1 651.9h0M667.5 681.4h0M471.1 749.4h0M666.4 668.1h0M662.9 692.1h0M558.9 723.2h0M660.4 698.7h0M662.9 682.2h0M534.1 724.5h0M542.3 724.3h0M534.4 722.7h0M663.6 664.1h0M603.3 635.8h0M463.9 744.5h0M662.4 685.1h0M646.1 642.4h0" stroke="#1a6682" stroke-width="4.3" stroke-linecap="round" fill="none"/><path d="M480.0 746.1h0M442.8 723.4h0M439.5 716.2h0M508.3 730.7h0M443.4 725.6h0M440.2 721.4h0M499.2 737.2h0M439.0 711.8h0M439.7 715.3h0M438.1 713.4h0M441.6 718.5h0M438.0 712.1h0M514.4 730.0h0M445.5 677.8h0M440.6 715.8h0M439.0 711.2h0M438.3 716.4h0M480.3 746.2h0M438.1 715.4h0M438.7 700.1h0M464.2 742.3h0M473.9 746.7h0M471.8 745.9h0M470.5 746.3h0M455.0 738.9h0M468.5 745.9h0M590.2 640.4h0M521.0 722.8h0M657.2 658.2h0M662.4 679.1h0M651.6 647.1h0M644.2 642.8h0M600.6 638.0h0M658.0 658.8h0M662.0 684.8h0M640.5 642.1h0M600.9 637.0h0M467.4 745.5h0M598.6 638.6h0M642.4 644.1h0M662.9 678.9h0M654.6 653.5h0M659.5 689.6h0M658.5 659.1h0M515.1 728.7h0M599.7 638.4h0M641.4 643.5h0M634.2 643.3h0M660.2 666.9h0M662.4 674.9h0M474.2 745.4h0M521.7 724.4h0M655.0 653.5h0M651.6 648.1h0M474.5 746.7h0M654.7 651.1h0M528.0 721.7h0M516.8 724.6h0M517.0 726.7h0M473.2 746.0h0M599.5 638.2h0M522.6 723.8h0M661.5 677.8h0M634.1 643.8h0M604.0 638.2h0M658.9 686.8h0M632.3 644.4h0M654.7 654.3h0M643.0 642.7h0M448.1 729.5h0M448.0 673.0h0M464.8 743.0h0M651.0 646.5h0M511.9 730.1h0M659.3 692.5h0M662.5 677.7h0M515.4 725.6h0M638.5 642.5h0M653.9 650.8h0M609.1 642.0h0M514.4 729.0h0M662.3 669.9h0M465.6 743.8h0M662.3 669.3h0M468.4 742.9h0M661.4 667.0h0M609.0 641.1h0M661.8 681.9h0M590.9 639.0h0M661.5 666.8h0M662.5 674.4h0M654.6 655.1h0M642.3 641.9h0M512.6 731.3h0M648.0 643.7h0M605.5 639.2h0M474.5 745.9h0M593.5 638.9h0M448.3 729.1h0M471.0 744.0h0M448.9 731.9h0M661.8 686.7h0M660.9 674.6h0M469.0 745.2h0M516.0 728.5h0M511.3 732.0h0M477.4 744.1h0M661.4 688.0h0M477.3 744.7h0M661.4 686.4h0M662.5 669.8h0M608.7 641.0h0M639.3 641.6h0M596.5 638.8h0M656.5 657.9h0M662.6 683.0h0M467.2 745.3h0M468.7 745.8h0M610.1 642.5h0M656.2 654.5h0M641.8 643.1h0M516.2 727.9h0M471.6 744.4h0M468.8 743.0h0M660.3 678.2h0M641.0 642.8h0M657.6 660.9h0M651.6 648.6h0M663.2 676.4h0M518.9 722.7h0M517.7 723.2h0M652.4 651.4h0M647.5 644.3h0M662.7 671.0h0M660.0 682.5h0M652.4 649.1h0M658.6 658.2h0M595.4 639.0h0" stroke="#166d84" stroke-width="4.3" stroke-linecap="round" fill="none"/><path d="M452.7 634.8h0M452.3 635.3h0M456.8 633.8h0M452.9 634.9h0M450.7 636.6h0M454.5 634.6h0M456.5 632.7h0M451.4 636.2h0M453.4 634.1h0M457.3 633.2h0M457.7 633.4h0M452.2 635.0h0" stroke="#2b5383" stroke-width="4.3" stroke-linecap="round" fill="none"/><path d="M444.2 695.5h0M492.2 737.7h0M444.9 690.9h0M444.6 695.4h0M495.4 734.4h0M500.5 730.4h0M503.7 729.4h0M443.3 705.7h0M489.7 738.6h0M444.3 693.2h0M474.3 738.9h0M472.3 738.6h0M470.1 738.8h0M486.9 738.9h0M486.8 739.0h0M653.8 662.4h0M510.2 724.1h0M479.1 740.8h0M473.1 740.2h0M484.0 739.6h0M482.9 738.7h0M448.0 716.6h0M488.3 737.7h0M654.4 664.4h0M481.4 739.8h0M655.8 668.9h0M449.3 724.1h0M484.6 740.4h0M490.4 736.3h0M505.4 725.6h0M449.2 683.0h0M488.7 736.6h0M484.4 738.0h0M503.3 727.9h0M449.3 722.5h0M484.9 738.1h0M485.6 739.0h0M449.7 720.4h0M448.6 685.5h0M500.8 731.3h0M499.0 731.6h0M498.9 731.7h0M494.0 736.8h0M600.5 642.0h0M449.1 679.6h0M508.4 722.8h0M500.8 729.2h0M479.6 740.1h0M485.0 737.9h0M506.4 726.5h0M487.3 738.3h0M655.2 663.8h0M504.4 726.7h0M655.1 667.0h0M503.2 729.3h0" stroke="#0e7986" stroke-width="4.3" stroke-linecap="round" fill="none"/><path d="M442.4 708.6h0M441.8 705.3h0M510.1 728.4h0M442.6 698.6h0M497.4 736.0h0M499.3 736.3h0M440.2 702.3h0M440.9 705.3h0M441.1 704.7h0M443.8 714.0h0M498.7 737.0h0M442.5 689.9h0M440.5 699.7h0M443.0 693.9h0M501.8 731.8h0M509.8 729.1h0M497.7 735.0h0M441.9 698.4h0M474.0 742.8h0M472.0 742.3h0M470.5 742.5h0M503.4 731.6h0M512.0 725.6h0M514.7 722.8h0M638.7 644.8h0M593.6 640.5h0M656.9 665.1h0M511.8 725.4h0M659.0 677.1h0M658.3 671.4h0M601.4 641.4h0M658.9 679.5h0M449.9 728.7h0M639.0 645.1h0M658.8 672.1h0M653.9 657.2h0M658.8 667.3h0M645.4 646.0h0M511.1 725.2h0M507.4 728.7h0M482.9 741.5h0M510.5 726.8h0M656.6 662.6h0M499.5 736.2h0M655.3 657.5h0M652.0 653.7h0M492.2 738.2h0M659.3 679.2h0M595.5 641.3h0M653.7 657.8h0M602.2 639.9h0M659.2 672.1h0M448.1 680.4h0M646.2 646.6h0M645.1 646.1h0M484.7 740.7h0M449.1 678.0h0M656.8 662.3h0M513.1 722.6h0M659.1 677.7h0M652.1 651.6h0M498.8 735.1h0M658.3 678.2h0M473.5 741.9h0M657.3 661.9h0M499.0 734.0h0M509.0 729.8h0M503.7 731.7h0M655.5 660.2h0M504.5 731.0h0M652.9 652.7h0M506.3 728.5h0M652.6 654.8h0M513.8 724.5h0M493.4 737.4h0M594.7 639.6h0M476.2 743.2h0M448.8 728.4h0M638.8 644.1h0M482.2 742.5h0M595.8 639.4h0M646.8 646.7h0M652.3 653.3h0M508.9 725.9h0M475.8 743.3h0M658.2 667.6h0M450.1 728.0h0" stroke="#127385" stroke-width="4.3" stroke-linecap="round" fill="none"/><path d="M499.7 729.8h0M490.3 735.5h0M484.0 736.9h0M486.4 735.0h0M493.2 732.8h0M506.0 723.8h0M502.4 726.9h0M503.5 726.0h0M478.1 737.0h0M492.2 732.4h0M502.1 725.8h0M448.9 686.1h0M503.1 726.5h0M494.1 731.9h0M448.5 716.5h0M490.4 734.9h0M448.7 687.9h0M480.1 736.8h0M449.9 683.6h0M449.0 687.2h0M482.2 736.3h0M495.8 732.2h0M450.2 683.9h0M505.9 723.7h0M448.6 690.5h0M448.4 716.7h0M501.9 726.5h0" stroke="#0e8088" stroke-width="4.3" stroke-linecap="round" fill="none"/><path d="M482.6 735.1h0M472.1 735.0h0M470.7 735.0h0M501.2 722.7h0M450.3 687.7h0M502.0 723.4h0M491.3 731.1h0M486.7 734.1h0M489.3 731.6h0M501.9 722.8h0M448.9 707.1h0M497.1 727.8h0M497.2 727.2h0M482.3 735.8h0M489.1 732.6h0M449.5 705.9h0M497.3 725.6h0M498.9 724.7h0M480.9 734.8h0M497.6 728.1h0M488.4 733.4h0M448.4 706.6h0M448.9 707.2h0M476.8 735.7h0M448.2 698.1h0M501.7 723.6h0M485.2 734.3h0M450.6 691.0h0M500.6 725.6h0M487.6 732.5h0M498.3 726.9h0M450.3 693.7h0M500.7 722.8h0M448.2 697.2h0M489.9 732.4h0M483.5 734.1h0" stroke="#0d868a" stroke-width="4.3" stroke-linecap="round" fill="none"/><path d="M490.1 729.7h0M497.0 725.2h0M486.2 732.1h0M482.3 733.1h0M487.2 731.8h0M450.8 705.3h0M487.9 731.3h0M478.3 733.7h0M484.1 732.2h0M494.3 725.8h0M451.0 705.1h0M483.8 731.9h0" stroke="#148b8c" stroke-width="4.3" stroke-linecap="round" fill="none"/><path d="M488.7 728.9h0M490.4 726.2h0" stroke="#1e908e" stroke-width="4.3" stroke-linecap="round" fill="none"/><path d="M439.5,703.3 L671,668.1" stroke="#ff0000" stroke-width="7.2" fill="none"/><rect x="429.7" y="598.4" width="252.3" height="216.10000000000002" fill="none" stroke="#000" stroke-width="2"/><line x1="454.9" y1="815.5" x2="454.9" y2="824.0" stroke="#333333" stroke-width="2.6"/><text x="454.9" y="844.0" font-size="19.5" text-anchor="middle">0</text><line x1="528.1" y1="815.5" x2="528.1" y2="824.0" stroke="#333333" stroke-width="2.6"/><text x="528.1" y="844.0" font-size="19.5" text-anchor="middle">10</text><line x1="601.3" y1="815.5" x2="601.3" y2="824.0" stroke="#333333" stroke-width="2.6"/><text x="601.3" y="844.0" font-size="19.5" text-anchor="middle">20</text><line x1="674.5" y1="815.5" x2="674.5" y2="824.0" stroke="#333333" stroke-width="2.6"/><text x="674.5" y="844.0" font-size="19.5" text-anchor="middle">30</text><line x1="421.7" y1="805.8000000000001" x2="428.7" y2="805.8000000000001" stroke="#333333" stroke-width="2.6"/><text x="415.2" y="813.6" font-size="19.5" text-anchor="end">4.5</text><line x1="421.7" y1="756.1" x2="428.7" y2="756.1" stroke="#333333" stroke-width="2.6"/><text x="415.2" y="763.9" font-size="19.5" text-anchor="end">5.0</text><line x1="421.7" y1="706.4000000000001" x2="428.7" y2="706.4000000000001" stroke="#333333" stroke-width="2.6"/><text x="415.2" y="714.2" font-size="19.5" text-anchor="end">5.5</text><line x1="421.7" y1="656.7" x2="428.7" y2="656.7" stroke="#333333" stroke-width="2.6"/><text x="415.2" y="664.5" font-size="19.5" text-anchor="end">6.0</text><line x1="421.7" y1="607.0" x2="428.7" y2="607.0" stroke="#333333" stroke-width="2.6"/><text x="415.2" y="614.8" font-size="19.5" text-anchor="end">6.5</text><text x="555.6" y="870" font-size="19.5" text-anchor="middle">Temperature, °C</text><text transform="translate(372,706) rotate(-90)" font-size="19.5" text-anchor="middle">log<tspan font-size="14" dy="4.5">10</tspan><tspan dy="-4.5">(Abundance, mL</tspan><tspan font-size="13.5" dy="-9.4">−1</tspan><tspan dy="8">)</tspan></text></g><g><line x1="136.7" y1="895.4" x2="136.7" y2="1106.6" stroke="#ebebeb" stroke-width="2.5"/><line x1="222.9" y1="895.4" x2="222.9" y2="1106.6" stroke="#ebebeb" stroke-width="2.5"/><line x1="309.1" y1="895.4" x2="309.1" y2="1106.6" stroke="#ebebeb" stroke-width="2.5"/><line x1="81.5" y1="1098.45" x2="335.6" y2="1098.45" stroke="#ebebeb" stroke-width="2.5"/><line x1="81.5" y1="1049.8" x2="335.6" y2="1049.8" stroke="#ebebeb" stroke-width="2.5"/><line x1="81.5" y1="1001.15" x2="335.6" y2="1001.15" stroke="#ebebeb" stroke-width="2.5"/><line x1="81.5" y1="952.5" x2="335.6" y2="952.5" stroke="#ebebeb" stroke-width="2.5"/><line x1="81.5" y1="903.85" x2="335.6" y2="903.85" stroke="#ebebeb" stroke-width="2.5"/><clipPath id="clf"><path d="M103.1,1001.7 103.3,1002.7 103.4,1003.7 103.4,1004.7 103.2,1006.7 103.9,1008.8 104.2,1009.7 104.4,1010.6 104.5,1011.6 104.4,1012.5 104.4,1013.5 104.2,1014.4 103.9,1015.3 103.6,1016.2 103.1,1017.0 102.0,1018.9 102.0,975.0 94.2,975.0 94.3,976.0 92.9,980.0 92.1,983.9 94.5,988.1 92.0,992.0 94.0,996.1 92.0,1000.0 93.4,1004.0 93.1,1008.0 94.5,1012.0 92.2,1016.0 89.9,1020.0 89.7,1024.0 90.3,1028.0 92.6,1032.0 90.5,1036.0 92.0,1040.0 94.6,1044.1 96.0,1048.6 96.3,1053.2 96.2,1055.0 102.0,1055.0 102.0,1037.1 103.1,1038.8 103.5,1039.6 103.9,1040.4 104.2,1041.2 105.5,1045.6 105.8,1046.7 106.0,1047.8 106.3,1052.5 106.3,1053.5 109.4,1055.0 109.4,1055.0 111.0,1055.8 112.8,1055.4 113.7,1055.2 114.7,1055.2 115.7,1055.2 116.7,1055.3 121.7,1056.1 122.8,1056.4 123.8,1056.8 125.8,1057.6 128.1,1056.6 128.9,1056.3 132.9,1055.0 133.8,1054.8 134.7,1054.6 135.7,1054.5 136.7,1054.5 137.6,1054.6 138.6,1054.8 139.5,1055.1 142.0,1056.1 142.2,1056.0 143.0,1055.5 143.8,1055.1 144.7,1054.7 145.6,1054.5 149.5,1053.5 150.5,1053.3 151.5,1053.3 155.6,1053.1 156.8,1053.2 158.0,1053.3 159.3,1053.6 161.5,1052.8 162.4,1052.6 163.3,1052.4 164.3,1052.3 165.2,1052.3 168.0,1052.4 170.3,1051.2 175.0,1048.7 175.8,1048.3 176.6,1048.0 177.5,1047.7 182.5,1046.6 186.1,1045.7 188.5,1044.2 189.3,1043.7 190.1,1043.4 191.0,1043.1 191.9,1042.8 195.8,1042.1 196.6,1042.0 200.6,1041.5 201.5,1041.5 202.3,1041.5 203.1,1041.6 206.5,1042.0 207.3,1042.0 209.2,1040.9 210.1,1040.5 211.1,1040.1 212.1,1039.8 213.1,1039.7 214.2,1039.6 215.2,1039.7 219.5,1040.1 220.6,1040.3 221.7,1040.5 222.8,1040.0 223.7,1039.7 224.6,1039.4 225.5,1039.2 226.5,1039.1 227.5,1039.1 228.4,1039.2 229.4,1039.4 231.1,1039.8 232.8,1039.3 233.8,1039.1 234.9,1038.9 236.0,1038.9 237.0,1039.0 238.1,1039.2 241.2,1040.0 241.8,1040.0 243.5,1039.2 247.1,1037.3 248.0,1036.9 249.0,1036.6 250.0,1036.3 251.0,1036.2 252.0,1036.2 253.0,1036.3 254.0,1036.5 254.9,1036.7 255.7,1037.0 256.3,1036.7 257.2,1036.4 258.2,1036.2 259.3,1036.0 259.9,1036.0 260.7,1035.2 261.5,1034.5 262.4,1033.9 263.3,1033.4 264.2,1033.0 265.2,1032.7 266.3,1032.5 270.5,1031.9 271.4,1031.9 272.4,1031.9 273.3,1032.0 273.9,1032.1 274.2,1031.9 275.0,1031.3 275.2,1031.3 275.2,1030.9 275.3,1029.9 275.6,1028.9 275.9,1028.0 276.4,1027.0 276.9,1026.2 277.5,1025.4 278.2,1024.6 279.0,1024.0 279.6,1023.5 279.7,1023.2 280.0,1022.3 280.3,1021.4 280.8,1020.6 281.3,1019.8 281.9,1019.0 282.5,1018.4 283.2,1017.7 284.0,1017.2 284.1,1017.2 283.8,1016.2 283.6,1015.2 283.5,1014.2 283.5,1013.2 283.6,1012.2 283.9,1011.2 284.2,1010.3 285.1,1007.8 285.3,1005.1 285.4,1004.2 285.6,1003.3 285.8,1002.4 286.2,1001.6 286.4,1001.1 286.2,1000.5 285.9,999.6 285.7,998.7 285.6,997.7 285.6,996.7 285.7,995.8 286.3,991.5 286.5,990.4 286.8,989.3 287.2,988.4 286.9,987.4 286.6,986.3 286.4,985.1 286.0,980.8 286.0,979.7 286.1,978.7 286.3,977.6 286.6,976.5 286.0,975.3 285.7,974.3 285.4,973.3 285.3,972.4 285.2,971.3 285.2,970.3 285.4,969.3 285.6,968.4 286.8,964.5 287.1,963.1 286.4,961.1 286.3,960.4 285.2,956.0 285.1,955.0 285.0,954.0 285.0,953.0 285.2,951.9 285.4,950.9 285.7,950.0 286.0,949.4 285.8,948.9 285.4,947.9 285.2,946.8 284.4,942.9 284.3,941.7 284.3,940.5 284.5,936.3 284.5,936.1 284.8,932.7 284.7,932.1 283.7,930.6 283.3,929.9 282.9,929.0 282.5,928.2 282.3,927.3 281.8,925.6 280.6,924.1 280.0,923.3 279.5,922.4 279.0,921.5 278.7,920.5 278.2,919.2 277.8,919.1 276.9,918.9 276.1,918.6 272.8,917.2 269.3,917.0 268.6,916.9 267.0,916.7 265.1,917.4 264.3,917.8 263.4,918.0 262.4,918.1 261.5,918.2 257.2,918.2 256.3,918.2 255.3,918.1 254.4,917.9 253.5,917.6 252.6,917.2 251.8,916.7 251.3,916.4 250.7,916.6 249.8,916.7 248.8,916.8 247.8,916.8 243.6,916.5 243.1,916.4 238.9,915.9 237.5,915.7 236.0,915.3 234.4,915.8 233.5,916.0 232.6,916.2 231.6,916.2 230.7,916.2 229.7,916.1 228.4,915.9 227.0,916.5 225.9,916.9 221.7,918.3 220.8,918.5 219.9,918.7 219.0,918.7 218.1,918.7 217.2,918.6 212.9,918.0 211.8,917.8 208.9,917.0 206.2,917.1 202.6,918.0 201.8,918.3 201.8,918.5 201.6,919.4 201.4,920.3 201.1,921.2 200.8,922.1 200.3,922.9 199.8,923.7 199.2,924.4 198.5,925.1 197.8,925.7 197.0,926.2 196.8,926.3 196.9,927.8 196.9,928.7 196.8,929.7 196.7,930.7 196.4,931.6 196.1,932.5 195.6,933.3 195.1,934.2 193.7,936.1 193.2,938.3 192.8,939.6 191.4,943.5 191.0,944.4 190.5,945.2 190.0,946.0 189.4,946.8 186.7,949.7 185.2,951.4 184.3,953.7 183.9,954.6 183.4,955.5 182.8,956.3 182.1,957.0 181.4,957.7 180.6,958.3 179.8,958.8 178.9,959.2 177.9,959.6 177.0,959.8 176.0,959.9 175.0,960.0 174.0,960.0 173.1,959.8 172.1,959.6 171.2,959.2 170.3,958.8 168.3,957.7 166.2,957.9 161.2,958.7 160.2,958.8 159.2,958.8 158.2,958.7 157.2,958.5 156.2,958.2 155.3,957.8 154.4,957.4 153.1,956.6 151.9,956.8 150.9,957.0 149.8,957.0 148.8,957.0 147.8,956.8 143.0,955.7 138.6,954.9 134.3,954.5 132.2,954.5 129.7,955.8 128.8,956.3 127.8,956.6 126.8,956.8 121.8,957.7 121.0,957.9 116.9,958.3 114.8,959.0 114.1,960.8 113.6,961.7 113.1,962.6 112.5,963.4 111.9,964.2 111.1,964.8 110.3,965.4 109.4,966.0 108.5,966.4 107.6,966.7 106.7,966.9 106.6,967.0 104.8,970.8 104.1,973.1 104.3,975.3 104.3,976.4 104.2,977.4 104.0,978.4 103.7,979.4 102.7,982.3 103.2,983.1 103.6,984.0 104.0,984.9 104.3,985.9 104.4,986.9 104.5,987.9 104.5,988.9 104.3,989.9 104.1,990.9 103.8,991.8 103.4,992.7 103.7,993.5 103.9,994.4 104.0,995.3 104.0,996.3 104.0,997.2 103.8,998.1 103.6,999.0 103.3,999.9 102.9,1000.8 102.9,1000.8Z"/></clipPath><filter id="blf" x="-10%" y="-10%" width="120%" height="120%"><feGaussianBlur stdDeviation="2.5"/></filter><g fill="#2d5083"><path d="M103.1,1001.7 103.3,1002.7 103.4,1003.7 103.4,1004.7 103.2,1006.7 103.9,1008.8 104.2,1009.7 104.4,1010.6 104.5,1011.6 104.4,1012.5 104.4,1013.5 104.2,1014.4 103.9,1015.3 103.6,1016.2 103.1,1017.0 102.0,1018.9 102.0,975.0 94.2,975.0 94.3,976.0 92.9,980.0 92.1,983.9 94.5,988.1 92.0,992.0 94.0,996.1 92.0,1000.0 93.4,1004.0 93.1,1008.0 94.5,1012.0 92.2,1016.0 89.9,1020.0 89.7,1024.0 90.3,1028.0 92.6,1032.0 90.5,1036.0 92.0,1040.0 94.6,1044.1 96.0,1048.6 96.3,1053.2 96.2,1055.0 102.0,1055.0 102.0,1037.1 103.1,1038.8 103.5,1039.6 103.9,1040.4 104.2,1041.2 105.5,1045.6 105.8,1046.7 106.0,1047.8 106.3,1052.5 106.3,1053.5 109.4,1055.0 109.4,1055.0 111.0,1055.8 112.8,1055.4 113.7,1055.2 114.7,1055.2 115.7,1055.2 116.7,1055.3 121.7,1056.1 122.8,1056.4 123.8,1056.8 125.8,1057.6 128.1,1056.6 128.9,1056.3 132.9,1055.0 133.8,1054.8 134.7,1054.6 135.7,1054.5 136.7,1054.5 137.6,1054.6 138.6,1054.8 139.5,1055.1 142.0,1056.1 142.2,1056.0 143.0,1055.5 143.8,1055.1 144.7,1054.7 145.6,1054.5 149.5,1053.5 150.5,1053.3 151.5,1053.3 155.6,1053.1 156.8,1053.2 158.0,1053.3 159.3,1053.6 161.5,1052.8 162.4,1052.6 163.3,1052.4 164.3,1052.3 165.2,1052.3 168.0,1052.4 170.3,1051.2 175.0,1048.7 175.8,1048.3 176.6,1048.0 177.5,1047.7 182.5,1046.6 186.1,1045.7 188.5,1044.2 189.3,1043.7 190.1,1043.4 191.0,1043.1 191.9,1042.8 195.8,1042.1 196.6,1042.0 200.6,1041.5 201.5,1041.5 202.3,1041.5 203.1,1041.6 206.5,1042.0 207.3,1042.0 209.2,1040.9 210.1,1040.5 211.1,1040.1 212.1,1039.8 213.1,1039.7 214.2,1039.6 215.2,1039.7 219.5,1040.1 220.6,1040.3 221.7,1040.5 222.8,1040.0 223.7,1039.7 224.6,1039.4 225.5,1039.2 226.5,1039.1 227.5,1039.1 228.4,1039.2 229.4,1039.4 231.1,1039.8 232.8,1039.3 233.8,1039.1 234.9,1038.9 236.0,1038.9 237.0,1039.0 238.1,1039.2 241.2,1040.0 241.8,1040.0 243.5,1039.2 247.1,1037.3 248.0,1036.9 249.0,1036.6 250.0,1036.3 251.0,1036.2 252.0,1036.2 253.0,1036.3 254.0,1036.5 254.9,1036.7 255.7,1037.0 256.3,1036.7 257.2,1036.4 258.2,1036.2 259.3,1036.0 259.9,1036.0 260.7,1035.2 261.5,1034.5 262.4,1033.9 263.3,1033.4 264.2,1033.0 265.2,1032.7 266.3,1032.5 270.5,1031.9 271.4,1031.9 272.4,1031.9 273.3,1032.0 273.9,1032.1 274.2,1031.9 275.0,1031.3 275.2,1031.3 275.2,1030.9 275.3,1029.9 275.6,1028.9 275.9,1028.0 276.4,1027.0 276.9,1026.2 277.5,1025.4 278.2,1024.6 279.0,1024.0 279.6,1023.5 279.7,1023.2 280.0,1022.3 280.3,1021.4 280.8,1020.6 281.3,1019.8 281.9,1019.0 282.5,1018.4 283.2,1017.7 284.0,1017.2 284.1,1017.2 283.8,1016.2 283.6,1015.2 283.5,1014.2 283.5,1013.2 283.6,1012.2 283.9,1011.2 284.2,1010.3 285.1,1007.8 285.3,1005.1 285.4,1004.2 285.6,1003.3 285.8,1002.4 286.2,1001.6 286.4,1001.1 286.2,1000.5 285.9,999.6 285.7,998.7 285.6,997.7 285.6,996.7 285.7,995.8 286.3,991.5 286.5,990.4 286.8,989.3 287.2,988.4 286.9,987.4 286.6,986.3 286.4,985.1 286.0,980.8 286.0,979.7 286.1,978.7 286.3,977.6 286.6,976.5 286.0,975.3 285.7,974.3 285.4,973.3 285.3,972.4 285.2,971.3 285.2,970.3 285.4,969.3 285.6,968.4 286.8,964.5 287.1,963.1 286.4,961.1 286.3,960.4 285.2,956.0 285.1,955.0 285.0,954.0 285.0,953.0 285.2,951.9 285.4,950.9 285.7,950.0 286.0,949.4 285.8,948.9 285.4,947.9 285.2,946.8 284.4,942.9 284.3,941.7 284.3,940.5 284.5,936.3 284.5,936.1 284.8,932.7 284.7,932.1 283.7,930.6 283.3,929.9 282.9,929.0 282.5,928.2 282.3,927.3 281.8,925.6 280.6,924.1 280.0,923.3 279.5,922.4 279.0,921.5 278.7,920.5 278.2,919.2 277.8,919.1 276.9,918.9 276.1,918.6 272.8,917.2 269.3,917.0 268.6,916.9 267.0,916.7 265.1,917.4 264.3,917.8 263.4,918.0 262.4,918.1 261.5,918.2 257.2,918.2 256.3,918.2 255.3,918.1 254.4,917.9 253.5,917.6 252.6,917.2 251.8,916.7 251.3,916.4 250.7,916.6 249.8,916.7 248.8,916.8 247.8,916.8 243.6,916.5 243.1,916.4 238.9,915.9 237.5,915.7 236.0,915.3 234.4,915.8 233.5,916.0 232.6,916.2 231.6,916.2 230.7,916.2 229.7,916.1 228.4,915.9 227.0,916.5 225.9,916.9 221.7,918.3 220.8,918.5 219.9,918.7 219.0,918.7 218.1,918.7 217.2,918.6 212.9,918.0 211.8,917.8 208.9,917.0 206.2,917.1 202.6,918.0 201.8,918.3 201.8,918.5 201.6,919.4 201.4,920.3 201.1,921.2 200.8,922.1 200.3,922.9 199.8,923.7 199.2,924.4 198.5,925.1 197.8,925.7 197.0,926.2 196.8,926.3 196.9,927.8 196.9,928.7 196.8,929.7 196.7,930.7 196.4,931.6 196.1,932.5 195.6,933.3 195.1,934.2 193.7,936.1 193.2,938.3 192.8,939.6 191.4,943.5 191.0,944.4 190.5,945.2 190.0,946.0 189.4,946.8 186.7,949.7 185.2,951.4 184.3,953.7 183.9,954.6 183.4,955.5 182.8,956.3 182.1,957.0 181.4,957.7 180.6,958.3 179.8,958.8 178.9,959.2 177.9,959.6 177.0,959.8 176.0,959.9 175.0,960.0 174.0,960.0 173.1,959.8 172.1,959.6 171.2,959.2 170.3,958.8 168.3,957.7 166.2,957.9 161.2,958.7 160.2,958.8 159.2,958.8 158.2,958.7 157.2,958.5 156.2,958.2 155.3,957.8 154.4,957.4 153.1,956.6 151.9,956.8 150.9,957.0 149.8,957.0 148.8,957.0 147.8,956.8 143.0,955.7 138.6,954.9 134.3,954.5 132.2,954.5 129.7,955.8 128.8,956.3 127.8,956.6 126.8,956.8 121.8,957.7 121.0,957.9 116.9,958.3 114.8,959.0 114.1,960.8 113.6,961.7 113.1,962.6 112.5,963.4 111.9,964.2 111.1,964.8 110.3,965.4 109.4,966.0 108.5,966.4 107.6,966.7 106.7,966.9 106.6,967.0 104.8,970.8 104.1,973.1 104.3,975.3 104.3,976.4 104.2,977.4 104.0,978.4 103.7,979.4 102.7,982.3 103.2,983.1 103.6,984.0 104.0,984.9 104.3,985.9 104.4,986.9 104.5,987.9 104.5,988.9 104.3,989.9 104.1,990.9 103.8,991.8 103.4,992.7 103.7,993.5 103.9,994.4 104.0,995.3 104.0,996.3 104.0,997.2 103.8,998.1 103.6,999.0 103.3,999.9 102.9,1000.8 102.9,1000.8Z"/></g><g clip-path="url(#clf)"><g filter="url(#blf)"><path fill="#2b5383" d="M152 896h171v6h-171zM137 901h201v6h-201zM122 906h71v6h-71zM282 906h56v6h-56zM107 911h61v6h-61zM302 911h36v6h-36zM97 916h56v6h-56zM312 916h26v6h-26zM87 921h51v6h-51zM322 921h16v6h-16zM82 926h46v6h-46zM327 926h11v6h-11zM82 931h36v6h-36zM332 931h6v6h-6zM82 936h26v6h-26zM82 941h16v6h-16zM82 946h11v6h-11zM332 1011h6v6h-6zM327 1016h11v6h-11zM322 1021h16v6h-16zM317 1026h21v6h-21zM312 1031h26v6h-26zM302 1036h36v6h-36zM297 1041h36v6h-36zM287 1046h41v6h-41zM277 1051h41v6h-41zM267 1056h46v6h-46zM252 1061h51v6h-51zM82 1066h6v6h-6zM237 1066h56v6h-56zM82 1071h21v6h-21zM217 1071h66v6h-66zM82 1076h51v6h-51zM182 1076h86v6h-86zM82 1081h171v6h-171zM82 1086h156v6h-156zM82 1091h136v6h-136zM102 1096h81v6h-81z"/><path fill="#295682" d="M192 906h91v6h-91zM167 911h56v6h-56zM252 911h51v6h-51zM152 916h36v6h-36zM282 916h31v6h-31zM137 921h31v6h-31zM297 921h26v6h-26zM127 926h26v6h-26zM307 926h21v6h-21zM117 931h26v6h-26zM312 931h21v6h-21zM107 936h21v6h-21zM322 936h16v6h-16zM97 941h21v6h-21zM327 941h11v6h-11zM92 946h16v6h-16zM327 946h11v6h-11zM82 951h21v6h-21zM332 951h6v6h-6zM82 956h16v6h-16zM332 956h6v6h-6zM82 961h11v6h-11zM82 966h6v6h-6zM332 981h6v6h-6zM332 986h6v6h-6zM332 991h6v6h-6zM327 996h11v6h-11zM327 1001h11v6h-11zM322 1006h16v6h-16zM317 1011h16v6h-16zM312 1016h16v6h-16zM307 1021h16v6h-16zM302 1026h16v6h-16zM292 1031h21v6h-21zM282 1036h21v6h-21zM277 1041h21v6h-21zM267 1046h21v6h-21zM82 1051h11v6h-11zM252 1051h26v6h-26zM82 1056h21v6h-21zM237 1056h31v6h-31zM82 1061h31v6h-31zM217 1061h36v6h-36zM87 1066h71v6h-71zM167 1066h71v6h-71zM102 1071h116v6h-116zM132 1076h51v6h-51z"/><path fill="#265982" d="M222 911h31v6h-31zM187 916h96v6h-96zM167 921h31v6h-31zM272 921h26v6h-26zM152 926h26v6h-26zM287 926h21v6h-21zM142 931h16v6h-16zM297 931h16v6h-16zM127 936h16v6h-16zM307 936h16v6h-16zM117 941h21v6h-21zM312 941h16v6h-16zM107 946h21v6h-21zM317 946h11v6h-11zM102 951h11v6h-11zM322 951h11v6h-11zM97 956h11v6h-11zM322 956h11v6h-11zM92 961h11v6h-11zM322 961h16v6h-16zM87 966h11v6h-11zM327 966h11v6h-11zM82 971h11v6h-11zM327 971h11v6h-11zM82 976h11v6h-11zM327 976h11v6h-11zM82 981h6v6h-6zM322 981h11v6h-11zM82 986h6v6h-6zM322 986h11v6h-11zM322 991h11v6h-11zM317 996h11v6h-11zM312 1001h16v6h-16zM312 1006h11v6h-11zM307 1011h11v6h-11zM302 1016h11v6h-11zM292 1021h16v6h-16zM287 1026h16v6h-16zM82 1031h6v6h-6zM277 1031h16v6h-16zM82 1036h11v6h-11zM272 1036h11v6h-11zM82 1041h16v6h-16zM257 1041h21v6h-21zM82 1046h21v6h-21zM247 1046h21v6h-21zM92 1051h16v6h-16zM227 1051h26v6h-26zM102 1056h36v6h-36zM202 1056h36v6h-36zM112 1061h106v6h-106zM157 1066h11v6h-11z"/><path fill="#225d82" d="M197 921h76v6h-76zM177 926h21v6h-21zM267 926h21v6h-21zM157 931h21v6h-21zM282 931h16v6h-16zM142 936h21v6h-21zM292 936h16v6h-16zM137 941h11v6h-11zM302 941h11v6h-11zM127 946h11v6h-11zM307 946h11v6h-11zM112 951h16v6h-16zM312 951h11v6h-11zM107 956h6v6h-6zM312 956h11v6h-11zM102 961h6v6h-6zM317 961h6v6h-6zM97 966h6v6h-6zM317 966h11v6h-11zM92 971h6v6h-6zM317 971h11v6h-11zM92 976h6v6h-6zM317 976h11v6h-11zM87 981h6v6h-6zM317 981h6v6h-6zM87 986h6v6h-6zM312 986h11v6h-11zM82 991h11v6h-11zM312 991h11v6h-11zM82 996h11v6h-11zM307 996h11v6h-11zM82 1001h6v6h-6zM307 1001h6v6h-6zM82 1006h6v6h-6zM302 1006h11v6h-11zM82 1011h11v6h-11zM297 1011h11v6h-11zM82 1016h11v6h-11zM292 1016h11v6h-11zM82 1021h11v6h-11zM282 1021h11v6h-11zM82 1026h11v6h-11zM277 1026h11v6h-11zM87 1031h11v6h-11zM267 1031h11v6h-11zM92 1036h6v6h-6zM257 1036h16v6h-16zM97 1041h6v6h-6zM242 1041h16v6h-16zM102 1046h6v6h-6zM227 1046h21v6h-21zM107 1051h41v6h-41zM197 1051h31v6h-31zM137 1056h66v6h-66z"/><path fill="#1e6182" d="M197 926h71v6h-71zM177 931h16v6h-16zM272 931h11v6h-11zM162 936h16v6h-16zM282 936h11v6h-11zM147 941h16v6h-16zM292 941h11v6h-11zM137 946h6v6h-6zM297 946h11v6h-11zM127 951h11v6h-11zM302 951h11v6h-11zM112 956h16v6h-16zM307 956h6v6h-6zM107 961h6v6h-6zM307 961h11v6h-11zM102 966h6v6h-6zM307 966h11v6h-11zM97 971h6v6h-6zM312 971h6v6h-6zM97 976h6v6h-6zM312 976h6v6h-6zM92 981h6v6h-6zM307 981h11v6h-11zM92 986h6v6h-6zM307 986h6v6h-6zM92 991h6v6h-6zM307 991h6v6h-6zM302 996h6v6h-6zM87 1001h6v6h-6zM297 1001h11v6h-11zM87 1006h6v6h-6zM292 1006h11v6h-11zM287 1011h11v6h-11zM92 1016h6v6h-6zM282 1016h11v6h-11zM92 1021h6v6h-6zM277 1021h6v6h-6zM92 1026h6v6h-6zM267 1026h11v6h-11zM97 1031h6v6h-6zM257 1031h11v6h-11zM97 1036h6v6h-6zM247 1036h11v6h-11zM102 1041h6v6h-6zM227 1041h16v6h-16zM107 1046h41v6h-41zM202 1046h26v6h-26zM147 1051h51v6h-51z"/><path fill="#1a6682" d="M192 931h21v6h-21zM252 931h21v6h-21zM177 936h11v6h-11zM272 936h11v6h-11zM162 941h11v6h-11zM282 941h11v6h-11zM142 946h11v6h-11zM292 946h6v6h-6zM137 951h6v6h-6zM297 951h6v6h-6zM127 956h11v6h-11zM297 956h11v6h-11zM112 961h6v6h-6zM302 961h6v6h-6zM302 966h6v6h-6zM102 971h6v6h-6zM302 971h11v6h-11zM302 976h11v6h-11zM97 981h6v6h-6zM302 981h6v6h-6zM302 986h6v6h-6zM297 991h11v6h-11zM92 996h6v6h-6zM297 996h6v6h-6zM92 1001h6v6h-6zM292 1001h6v6h-6zM92 1006h6v6h-6zM287 1006h6v6h-6zM92 1011h6v6h-6zM282 1011h6v6h-6zM277 1016h6v6h-6zM267 1021h11v6h-11zM97 1026h6v6h-6zM257 1026h11v6h-11zM247 1031h11v6h-11zM102 1036h6v6h-6zM232 1036h16v6h-16zM107 1041h11v6h-11zM122 1041h21v6h-21zM207 1041h21v6h-21zM147 1046h56v6h-56z"/><path fill="#166d84" d="M212 931h41v6h-41zM187 936h16v6h-16zM262 936h11v6h-11zM172 941h11v6h-11zM277 941h6v6h-6zM152 946h16v6h-16zM282 946h11v6h-11zM142 951h6v6h-6zM287 951h11v6h-11zM292 956h6v6h-6zM117 961h16v6h-16zM297 961h6v6h-6zM107 966h6v6h-6zM297 966h6v6h-6zM297 971h6v6h-6zM297 976h6v6h-6zM297 981h6v6h-6zM97 986h6v6h-6zM297 986h6v6h-6zM292 991h6v6h-6zM292 996h6v6h-6zM287 1001h6v6h-6zM282 1006h6v6h-6zM277 1011h6v6h-6zM97 1016h6v6h-6zM267 1016h11v6h-11zM97 1021h6v6h-6zM262 1021h6v6h-6zM252 1026h6v6h-6zM102 1031h6v6h-6zM237 1031h11v6h-11zM107 1036h6v6h-6zM127 1036h11v6h-11zM217 1036h16v6h-16zM117 1041h6v6h-6zM142 1041h66v6h-66z"/><path fill="#127385" d="M202 936h21v6h-21zM242 936h21v6h-21zM182 941h11v6h-11zM267 941h11v6h-11zM167 946h11v6h-11zM277 946h6v6h-6zM147 951h16v6h-16zM282 951h6v6h-6zM137 956h6v6h-6zM287 956h6v6h-6zM132 961h6v6h-6zM292 961h6v6h-6zM112 966h21v6h-21zM292 966h6v6h-6zM102 976h6v6h-6zM292 981h6v6h-6zM292 986h6v6h-6zM97 991h6v6h-6zM287 991h6v6h-6zM97 996h6v6h-6zM287 996h6v6h-6zM97 1001h6v6h-6zM282 1001h6v6h-6zM97 1006h6v6h-6zM277 1006h6v6h-6zM97 1011h6v6h-6zM272 1011h6v6h-6zM262 1016h6v6h-6zM252 1021h11v6h-11zM102 1026h6v6h-6zM242 1026h11v6h-11zM127 1031h11v6h-11zM227 1031h11v6h-11zM112 1036h16v6h-16zM137 1036h11v6h-11zM157 1036h61v6h-61z"/><path fill="#0e7986" d="M222 936h21v6h-21zM192 941h11v6h-11zM257 941h11v6h-11zM177 946h11v6h-11zM272 946h6v6h-6zM162 951h11v6h-11zM277 951h6v6h-6zM142 956h6v6h-6zM282 956h6v6h-6zM287 961h6v6h-6zM132 966h6v6h-6zM107 971h6v6h-6zM292 971h6v6h-6zM292 976h6v6h-6zM102 981h6v6h-6zM287 986h6v6h-6zM282 996h6v6h-6zM277 1001h6v6h-6zM272 1006h6v6h-6zM267 1011h6v6h-6zM257 1016h6v6h-6zM247 1021h6v6h-6zM232 1026h11v6h-11zM107 1031h6v6h-6zM137 1031h6v6h-6zM167 1031h6v6h-6zM212 1031h16v6h-16zM147 1036h11v6h-11z"/><path fill="#0e8088" d="M202 941h16v6h-16zM242 941h16v6h-16zM187 946h6v6h-6zM262 946h11v6h-11zM172 951h6v6h-6zM272 951h6v6h-6zM147 956h21v6h-21zM137 961h6v6h-6zM282 961h6v6h-6zM287 966h6v6h-6zM112 971h21v6h-21zM287 971h6v6h-6zM287 976h6v6h-6zM287 981h6v6h-6zM282 986h6v6h-6zM282 991h6v6h-6zM277 996h6v6h-6zM272 1001h6v6h-6zM267 1006h6v6h-6zM262 1011h6v6h-6zM252 1016h6v6h-6zM102 1021h6v6h-6zM242 1021h6v6h-6zM127 1026h11v6h-11zM222 1026h11v6h-11zM122 1031h6v6h-6zM142 1031h6v6h-6zM157 1031h11v6h-11zM172 1031h41v6h-41z"/><path fill="#0d868a" d="M217 941h26v6h-26zM192 946h11v6h-11zM257 946h6v6h-6zM177 951h11v6h-11zM267 951h6v6h-6zM167 956h6v6h-6zM277 956h6v6h-6zM282 966h6v6h-6zM132 971h6v6h-6zM282 971h6v6h-6zM107 976h6v6h-6zM127 976h6v6h-6zM282 976h6v6h-6zM282 981h6v6h-6zM102 986h6v6h-6zM277 991h6v6h-6zM272 996h6v6h-6zM267 1001h6v6h-6zM262 1006h6v6h-6zM257 1011h6v6h-6zM102 1016h6v6h-6zM247 1016h6v6h-6zM132 1021h6v6h-6zM232 1021h11v6h-11zM107 1026h6v6h-6zM137 1026h6v6h-6zM162 1026h21v6h-21zM207 1026h16v6h-16zM112 1031h11v6h-11zM147 1031h11v6h-11z"/><path fill="#148b8c" d="M202 946h6v6h-6zM252 946h6v6h-6zM187 951h6v6h-6zM262 951h6v6h-6zM172 956h6v6h-6zM272 956h6v6h-6zM142 961h6v6h-6zM157 961h11v6h-11zM277 961h6v6h-6zM137 966h6v6h-6zM277 966h6v6h-6zM122 976h6v6h-6zM277 986h6v6h-6zM102 991h6v6h-6zM257 1006h6v6h-6zM102 1011h6v6h-6zM252 1011h6v6h-6zM242 1016h6v6h-6zM127 1021h6v6h-6zM222 1021h11v6h-11zM122 1026h6v6h-6zM157 1026h6v6h-6zM182 1026h26v6h-26z"/><path fill="#1e908e" d="M207 946h16v6h-16zM237 946h16v6h-16zM192 951h6v6h-6zM257 951h6v6h-6zM177 956h6v6h-6zM267 956h6v6h-6zM147 961h11v6h-11zM167 961h6v6h-6zM272 961h6v6h-6zM277 971h6v6h-6zM112 976h11v6h-11zM132 976h6v6h-6zM277 976h6v6h-6zM107 981h6v6h-6zM127 981h6v6h-6zM277 981h6v6h-6zM272 991h6v6h-6zM102 996h6v6h-6zM267 996h6v6h-6zM102 1001h6v6h-6zM262 1001h6v6h-6zM102 1006h6v6h-6zM247 1011h6v6h-6zM127 1016h11v6h-11zM232 1016h11v6h-11zM107 1021h6v6h-6zM137 1021h6v6h-6zM162 1021h21v6h-21zM212 1021h11v6h-11zM112 1026h11v6h-11zM142 1026h16v6h-16z"/><path fill="#279590" d="M222 946h16v6h-16zM197 951h6v6h-6zM252 951h6v6h-6zM182 956h6v6h-6zM172 961h6v6h-6zM162 966h6v6h-6zM272 966h6v6h-6zM137 971h6v6h-6zM122 981h6v6h-6zM132 981h6v6h-6zM127 986h6v6h-6zM272 986h6v6h-6zM267 991h6v6h-6zM257 1001h6v6h-6zM252 1006h6v6h-6zM242 1011h6v6h-6zM167 1016h6v6h-6zM227 1016h6v6h-6zM122 1021h6v6h-6zM157 1021h6v6h-6zM182 1021h31v6h-31z"/><path fill="#309b92" d="M202 951h6v6h-6zM247 951h6v6h-6zM187 956h6v6h-6zM262 956h6v6h-6zM177 961h6v6h-6zM267 961h6v6h-6zM142 966h6v6h-6zM157 966h6v6h-6zM167 966h6v6h-6zM272 971h6v6h-6zM272 976h6v6h-6zM112 981h6v6h-6zM272 981h6v6h-6zM107 986h6v6h-6zM127 991h6v6h-6zM262 996h6v6h-6zM247 1006h6v6h-6zM127 1011h11v6h-11zM237 1011h6v6h-6zM107 1016h6v6h-6zM137 1016h6v6h-6zM162 1016h6v6h-6zM172 1016h11v6h-11zM222 1016h6v6h-6zM142 1021h6v6h-6z"/><path fill="#39a094" d="M207 951h11v6h-11zM242 951h6v6h-6zM192 956h6v6h-6zM257 956h6v6h-6zM147 966h11v6h-11zM172 966h6v6h-6zM267 966h6v6h-6zM117 981h6v6h-6zM122 986h6v6h-6zM132 986h6v6h-6zM267 986h6v6h-6zM262 991h6v6h-6zM127 996h6v6h-6zM127 1001h6v6h-6zM252 1001h6v6h-6zM127 1006h11v6h-11zM167 1011h6v6h-6zM232 1011h6v6h-6zM122 1016h6v6h-6zM182 1016h16v6h-16zM207 1016h16v6h-16zM112 1021h11v6h-11zM147 1021h11v6h-11z"/><path fill="#41a695" d="M217 951h26v6h-26zM252 956h6v6h-6zM182 961h6v6h-6zM262 961h6v6h-6zM157 971h16v6h-16zM267 971h6v6h-6zM137 976h6v6h-6zM267 976h6v6h-6zM267 981h6v6h-6zM107 991h6v6h-6zM132 991h6v6h-6zM132 996h6v6h-6zM257 996h6v6h-6zM132 1001h6v6h-6zM242 1006h6v6h-6zM107 1011h6v6h-6zM122 1011h6v6h-6zM162 1011h6v6h-6zM172 1011h11v6h-11zM227 1011h6v6h-6zM157 1016h6v6h-6zM197 1016h11v6h-11z"/><path fill="#4aac97" d="M197 956h6v6h-6zM187 961h6v6h-6zM257 961h6v6h-6zM177 966h6v6h-6zM262 966h6v6h-6zM142 971h6v6h-6zM112 986h11v6h-11zM262 986h6v6h-6zM122 991h6v6h-6zM107 996h6v6h-6zM247 1001h6v6h-6zM107 1006h6v6h-6zM167 1006h6v6h-6zM237 1006h6v6h-6zM137 1011h6v6h-6zM182 1011h6v6h-6zM222 1011h6v6h-6zM117 1016h6v6h-6zM142 1016h6v6h-6z"/><path fill="#52b198" d="M202 956h6v6h-6zM247 956h6v6h-6zM152 971h6v6h-6zM172 971h6v6h-6zM262 971h6v6h-6zM162 976h11v6h-11zM137 981h6v6h-6zM262 981h6v6h-6zM257 991h6v6h-6zM122 996h6v6h-6zM252 996h6v6h-6zM107 1001h6v6h-6zM122 1001h6v6h-6zM122 1006h6v6h-6zM162 1006h6v6h-6zM172 1006h6v6h-6zM232 1006h6v6h-6zM157 1011h6v6h-6zM187 1011h11v6h-11zM212 1011h11v6h-11zM112 1016h6v6h-6zM152 1016h6v6h-6z"/><path fill="#5bb69a" d="M207 956h6v6h-6zM242 956h6v6h-6zM192 961h6v6h-6zM252 961h6v6h-6zM182 966h6v6h-6zM147 971h6v6h-6zM157 976h6v6h-6zM262 976h6v6h-6zM117 991h6v6h-6zM167 1001h6v6h-6zM242 1001h6v6h-6zM137 1006h6v6h-6zM177 1006h6v6h-6zM197 1011h16v6h-16zM147 1016h6v6h-6z"/><path fill="#64bc9b" d="M212 956h11v6h-11zM232 956h11v6h-11zM257 966h6v6h-6zM177 971h6v6h-6zM142 976h6v6h-6zM172 976h6v6h-6zM162 981h11v6h-11zM137 986h6v6h-6zM257 986h6v6h-6zM112 991h6v6h-6zM252 991h6v6h-6zM167 996h6v6h-6zM247 996h6v6h-6zM137 1001h6v6h-6zM162 1001h6v6h-6zM172 1001h6v6h-6zM237 1001h6v6h-6zM157 1006h6v6h-6zM182 1006h6v6h-6zM227 1006h6v6h-6zM112 1011h11v6h-11zM142 1011h6v6h-6z"/><path fill="#6cc19c" d="M222 956h11v6h-11zM197 961h6v6h-6zM247 961h6v6h-6zM187 966h6v6h-6zM257 971h6v6h-6zM152 976h6v6h-6zM257 976h6v6h-6zM157 981h6v6h-6zM257 981h6v6h-6zM162 986h11v6h-11zM137 991h6v6h-6zM162 991h11v6h-11zM112 996h11v6h-11zM137 996h6v6h-6zM162 996h6v6h-6zM177 1001h6v6h-6zM112 1006h11v6h-11zM187 1006h6v6h-6zM222 1006h6v6h-6zM152 1011h6v6h-6z"/><path fill="#73c49c" d="M202 961h6v6h-6zM252 966h6v6h-6zM182 971h6v6h-6zM147 976h6v6h-6zM177 976h6v6h-6zM172 981h6v6h-6zM252 986h6v6h-6zM172 996h6v6h-6zM242 996h6v6h-6zM112 1001h11v6h-11zM157 1001h6v6h-6zM232 1001h6v6h-6zM192 1006h6v6h-6zM212 1006h11v6h-11zM147 1011h6v6h-6z"/><path fill="#7bc89d" d="M242 961h6v6h-6zM192 966h6v6h-6zM142 981h6v6h-6zM157 986h6v6h-6zM172 986h6v6h-6zM172 991h6v6h-6zM247 991h6v6h-6zM157 996h6v6h-6zM177 996h6v6h-6zM182 1001h6v6h-6zM142 1006h6v6h-6zM197 1006h16v6h-16z"/><path fill="#82cb9e" d="M207 961h6v6h-6zM237 961h6v6h-6zM247 966h6v6h-6zM252 971h6v6h-6zM252 976h6v6h-6zM152 981h6v6h-6zM177 981h6v6h-6zM252 981h6v6h-6zM157 991h6v6h-6zM237 996h6v6h-6zM187 1001h6v6h-6zM227 1001h6v6h-6zM152 1006h6v6h-6z"/><path fill="#89ce9e" d="M212 961h6v6h-6zM232 961h6v6h-6zM197 966h6v6h-6zM187 971h6v6h-6zM182 976h6v6h-6zM147 981h6v6h-6zM142 986h6v6h-6zM177 986h6v6h-6zM247 986h6v6h-6zM177 991h6v6h-6zM242 991h6v6h-6zM142 1001h6v6h-6zM222 1001h6v6h-6zM147 1006h6v6h-6z"/><path fill="#91d29e" d="M217 961h16v6h-16zM242 966h6v6h-6zM152 986h6v6h-6zM142 991h6v6h-6zM142 996h6v6h-6zM182 996h6v6h-6zM152 1001h6v6h-6zM192 1001h6v6h-6zM217 1001h6v6h-6z"/><path fill="#98d59f" d="M202 966h6v6h-6zM192 971h6v6h-6zM247 971h6v6h-6zM182 981h6v6h-6zM247 981h6v6h-6zM152 991h6v6h-6zM182 991h6v6h-6zM152 996h6v6h-6zM232 996h6v6h-6zM197 1001h21v6h-21z"/><path fill="#a0d8a0" d="M237 966h6v6h-6zM187 976h6v6h-6zM247 976h6v6h-6zM147 986h6v6h-6zM182 986h6v6h-6zM242 986h6v6h-6zM237 991h6v6h-6zM187 996h6v6h-6zM147 1001h6v6h-6z"/><path fill="#a7dba1" d="M207 966h6v6h-6zM242 971h6v6h-6zM147 991h6v6h-6zM147 996h6v6h-6zM192 996h6v6h-6zM227 996h6v6h-6z"/><path fill="#afdea2" d="M212 966h6v6h-6zM232 966h6v6h-6zM197 971h6v6h-6zM187 981h6v6h-6zM242 981h6v6h-6zM187 991h6v6h-6zM222 996h6v6h-6z"/><path fill="#b7e2a4" d="M217 966h16v6h-16zM192 976h6v6h-6zM242 976h6v6h-6zM187 986h6v6h-6zM232 991h6v6h-6zM197 996h6v6h-6zM217 996h6v6h-6z"/><path fill="#bee5a5" d="M202 971h6v6h-6zM237 971h6v6h-6zM237 986h6v6h-6zM192 991h6v6h-6zM202 996h16v6h-16z"/><path fill="#c6e8a6" d="M192 981h6v6h-6zM237 981h6v6h-6zM227 991h6v6h-6z"/><path fill="#ceeba8" d="M207 971h6v6h-6zM232 971h6v6h-6zM197 976h6v6h-6zM237 976h6v6h-6zM192 986h6v6h-6zM232 986h6v6h-6zM197 991h6v6h-6z"/><path fill="#d6eea9" d="M212 971h6v6h-6zM227 971h6v6h-6zM222 991h6v6h-6z"/><path fill="#def1aa" d="M217 971h11v6h-11zM202 976h6v6h-6zM232 976h6v6h-6zM197 981h6v6h-6zM232 981h6v6h-6zM197 986h6v6h-6zM202 991h6v6h-6zM217 991h6v6h-6z"/><path fill="#e6f4ac" d="M227 986h6v6h-6zM207 991h11v6h-11z"/><path fill="#edf6ac" d="M207 976h6v6h-6zM227 976h6v6h-6zM202 981h6v6h-6zM202 986h6v6h-6z"/><path fill="#f4f9ab" d="M212 976h16v6h-16zM207 981h26v6h-26zM207 986h21v6h-21z"/></g></g><path d="M96.2 969.5h0M135.5 947.2h0M93.5 982.8h0M241.2 1049.8h0M241.3 1049.0h0M173.9 1059.3h0M225.9 1048.9h0M186.4 1054.7h0M242.2 1048.6h0M132.5 947.7h0M294.2 1020.9h0M96.2 1042.8h0M186.4 1055.3h0M226.0 1049.3h0M161.3 1059.6h0M94.4 1040.8h0M121.8 950.9h0M98.0 969.7h0M92.4 983.7h0M93.0 1031.1h0M93.9 979.7h0M94.6 980.1h0M243.0 1048.1h0M141.0 945.3h0M97.4 968.4h0M288.5 1024.0h0M122.7 950.1h0M292.9 930.8h0M172.0 1059.8h0M92.7 1038.9h0M179.3 1055.3h0M128.0 948.8h0M186.9 1055.0h0M291.5 1022.4h0M176.7 1056.0h0M187.0 925.9h0M231.2 1048.7h0M91.6 1034.2h0M260.4 1042.8h0M246.9 1046.8h0M175.2 1057.0h0M294.2 1016.1h0M291.7 936.9h0M132.3 945.4h0M220.6 1050.3h0M98.7 966.5h0M288.7 1024.0h0M292.5 1022.0h0M242.4 1049.3h0M175.0 1059.8h0M186.9 926.7h0M177.8 1058.0h0M174.6 1058.8h0M185.7 930.5h0M284.2 1026.2h0M111.0 956.4h0M293.2 934.6h0M130.3 949.0h0M134.8 946.3h0M92.9 1029.1h0M183.5 1056.2h0M292.4 1019.8h0M174.0 1059.6h0M186.7 1054.6h0M93.2 980.2h0M92.7 983.3h0M139.9 945.4h0M124.6 948.8h0M162.3 1060.0h0M148.7 1060.0h0M251.1 1045.0h0M229.5 1048.6h0M187.1 1055.3h0M242.0 1048.6h0M292.9 937.5h0M286.7 1022.7h0M103.5 1045.2h0M238.7 1047.9h0M257.1 1039.3h0M149.1 1057.1h0M108.5 960.2h0M289.6 1019.4h0M151.0 1059.8h0M287.1 928.3h0M128.3 1057.2h0M162.8 1060.4h0M260.7 1038.6h0M120.0 950.6h0M168.3 1059.6h0M133.0 947.3h0M271.0 1032.1h0M285.5 927.6h0M286.3 1026.2h0M266.1 1037.0h0M96.1 971.8h0M175.1 1059.2h0M278.2 1032.4h0M277.8 1033.6h0M275.7 1033.1h0M290.4 1021.5h0M102.1 964.4h0M111.6 957.3h0M259.3 1042.8h0M117.0 952.3h0M263.7 1035.8h0M113.2 957.4h0M122.4 953.3h0M123.9 952.7h0M271.4 1035.1h0M160.5 1054.8h0M252.0 1045.3h0M191.1 926.6h0M245.0 1043.7h0M262.8 1037.9h0M256.6 1044.2h0M189.6 928.7h0M185.8 1054.7h0M285.4 1025.6h0M139.7 1056.3h0M290.6 930.7h0M103.8 963.4h0M243.8 1044.4h0M145.6 1058.2h0M290.0 935.8h0M110.6 957.8h0M146.9 1055.1h0M283.3 1028.0h0M178.6 1056.8h0M121.9 954.2h0M113.2 957.0h0M240.8 1045.6h0M102.3 963.3h0M148.1 1054.9h0M195.8 924.4h0M122.9 952.2h0M148.1 1055.6h0M175.4 1056.4h0M137.2 945.7h0M157.5 1055.9h0M110.9 958.8h0M291.9 932.9h0M284.5 931.0h0M266.1 1038.2h0M110.5 959.0h0M175.7 1058.9h0M141.6 1056.0h0M125.3 954.4h0M281.3 1029.3h0M244.8 1048.5h0M176.3 1058.5h0M171.1 1057.7h0M145.3 1054.7h0M114.1 956.5h0M260.1 1040.3h0M148.7 1054.3h0M177.8 1055.5h0M134.8 946.3h0M278.0 1029.8h0M105.7 1047.3h0M147.1 1056.5h0M189.3 927.4h0M148.1 1060.0h0M165.5 1055.8h0M165.5 1058.8h0M250.8 1045.5h0M257.1 1042.1h0M246.6 1047.8h0M291.7 930.4h0M131.0 950.0h0M282.4 1027.5h0M132.7 945.9h0M156.2 1054.7h0M113.0 955.0h0M248.8 1047.1h0M285.3 932.5h0M279.0 1027.4h0M153.4 1057.4h0M134.0 1057.2h0M273.7 1032.0h0M125.2 951.9h0M107.4 958.2h0M238.2 1047.4h0M151.1 1057.0h0M148.0 1057.3h0M125.1 950.5h0M98.1 972.2h0M142.0 1056.4h0M171.7 1054.7h0M103.7 1046.0h0M126.6 949.9h0M251.7 1041.2h0M161.9 1055.9h0M132.3 948.6h0M125.4 953.8h0M188.3 928.6h0M100.2 966.5h0M160.7 1058.8h0M140.9 1058.4h0M278.8 1031.1h0M242.8 1044.5h0M196.7 927.9h0M120.3 1055.9h0M284.9 929.1h0M259.6 1038.7h0M99.5 970.9h0M123.2 954.2h0M291.7 936.7h0M245.8 1046.3h0M192.4 928.9h0M286.5 1024.3h0M258.3 1039.1h0M144.1 1059.3h0M289.6 930.9h0M180.1 1054.7h0M168.7 1059.8h0M151.9 1060.2h0M284.7 1024.0h0M286.8 1026.4h0M156.7 1055.6h0M125.8 952.8h0M292.6 934.3h0M156.6 1054.7h0M153.6 1058.8h0M143.9 1056.5h0M275.0 1031.6h0M289.0 930.4h0M170.6 1055.5h0M168.2 1055.1h0M286.0 930.4h0M164.8 1059.2h0M188.2 1054.8h0M265.7 1037.5h0M168.8 1056.0h0M290.3 1020.5h0M277.7 1030.8h0M288.9 931.2h0M112.2 955.4h0M101.9 963.6h0M197.9 925.1h0M149.6 1059.2h0M293.9 932.5h0M131.6 1056.0h0M143.3 1055.6h0M135.5 1056.8h0M271.1 1033.8h0M292.6 935.6h0M164.7 1055.7h0M192.0 929.3h0M287.9 1025.8h0M290.0 931.9h0M105.0 1049.8h0M284.7 1026.4h0M250.4 1044.5h0M279.8 1032.1h0M286.4 933.4h0M135.0 1055.9h0M282.8 1026.2h0M251.1 1041.0h0M163.6 1056.8h0M250.5 1041.6h0M138.2 1056.3h0M105.9 962.0h0M165.2 1057.4h0M161.4 1057.6h0M169.8 1056.2h0M97.5 972.7h0M101.1 968.1h0M196.2 925.8h0M145.6 1057.5h0M112.5 956.9h0M261.3 1037.4h0M188.7 925.8h0M118.7 1056.0h0M160.3 1058.4h0M280.5 1032.0h0M150.1 1058.2h0M151.0 1059.3h0M115.2 956.2h0M100.7 965.9h0M105.6 1048.5h0M157.1 1058.9h0M197.7 924.8h0M124.5 954.4h0M192.2 928.9h0M264.8 1035.5h0M101.0 967.9h0M99.0 971.2h0M282.5 1029.6h0M275.6 1034.2h0M97.9 971.8h0M172.6 1058.1h0M105.8 1052.1h0M103.5 962.5h0M168.1 1056.8h0M102.5 1048.3h0M249.6 1046.3h0M161.5 1059.0h0M284.2 930.9h0M114.3 956.3h0M114.3 1055.3h0M102.5 961.9h0M145.1 1059.6h0M167.2 1056.7h0M188.3 926.6h0M162.9 1058.6h0M279.4 1028.1h0M135.7 1057.9h0M270.5 1032.3h0M165.3 1057.5h0M259.7 1039.5h0M176.0 1056.7h0M285.5 1026.0h0M103.2 1050.1h0M150.0 1056.0h0M188.5 929.3h0M114.2 954.3h0M141.4 1056.5h0M262.9 1041.6h0M163.8 1054.8h0M118.3 954.6h0M282.9 1029.6h0M188.2 927.3h0M272.7 1032.4h0M192.8 925.9h0M146.9 1056.7h0M285.5 1023.7h0M105.0 962.0h0M167.0 1055.5h0M275.4 1035.0h0M151.6 1057.5h0M102.5 1047.4h0M284.3 1028.8h0M118.1 1056.8h0M287.4 1028.1h0M277.7 1034.1h0M105.3 1048.0h0M137.2 945.5h0M166.0 1056.4h0M260.5 1040.8h0M141.1 1058.2h0M104.8 1050.8h0" stroke="#225d82" stroke-width="4.3" stroke-linecap="round" fill="none"/><path d="M262.4 1042.5h0M114.0 1061.9h0M135.6 1063.6h0M146.3 1064.7h0M109.1 952.8h0M149.7 1061.3h0M134.9 1063.9h0M146.9 1064.3h0M108.3 952.3h0M99.1 961.7h0M156.8 1062.0h0M162.8 1061.8h0M99.1 962.7h0M135.8 1064.0h0M114.5 949.6h0M294.3 930.3h0M105.3 957.0h0M99.3 1057.6h0M187.3 923.0h0M122.7 1062.8h0M289.8 1029.8h0M119.7 1063.4h0M128.5 946.1h0M281.1 1035.4h0M280.2 1036.2h0M130.3 1064.9h0M290.5 928.1h0M269.7 1039.7h0M99.0 1051.5h0M276.6 1039.9h0M256.1 1047.9h0M187.8 923.6h0M101.1 961.3h0M149.8 1061.5h0M110.3 951.3h0M283.8 1033.2h0M111.8 950.9h0M267.1 1042.2h0M151.6 1063.0h0M290.0 925.0h0M150.8 1062.2h0M134.9 1063.4h0M97.7 1051.5h0M127.6 946.0h0M154.0 1063.0h0M121.2 1064.1h0M104.3 959.0h0M278.5 1035.7h0M140.4 1062.3h0M145.7 1065.1h0M149.8 1062.6h0M159.0 1060.9h0M108.2 953.6h0M122.1 1064.8h0M283.4 1035.6h0M98.5 1052.8h0M142.0 1062.8h0M101.3 962.4h0M119.3 949.5h0M115.6 951.6h0M264.9 1043.2h0M262.8 1044.0h0M146.6 1063.9h0M147.4 1060.0h0M120.0 1060.0h0M119.7 1063.8h0M121.0 1060.0h0M121.2 1063.6h0M137.2 1064.0h0M123.9 1060.0h0M123.9 1064.2h0M121.7 1063.9h0M135.8 1060.0h0M114.9 1060.0h0M129.9 1064.0h0M107.8 1060.0h0M124.0 948.0h0M115.4 948.6h0M273.5 1041.7h0M225.1 916.2h0M221.7 914.6h0M278.0 1036.1h0M271.1 1039.3h0M256.5 918.1h0M223.4 917.0h0M99.9 1055.7h0M147.4 1062.4h0M132.4 1062.7h0M134.0 1063.4h0M102.7 1054.6h0M131.1 944.8h0M286.5 921.7h0M279.0 918.9h0M282.3 922.2h0M111.9 1056.0h0M243.0 915.1h0M286.2 921.9h0M110.9 1061.5h0M136.7 1061.7h0M259.8 917.4h0M276.2 1036.2h0M114.6 1061.0h0M282.2 920.3h0M239.9 913.4h0M259.6 1045.7h0M285.6 1031.2h0M108.0 1054.6h0M199.0 920.5h0M124.9 947.9h0M168.1 1060.9h0M108.4 1058.9h0M212.1 917.5h0M125.3 1061.1h0M251.2 913.8h0M216.8 916.8h0M258.1 1047.3h0M127.5 1057.8h0M242.3 915.1h0M112.9 1063.5h0M193.9 922.7h0M126.5 947.6h0M283.2 919.6h0M125.0 1058.1h0M252.9 1046.6h0M169.9 1061.7h0M279.4 1034.1h0M214.3 914.6h0M110.5 953.9h0M116.7 1061.6h0M277.3 917.8h0M136.8 1061.3h0M114.7 1061.2h0M109.2 1061.7h0M140.2 1063.0h0M130.0 1060.8h0M118.6 1057.6h0M252.5 1046.4h0M287.2 928.1h0M276.5 1035.1h0M108.3 1055.4h0M152.2 1062.6h0M157.0 1062.2h0M234.8 915.4h0M281.1 920.7h0M107.2 1060.3h0M108.7 1055.4h0M130.6 1060.5h0M103.8 1057.2h0M152.1 1062.3h0M102.8 1055.3h0M110.0 1058.6h0M218.8 915.1h0M270.2 1039.3h0M110.2 1055.5h0M255.4 1048.2h0M108.4 1054.6h0M105.9 1052.8h0M226.6 915.3h0M265.5 1044.1h0M226.0 916.5h0M102.5 957.9h0M219.2 916.3h0M255.7 1046.1h0M143.7 1060.4h0M256.1 1047.9h0M124.6 1061.2h0M279.0 919.0h0M200.8 916.5h0M252.5 913.9h0M219.3 918.0h0M248.3 915.4h0M228.9 915.1h0M216.1 917.3h0M103.3 1052.3h0M109.1 952.7h0M141.7 1062.8h0M154.0 1060.5h0M130.3 945.0h0M280.9 1034.5h0M254.4 1045.3h0M236.4 913.2h0M278.6 917.8h0M132.7 1061.5h0M105.0 1053.6h0M280.0 1038.1h0M193.9 922.0h0M194.9 918.1h0M102.3 1050.3h0M160.4 1063.2h0M247.0 915.3h0M143.3 1060.7h0M244.4 914.2h0M224.8 914.1h0M133.5 1060.2h0M275.8 1040.5h0M139.1 1062.8h0M261.0 915.1h0M102.8 959.0h0M283.6 920.4h0M135.9 1059.9h0M114.7 1056.6h0M221.2 914.6h0M136.0 1062.7h0M105.4 1054.5h0M280.2 923.1h0M111.1 953.2h0M246.4 916.5h0M264.7 1042.2h0M218.7 917.8h0M208.3 915.1h0M198.6 920.5h0M260.3 914.7h0M260.7 1043.3h0M214.8 915.1h0M112.5 1056.2h0M243.2 915.3h0M196.1 923.1h0M287.2 927.2h0M264.4 1042.1h0M124.4 1061.3h0M194.8 919.5h0M146.0 1060.0h0M136.0 1058.5h0M290.3 921.9h0M102.1 1049.9h0M244.3 913.5h0M283.8 1037.7h0M255.3 1047.3h0M222.9 916.3h0M263.2 915.9h0M199.4 920.9h0M111.6 1058.9h0M200.3 921.6h0M114.8 949.0h0M204.7 917.4h0M138.8 1065.1h0M122.1 1057.8h0M121.8 1062.1h0M237.6 914.6h0M107.0 1054.4h0M121.9 1062.7h0M122.2 1061.5h0M240.4 915.7h0M199.3 920.9h0M198.1 921.1h0M264.1 1042.5h0M136.2 1058.2h0M196.6 920.0h0M280.7 1039.1h0M198.5 917.3h0M274.6 1037.7h0M221.6 917.0h0M161.7 1062.9h0M256.2 916.8h0M245.1 914.7h0M130.7 1061.3h0M286.0 1029.5h0M96.6 968.4h0M193.6 918.3h0M206.4 916.3h0M204.7 915.9h0M283.2 1031.6h0M285.6 925.1h0M109.5 952.9h0M194.7 923.5h0M106.6 1056.4h0M138.6 1064.1h0M242.7 916.1h0M104.9 1052.1h0M127.0 1063.3h0M111.6 1058.9h0M119.2 1064.3h0M216.5 916.3h0M219.7 915.2h0M121.3 1059.6h0M150.8 1060.7h0M254.8 915.9h0M107.6 956.0h0M202.2 917.0h0M278.0 1040.2h0M293.2 928.2h0M125.6 1059.6h0M275.1 917.0h0M286.3 921.2h0M190.2 921.8h0M125.3 1064.1h0M224.2 917.3h0M260.3 917.7h0M226.2 915.9h0M124.4 1058.8h0M230.7 914.0h0M281.5 921.0h0M278.6 919.4h0M217.7 915.7h0M114.1 1059.5h0M268.8 1040.0h0M107.6 1056.1h0M124.9 1057.9h0M278.2 918.7h0M124.3 1059.6h0M252.8 913.9h0M144.6 1066.1h0M214.3 915.4h0M222.3 914.6h0M206.7 915.9h0M121.4 1062.8h0M106.2 1061.2h0M135.6 1060.2h0M268.7 916.5h0M266.8 915.9h0M257.2 1044.2h0M103.0 1051.0h0M141.7 1060.7h0M275.5 1041.6h0M166.5 1060.7h0M99.9 961.2h0M196.7 917.2h0M232.8 915.0h0M235.5 913.9h0M100.1 1058.1h0M124.0 1057.4h0M267.4 916.5h0M284.2 926.1h0M262.9 1042.0h0M129.3 946.4h0M235.5 913.7h0M191.5 922.4h0M278.1 1034.8h0M122.5 1062.6h0M119.3 1063.8h0M108.9 953.6h0M270.7 916.1h0M253.7 917.5h0M122.3 947.8h0M226.2 915.0h0M259.4 1043.4h0M124.6 1064.6h0M265.3 1041.5h0M246.9 915.3h0M220.5 916.4h0M200.7 919.7h0M278.9 1034.4h0M284.4 1037.3h0M168.1 1062.0h0M125.2 1057.9h0M284.8 919.6h0M280.0 922.3h0M253.3 917.4h0M270.7 916.9h0" stroke="#265982" stroke-width="4.3" stroke-linecap="round" fill="none"/><path d="M185.2 929.7h0M231.3 904.8h0M188.4 917.4h0M93.0 1009.0h0M185.8 923.3h0M93.3 974.0h0M284.4 1042.5h0M182.5 937.9h0M220.9 907.2h0M92.9 1012.7h0M138.8 1067.8h0M279.5 1041.9h0M285.6 1036.6h0M259.9 901.6h0M94.4 1046.0h0M215.5 1054.2h0M222.7 905.6h0M215.8 1052.3h0M297.0 960.7h0M271.0 905.5h0M154.7 1063.8h0M296.2 957.1h0M174.0 1062.8h0M95.1 957.1h0M258.1 1049.0h0M182.2 938.8h0M294.7 1015.6h0M240.1 1051.3h0M298.0 953.6h0M142.7 942.6h0M92.9 1050.5h0M257.4 906.1h0M227.9 903.6h0M101.6 1064.9h0M181.4 938.4h0M173.1 947.8h0M197.3 909.1h0M235.8 1051.9h0M92.9 969.8h0M92.4 1056.3h0M112.5 1069.8h0M136.5 1066.4h0M148.0 943.3h0M269.6 1042.7h0M114.6 1069.4h0M297.5 971.2h0M212.7 1053.7h0M244.9 904.5h0M239.1 1050.3h0M103.3 954.3h0M110.3 949.6h0M185.3 1057.4h0M113.5 1066.9h0M166.8 943.4h0M178.7 1062.4h0M183.6 933.3h0M294.7 942.1h0M155.9 944.5h0M198.6 908.8h0M257.5 904.6h0M92.7 1044.8h0M182.9 1060.4h0M107.5 946.6h0M300.7 980.4h0M128.4 944.1h0M94.7 967.7h0M271.8 905.6h0M295.8 943.2h0M270.6 1045.5h0M294.9 933.0h0M173.2 945.3h0M182.3 1059.4h0M299.1 957.0h0M281.8 1041.1h0M284.8 1042.9h0M269.0 906.3h0M298.8 948.3h0M270.1 904.9h0M260.3 1047.1h0M270.4 1043.9h0M271.9 1044.6h0M93.5 1043.1h0M162.6 1064.9h0M173.8 945.9h0M303.4 956.3h0M110.2 949.6h0M288.9 1037.9h0M188.5 1058.9h0M159.3 947.4h0M273.6 906.3h0M294.6 941.2h0M184.3 920.4h0M247.0 904.7h0M274.4 905.6h0M194.8 908.9h0M203.1 1051.7h0M290.8 1028.7h0M254.7 903.1h0M136.0 1064.6h0M222.3 906.6h0M232.9 1052.7h0M98.0 960.2h0M92.2 980.6h0M297.4 996.0h0M126.2 1069.7h0M297.9 935.4h0M277.3 1043.1h0M276.7 906.4h0M248.5 1049.8h0M104.3 952.4h0M108.4 1067.5h0M232.8 1050.7h0M140.8 943.3h0M151.2 942.5h0M174.9 939.7h0M114.8 1066.0h0M259.7 905.2h0M240.7 1051.6h0M286.4 1033.7h0M193.2 1054.0h0M288.4 1032.1h0M153.9 1067.6h0M186.2 1057.3h0M164.5 947.7h0M290.0 1029.8h0M286.3 1032.0h0M102.9 1064.5h0M107.2 951.8h0M208.7 906.4h0M103.0 953.1h0M148.8 1064.0h0M187.7 920.2h0M216.7 1050.1h0M295.3 955.0h0M231.1 1050.4h0M297.3 1003.8h0M295.2 939.1h0M206.7 904.7h0M183.6 934.4h0M188.7 915.3h0M93.3 1057.4h0M257.9 906.7h0M151.2 946.0h0M171.3 945.4h0M114.9 1066.5h0M96.8 959.7h0M97.0 1063.3h0M181.1 927.7h0M231.1 904.4h0M223.7 904.3h0M287.5 1031.0h0M158.7 945.0h0M161.1 944.8h0M197.7 1052.2h0M285.7 1033.0h0M146.2 1066.5h0M275.6 1046.2h0M103.3 955.1h0M270.0 902.9h0M171.8 946.6h0M247.2 904.0h0M123.4 945.3h0M213.9 907.1h0M95.1 1064.5h0M91.6 973.5h0M131.9 942.3h0M286.1 1033.5h0M297.0 936.2h0M295.8 996.2h0M296.7 936.9h0M273.0 1043.3h0M297.4 969.0h0M294.8 941.9h0M218.8 906.2h0M150.2 1068.3h0M247.9 906.1h0M107.6 949.3h0M185.4 922.1h0M147.6 1067.0h0M300.3 977.3h0M296.7 969.2h0M182.2 938.3h0M298.2 977.3h0M177.0 945.1h0M276.4 1043.0h0M93.9 1010.4h0M295.1 1009.6h0M285.8 1031.7h0M296.9 971.1h0M252.8 1047.5h0M280.0 908.1h0M261.3 903.9h0M293.6 1013.8h0M182.9 932.0h0M160.2 947.3h0M121.5 944.1h0M291.8 923.6h0M271.8 1044.0h0M296.0 954.8h0M227.9 1050.8h0M185.5 1061.6h0M296.2 1004.2h0M296.4 1004.6h0M133.8 940.6h0M220.9 1050.8h0M300.2 961.4h0M112.4 948.8h0M174.2 948.1h0M248.2 1048.1h0M239.7 904.5h0M123.9 944.8h0M176.0 947.0h0M238.6 1052.7h0M172.7 945.4h0M149.5 1067.9h0M178.7 938.7h0M198.3 906.6h0M231.0 905.6h0M296.6 968.3h0M92.0 984.9h0M185.1 1056.6h0M146.8 1065.7h0M203.0 1052.6h0M184.3 929.5h0M91.6 1033.3h0M96.6 964.3h0M235.9 1049.9h0M261.8 1048.5h0M94.3 976.1h0M157.0 943.6h0M297.9 932.3h0M286.0 1032.6h0M171.9 946.2h0M208.6 1053.4h0M111.5 948.3h0M121.5 943.3h0M116.1 1065.9h0M279.7 909.0h0M226.5 1053.0h0M181.3 934.7h0M292.1 918.0h0M292.3 1028.1h0M294.3 921.2h0M154.9 1066.5h0M296.6 982.8h0M167.9 1065.2h0M167.8 1070.3h0M146.5 1071.6h0M147.0 1075.5h0M147.1 1087.1h0M146.5 1091.0h0M146.7 1094.9h0M102.7 1067.5h0M103.1 1078.8h0M102.5 1082.6h0M103.1 1086.4h0M147.1 1067.7h0M147.4 1071.6h0M147.3 1079.3h0M147.1 1083.1h0M147.2 1090.9h0M120.0 1067.5h0M119.4 1075.1h0M119.6 1078.8h0M119.4 1093.9h0M162.6 1063.7h0M161.9 1067.5h0M162.2 1075.0h0M162.4 1082.4h0M161.9 1086.2h0M162.1 1089.9h0M162.2 1093.7h0M162.4 1097.4h0M148.6 1075.6h0M148.4 1079.5h0M148.2 1083.4h0M148.9 1087.3h0M120.8 1070.9h0M121.5 1074.6h0M121.4 1081.9h0M121.0 1085.5h0M120.8 1092.8h0M121.4 1096.5h0M137.2 1068.0h0M137.1 1072.0h0M137.0 1080.0h0M137.2 1084.0h0M123.6 1068.4h0M121.4 1067.8h0M122.1 1071.7h0M122.1 1075.6h0M122.0 1079.5h0M121.8 1083.4h0M121.9 1087.3h0M136.0 1067.9h0M136.4 1071.9h0M136.1 1075.8h0M136.1 1079.8h0M136.1 1083.8h0M136.0 1087.7h0M136.4 1091.7h0M115.2 1067.5h0M115.0 1075.0h0M115.0 1078.7h0M115.3 1082.5h0M115.3 1086.2h0M115.1 1090.0h0M115.4 1097.5h0M129.6 1068.0h0M130.0 1075.9h0M130.0 1079.9h0M130.1 1083.9h0M130.1 1067.6h0M129.7 1071.3h0M130.2 1075.1h0M108.3 1070.9h0M108.0 1074.6h0M108.3 1078.2h0M108.2 1085.5h0M108.3 1089.1h0M273.8 1045.0h0M274.0 1053.0h0M273.6 1057.0h0M274.0 1061.0h0M274.0 1065.0h0M274.0 1069.1h0M273.6 1077.1h0M207.1 1056.1h0M207.5 1059.9h0M207.1 1063.6h0M265.4 1045.0h0M265.4 1048.7h0M265.1 1052.5h0M265.2 1056.2h0M265.2 1060.0h0M265.1 1063.7h0M265.5 1067.4h0M264.8 1071.2h0M275.8 1045.0h0M276.2 1048.8h0M275.5 1052.7h0M275.5 1056.5h0M275.9 1060.3h0M275.6 1068.0h0M276.1 1071.8h0M275.5 1075.6h0M276.2 1079.4h0M275.4 1045.0h0M275.5 1048.9h0M275.5 1056.7h0M275.4 1060.5h0M275.2 1064.4h0M251.2 1048.7h0M251.2 1056.2h0M250.7 1067.3h0M196.9 1052.6h0M196.7 1056.4h0M196.9 1064.0h0M196.5 1071.6h0M196.6 1082.9h0M199.9 1054.6h0M249.4 1057.0h0M249.5 1061.0h0M249.8 1069.1h0M229.7 1052.3h0M230.0 1055.9h0M230.0 1059.5h0M229.4 1063.2h0M230.1 1066.8h0M229.4 1070.4h0M230.1 1074.0h0M229.4 1077.7h0M229.4 1081.3h0M254.6 1049.0h0M254.6 1052.9h0M254.7 1056.9h0M254.2 1064.8h0M236.1 1056.2h0M235.8 1063.6h0M235.7 1067.4h0M236.1 1071.1h0M235.6 1074.8h0M282.9 1045.0h0M282.9 1053.5h0M282.4 1057.7h0M284.5 1048.7h0M285.0 1052.4h0M267.0 1045.0h0M266.9 1056.6h0M267.1 1060.5h0M156.2 938.8h0M156.2 943.4h0M158.5 939.1h0M157.9 943.6h0M158.5 948.0h0M147.5 929.4h0M113.3 915.2h0M113.2 918.8h0M112.7 922.5h0M113.1 926.1h0M113.3 929.8h0M113.0 933.4h0M112.8 940.7h0M112.7 944.4h0M113.3 948.0h0M124.5 923.4h0M124.4 927.5h0M124.5 931.6h0M124.2 935.7h0M124.2 939.8h0M124.3 943.9h0M113.3 921.4h0M113.7 925.2h0M113.8 932.8h0M113.4 936.6h0M113.5 940.4h0M113.6 944.2h0M113.2 948.0h0M125.2 926.0h0M125.1 929.7h0M125.2 933.3h0M125.3 937.0h0M125.5 940.7h0M125.1 944.3h0M160.9 939.5h0M161.2 943.8h0M161.1 948.0h0M192.1 908.4h0M267.2 904.4h0M192.9 910.0h0M315.3 983.7h0M315.6 991.2h0M315.9 994.9h0M316.0 998.7h0M316.0 1002.4h0M315.3 1006.1h0M315.9 1009.9h0M315.3 1013.6h0M317.4 980.0h0M317.3 983.8h0M317.8 987.6h0M317.9 991.4h0M317.2 995.2h0M317.0 978.1h0M316.8 980.0h0M309.3 984.2h0M309.2 988.4h0M309.2 992.6h0M309.5 996.8h0M299.0 980.0h0M299.2 984.6h0M316.3 965.2h0M315.6 968.9h0M316.1 972.6h0M315.6 976.3h0M316.2 980.0h0M317.7 980.0h0M306.1 980.0h0M305.7 983.8h0M306.4 991.5h0M305.7 995.3h0M306.0 999.1h0M306.3 1003.0h0M305.8 1006.8h0M306.2 1010.6h0M306.1 1014.4h0M305.9 1018.3h0M306.1 1022.1h0M305.7 1025.9h0M103.0 953.4h0M123.6 938.0h0M127.3 933.3h0M143.9 938.4h0M129.1 937.2h0M109.5 945.2h0M147.2 923.0h0M136.5 936.7h0M139.5 924.8h0M138.9 939.0h0M161.2 930.4h0M141.5 929.0h0M136.8 924.8h0M130.1 937.5h0M138.3 936.4h0M100.9 957.2h0M130.4 929.1h0M167.7 931.8h0M162.3 919.4h0M121.4 942.8h0M159.0 932.6h0M114.4 945.6h0M163.4 934.3h0M159.6 945.2h0M154.4 918.7h0M159.0 931.7h0M135.5 926.9h0M159.5 939.1h0M149.9 925.0h0M136.1 926.5h0M117.9 930.4h0M152.3 938.2h0M167.5 926.7h0M127.4 931.5h0M125.2 926.0h0M126.1 922.7h0M156.2 926.7h0M154.1 920.8h0M162.8 921.5h0M134.8 941.0h0M150.6 933.0h0M159.3 938.1h0M113.4 940.1h0M150.7 934.5h0M246.8 903.1h0M246.8 902.9h0M280.7 908.0h0M229.5 903.7h0M240.5 904.2h0M216.5 904.8h0M264.8 904.3h0M260.3 906.5h0M246.5 906.2h0M214.3 905.4h0M225.5 902.2h0M214.4 905.6h0M218.4 904.0h0M220.4 903.0h0M250.2 905.5h0M256.0 905.4h0M225.3 903.8h0M277.7 902.2h0M258.3 903.1h0M273.0 903.4h0M231.0 905.6h0M219.9 903.2h0M231.3 905.9h0M214.1 904.7h0M218.7 905.6h0M201.2 905.8h0M199.5 907.0h0M262.7 902.0h0M229.9 904.0h0M229.7 905.4h0M221.3 905.5h0M270.2 904.4h0M256.1 903.5h0M261.6 903.5h0M232.6 904.1h0M279.4 907.3h0M287.0 1045.4h0M244.5 1068.8h0M173.2 1061.1h0M263.5 1059.9h0M138.7 1081.1h0M196.3 1082.4h0M182.8 1087.3h0M227.1 1078.9h0M271.4 1056.2h0M113.2 1094.9h0M261.1 1064.1h0M210.0 1074.9h0M191.3 1074.7h0M246.9 1071.0h0M204.0 1062.8h0M244.8 1050.9h0M245.2 1056.2h0M209.9 1052.5h0M139.6 1099.9h0M185.2 1065.4h0M150.7 1085.9h0M162.2 1064.6h0M273.9 1048.0h0M264.8 1064.4h0M129.5 1071.5h0M119.7 1068.1h0M206.6 1064.5h0M161.8 1065.8h0M166.9 1091.0h0M285.9 1046.0h0M203.2 1055.2h0M245.9 1065.1h0M174.0 1077.8h0M271.0 1052.8h0M189.3 1080.3h0M230.7 1065.0h0M284.8 1042.7h0M109.4 1088.4h0M282.0 1041.0h0M211.1 1080.4h0M210.7 1069.1h0M155.3 1067.5h0M284.6 1043.6h0M163.5 1087.6h0M213.3 1055.2h0M263.2 1047.8h0M234.6 1057.9h0M152.6 1098.4h0M125.2 1092.2h0M255.8 1052.7h0M192.9 1084.8h0M254.3 1061.3h0M216.7 1073.6h0M117.3 1099.1h0M135.4 1070.3h0M236.8 1050.5h0M115.0 1086.3h0M132.0 1098.1h0M270.6 1044.1h0M260.1 1050.0h0M281.1 1039.5h0M252.5 1062.6h0M274.1 1048.0h0M111.2 1090.5h0M186.4 1084.0h0M136.1 1073.1h0M233.5 1050.2h0M280.6 1058.4h0M246.5 1057.6h0M110.6 1089.3h0M114.1 1079.4h0M285.0 1051.3h0M212.5 1058.2h0M291.5 1053.6h0M243.1 1071.9h0M154.8 1088.3h0M219.8 1051.5h0M211.9 1060.5h0M197.6 1082.2h0M211.1 1078.3h0M140.9 1098.1h0M153.1 1086.9h0M147.2 1082.7h0M148.8 1081.0h0M172.5 1071.4h0M143.2 1075.3h0M289.7 1052.9h0M197.5 1080.3h0M180.8 1081.5h0M191.0 1063.8h0M217.9 1064.0h0M108.4 1092.7h0M206.9 1071.9h0M181.6 1078.7h0M208.2 1070.5h0M192.1 1065.1h0M213.4 1065.4h0M195.1 1082.4h0M117.0 1089.3h0M267.6 1052.1h0M209.2 1058.4h0M145.6 1094.5h0M211.0 1057.0h0M277.3 1045.5h0M215.7 1055.1h0M140.9 1076.0h0M158.9 1072.0h0M149.1 1077.3h0M181.0 1064.5h0M183.3 1071.4h0M115.0 1093.4h0M163.5 1082.4h0M196.9 1064.3h0M281.9 1059.1h0M108.4 1091.8h0M226.5 1054.9h0M128.5 1088.4h0M187.2 1066.5h0M305.3 1022.5h0M306.3 969.2h0M305.7 965.4h0M308.2 968.3h0M302.8 959.2h0M300.2 966.8h0M299.6 962.2h0M304.1 986.1h0M306.9 1000.6h0M318.4 1021.2h0M318.6 1025.0h0M303.4 947.8h0M316.9 975.8h0M320.8 972.0h0M315.7 994.6h0M315.7 959.6h0M303.4 972.6h0M298.1 987.8h0M306.6 1006.4h0M299.4 945.6h0M321.5 983.0h0M308.4 1007.0h0M300.1 967.4h0M300.6 976.2h0M314.1 986.2h0M304.4 1020.2h0M308.7 979.8h0M322.4 999.3h0M313.4 1014.1h0M317.2 965.0h0M319.7 981.2h0M304.8 1009.4h0M312.6 1025.2h0M322.0 1026.5h0M304.7 984.9h0M313.6 967.4h0M316.6 1003.4h0M317.4 981.5h0M303.2 942.2h0M309.4 1002.0h0M298.7 947.3h0M311.4 1009.5h0M309.7 1016.7h0M303.1 955.2h0M296.4 970.6h0M300.6 952.9h0" stroke="#2d5083" stroke-width="4.3" stroke-linecap="round" fill="none"/><path d="M264.3 909.2h0M256.6 908.4h0M240.2 912.4h0M232.2 907.7h0M109.2 1065.5h0M265.2 910.0h0M274.3 911.3h0M242.3 906.3h0M217.8 910.9h0M236.8 906.7h0M194.1 911.2h0M229.4 907.6h0M117.0 1065.2h0M283.7 914.2h0M217.3 911.8h0M283.5 913.5h0M195.0 915.8h0M102.8 1062.0h0M108.0 1063.3h0M279.8 912.3h0M287.3 917.9h0M266.6 909.2h0M275.6 912.8h0M208.9 909.3h0M122.4 1066.5h0M266.3 908.8h0M217.3 909.2h0M253.7 909.2h0M191.9 916.4h0M284.7 911.2h0M230.1 908.2h0M213.6 910.0h0M224.2 908.5h0M273.5 907.8h0M284.0 911.7h0M108.2 1063.3h0M260.8 912.4h0M238.5 906.1h0M253.9 905.6h0M96.6 1057.4h0M230.2 908.5h0M241.8 907.1h0M237.2 907.8h0M225.8 906.6h0M224.3 907.8h0M239.0 908.8h0M226.9 907.0h0M272.9 908.9h0M194.4 916.5h0M214.9 909.3h0M102.8 1060.0h0M207.9 908.4h0M263.8 910.0h0M227.4 910.0h0M270.1 910.0h0M267.8 910.0h0M284.8 912.0h0M238.1 906.2h0M253.4 906.2h0M233.8 905.9h0M203.7 914.6h0M271.3 908.0h0M249.2 911.0h0M283.3 915.1h0M277.7 911.6h0M274.6 908.5h0M259.7 909.3h0M273.9 908.9h0M239.9 911.5h0M212.3 911.5h0M270.3 911.5h0M208.4 913.8h0M207.1 913.4h0M226.3 912.6h0M245.7 910.1h0M209.7 912.0h0M200.8 916.0h0M244.0 910.6h0M109.9 1064.8h0M228.8 908.1h0M206.3 912.8h0M100.6 1058.5h0M233.3 907.9h0M231.3 909.9h0M275.6 910.0h0M113.8 1065.4h0M242.3 909.1h0M226.6 908.0h0M232.7 911.4h0M272.1 914.1h0M282.8 914.9h0M108.2 1064.1h0M281.2 916.1h0M252.0 905.0h0M199.9 908.7h0M193.0 912.5h0M214.9 911.6h0M236.3 905.6h0M272.8 915.8h0M246.6 912.0h0M203.8 912.8h0M199.0 909.4h0M272.2 911.3h0M257.4 912.7h0M268.2 907.2h0M274.0 915.7h0M274.0 916.0h0M287.6 919.3h0M279.9 913.5h0M104.6 1062.0h0M276.8 916.6h0M272.6 913.1h0M207.8 911.5h0M276.8 913.3h0M214.5 913.3h0M276.1 912.1h0M278.1 913.7h0M215.6 911.6h0M98.0 1058.2h0M271.3 914.7h0M287.5 919.9h0M221.7 910.9h0M222.1 908.9h0M254.5 906.6h0M265.7 907.4h0M277.4 916.8h0M229.9 912.4h0M237.5 905.4h0M196.6 916.7h0M262.4 909.2h0M255.6 913.8h0M266.1 907.1h0M211.5 908.3h0M239.3 911.7h0M235.7 912.7h0M274.1 916.1h0M237.7 909.8h0M287.4 917.6h0M211.9 912.0h0M248.9 908.4h0M256.8 909.4h0M252.1 911.5h0M209.0 907.9h0M268.7 914.1h0M230.7 908.6h0M265.5 908.7h0M215.7 912.7h0M236.6 909.5h0M207.8 913.7h0M279.6 915.0h0M239.9 907.1h0M217.2 912.8h0M202.8 911.0h0M288.0 917.1h0M283.7 916.8h0M98.8 1059.5h0M273.3 907.8h0M211.9 913.1h0M261.6 909.2h0M122.0 1066.5h0M199.9 915.8h0M281.3 917.7h0M274.6 912.7h0M235.0 910.9h0M278.1 913.7h0M208.4 908.2h0M213.0 910.4h0M280.5 915.9h0M248.4 907.3h0M252.6 906.9h0M217.7 912.2h0M215.8 913.6h0M206.5 907.4h0M116.1 1064.8h0M206.5 907.2h0M210.9 913.2h0M222.0 910.1h0M262.8 913.0h0M266.7 915.1h0M216.0 910.6h0M239.4 908.7h0M223.2 913.2h0M272.5 916.0h0M206.2 911.2h0M228.5 909.7h0M218.9 913.3h0M254.8 908.4h0M287.5 917.6h0M126.7 1067.4h0M227.5 908.9h0M192.0 917.0h0M274.6 911.7h0M251.7 912.6h0M105.0 1061.5h0M272.8 915.4h0M235.8 910.3h0M283.1 918.9h0M286.0 918.3h0M285.6 915.9h0M271.0 911.7h0M218.0 910.1h0M250.2 908.3h0M221.1 910.7h0M278.5 915.5h0M206.6 910.9h0M223.9 910.6h0M276.6 910.9h0" stroke="#295682" stroke-width="4.3" stroke-linecap="round" fill="none"/><path d="M163.1 950.1h0M182.1 941.0h0M294.8 992.7h0M157.7 949.5h0M294.9 995.1h0M297.1 962.3h0M293.5 999.8h0M295.0 958.1h0M296.2 992.2h0M294.5 999.5h0M293.6 998.5h0M155.4 948.8h0M293.2 999.0h0M187.3 1045.0h0M155.9 948.0h0M293.1 956.7h0M285.8 946.8h0M194.5 1043.4h0M140.6 953.7h0M104.1 975.1h0M291.9 951.9h0M293.7 996.4h0M284.3 1010.9h0M228.3 1039.3h0M290.1 1002.5h0M213.5 1040.9h0M199.8 1043.0h0M200.6 1043.9h0M287.3 1007.9h0M185.8 939.1h0M141.8 953.4h0M293.5 996.3h0M150.3 950.1h0M191.5 1043.1h0M286.6 947.5h0M206.0 1043.0h0M294.9 957.3h0M284.9 944.9h0M291.6 949.5h0M191.4 1044.5h0M195.0 1043.1h0M139.2 955.0h0M145.8 951.1h0M224.1 1040.0h0M295.9 959.2h0M214.5 1041.4h0M292.5 956.4h0M286.1 949.5h0M287.9 1005.6h0M292.0 956.2h0M204.3 1043.5h0M202.6 1042.7h0M290.4 950.5h0M151.6 949.0h0M289.1 952.8h0M291.0 1002.0h0M193.2 1042.9h0M291.8 952.5h0M198.4 1042.8h0M288.1 1002.1h0M188.3 940.9h0M146.9 951.7h0M186.0 940.8h0M184.5 942.2h0M220.4 1040.7h0M295.0 992.2h0M102.4 1031.6h0M294.3 997.9h0M293.7 999.4h0M285.8 950.0h0M293.4 955.0h0M213.5 1041.0h0M192.3 1043.8h0M287.9 1005.5h0M290.8 1000.9h0M160.1 949.3h0M286.6 949.0h0M187.8 939.8h0M287.4 1008.4h0M216.8 1041.5h0M104.1 976.8h0M207.2 1042.8h0M204.7 1042.6h0M153.5 950.2h0M294.7 953.1h0M190.5 1044.8h0M154.0 949.3h0M217.1 1041.3h0M297.6 988.8h0M210.5 1043.1h0M292.5 1000.4h0M188.8 939.3h0M213.1 1039.9h0M294.0 1001.0h0M199.1 1042.4h0M162.7 949.8h0M142.5 953.6h0M293.6 995.8h0M192.8 937.7h0M213.8 1039.9h0M209.0 1043.2h0M196.1 1042.8h0M288.2 1005.3h0M212.1 1040.7h0M286.3 948.1h0M217.2 1042.1h0M212.8 1040.8h0M190.7 939.7h0" stroke="#166d84" stroke-width="4.3" stroke-linecap="round" fill="none"/><path d="M289.9 937.6h0M220.3 1046.4h0M144.7 947.1h0M207.9 1049.9h0M200.8 1050.9h0M181.6 1053.8h0M91.5 1021.6h0M186.8 1054.0h0M94.3 993.0h0M94.6 1023.0h0M196.6 1051.5h0M217.8 1049.8h0M292.4 937.9h0M218.6 1046.4h0M203.2 1048.8h0M215.3 1049.7h0M294.3 945.4h0M289.4 1017.9h0M206.1 1051.9h0M223.0 1047.4h0M193.8 1052.1h0M212.7 1047.4h0M187.0 931.6h0M94.2 986.4h0M214.8 1049.2h0M231.1 1045.9h0M93.9 992.6h0M93.5 1021.1h0M206.3 1050.3h0M93.4 997.6h0M184.1 1054.0h0M187.2 933.8h0M193.3 1049.9h0M94.7 984.9h0M232.6 1043.5h0M200.2 1049.8h0M229.8 1045.0h0M235.9 1045.0h0M187.2 1050.1h0M110.9 960.3h0M257.4 1038.0h0M286.5 938.8h0M171.5 1051.0h0M290.4 938.3h0M167.2 1054.5h0M245.3 1042.7h0M185.6 930.9h0M210.4 1048.5h0M196.4 1050.6h0M126.0 954.9h0M234.3 1042.4h0M234.9 1044.4h0M129.5 953.6h0M235.4 1043.6h0M288.7 1013.7h0M180.2 1053.3h0M102.6 967.7h0M279.6 1024.2h0M245.2 1039.7h0M243.4 1039.9h0M249.1 1040.1h0M267.7 1032.9h0M101.6 972.0h0M142.1 947.2h0M246.1 1038.7h0M111.1 962.6h0M277.2 1028.0h0M194.1 1049.8h0M278.7 1027.1h0M265.7 1032.8h0M278.0 1026.0h0M165.2 1054.2h0M265.5 1033.1h0M224.7 1047.8h0M281.1 1022.4h0M141.4 946.4h0M291.4 1016.6h0M210.7 1049.1h0M289.0 938.2h0M135.7 951.9h0M196.6 929.1h0M131.6 953.7h0M266.9 1033.5h0M101.8 973.4h0M195.9 931.8h0M136.0 949.7h0M244.7 1040.1h0M249.6 1040.0h0M182.1 1053.9h0M101.2 973.4h0M222.9 1046.8h0M168.8 1054.4h0M130.8 955.1h0M109.6 961.3h0M179.2 1051.0h0M161.2 1054.3h0M181.0 1052.7h0M293.8 938.6h0M188.6 930.9h0M183.9 1054.3h0M225.4 1045.9h0M114.7 957.4h0M136.0 948.6h0M281.5 1022.5h0M104.0 967.8h0M218.2 1047.4h0M247.2 1041.5h0M261.2 1036.0h0M128.2 954.3h0M172.3 1050.3h0M289.2 938.1h0M102.7 972.5h0M123.2 955.5h0M125.0 956.8h0M291.5 938.0h0M289.0 1015.1h0M116.2 957.5h0M212.1 1049.7h0M115.3 958.3h0M173.9 1049.7h0M228.7 1046.0h0M289.6 1014.2h0M190.2 1049.9h0M285.0 1018.0h0M114.3 959.2h0M185.7 1053.9h0M191.7 1051.8h0M184.4 1054.5h0M103.2 968.7h0M166.2 1052.8h0M249.8 1039.5h0M192.7 1051.0h0M188.8 932.7h0M214.5 1048.5h0M238.9 1042.7h0M115.1 958.3h0M286.8 937.5h0M217.3 1046.7h0M194.1 932.5h0M121.7 957.6h0M188.8 1050.8h0M103.1 1040.8h0M202.5 1048.4h0M194.3 930.8h0M165.1 1053.7h0M241.5 1040.8h0M251.7 1040.2h0M117.7 956.5h0M102.0 971.8h0M122.0 956.3h0M280.9 1021.2h0M136.8 950.7h0M184.7 1052.4h0M165.7 1054.4h0M248.7 1039.0h0M232.5 1044.1h0M126.5 954.5h0M103.8 1041.4h0M174.3 1050.9h0M101.2 972.9h0M101.0 970.5h0M289.8 936.6h0M137.0 947.9h0M291.3 937.9h0M209.0 1050.3h0M186.2 1050.5h0M287.6 939.6h0M257.6 1036.4h0M243.2 1041.2h0M125.4 955.1h0M294.3 942.8h0M292.8 941.8h0M212.2 1048.8h0M184.6 934.3h0M191.7 1053.7h0M189.9 1052.0h0M281.9 1020.1h0M240.5 1044.4h0M230.9 1046.2h0M290.1 941.2h0M262.6 1034.1h0M247.4 1038.4h0M289.5 1014.7h0M112.7 960.0h0M292.7 942.2h0M290.7 1014.3h0M211.6 1047.4h0M185.5 931.4h0M192.5 929.6h0M105.1 965.2h0M100.7 970.3h0M196.9 1050.8h0M280.3 1022.1h0M221.3 1049.6h0M110.5 962.8h0M291.7 937.8h0M150.5 1053.9h0M288.9 1015.5h0M281.1 1023.4h0M287.5 1016.0h0M289.4 1014.8h0M150.0 1053.7h0M289.0 935.7h0M185.2 1051.3h0M184.0 1052.9h0M103.3 1043.2h0M232.7 1042.8h0M119.7 957.2h0M176.7 1054.0h0M251.7 1037.2h0M209.3 1048.6h0M104.5 968.0h0M184.3 1050.9h0M221.5 1046.0h0M248.4 1041.7h0M169.6 1054.0h0M276.8 1026.5h0M135.4 949.5h0M121.7 956.1h0M111.8 962.1h0M241.5 1042.1h0M188.3 1053.7h0M284.6 937.7h0M208.0 1048.6h0M249.9 1039.5h0M283.9 1020.0h0M288.2 1019.0h0M197.6 1051.1h0M240.9 1044.5h0M230.7 1045.4h0M156.0 1054.0h0M196.4 930.7h0M102.8 1041.5h0M116.7 957.7h0M244.2 1041.5h0M287.1 935.3h0M138.8 948.1h0M230.1 1046.1h0M222.0 1045.9h0M285.9 1020.1h0" stroke="#1e6182" stroke-width="4.3" stroke-linecap="round" fill="none"/><path d="M294.9 948.9h0M289.5 944.9h0M296.2 1001.0h0M291.9 944.1h0M297.3 1001.1h0M94.7 1006.7h0M143.5 948.9h0M147.8 949.4h0M296.5 1001.3h0M185.3 936.4h0M293.6 950.4h0M100.0 978.4h0M296.1 950.0h0M96.0 994.9h0M292.6 944.4h0M96.4 1000.9h0M96.3 999.1h0M95.3 1009.6h0M184.9 936.4h0M185.7 937.2h0M297.0 1001.5h0M206.9 1045.0h0M196.7 1045.0h0M200.2 1045.0h0M148.1 948.0h0M208.9 1047.3h0M110.8 963.8h0M142.1 952.2h0M284.6 1015.4h0M185.8 1048.9h0M287.7 1011.5h0M180.9 1048.5h0M236.0 1039.5h0M205.7 1046.5h0M285.2 1014.9h0M188.9 1046.8h0M212.8 1045.0h0M178.3 1049.5h0M146.4 949.0h0M222.1 1044.6h0M146.8 947.2h0M182.3 1047.7h0M110.8 964.4h0M187.9 1046.4h0M227.8 1040.9h0M174.8 1049.4h0M176.3 1048.1h0M143.6 949.5h0M187.8 936.7h0M183.6 1048.3h0M229.1 1040.7h0M191.3 936.1h0M217.1 1045.1h0M183.1 1047.1h0M214.0 1045.3h0M152.6 948.1h0M139.2 954.2h0M291.3 1006.1h0M219.3 1045.0h0M148.4 948.9h0M288.8 945.8h0M229.1 1042.0h0M102.2 975.4h0M290.2 1009.2h0M190.9 1046.3h0M111.4 963.0h0M287.6 1009.9h0M231.0 1041.5h0M202.0 1047.0h0M186.9 1046.8h0M283.9 1012.4h0M291.2 1005.0h0M190.9 935.0h0M137.7 953.9h0M111.6 964.0h0M286.6 1013.2h0M185.3 1048.3h0M182.3 1049.2h0M230.9 1041.5h0M184.0 937.9h0M235.9 1040.1h0M136.9 953.8h0M183.5 1049.1h0M189.8 934.3h0M235.0 1041.5h0M182.8 939.1h0M288.7 1008.1h0M234.9 1040.0h0M185.8 937.7h0M102.5 974.1h0M214.0 1043.1h0M182.7 1046.8h0M292.7 945.4h0M286.1 941.6h0M239.3 1039.8h0M207.0 1044.0h0M193.9 935.0h0M219.5 1045.2h0M193.2 933.4h0M291.0 1005.8h0M222.0 1044.9h0M292.2 1009.2h0M234.0 1040.8h0M179.5 1048.1h0M112.1 963.2h0M293.6 1004.6h0M216.2 1042.6h0M222.1 1042.9h0M236.0 1039.7h0M205.3 1047.1h0M227.5 1040.4h0M176.7 1049.3h0M142.2 949.7h0M218.3 1045.2h0M231.2 1040.9h0M135.8 953.7h0M217.7 1044.4h0M183.1 1048.8h0M106.0 967.9h0M185.6 1046.9h0M211.7 1046.8h0M209.1 1045.4h0M293.8 947.9h0M285.6 1010.6h0M191.2 936.7h0M201.0 1047.5h0M197.0 1047.1h0M289.0 1012.5h0M188.8 1046.7h0M285.1 1012.0h0M110.3 964.0h0M197.6 1048.3h0M228.0 1042.0h0M197.1 1047.1h0M192.7 937.1h0M104.3 971.9h0M146.4 949.0h0M284.4 1013.8h0M138.7 954.6h0M182.3 1049.5h0M183.7 939.5h0M178.8 1048.7h0M287.3 1011.0h0M286.9 1014.7h0M286.0 940.5h0M293.2 1004.0h0M284.0 1014.4h0M102.7 975.1h0M198.9 1045.1h0M291.6 1007.2h0M103.2 973.2h0M144.0 951.4h0M221.4 1043.8h0M145.7 948.4h0M226.7 1041.9h0M297.5 1001.4h0M230.0 1039.8h0M178.6 1047.5h0" stroke="#1a6682" stroke-width="4.3" stroke-linecap="round" fill="none"/><path d="M289.6 963.3h0M290.9 962.3h0M293.7 974.8h0M291.9 965.6h0M293.2 978.9h0M172.8 951.2h0M294.2 978.4h0M291.9 969.0h0M292.7 985.0h0M183.2 948.3h0M178.8 949.3h0M175.0 950.6h0M158.5 956.2h0M293.8 982.0h0M288.6 988.3h0M152.4 954.8h0M293.1 978.4h0M292.2 967.6h0M289.0 963.5h0M154.1 955.9h0M287.8 957.8h0M290.9 970.2h0M286.3 994.1h0M290.9 967.3h0M164.2 954.4h0M289.9 990.1h0M288.8 963.3h0M288.2 964.5h0M289.5 968.2h0M169.8 952.2h0M158.0 955.5h0M158.2 954.2h0M287.4 962.9h0M288.6 990.3h0M288.1 991.2h0M185.0 947.0h0M186.8 946.2h0M291.6 967.5h0M159.2 955.8h0M162.6 956.3h0M286.2 995.2h0M285.8 956.7h0M153.0 956.3h0M176.5 949.9h0M156.3 956.5h0M160.6 955.0h0M171.9 952.7h0M286.4 960.3h0M187.6 947.2h0M292.3 972.3h0M154.8 955.6h0M293.5 980.6h0M178.4 948.9h0M285.8 998.0h0M288.2 959.5h0M103.5 985.6h0M153.3 955.9h0M153.8 955.5h0M290.7 986.2h0M290.7 978.8h0M289.4 989.6h0M288.5 961.4h0M180.8 949.2h0M157.8 955.5h0M286.6 997.4h0M288.9 964.0h0M185.5 947.1h0M290.5 984.9h0M292.6 969.8h0M288.5 988.3h0M187.7 945.4h0M291.8 965.2h0M102.7 987.1h0" stroke="#0e7986" stroke-width="4.3" stroke-linecap="round" fill="none"/><path d="M294.1 959.4h0M293.8 985.8h0M161.2 952.1h0M295.8 983.7h0M294.7 972.0h0M295.6 975.3h0M295.3 987.0h0M292.2 962.9h0M295.8 988.7h0M167.5 949.3h0M169.5 949.6h0M296.1 976.0h0M294.7 963.6h0M172.4 950.1h0M169.6 948.3h0M169.4 950.1h0M168.9 949.6h0M294.8 988.4h0M296.1 975.9h0M291.0 956.9h0M179.3 944.7h0M163.0 951.5h0M162.1 953.2h0M294.2 986.6h0M290.6 954.9h0M188.6 942.7h0M288.0 955.4h0M286.1 950.7h0M294.6 962.4h0M149.5 954.3h0M290.0 997.8h0M102.2 986.3h0M185.0 943.0h0M294.5 983.0h0M169.0 948.7h0M171.8 948.3h0M287.5 952.6h0M289.2 998.0h0M102.7 982.5h0M293.7 966.5h0M285.3 954.0h0M288.0 996.9h0M292.0 996.6h0M292.5 990.3h0M179.6 946.2h0M149.1 954.4h0M295.3 967.3h0M162.8 951.4h0M289.7 998.2h0M186.1 944.7h0M291.8 992.9h0M168.4 949.3h0M296.3 978.6h0M102.3 984.5h0M289.7 998.6h0M168.2 952.0h0M287.1 951.8h0M285.9 954.0h0M286.5 954.6h0M286.6 1002.2h0M291.6 990.5h0M292.2 961.3h0M287.1 1000.4h0M289.1 956.6h0M155.9 951.6h0M291.3 991.1h0M154.5 953.2h0M287.0 997.7h0M191.7 941.4h0M191.4 943.4h0M147.7 953.5h0M296.4 985.0h0M102.8 984.0h0M286.3 955.2h0M293.0 966.2h0M290.0 956.7h0M162.3 952.0h0M162.2 951.3h0M172.7 949.3h0M164.3 951.9h0M292.4 958.0h0M179.9 945.7h0M285.4 952.4h0" stroke="#127385" stroke-width="4.3" stroke-linecap="round" fill="none"/><path d="M178.7 955.7h0M184.0 953.3h0M183.5 953.7h0M103.0 1002.0h0M172.8 956.4h0M285.4 971.6h0M286.3 978.6h0M182.5 954.2h0M177.4 955.9h0M102.9 1001.5h0M102.7 1002.9h0M181.8 954.4h0M102.6 1000.0h0M183.8 951.6h0" stroke="#0d868a" stroke-width="4.3" stroke-linecap="round" fill="none"/><path d="M288.2 967.5h0M288.2 985.2h0M169.7 957.0h0M289.4 976.2h0M287.6 986.8h0M102.2 1014.8h0M288.0 982.9h0M102.1 996.5h0M287.6 972.1h0M179.7 953.1h0M287.4 981.6h0M102.8 993.0h0M286.6 969.0h0M290.6 976.1h0M102.5 996.0h0M160.1 957.5h0M102.1 998.5h0M286.9 981.1h0M287.7 985.8h0M288.1 966.6h0M183.3 951.0h0M287.4 972.1h0M179.9 950.5h0M288.6 980.8h0M102.1 1010.4h0M288.5 978.9h0M286.4 966.9h0M286.3 966.5h0M103.4 988.8h0M173.0 955.7h0M104.2 986.0h0M169.4 956.5h0M157.8 957.3h0M155.3 957.3h0M286.4 966.3h0M289.3 977.5h0M183.6 949.8h0M288.2 979.6h0M287.9 966.8h0M287.4 979.0h0M169.9 957.1h0M175.3 954.2h0M288.0 981.0h0" stroke="#0e8088" stroke-width="4.3" stroke-linecap="round" fill="none"/><path d="M179.8 956.2h0M181.7 955.1h0M178.6 956.8h0M176.8 957.1h0M181.8 956.2h0M173.8 959.7h0M179.2 957.7h0M180.0 955.9h0M104.2 1013.0h0" stroke="#148b8c" stroke-width="4.3" stroke-linecap="round" fill="none"/><path d="M91.5,1008.4 L325,961" stroke="#ff0000" stroke-width="7.2" fill="none"/><rect x="81.5" y="895.4" width="254.10000000000002" height="211.19999999999993" fill="none" stroke="#000" stroke-width="2"/><line x1="136.7" y1="1107.6" x2="136.7" y2="1116.1" stroke="#333333" stroke-width="2.6"/><text x="136.7" y="1136.1" font-size="19.5" text-anchor="middle">0.1</text><line x1="222.9" y1="1107.6" x2="222.9" y2="1116.1" stroke="#333333" stroke-width="2.6"/><text x="222.9" y="1136.1" font-size="19.5" text-anchor="middle">1</text><line x1="309.1" y1="1107.6" x2="309.1" y2="1116.1" stroke="#333333" stroke-width="2.6"/><text x="309.1" y="1136.1" font-size="19.5" text-anchor="middle">10</text><line x1="73.5" y1="1098.45" x2="80.5" y2="1098.45" stroke="#333333" stroke-width="2.6"/><text x="67.0" y="1106.25" font-size="19.5" text-anchor="end">4.5</text><line x1="73.5" y1="1049.8" x2="80.5" y2="1049.8" stroke="#333333" stroke-width="2.6"/><text x="67.0" y="1057.6" font-size="19.5" text-anchor="end">5.0</text><line x1="73.5" y1="1001.15" x2="80.5" y2="1001.15" stroke="#333333" stroke-width="2.6"/><text x="67.0" y="1008.9499999999999" font-size="19.5" text-anchor="end">5.5</text><line x1="73.5" y1="952.5" x2="80.5" y2="952.5" stroke="#333333" stroke-width="2.6"/><text x="67.0" y="960.3" font-size="19.5" text-anchor="end">6.0</text><line x1="73.5" y1="903.85" x2="80.5" y2="903.85" stroke="#333333" stroke-width="2.6"/><text x="67.0" y="911.65" font-size="19.5" text-anchor="end">6.5</text><text x="208.6" y="1166.4" font-size="19.5" text-anchor="middle">Chlorophyll, mg m<tspan font-size="13.5" dy="-9.4">−3</tspan></text><text transform="translate(24,1001) rotate(-90)" font-size="19.5" text-anchor="middle">log<tspan font-size="14" dy="4.5">10</tspan><tspan dy="-4.5">(Abundance, mL</tspan><tspan font-size="13.5" dy="-9.4">−1</tspan><tspan dy="8">)</tspan></text></g><defs><linearGradient id="lg" x1="0" y1="0" x2="0" y2="1"><stop offset="0.00" stop-color="#f4f9ab"/><stop offset="0.05" stop-color="#e6f4ac"/><stop offset="0.15" stop-color="#c6e8a6"/><stop offset="0.30" stop-color="#98d59f"/><stop offset="0.45" stop-color="#6cc19c"/><stop offset="0.55" stop-color="#4aac97"/><stop offset="0.65" stop-color="#279590"/><stop offset="0.72" stop-color="#0d878a"/><stop offset="0.78" stop-color="#0e7886"/><stop offset="0.86" stop-color="#1c6482"/><stop offset="0.93" stop-color="#275882"/><stop offset="1.00" stop-color="#2e4a7a"/></linearGradient></defs><rect x="472.2" y="959.2" width="23.9" height="137.7" fill="url(#lg)"/><line x1="472.2" y1="962.4" x2="477.2" y2="962.4" stroke="#fff" stroke-width="1.1" stroke-opacity="0.85"/><line x1="491.1" y1="962.4" x2="496.1" y2="962.4" stroke="#fff" stroke-width="1.1" stroke-opacity="0.85"/><line x1="472.2" y1="1007.5" x2="477.2" y2="1007.5" stroke="#fff" stroke-width="1.1" stroke-opacity="0.85"/><line x1="491.1" y1="1007.5" x2="496.1" y2="1007.5" stroke="#fff" stroke-width="1.1" stroke-opacity="0.85"/><line x1="472.2" y1="1053" x2="477.2" y2="1053" stroke="#fff" stroke-width="1.1" stroke-opacity="0.85"/><line x1="491.1" y1="1053" x2="496.1" y2="1053" stroke="#fff" stroke-width="1.1" stroke-opacity="0.85"/><text x="471.5" y="920.6" font-size="19.5">Number of</text><text x="471.5" y="940.1" font-size="19.5">samples</text><text x="510.5" y="970.2" font-size="19.5">&gt;240</text><text x="510.5" y="1015" font-size="19.5">160</text><text x="510.5" y="1060" font-size="19.5">80</text><text x="510.5" y="1104.6" font-size="19.5">1</text></svg></body></html>
